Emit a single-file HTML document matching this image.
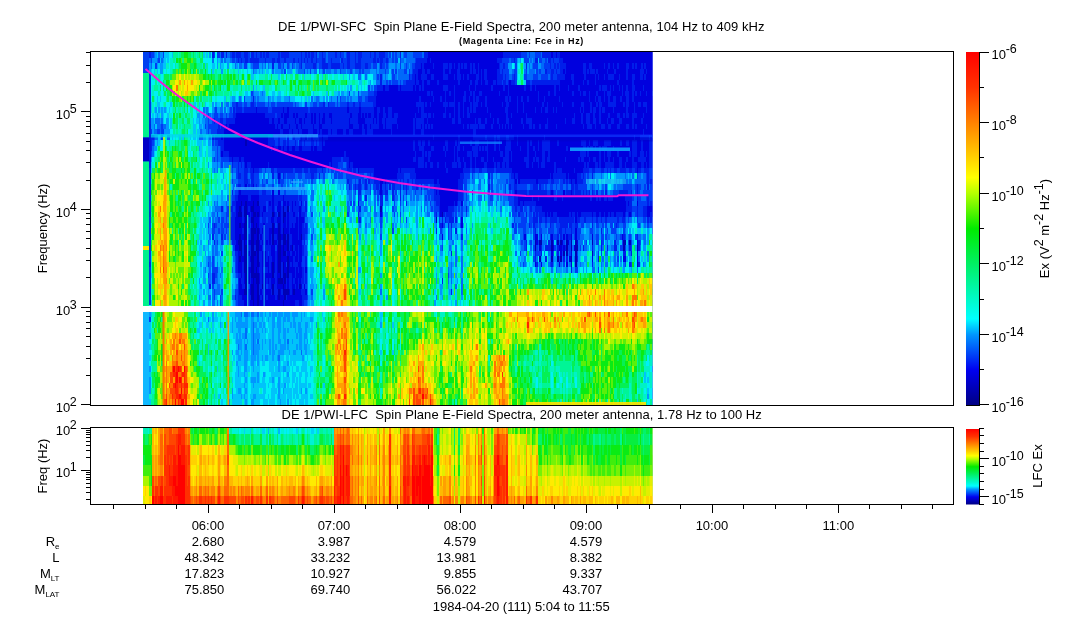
<!DOCTYPE html>
<html><head><meta charset="utf-8"><title>DE 1/PWI Spin Plane E-Field Spectra</title>
<style>html,body{margin:0;padding:0;background:#fff}svg{display:block}text{font-family:"Liberation Sans",sans-serif;fill:#000}</style></head><body>
<svg width="1083" height="620" viewBox="0 0 1083 620">
<defs>
<clipPath id="cpm"><rect x="143.0" y="52.0" width="509.5" height="353.0"/></clipPath>
<clipPath id="cpl"><rect x="143.0" y="428" width="509.5" height="76"/></clipPath>
<linearGradient id="cb" x1="0" y1="0" x2="0" y2="1"><stop offset="0" stop-color="#ff0000"/><stop offset="0.1" stop-color="#ff3200"/><stop offset="0.2" stop-color="#ff8200"/><stop offset="0.3" stop-color="#ffd200"/><stop offset="0.355" stop-color="#ffff00"/><stop offset="0.4" stop-color="#b4ff00"/><stop offset="0.5" stop-color="#00eb00"/><stop offset="0.6" stop-color="#00f064"/><stop offset="0.7" stop-color="#00fac8"/><stop offset="0.755" stop-color="#00ffff"/><stop offset="0.8" stop-color="#0096ff"/><stop offset="0.9" stop-color="#0000f0"/><stop offset="1.0" stop-color="#000082"/></linearGradient>
</defs>
<rect width="1083" height="620" fill="#fff"/>
<g clip-path="url(#cpm)" shape-rendering="crispEdges">
<rect x="143.0" y="52.0" width="509.5" height="353.0" fill="#0028e0"/>
<path fill="#0000b5" d="M237.5,212h1.5v5h-1.5M237.5,240h1.5v5h-1.5M239,206h1.5v11h-1.5M239,223h1.5v5h-1.5M239,234h1.5v17h-1.5M239,256h1.5v6h-1.5M240.5,201h1.5v5h-1.5M240.5,212h1.5v5h-1.5M240.5,240h1.5v16h-1.5M243.5,206h1.5v11h-1.5M243.5,223h1.5v50h-1.5M243.5,289h1.5v6h-1.5M245,140h1.5v6h-1.5M245,201h1.5v39h-1.5M245,245h1.5v50h-1.5M246.5,245h1.5v6h-1.5M251,206h1.5v6h-1.5M251,217h1.5v6h-1.5M251,228h1.5v50h-1.5M251,284h1.5v16h-1.5M252.5,201h1.5v105h-1.5M254,212h1.5v5h-1.5M254,228h1.5v6h-1.5M254,251h1.5v5h-1.5M254,273h1.5v5h-1.5M255.5,223h1.5v5h-1.5M255.5,240h1.5v11h-1.5M255.5,267h1.5v17h-1.5M257,201h1.5v5h-1.5M257,212h1.5v5h-1.5M257,228h1.5v39h-1.5M257,273h1.5v33h-1.5M261.5,284h1.5v5h-1.5M272,212h1.5v5h-1.5M272,223h1.5v22h-1.5M272,262h1.5v16h-1.5M272,284h1.5v11h-1.5M278,212h1.5v5h-1.5M278,223h1.5v50h-1.5M278,278h1.5v6h-1.5M278,289h1.5v11h-1.5M279.5,234h1.5v50h-1.5M281,278h1.5v6h-1.5M282.5,206h1.5v17h-1.5M282.5,228h1.5v28h-1.5M282.5,262h1.5v16h-1.5M282.5,284h1.5v11h-1.5M282.5,300h1.5v6h-1.5M284,212h1.5v5h-1.5M284,234h1.5v11h-1.5M284,251h1.5v5h-1.5M284,273h1.5v11h-1.5M284,289h1.5v11h-1.5M285.5,289h1.5v6h-1.5M287,206h1.5v6h-1.5M287,234h1.5v17h-1.5M287,256h1.5v22h-1.5M287,289h1.5v6h-1.5M291.5,245h1.5v6h-1.5M293,289h1.5v6h-1.5M299,284h1.5v5h-1.5M300.5,234h1.5v6h-1.5M380,206h1.5v6h-1.5M435.5,217h1.5v6h-1.5M441.5,212h1.5v5h-1.5M534.5,240h1.5v11h-1.5M539,240h1.5v5h-1.5M539,256h1.5v6h-1.5M540.5,240h1.5v5h-1.5M551,240h1.5v11h-1.5M551,256h1.5v6h-1.5M557,240h1.5v5h-1.5M557,256h1.5v6h-1.5M560,240h1.5v5h-1.5M560,256h1.5v6h-1.5M563,251h1.5v5h-1.5M566,240h1.5v16h-1.5M570.5,240h1.5v11h-1.5M570.5,256h1.5v6h-1.5M575,240h1.5v27h-1.5M576.5,245h1.5v6h-1.5M591.5,240h1.5v5h-1.5M591.5,251h1.5v5h-1.5M623,240h1.5v11h-1.5M624.5,240h1.5v5h-1.5M629,240h1.5v5h-1.5M636.5,245h1.5v6h-1.5M636.5,262h1.5v5h-1.5"/>
<path fill="#0000de" d="M143,135h1.5v16h-1.5M144.5,135h1.5v16h-1.5M146,135h1.5v16h-1.5M147.5,135h1.5v16h-1.5M149,135h1.5v16h-1.5M221,135h1.5v5h-1.5M221,151h1.5v6h-1.5M224,129h1.5v22h-1.5M225.5,124h1.5v27h-1.5M227,129h1.5v22h-1.5M228.5,124h1.5v33h-1.5M230,124h1.5v33h-1.5M231.5,124h1.5v38h-1.5M233,124h1.5v33h-1.5M234.5,118h1.5v39h-1.5M234.5,217h1.5v23h-1.5M234.5,245h1.5v6h-1.5M236,113h1.5v44h-1.5M236,201h1.5v50h-1.5M237.5,113h1.5v44h-1.5M237.5,195h1.5v17h-1.5M237.5,217h1.5v23h-1.5M237.5,245h1.5v28h-1.5M239,113h1.5v49h-1.5M239,190h1.5v16h-1.5M239,217h1.5v6h-1.5M239,228h1.5v6h-1.5M239,251h1.5v5h-1.5M239,262h1.5v11h-1.5M239,278h1.5v17h-1.5M240.5,113h1.5v44h-1.5M240.5,195h1.5v6h-1.5M240.5,206h1.5v6h-1.5M240.5,217h1.5v23h-1.5M240.5,256h1.5v22h-1.5M240.5,284h1.5v11h-1.5M242,113h1.5v44h-1.5M242,195h1.5v11h-1.5M242,223h1.5v5h-1.5M242,234h1.5v6h-1.5M242,256h1.5v6h-1.5M242,289h1.5v11h-1.5M243.5,113h1.5v49h-1.5M243.5,195h1.5v11h-1.5M243.5,217h1.5v6h-1.5M243.5,273h1.5v11h-1.5M243.5,295h1.5v11h-1.5M245,113h1.5v27h-1.5M245,146h1.5v22h-1.5M245,184h1.5v6h-1.5M245,195h1.5v6h-1.5M245,240h1.5v5h-1.5M245,295h1.5v16h-1.5M246.5,113h1.5v49h-1.5M246.5,195h1.5v28h-1.5M246.5,228h1.5v17h-1.5M246.5,251h1.5v60h-1.5M248,113h1.5v49h-1.5M248,201h1.5v5h-1.5M248,212h1.5v5h-1.5M248,240h1.5v5h-1.5M248,251h1.5v5h-1.5M248,267h1.5v17h-1.5M249.5,113h1.5v49h-1.5M249.5,201h1.5v11h-1.5M249.5,240h1.5v5h-1.5M249.5,256h1.5v6h-1.5M249.5,267h1.5v6h-1.5M249.5,284h1.5v11h-1.5M249.5,300h1.5v11h-1.5M251,113h1.5v55h-1.5M251,195h1.5v11h-1.5M251,212h1.5v5h-1.5M251,223h1.5v5h-1.5M251,278h1.5v6h-1.5M251,300h1.5v11h-1.5M252.5,113h1.5v60h-1.5M252.5,184h1.5v6h-1.5M252.5,195h1.5v6h-1.5M252.5,306h1.5v5h-1.5M254,113h1.5v55h-1.5M254,195h1.5v17h-1.5M254,217h1.5v11h-1.5M254,234h1.5v11h-1.5M254,256h1.5v17h-1.5M254,278h1.5v33h-1.5M255.5,107h1.5v61h-1.5M255.5,195h1.5v28h-1.5M255.5,228h1.5v12h-1.5M255.5,251h1.5v16h-1.5M255.5,284h1.5v27h-1.5M257,113h1.5v55h-1.5M257,195h1.5v6h-1.5M257,206h1.5v6h-1.5M257,217h1.5v11h-1.5M257,267h1.5v6h-1.5M257,306h1.5v5h-1.5M258.5,113h1.5v55h-1.5M258.5,206h1.5v11h-1.5M258.5,228h1.5v6h-1.5M258.5,240h1.5v11h-1.5M258.5,262h1.5v5h-1.5M258.5,273h1.5v11h-1.5M258.5,295h1.5v16h-1.5M260,113h1.5v55h-1.5M260,234h1.5v6h-1.5M260,245h1.5v6h-1.5M260,289h1.5v6h-1.5M260,300h1.5v11h-1.5M261.5,113h1.5v55h-1.5M261.5,212h1.5v5h-1.5M261.5,228h1.5v6h-1.5M261.5,240h1.5v5h-1.5M261.5,251h1.5v33h-1.5M261.5,295h1.5v16h-1.5M263,113h1.5v55h-1.5M263,206h1.5v6h-1.5M263,223h1.5v22h-1.5M263,251h1.5v16h-1.5M263,273h1.5v38h-1.5M264.5,118h1.5v50h-1.5M264.5,206h1.5v6h-1.5M264.5,251h1.5v16h-1.5M264.5,273h1.5v38h-1.5M266,118h1.5v50h-1.5M266,240h1.5v5h-1.5M266,262h1.5v5h-1.5M266,273h1.5v5h-1.5M266,289h1.5v6h-1.5M266,300h1.5v11h-1.5M267.5,118h1.5v17h-1.5M267.5,146h1.5v16h-1.5M267.5,256h1.5v28h-1.5M267.5,289h1.5v22h-1.5M269,124h1.5v11h-1.5M269,146h1.5v22h-1.5M269,201h1.5v5h-1.5M269,228h1.5v17h-1.5M269,273h1.5v5h-1.5M269,289h1.5v22h-1.5M270.5,124h1.5v11h-1.5M270.5,151h1.5v17h-1.5M270.5,217h1.5v6h-1.5M270.5,228h1.5v6h-1.5M270.5,245h1.5v11h-1.5M270.5,262h1.5v27h-1.5M270.5,295h1.5v16h-1.5M272,118h1.5v17h-1.5M272,146h1.5v22h-1.5M272,190h1.5v22h-1.5M272,217h1.5v6h-1.5M272,245h1.5v17h-1.5M272,278h1.5v6h-1.5M272,295h1.5v16h-1.5M273.5,124h1.5v11h-1.5M273.5,151h1.5v17h-1.5M273.5,212h1.5v5h-1.5M273.5,223h1.5v11h-1.5M273.5,240h1.5v33h-1.5M273.5,278h1.5v6h-1.5M273.5,295h1.5v16h-1.5M275,129h1.5v6h-1.5M275,151h1.5v17h-1.5M275,228h1.5v6h-1.5M275,240h1.5v5h-1.5M275,300h1.5v11h-1.5M276.5,124h1.5v11h-1.5M276.5,151h1.5v17h-1.5M276.5,206h1.5v6h-1.5M276.5,217h1.5v6h-1.5M276.5,228h1.5v12h-1.5M276.5,245h1.5v44h-1.5M276.5,295h1.5v16h-1.5M278,118h1.5v6h-1.5M278,129h1.5v6h-1.5M278,146h1.5v22h-1.5M278,173h1.5v6h-1.5M278,190h1.5v5h-1.5M278,201h1.5v11h-1.5M278,217h1.5v6h-1.5M278,273h1.5v5h-1.5M278,284h1.5v5h-1.5M278,300h1.5v11h-1.5M279.5,146h1.5v22h-1.5M279.5,201h1.5v33h-1.5M279.5,284h1.5v27h-1.5M281,113h1.5v5h-1.5M281,124h1.5v5h-1.5M281,151h1.5v17h-1.5M281,234h1.5v6h-1.5M281,245h1.5v17h-1.5M281,284h1.5v5h-1.5M281,295h1.5v16h-1.5M282.5,107h1.5v6h-1.5M282.5,129h1.5v6h-1.5M282.5,146h1.5v22h-1.5M282.5,195h1.5v11h-1.5M282.5,223h1.5v5h-1.5M282.5,256h1.5v6h-1.5M282.5,278h1.5v6h-1.5M282.5,295h1.5v5h-1.5M282.5,306h1.5v5h-1.5M284,113h1.5v11h-1.5M284,129h1.5v6h-1.5M284,151h1.5v17h-1.5M284,201h1.5v5h-1.5M284,217h1.5v17h-1.5M284,245h1.5v6h-1.5M284,256h1.5v17h-1.5M284,284h1.5v5h-1.5M284,300h1.5v11h-1.5M285.5,113h1.5v11h-1.5M285.5,129h1.5v6h-1.5M285.5,151h1.5v17h-1.5M285.5,228h1.5v6h-1.5M285.5,240h1.5v11h-1.5M285.5,256h1.5v6h-1.5M285.5,267h1.5v11h-1.5M285.5,300h1.5v11h-1.5M287,107h1.5v11h-1.5M287,129h1.5v6h-1.5M287,146h1.5v22h-1.5M287,201h1.5v5h-1.5M287,212h1.5v22h-1.5M287,251h1.5v5h-1.5M287,278h1.5v11h-1.5M287,295h1.5v16h-1.5M288.5,124h1.5v5h-1.5M288.5,151h1.5v17h-1.5M288.5,251h1.5v22h-1.5M288.5,289h1.5v22h-1.5M290,151h1.5v17h-1.5M290,228h1.5v6h-1.5M290,245h1.5v6h-1.5M290,256h1.5v6h-1.5M290,267h1.5v6h-1.5M290,295h1.5v16h-1.5M291.5,129h1.5v6h-1.5M291.5,146h1.5v22h-1.5M291.5,201h1.5v11h-1.5M291.5,223h1.5v22h-1.5M291.5,251h1.5v60h-1.5M293,113h1.5v5h-1.5M293,146h1.5v22h-1.5M293,212h1.5v5h-1.5M293,228h1.5v17h-1.5M293,251h1.5v5h-1.5M293,267h1.5v11h-1.5M293,284h1.5v5h-1.5M293,295h1.5v16h-1.5M294.5,118h1.5v6h-1.5M294.5,151h1.5v17h-1.5M294.5,201h1.5v5h-1.5M294.5,223h1.5v28h-1.5M294.5,256h1.5v6h-1.5M294.5,278h1.5v6h-1.5M294.5,289h1.5v11h-1.5M296,113h1.5v5h-1.5M296,124h1.5v5h-1.5M296,151h1.5v17h-1.5M296,217h1.5v45h-1.5M296,267h1.5v33h-1.5M297.5,129h1.5v6h-1.5M297.5,151h1.5v17h-1.5M297.5,240h1.5v5h-1.5M297.5,262h1.5v5h-1.5M297.5,273h1.5v5h-1.5M297.5,289h1.5v11h-1.5M299,118h1.5v6h-1.5M299,146h1.5v22h-1.5M299,206h1.5v78h-1.5M299,289h1.5v17h-1.5M300.5,118h1.5v11h-1.5M300.5,146h1.5v22h-1.5M300.5,201h1.5v5h-1.5M300.5,217h1.5v17h-1.5M300.5,240h1.5v22h-1.5M300.5,267h1.5v11h-1.5M300.5,284h1.5v5h-1.5M300.5,295h1.5v11h-1.5M302,129h1.5v6h-1.5M302,151h1.5v17h-1.5M302,217h1.5v6h-1.5M303.5,118h1.5v6h-1.5M303.5,129h1.5v6h-1.5M303.5,151h1.5v17h-1.5M303.5,284h1.5v5h-1.5M305,113h1.5v5h-1.5M305,129h1.5v6h-1.5M305,151h1.5v17h-1.5M305,267h1.5v6h-1.5M305,289h1.5v6h-1.5M306.5,129h1.5v6h-1.5M306.5,151h1.5v17h-1.5M308,151h1.5v17h-1.5M309.5,151h1.5v17h-1.5M311,113h1.5v11h-1.5M311,146h1.5v22h-1.5M312.5,124h1.5v11h-1.5M312.5,151h1.5v17h-1.5M314,113h1.5v11h-1.5M314,129h1.5v6h-1.5M314,146h1.5v22h-1.5M315.5,129h1.5v6h-1.5M315.5,146h1.5v22h-1.5M317,151h1.5v17h-1.5M318.5,113h1.5v22h-1.5M318.5,151h1.5v17h-1.5M320,124h1.5v5h-1.5M320,151h1.5v17h-1.5M321.5,118h1.5v6h-1.5M321.5,129h1.5v39h-1.5M323,113h1.5v11h-1.5M323,129h1.5v6h-1.5M323,146h1.5v22h-1.5M324.5,129h1.5v6h-1.5M324.5,140h1.5v28h-1.5M326,129h1.5v6h-1.5M326,140h1.5v28h-1.5M327.5,135h1.5v33h-1.5M329,113h1.5v5h-1.5M329,135h1.5v27h-1.5M330.5,113h1.5v11h-1.5M330.5,129h1.5v39h-1.5M332,135h1.5v22h-1.5M333.5,135h1.5v22h-1.5M335,135h1.5v22h-1.5M336.5,129h1.5v28h-1.5M338,129h1.5v28h-1.5M339.5,129h1.5v28h-1.5M341,129h1.5v28h-1.5M342.5,135h1.5v22h-1.5M344,135h1.5v16h-1.5M345.5,129h1.5v28h-1.5M347,107h1.5v6h-1.5M347,129h1.5v28h-1.5M348.5,118h1.5v11h-1.5M348.5,135h1.5v33h-1.5M350,113h1.5v5h-1.5M350,124h1.5v5h-1.5M350,135h1.5v27h-1.5M351.5,124h1.5v5h-1.5M351.5,135h1.5v27h-1.5M353,129h1.5v39h-1.5M354.5,129h1.5v39h-1.5M356,129h1.5v39h-1.5M357.5,113h1.5v11h-1.5M357.5,129h1.5v44h-1.5M357.5,201h1.5v5h-1.5M359,107h1.5v61h-1.5M360.5,118h1.5v50h-1.5M362,113h1.5v11h-1.5M362,135h1.5v33h-1.5M363.5,118h1.5v11h-1.5M363.5,135h1.5v33h-1.5M365,113h1.5v5h-1.5M365,124h1.5v44h-1.5M366.5,135h1.5v33h-1.5M368,113h1.5v5h-1.5M368,135h1.5v33h-1.5M369.5,113h1.5v5h-1.5M369.5,124h1.5v5h-1.5M369.5,135h1.5v33h-1.5M371,135h1.5v33h-1.5M372.5,118h1.5v6h-1.5M372.5,129h1.5v39h-1.5M374,107h1.5v11h-1.5M374,129h1.5v50h-1.5M375.5,96h1.5v28h-1.5M375.5,129h1.5v50h-1.5M377,91h1.5v16h-1.5M377,129h1.5v50h-1.5M378.5,91h1.5v16h-1.5M378.5,113h1.5v66h-1.5M380,91h1.5v104h-1.5M380,212h1.5v5h-1.5M381.5,91h1.5v27h-1.5M381.5,124h1.5v60h-1.5M383,85h1.5v22h-1.5M383,129h1.5v50h-1.5M384.5,91h1.5v22h-1.5M384.5,118h1.5v66h-1.5M386,91h1.5v27h-1.5M386,129h1.5v50h-1.5M387.5,91h1.5v16h-1.5M387.5,129h1.5v50h-1.5M389,85h1.5v22h-1.5M389,129h1.5v50h-1.5M390.5,85h1.5v22h-1.5M390.5,135h1.5v44h-1.5M392,85h1.5v33h-1.5M392,124h1.5v55h-1.5M393.5,85h1.5v28h-1.5M393.5,124h1.5v55h-1.5M395,85h1.5v28h-1.5M395,124h1.5v55h-1.5M396.5,85h1.5v28h-1.5M396.5,118h1.5v6h-1.5M396.5,129h1.5v44h-1.5M398,91h1.5v77h-1.5M399.5,85h1.5v88h-1.5M401,91h1.5v77h-1.5M402.5,91h1.5v77h-1.5M404,91h1.5v77h-1.5M405.5,91h1.5v77h-1.5M407,91h1.5v77h-1.5M408.5,91h1.5v77h-1.5M410,91h1.5v77h-1.5M411.5,91h1.5v77h-1.5M413,85h1.5v33h-1.5M413,135h1.5v5h-1.5M413,151h1.5v6h-1.5M413,162h1.5v6h-1.5M414.5,74h1.5v11h-1.5M414.5,91h1.5v22h-1.5M414.5,118h1.5v33h-1.5M414.5,162h1.5v11h-1.5M416,85h1.5v17h-1.5M416,107h1.5v11h-1.5M416,129h1.5v50h-1.5M417.5,69h1.5v11h-1.5M417.5,85h1.5v17h-1.5M417.5,113h1.5v5h-1.5M417.5,129h1.5v11h-1.5M417.5,146h1.5v11h-1.5M417.5,168h1.5v11h-1.5M419,69h1.5v16h-1.5M419,91h1.5v5h-1.5M419,107h1.5v11h-1.5M419,129h1.5v11h-1.5M419,151h1.5v6h-1.5M419,168h1.5v11h-1.5M420.5,63h1.5v11h-1.5M420.5,80h1.5v22h-1.5M420.5,124h1.5v5h-1.5M420.5,135h1.5v11h-1.5M420.5,151h1.5v6h-1.5M420.5,168h1.5v11h-1.5M422,91h1.5v11h-1.5M422,135h1.5v5h-1.5M422,168h1.5v11h-1.5M423.5,63h1.5v6h-1.5M423.5,80h1.5v33h-1.5M423.5,118h1.5v22h-1.5M423.5,146h1.5v33h-1.5M425,63h1.5v11h-1.5M425,80h1.5v22h-1.5M425,107h1.5v6h-1.5M425,118h1.5v6h-1.5M425,129h1.5v22h-1.5M425,157h1.5v5h-1.5M425,168h1.5v11h-1.5M426.5,58h1.5v11h-1.5M426.5,74h1.5v6h-1.5M426.5,85h1.5v6h-1.5M426.5,96h1.5v22h-1.5M426.5,124h1.5v55h-1.5M428,52h1.5v17h-1.5M428,74h1.5v6h-1.5M428,85h1.5v6h-1.5M428,96h1.5v17h-1.5M428,118h1.5v6h-1.5M428,129h1.5v11h-1.5M428,146h1.5v5h-1.5M428,162h1.5v17h-1.5M429.5,52h1.5v6h-1.5M429.5,63h1.5v39h-1.5M429.5,107h1.5v6h-1.5M429.5,118h1.5v33h-1.5M429.5,157h1.5v5h-1.5M429.5,168h1.5v11h-1.5M431,52h1.5v22h-1.5M431,80h1.5v11h-1.5M431,96h1.5v28h-1.5M431,129h1.5v17h-1.5M431,151h1.5v11h-1.5M431,168h1.5v11h-1.5M432.5,52h1.5v11h-1.5M432.5,69h1.5v5h-1.5M432.5,80h1.5v16h-1.5M432.5,102h1.5v11h-1.5M432.5,118h1.5v17h-1.5M432.5,140h1.5v6h-1.5M432.5,151h1.5v28h-1.5M434,52h1.5v132h-1.5M435.5,52h1.5v132h-1.5M435.5,190h1.5v5h-1.5M437,52h1.5v28h-1.5M437,85h1.5v77h-1.5M437,168h1.5v11h-1.5M438.5,52h1.5v132h-1.5M438.5,190h1.5v5h-1.5M440,52h1.5v44h-1.5M440,102h1.5v115h-1.5M441.5,52h1.5v160h-1.5M441.5,223h1.5v5h-1.5M441.5,234h1.5v6h-1.5M443,52h1.5v11h-1.5M443,80h1.5v5h-1.5M443,91h1.5v11h-1.5M443,107h1.5v6h-1.5M443,118h1.5v28h-1.5M443,151h1.5v61h-1.5M444.5,52h1.5v11h-1.5M444.5,69h1.5v5h-1.5M444.5,80h1.5v5h-1.5M444.5,118h1.5v22h-1.5M444.5,146h1.5v5h-1.5M444.5,157h1.5v5h-1.5M444.5,168h1.5v44h-1.5M446,52h1.5v11h-1.5M446,69h1.5v5h-1.5M446,80h1.5v5h-1.5M446,91h1.5v11h-1.5M446,107h1.5v33h-1.5M446,151h1.5v17h-1.5M446,173h1.5v39h-1.5M447.5,52h1.5v154h-1.5M449,52h1.5v11h-1.5M449,74h1.5v17h-1.5M449,96h1.5v6h-1.5M449,107h1.5v6h-1.5M449,118h1.5v88h-1.5M450.5,52h1.5v11h-1.5M450.5,69h1.5v33h-1.5M450.5,107h1.5v99h-1.5M452,52h1.5v50h-1.5M452,107h1.5v11h-1.5M452,124h1.5v38h-1.5M452,168h1.5v38h-1.5M453.5,52h1.5v11h-1.5M453.5,69h1.5v5h-1.5M453.5,80h1.5v5h-1.5M453.5,124h1.5v22h-1.5M453.5,168h1.5v33h-1.5M455,52h1.5v88h-1.5M455,146h1.5v16h-1.5M455,168h1.5v38h-1.5M456.5,52h1.5v17h-1.5M456.5,80h1.5v66h-1.5M456.5,162h1.5v39h-1.5M458,52h1.5v11h-1.5M458,85h1.5v17h-1.5M458,124h1.5v11h-1.5M458,151h1.5v6h-1.5M458,168h1.5v11h-1.5M459.5,52h1.5v22h-1.5M459.5,80h1.5v38h-1.5M459.5,124h1.5v38h-1.5M459.5,168h1.5v5h-1.5M461,52h1.5v11h-1.5M461,69h1.5v104h-1.5M461,201h1.5v5h-1.5M461,217h1.5v11h-1.5M462.5,52h1.5v22h-1.5M462.5,80h1.5v16h-1.5M462.5,118h1.5v6h-1.5M462.5,129h1.5v17h-1.5M462.5,151h1.5v6h-1.5M462.5,162h1.5v6h-1.5M464,52h1.5v11h-1.5M464,69h1.5v22h-1.5M464,102h1.5v60h-1.5M465.5,52h1.5v11h-1.5M465.5,69h1.5v99h-1.5M467,52h1.5v22h-1.5M467,80h1.5v27h-1.5M467,118h1.5v6h-1.5M467,129h1.5v22h-1.5M467,157h1.5v11h-1.5M468.5,52h1.5v33h-1.5M468.5,91h1.5v5h-1.5M468.5,102h1.5v11h-1.5M468.5,118h1.5v33h-1.5M468.5,157h1.5v11h-1.5M470,52h1.5v11h-1.5M470,74h1.5v6h-1.5M470,85h1.5v6h-1.5M470,96h1.5v6h-1.5M470,113h1.5v11h-1.5M470,129h1.5v11h-1.5M470,146h1.5v5h-1.5M471.5,52h1.5v72h-1.5M471.5,129h1.5v17h-1.5M471.5,151h1.5v17h-1.5M473,52h1.5v11h-1.5M473,74h1.5v17h-1.5M473,113h1.5v11h-1.5M473,140h1.5v6h-1.5M473,157h1.5v11h-1.5M474.5,52h1.5v17h-1.5M474.5,74h1.5v6h-1.5M474.5,91h1.5v11h-1.5M474.5,113h1.5v5h-1.5M476,52h1.5v22h-1.5M476,85h1.5v11h-1.5M476,107h1.5v17h-1.5M476,129h1.5v6h-1.5M476,157h1.5v11h-1.5M477.5,52h1.5v11h-1.5M477.5,80h1.5v16h-1.5M477.5,102h1.5v16h-1.5M477.5,124h1.5v11h-1.5M477.5,146h1.5v22h-1.5M479,52h1.5v39h-1.5M479,96h1.5v22h-1.5M479,129h1.5v6h-1.5M479,140h1.5v6h-1.5M479,151h1.5v17h-1.5M480.5,52h1.5v17h-1.5M480.5,85h1.5v6h-1.5M480.5,96h1.5v6h-1.5M480.5,107h1.5v17h-1.5M480.5,129h1.5v6h-1.5M480.5,140h1.5v17h-1.5M480.5,162h1.5v6h-1.5M482,52h1.5v72h-1.5M482,129h1.5v6h-1.5M482,140h1.5v6h-1.5M482,151h1.5v6h-1.5M482,162h1.5v6h-1.5M483.5,52h1.5v17h-1.5M483.5,80h1.5v44h-1.5M483.5,129h1.5v6h-1.5M483.5,140h1.5v22h-1.5M485,52h1.5v17h-1.5M485,85h1.5v11h-1.5M485,107h1.5v11h-1.5M485,124h1.5v11h-1.5M485,140h1.5v6h-1.5M485,151h1.5v11h-1.5M486.5,52h1.5v28h-1.5M486.5,85h1.5v22h-1.5M486.5,113h1.5v22h-1.5M486.5,162h1.5v6h-1.5M488,52h1.5v83h-1.5M488,140h1.5v28h-1.5M489.5,52h1.5v61h-1.5M489.5,118h1.5v17h-1.5M489.5,140h1.5v28h-1.5M491,52h1.5v33h-1.5M491,91h1.5v33h-1.5M491,129h1.5v6h-1.5M491,140h1.5v28h-1.5M492.5,52h1.5v28h-1.5M492.5,85h1.5v33h-1.5M492.5,124h1.5v11h-1.5M492.5,140h1.5v17h-1.5M492.5,162h1.5v6h-1.5M494,52h1.5v28h-1.5M494,85h1.5v50h-1.5M494,151h1.5v11h-1.5M495.5,52h1.5v83h-1.5M495.5,140h1.5v28h-1.5M497,52h1.5v6h-1.5M497,63h1.5v6h-1.5M497,85h1.5v33h-1.5M497,124h1.5v11h-1.5M497,140h1.5v22h-1.5M498.5,52h1.5v6h-1.5M498.5,85h1.5v6h-1.5M498.5,96h1.5v28h-1.5M498.5,129h1.5v6h-1.5M498.5,151h1.5v11h-1.5M500,52h1.5v6h-1.5M500,85h1.5v50h-1.5M500,140h1.5v11h-1.5M500,157h1.5v11h-1.5M501.5,52h1.5v6h-1.5M501.5,85h1.5v17h-1.5M501.5,107h1.5v17h-1.5M501.5,129h1.5v6h-1.5M501.5,140h1.5v11h-1.5M501.5,157h1.5v5h-1.5M503,91h1.5v44h-1.5M503,140h1.5v17h-1.5M504.5,85h1.5v11h-1.5M504.5,102h1.5v5h-1.5M504.5,113h1.5v11h-1.5M504.5,129h1.5v6h-1.5M504.5,140h1.5v6h-1.5M504.5,162h1.5v6h-1.5M506,85h1.5v11h-1.5M506,124h1.5v11h-1.5M507.5,96h1.5v6h-1.5M507.5,107h1.5v11h-1.5M507.5,129h1.5v6h-1.5M509,80h1.5v16h-1.5M509,102h1.5v33h-1.5M509,151h1.5v17h-1.5M510.5,85h1.5v28h-1.5M510.5,118h1.5v6h-1.5M510.5,129h1.5v6h-1.5M510.5,140h1.5v11h-1.5M510.5,162h1.5v6h-1.5M512,85h1.5v50h-1.5M512,140h1.5v33h-1.5M513.5,85h1.5v94h-1.5M515,85h1.5v88h-1.5M515,179h1.5v5h-1.5M515,190h1.5v5h-1.5M516.5,85h1.5v11h-1.5M516.5,113h1.5v22h-1.5M516.5,146h1.5v27h-1.5M518,85h1.5v99h-1.5M518,195h1.5v11h-1.5M519.5,85h1.5v61h-1.5M519.5,151h1.5v28h-1.5M519.5,195h1.5v6h-1.5M521,85h1.5v11h-1.5M521,102h1.5v16h-1.5M521,124h1.5v55h-1.5M521,195h1.5v6h-1.5M522.5,85h1.5v17h-1.5M522.5,113h1.5v11h-1.5M522.5,129h1.5v50h-1.5M522.5,195h1.5v11h-1.5M524,91h1.5v66h-1.5M524,162h1.5v17h-1.5M524,195h1.5v6h-1.5M524,234h1.5v6h-1.5M525.5,85h1.5v28h-1.5M525.5,124h1.5v33h-1.5M525.5,168h1.5v11h-1.5M525.5,195h1.5v6h-1.5M527,85h1.5v11h-1.5M527,102h1.5v16h-1.5M527,124h1.5v16h-1.5M527,168h1.5v11h-1.5M527,195h1.5v6h-1.5M528.5,85h1.5v33h-1.5M528.5,129h1.5v50h-1.5M528.5,195h1.5v6h-1.5M530,91h1.5v27h-1.5M530,129h1.5v11h-1.5M530,146h1.5v33h-1.5M530,195h1.5v6h-1.5M531.5,85h1.5v77h-1.5M531.5,168h1.5v11h-1.5M533,85h1.5v39h-1.5M533,129h1.5v17h-1.5M533,151h1.5v6h-1.5M533,162h1.5v17h-1.5M533,195h1.5v6h-1.5M534.5,91h1.5v16h-1.5M534.5,113h1.5v38h-1.5M534.5,157h1.5v22h-1.5M534.5,195h1.5v6h-1.5M534.5,234h1.5v6h-1.5M534.5,262h1.5v5h-1.5M536,85h1.5v72h-1.5M536,162h1.5v22h-1.5M536,195h1.5v11h-1.5M536,234h1.5v11h-1.5M537.5,85h1.5v6h-1.5M537.5,102h1.5v38h-1.5M537.5,151h1.5v6h-1.5M537.5,168h1.5v11h-1.5M537.5,201h1.5v5h-1.5M539,85h1.5v39h-1.5M539,129h1.5v50h-1.5M539,195h1.5v11h-1.5M539,245h1.5v6h-1.5M540.5,85h1.5v22h-1.5M540.5,113h1.5v49h-1.5M540.5,168h1.5v11h-1.5M540.5,195h1.5v11h-1.5M540.5,234h1.5v6h-1.5M540.5,262h1.5v5h-1.5M542,85h1.5v17h-1.5M542,107h1.5v33h-1.5M542,168h1.5v11h-1.5M542,195h1.5v17h-1.5M543.5,85h1.5v11h-1.5M543.5,102h1.5v33h-1.5M543.5,168h1.5v11h-1.5M543.5,195h1.5v17h-1.5M545,85h1.5v22h-1.5M545,113h1.5v11h-1.5M545,129h1.5v11h-1.5M545,151h1.5v28h-1.5M545,195h1.5v22h-1.5M546.5,85h1.5v17h-1.5M546.5,113h1.5v5h-1.5M546.5,129h1.5v11h-1.5M546.5,151h1.5v6h-1.5M546.5,162h1.5v17h-1.5M546.5,195h1.5v17h-1.5M548,85h1.5v6h-1.5M548,96h1.5v44h-1.5M548,162h1.5v17h-1.5M548,195h1.5v22h-1.5M549.5,85h1.5v88h-1.5M549.5,195h1.5v17h-1.5M551,52h1.5v6h-1.5M551,85h1.5v94h-1.5M551,190h1.5v27h-1.5M551,234h1.5v6h-1.5M551,251h1.5v5h-1.5M552.5,85h1.5v22h-1.5M552.5,113h1.5v60h-1.5M552.5,195h1.5v17h-1.5M552.5,245h1.5v6h-1.5M554,96h1.5v66h-1.5M554,201h1.5v11h-1.5M555.5,52h1.5v6h-1.5M555.5,85h1.5v22h-1.5M555.5,113h1.5v11h-1.5M555.5,129h1.5v44h-1.5M555.5,201h1.5v11h-1.5M557,85h1.5v55h-1.5M557,146h1.5v22h-1.5M557,195h1.5v22h-1.5M558.5,91h1.5v5h-1.5M558.5,102h1.5v66h-1.5M558.5,195h1.5v22h-1.5M558.5,245h1.5v6h-1.5M558.5,262h1.5v5h-1.5M560,52h1.5v6h-1.5M560,80h1.5v88h-1.5M560,195h1.5v22h-1.5M560,245h1.5v11h-1.5M561.5,52h1.5v6h-1.5M561.5,80h1.5v22h-1.5M561.5,107h1.5v66h-1.5M561.5,201h1.5v16h-1.5M561.5,240h1.5v5h-1.5M563,52h1.5v11h-1.5M563,69h1.5v5h-1.5M563,80h1.5v93h-1.5M563,190h1.5v27h-1.5M563,234h1.5v6h-1.5M563,245h1.5v6h-1.5M564.5,52h1.5v11h-1.5M564.5,74h1.5v44h-1.5M564.5,124h1.5v33h-1.5M564.5,162h1.5v11h-1.5M564.5,195h1.5v22h-1.5M566,52h1.5v94h-1.5M566,151h1.5v28h-1.5M566,195h1.5v22h-1.5M566,234h1.5v6h-1.5M566,262h1.5v5h-1.5M567.5,52h1.5v33h-1.5M567.5,91h1.5v82h-1.5M567.5,195h1.5v22h-1.5M567.5,240h1.5v5h-1.5M569,52h1.5v127h-1.5M569,195h1.5v17h-1.5M569,256h1.5v6h-1.5M570.5,52h1.5v22h-1.5M570.5,80h1.5v104h-1.5M570.5,190h1.5v27h-1.5M570.5,234h1.5v6h-1.5M570.5,251h1.5v5h-1.5M570.5,262h1.5v5h-1.5M572,52h1.5v22h-1.5M572,85h1.5v6h-1.5M572,96h1.5v6h-1.5M572,107h1.5v11h-1.5M572,124h1.5v55h-1.5M572,195h1.5v17h-1.5M573.5,52h1.5v61h-1.5M573.5,124h1.5v44h-1.5M573.5,173h1.5v6h-1.5M573.5,195h1.5v17h-1.5M573.5,245h1.5v6h-1.5M575,52h1.5v132h-1.5M575,195h1.5v28h-1.5M575,228h1.5v12h-1.5M576.5,52h1.5v121h-1.5M576.5,195h1.5v17h-1.5M576.5,240h1.5v5h-1.5M578,52h1.5v33h-1.5M578,91h1.5v66h-1.5M578,162h1.5v11h-1.5M578,195h1.5v22h-1.5M579.5,52h1.5v39h-1.5M579.5,96h1.5v11h-1.5M579.5,113h1.5v38h-1.5M579.5,157h1.5v16h-1.5M579.5,195h1.5v22h-1.5M581,52h1.5v50h-1.5M581,107h1.5v6h-1.5M581,124h1.5v16h-1.5M581,146h1.5v5h-1.5M581,162h1.5v11h-1.5M581,195h1.5v17h-1.5M582.5,52h1.5v11h-1.5M582.5,74h1.5v6h-1.5M582.5,85h1.5v6h-1.5M582.5,96h1.5v6h-1.5M582.5,113h1.5v11h-1.5M582.5,129h1.5v11h-1.5M582.5,162h1.5v6h-1.5M582.5,195h1.5v17h-1.5M584,52h1.5v11h-1.5M584,80h1.5v11h-1.5M584,96h1.5v44h-1.5M584,157h1.5v5h-1.5M584,195h1.5v17h-1.5M585.5,52h1.5v61h-1.5M585.5,124h1.5v44h-1.5M585.5,195h1.5v17h-1.5M587,52h1.5v17h-1.5M587,74h1.5v6h-1.5M587,85h1.5v28h-1.5M587,129h1.5v17h-1.5M587,157h1.5v5h-1.5M587,195h1.5v17h-1.5M588.5,52h1.5v11h-1.5M588.5,69h1.5v22h-1.5M588.5,102h1.5v11h-1.5M588.5,129h1.5v11h-1.5M588.5,146h1.5v11h-1.5M588.5,162h1.5v6h-1.5M588.5,195h1.5v17h-1.5M590,52h1.5v11h-1.5M590,74h1.5v28h-1.5M590,113h1.5v11h-1.5M590,129h1.5v17h-1.5M590,151h1.5v17h-1.5M590,201h1.5v11h-1.5M591.5,52h1.5v17h-1.5M591.5,74h1.5v72h-1.5M591.5,151h1.5v17h-1.5M591.5,195h1.5v22h-1.5M591.5,234h1.5v6h-1.5M591.5,256h1.5v6h-1.5M593,52h1.5v17h-1.5M593,74h1.5v33h-1.5M593,124h1.5v16h-1.5M593,146h1.5v11h-1.5M593,162h1.5v6h-1.5M593,195h1.5v17h-1.5M594.5,52h1.5v22h-1.5M594.5,85h1.5v11h-1.5M594.5,102h1.5v5h-1.5M594.5,113h1.5v5h-1.5M594.5,129h1.5v11h-1.5M594.5,151h1.5v6h-1.5M594.5,195h1.5v17h-1.5M596,52h1.5v17h-1.5M596,74h1.5v17h-1.5M596,96h1.5v6h-1.5M596,107h1.5v33h-1.5M596,146h1.5v16h-1.5M596,201h1.5v16h-1.5M597.5,52h1.5v22h-1.5M597.5,80h1.5v16h-1.5M597.5,102h1.5v66h-1.5M597.5,195h1.5v22h-1.5M599,52h1.5v33h-1.5M599,91h1.5v5h-1.5M599,124h1.5v22h-1.5M599,201h1.5v11h-1.5M600.5,52h1.5v50h-1.5M600.5,107h1.5v17h-1.5M600.5,129h1.5v39h-1.5M600.5,195h1.5v22h-1.5M602,52h1.5v33h-1.5M602,91h1.5v16h-1.5M602,113h1.5v11h-1.5M602,129h1.5v17h-1.5M602,151h1.5v17h-1.5M602,195h1.5v22h-1.5M603.5,52h1.5v11h-1.5M603.5,69h1.5v5h-1.5M603.5,80h1.5v5h-1.5M603.5,102h1.5v5h-1.5M603.5,113h1.5v11h-1.5M603.5,129h1.5v11h-1.5M603.5,162h1.5v6h-1.5M603.5,201h1.5v11h-1.5M605,52h1.5v33h-1.5M605,91h1.5v49h-1.5M605,151h1.5v11h-1.5M605,201h1.5v16h-1.5M606.5,52h1.5v17h-1.5M606.5,74h1.5v17h-1.5M606.5,96h1.5v22h-1.5M606.5,124h1.5v16h-1.5M606.5,146h1.5v5h-1.5M606.5,157h1.5v5h-1.5M606.5,195h1.5v22h-1.5M608,52h1.5v11h-1.5M608,69h1.5v5h-1.5M608,80h1.5v11h-1.5M608,107h1.5v6h-1.5M608,118h1.5v6h-1.5M608,129h1.5v11h-1.5M608,146h1.5v5h-1.5M608,201h1.5v11h-1.5M609.5,52h1.5v22h-1.5M609.5,80h1.5v5h-1.5M609.5,96h1.5v6h-1.5M609.5,107h1.5v17h-1.5M609.5,129h1.5v11h-1.5M609.5,146h1.5v5h-1.5M609.5,157h1.5v5h-1.5M609.5,201h1.5v16h-1.5M611,52h1.5v22h-1.5M611,80h1.5v22h-1.5M611,107h1.5v11h-1.5M611,124h1.5v38h-1.5M611,201h1.5v11h-1.5M612.5,52h1.5v11h-1.5M612.5,69h1.5v5h-1.5M612.5,80h1.5v5h-1.5M612.5,91h1.5v5h-1.5M612.5,113h1.5v5h-1.5M612.5,124h1.5v22h-1.5M612.5,151h1.5v6h-1.5M612.5,195h1.5v17h-1.5M614,52h1.5v17h-1.5M614,74h1.5v22h-1.5M614,107h1.5v61h-1.5M614,195h1.5v22h-1.5M615.5,52h1.5v116h-1.5M615.5,195h1.5v17h-1.5M617,52h1.5v11h-1.5M617,69h1.5v11h-1.5M617,85h1.5v28h-1.5M617,118h1.5v6h-1.5M617,129h1.5v22h-1.5M617,157h1.5v11h-1.5M617,195h1.5v17h-1.5M618.5,52h1.5v22h-1.5M618.5,80h1.5v5h-1.5M618.5,91h1.5v22h-1.5M618.5,129h1.5v28h-1.5M618.5,195h1.5v17h-1.5M620,52h1.5v44h-1.5M620,102h1.5v16h-1.5M620,124h1.5v16h-1.5M620,146h1.5v11h-1.5M620,195h1.5v17h-1.5M621.5,52h1.5v33h-1.5M621.5,96h1.5v72h-1.5M621.5,195h1.5v17h-1.5M621.5,234h1.5v6h-1.5M623,52h1.5v50h-1.5M623,107h1.5v6h-1.5M623,118h1.5v50h-1.5M623,195h1.5v22h-1.5M623,256h1.5v6h-1.5M624.5,52h1.5v39h-1.5M624.5,96h1.5v66h-1.5M624.5,201h1.5v11h-1.5M624.5,256h1.5v6h-1.5M626,52h1.5v11h-1.5M626,80h1.5v5h-1.5M626,118h1.5v6h-1.5M626,129h1.5v11h-1.5M626,146h1.5v11h-1.5M626,162h1.5v6h-1.5M627.5,52h1.5v11h-1.5M627.5,69h1.5v22h-1.5M627.5,107h1.5v6h-1.5M627.5,118h1.5v6h-1.5M627.5,129h1.5v11h-1.5M627.5,146h1.5v22h-1.5M627.5,201h1.5v5h-1.5M629,52h1.5v99h-1.5M629,157h1.5v11h-1.5M629,212h1.5v5h-1.5M630.5,52h1.5v116h-1.5M632,52h1.5v11h-1.5M632,69h1.5v5h-1.5M632,102h1.5v11h-1.5M632,129h1.5v11h-1.5M633.5,52h1.5v22h-1.5M633.5,80h1.5v5h-1.5M633.5,91h1.5v11h-1.5M633.5,118h1.5v17h-1.5M633.5,157h1.5v5h-1.5M635,52h1.5v11h-1.5M635,69h1.5v22h-1.5M635,96h1.5v17h-1.5M635,118h1.5v6h-1.5M635,129h1.5v11h-1.5M635,157h1.5v5h-1.5M636.5,52h1.5v121h-1.5M636.5,201h1.5v5h-1.5M636.5,240h1.5v5h-1.5M636.5,251h1.5v11h-1.5M638,52h1.5v50h-1.5M638,107h1.5v50h-1.5M638,162h1.5v6h-1.5M639.5,52h1.5v17h-1.5M639.5,80h1.5v11h-1.5M639.5,96h1.5v6h-1.5M639.5,107h1.5v28h-1.5M639.5,140h1.5v11h-1.5M639.5,162h1.5v6h-1.5M641,52h1.5v11h-1.5M641,80h1.5v38h-1.5M641,124h1.5v11h-1.5M642.5,52h1.5v17h-1.5M642.5,74h1.5v11h-1.5M642.5,91h1.5v11h-1.5M642.5,107h1.5v6h-1.5M642.5,118h1.5v11h-1.5M642.5,140h1.5v11h-1.5M644,52h1.5v11h-1.5M644,69h1.5v5h-1.5M644,80h1.5v22h-1.5M644,107h1.5v28h-1.5M644,140h1.5v17h-1.5M644,162h1.5v6h-1.5M645.5,52h1.5v17h-1.5M645.5,74h1.5v17h-1.5M645.5,96h1.5v6h-1.5M645.5,113h1.5v11h-1.5M645.5,129h1.5v6h-1.5M645.5,140h1.5v11h-1.5M645.5,157h1.5v5h-1.5M647,52h1.5v83h-1.5M647,140h1.5v28h-1.5M647,206h1.5v11h-1.5M648.5,52h1.5v83h-1.5M648.5,206h1.5v11h-1.5M650,52h1.5v83h-1.5M650,206h1.5v6h-1.5M651.5,52h1v39h-1M651.5,96h1v39h-1M651.5,206h1v11h-1"/>
<path fill="#001eea" d="M143,151h1.5v6h-1.5M144.5,151h1.5v6h-1.5M146,151h1.5v6h-1.5M147.5,151h1.5v6h-1.5M149,52h1.5v6h-1.5M149,151h1.5v11h-1.5M150.5,135h1.5v16h-1.5M152,135h1.5v5h-1.5M209,284h1.5v5h-1.5M212,52h1.5v6h-1.5M212,135h1.5v5h-1.5M212,234h1.5v6h-1.5M212,273h1.5v11h-1.5M212,306h1.5v5h-1.5M213.5,118h1.5v6h-1.5M213.5,223h1.5v5h-1.5M213.5,240h1.5v5h-1.5M213.5,273h1.5v11h-1.5M215,135h1.5v5h-1.5M216.5,129h1.5v11h-1.5M218,124h1.5v22h-1.5M219.5,118h1.5v6h-1.5M219.5,129h1.5v17h-1.5M221,52h1.5v6h-1.5M221,118h1.5v17h-1.5M221,140h1.5v11h-1.5M221,206h1.5v6h-1.5M221,234h1.5v6h-1.5M222.5,52h1.5v6h-1.5M222.5,124h1.5v33h-1.5M224,124h1.5v5h-1.5M224,151h1.5v6h-1.5M225.5,52h1.5v6h-1.5M225.5,118h1.5v6h-1.5M225.5,151h1.5v6h-1.5M227,118h1.5v11h-1.5M227,151h1.5v6h-1.5M228.5,118h1.5v6h-1.5M228.5,157h1.5v5h-1.5M228.5,223h1.5v5h-1.5M230,118h1.5v6h-1.5M230,157h1.5v5h-1.5M230,206h1.5v6h-1.5M230,217h1.5v23h-1.5M231.5,52h1.5v6h-1.5M231.5,118h1.5v6h-1.5M231.5,162h1.5v6h-1.5M231.5,190h1.5v5h-1.5M231.5,201h1.5v44h-1.5M233,52h1.5v6h-1.5M233,107h1.5v17h-1.5M233,157h1.5v5h-1.5M233,201h1.5v5h-1.5M233,212h1.5v33h-1.5M234.5,113h1.5v5h-1.5M234.5,157h1.5v5h-1.5M234.5,195h1.5v22h-1.5M234.5,240h1.5v5h-1.5M234.5,251h1.5v5h-1.5M234.5,295h1.5v5h-1.5M236,52h1.5v6h-1.5M236,102h1.5v11h-1.5M236,157h1.5v5h-1.5M236,195h1.5v6h-1.5M236,251h1.5v22h-1.5M237.5,52h1.5v11h-1.5M237.5,107h1.5v6h-1.5M237.5,157h1.5v22h-1.5M237.5,184h1.5v11h-1.5M237.5,273h1.5v33h-1.5M239,52h1.5v6h-1.5M239,107h1.5v6h-1.5M239,173h1.5v6h-1.5M239,184h1.5v6h-1.5M239,273h1.5v5h-1.5M239,295h1.5v16h-1.5M240.5,58h1.5v5h-1.5M240.5,107h1.5v6h-1.5M240.5,157h1.5v11h-1.5M240.5,190h1.5v5h-1.5M240.5,278h1.5v6h-1.5M240.5,295h1.5v16h-1.5M242,157h1.5v5h-1.5M242,190h1.5v5h-1.5M242,206h1.5v17h-1.5M242,228h1.5v6h-1.5M242,240h1.5v16h-1.5M242,262h1.5v27h-1.5M242,300h1.5v11h-1.5M243.5,52h1.5v6h-1.5M243.5,107h1.5v6h-1.5M243.5,162h1.5v33h-1.5M243.5,284h1.5v5h-1.5M243.5,306h1.5v5h-1.5M245,52h1.5v11h-1.5M245,107h1.5v6h-1.5M245,168h1.5v16h-1.5M245,190h1.5v5h-1.5M246.5,52h1.5v11h-1.5M246.5,107h1.5v6h-1.5M246.5,162h1.5v11h-1.5M246.5,179h1.5v5h-1.5M246.5,190h1.5v5h-1.5M246.5,223h1.5v5h-1.5M248,107h1.5v6h-1.5M248,162h1.5v6h-1.5M248,184h1.5v17h-1.5M248,206h1.5v6h-1.5M248,217h1.5v11h-1.5M248,234h1.5v6h-1.5M248,245h1.5v6h-1.5M248,256h1.5v11h-1.5M248,289h1.5v22h-1.5M249.5,58h1.5v5h-1.5M249.5,107h1.5v6h-1.5M249.5,162h1.5v11h-1.5M249.5,190h1.5v11h-1.5M249.5,212h1.5v11h-1.5M249.5,228h1.5v12h-1.5M249.5,245h1.5v11h-1.5M249.5,262h1.5v5h-1.5M249.5,273h1.5v11h-1.5M249.5,295h1.5v5h-1.5M251,52h1.5v11h-1.5M251,102h1.5v11h-1.5M251,168h1.5v27h-1.5M252.5,52h1.5v11h-1.5M252.5,96h1.5v17h-1.5M252.5,173h1.5v11h-1.5M252.5,190h1.5v5h-1.5M254,58h1.5v5h-1.5M254,107h1.5v6h-1.5M254,168h1.5v5h-1.5M254,190h1.5v5h-1.5M254,245h1.5v6h-1.5M255.5,52h1.5v11h-1.5M255.5,168h1.5v5h-1.5M255.5,184h1.5v11h-1.5M257,58h1.5v5h-1.5M257,107h1.5v6h-1.5M257,168h1.5v5h-1.5M257,190h1.5v5h-1.5M258.5,107h1.5v6h-1.5M258.5,195h1.5v11h-1.5M258.5,217h1.5v11h-1.5M258.5,234h1.5v6h-1.5M258.5,251h1.5v11h-1.5M258.5,267h1.5v6h-1.5M258.5,284h1.5v11h-1.5M260,52h1.5v6h-1.5M260,107h1.5v6h-1.5M260,195h1.5v22h-1.5M260,223h1.5v11h-1.5M260,240h1.5v5h-1.5M260,251h1.5v38h-1.5M260,295h1.5v5h-1.5M261.5,107h1.5v6h-1.5M261.5,190h1.5v22h-1.5M261.5,217h1.5v11h-1.5M261.5,234h1.5v6h-1.5M261.5,245h1.5v6h-1.5M261.5,289h1.5v6h-1.5M263,52h1.5v6h-1.5M263,107h1.5v6h-1.5M263,190h1.5v16h-1.5M263,212h1.5v11h-1.5M263,245h1.5v6h-1.5M263,267h1.5v6h-1.5M264.5,58h1.5v5h-1.5M264.5,107h1.5v11h-1.5M264.5,190h1.5v16h-1.5M264.5,212h1.5v39h-1.5M264.5,267h1.5v6h-1.5M266,52h1.5v6h-1.5M266,107h1.5v11h-1.5M266,195h1.5v6h-1.5M266,212h1.5v5h-1.5M266,223h1.5v17h-1.5M266,245h1.5v17h-1.5M266,267h1.5v6h-1.5M266,278h1.5v6h-1.5M266,295h1.5v5h-1.5M267.5,52h1.5v6h-1.5M267.5,113h1.5v5h-1.5M267.5,135h1.5v11h-1.5M267.5,162h1.5v6h-1.5M267.5,195h1.5v56h-1.5M267.5,284h1.5v5h-1.5M269,113h1.5v11h-1.5M269,135h1.5v11h-1.5M269,195h1.5v6h-1.5M269,206h1.5v22h-1.5M269,245h1.5v28h-1.5M269,278h1.5v11h-1.5M270.5,113h1.5v11h-1.5M270.5,135h1.5v16h-1.5M270.5,168h1.5v5h-1.5M270.5,195h1.5v22h-1.5M270.5,223h1.5v5h-1.5M270.5,234h1.5v11h-1.5M270.5,256h1.5v6h-1.5M270.5,289h1.5v6h-1.5M272,58h1.5v11h-1.5M272,107h1.5v11h-1.5M272,135h1.5v11h-1.5M272,168h1.5v11h-1.5M273.5,58h1.5v5h-1.5M273.5,107h1.5v17h-1.5M273.5,140h1.5v11h-1.5M273.5,195h1.5v17h-1.5M273.5,217h1.5v6h-1.5M273.5,234h1.5v6h-1.5M273.5,273h1.5v5h-1.5M273.5,284h1.5v11h-1.5M275,107h1.5v6h-1.5M275,118h1.5v11h-1.5M275,146h1.5v5h-1.5M275,195h1.5v11h-1.5M275,212h1.5v11h-1.5M275,234h1.5v6h-1.5M275,251h1.5v49h-1.5M276.5,58h1.5v5h-1.5M276.5,107h1.5v17h-1.5M276.5,146h1.5v5h-1.5M276.5,168h1.5v5h-1.5M276.5,195h1.5v11h-1.5M276.5,223h1.5v5h-1.5M276.5,240h1.5v5h-1.5M276.5,289h1.5v6h-1.5M278,52h1.5v11h-1.5M278,107h1.5v11h-1.5M278,124h1.5v5h-1.5M278,135h1.5v11h-1.5M278,168h1.5v5h-1.5M278,179h1.5v5h-1.5M278,195h1.5v6h-1.5M279.5,107h1.5v28h-1.5M279.5,168h1.5v11h-1.5M279.5,195h1.5v6h-1.5M281,52h1.5v6h-1.5M281,107h1.5v6h-1.5M281,118h1.5v6h-1.5M281,129h1.5v6h-1.5M281,146h1.5v5h-1.5M281,168h1.5v5h-1.5M281,195h1.5v6h-1.5M281,206h1.5v28h-1.5M281,240h1.5v5h-1.5M281,262h1.5v16h-1.5M281,289h1.5v6h-1.5M282.5,52h1.5v6h-1.5M282.5,113h1.5v16h-1.5M282.5,140h1.5v6h-1.5M282.5,168h1.5v11h-1.5M284,52h1.5v11h-1.5M284,107h1.5v6h-1.5M284,124h1.5v5h-1.5M284,140h1.5v11h-1.5M284,168h1.5v5h-1.5M284,195h1.5v6h-1.5M284,206h1.5v6h-1.5M285.5,52h1.5v6h-1.5M285.5,107h1.5v6h-1.5M285.5,124h1.5v5h-1.5M285.5,146h1.5v5h-1.5M285.5,168h1.5v5h-1.5M285.5,195h1.5v33h-1.5M285.5,234h1.5v6h-1.5M285.5,251h1.5v5h-1.5M285.5,278h1.5v11h-1.5M285.5,295h1.5v5h-1.5M287,52h1.5v6h-1.5M287,118h1.5v11h-1.5M287,135h1.5v11h-1.5M287,168h1.5v5h-1.5M287,195h1.5v6h-1.5M288.5,107h1.5v17h-1.5M288.5,129h1.5v6h-1.5M288.5,146h1.5v5h-1.5M288.5,168h1.5v5h-1.5M288.5,195h1.5v11h-1.5M288.5,212h1.5v39h-1.5M288.5,273h1.5v16h-1.5M290,107h1.5v28h-1.5M290,146h1.5v5h-1.5M290,168h1.5v5h-1.5M290,195h1.5v33h-1.5M290,234h1.5v11h-1.5M290,251h1.5v5h-1.5M290,262h1.5v5h-1.5M290,273h1.5v22h-1.5M291.5,107h1.5v22h-1.5M291.5,168h1.5v5h-1.5M291.5,195h1.5v6h-1.5M291.5,212h1.5v11h-1.5M293,58h1.5v5h-1.5M293,107h1.5v6h-1.5M293,118h1.5v22h-1.5M293,195h1.5v17h-1.5M293,217h1.5v11h-1.5M293,245h1.5v6h-1.5M293,256h1.5v11h-1.5M293,278h1.5v6h-1.5M294.5,107h1.5v11h-1.5M294.5,124h1.5v11h-1.5M294.5,140h1.5v11h-1.5M294.5,168h1.5v5h-1.5M294.5,195h1.5v6h-1.5M294.5,206h1.5v17h-1.5M294.5,251h1.5v5h-1.5M294.5,262h1.5v16h-1.5M294.5,284h1.5v5h-1.5M294.5,300h1.5v11h-1.5M296,107h1.5v6h-1.5M296,118h1.5v6h-1.5M296,129h1.5v6h-1.5M296,146h1.5v5h-1.5M296,168h1.5v5h-1.5M296,195h1.5v22h-1.5M296,262h1.5v5h-1.5M296,300h1.5v11h-1.5M297.5,58h1.5v5h-1.5M297.5,107h1.5v22h-1.5M297.5,146h1.5v5h-1.5M297.5,168h1.5v5h-1.5M297.5,201h1.5v11h-1.5M297.5,217h1.5v23h-1.5M297.5,245h1.5v17h-1.5M297.5,267h1.5v6h-1.5M297.5,278h1.5v11h-1.5M297.5,300h1.5v11h-1.5M299,107h1.5v11h-1.5M299,124h1.5v11h-1.5M299,140h1.5v6h-1.5M299,168h1.5v5h-1.5M299,195h1.5v6h-1.5M299,306h1.5v5h-1.5M300.5,52h1.5v17h-1.5M300.5,107h1.5v11h-1.5M300.5,129h1.5v17h-1.5M300.5,168h1.5v5h-1.5M300.5,195h1.5v6h-1.5M300.5,206h1.5v11h-1.5M300.5,262h1.5v5h-1.5M300.5,278h1.5v6h-1.5M300.5,289h1.5v6h-1.5M300.5,306h1.5v5h-1.5M302,107h1.5v22h-1.5M302,146h1.5v5h-1.5M302,212h1.5v5h-1.5M302,223h1.5v17h-1.5M302,245h1.5v11h-1.5M302,267h1.5v17h-1.5M302,289h1.5v17h-1.5M303.5,58h1.5v5h-1.5M303.5,107h1.5v11h-1.5M303.5,124h1.5v5h-1.5M303.5,140h1.5v11h-1.5M303.5,168h1.5v5h-1.5M303.5,212h1.5v11h-1.5M303.5,228h1.5v17h-1.5M303.5,289h1.5v11h-1.5M305,52h1.5v6h-1.5M305,107h1.5v6h-1.5M305,118h1.5v11h-1.5M305,135h1.5v5h-1.5M305,146h1.5v5h-1.5M305,168h1.5v5h-1.5M305,201h1.5v11h-1.5M305,223h1.5v11h-1.5M305,256h1.5v11h-1.5M305,273h1.5v11h-1.5M305,295h1.5v5h-1.5M306.5,58h1.5v5h-1.5M306.5,107h1.5v22h-1.5M306.5,146h1.5v5h-1.5M306.5,168h1.5v5h-1.5M308,52h1.5v6h-1.5M308,113h1.5v22h-1.5M308,146h1.5v5h-1.5M309.5,107h1.5v28h-1.5M309.5,146h1.5v5h-1.5M309.5,168h1.5v5h-1.5M311,52h1.5v11h-1.5M311,107h1.5v6h-1.5M311,124h1.5v22h-1.5M311,168h1.5v11h-1.5M312.5,52h1.5v6h-1.5M312.5,63h1.5v6h-1.5M312.5,107h1.5v17h-1.5M312.5,140h1.5v11h-1.5M312.5,168h1.5v11h-1.5M314,63h1.5v6h-1.5M314,107h1.5v6h-1.5M314,124h1.5v5h-1.5M314,168h1.5v5h-1.5M315.5,52h1.5v11h-1.5M315.5,107h1.5v22h-1.5M315.5,140h1.5v6h-1.5M315.5,168h1.5v5h-1.5M317,107h1.5v28h-1.5M317,146h1.5v5h-1.5M318.5,107h1.5v6h-1.5M318.5,135h1.5v16h-1.5M318.5,173h1.5v6h-1.5M320,107h1.5v17h-1.5M320,129h1.5v22h-1.5M321.5,52h1.5v17h-1.5M321.5,107h1.5v11h-1.5M321.5,124h1.5v5h-1.5M321.5,168h1.5v5h-1.5M323,58h1.5v11h-1.5M323,102h1.5v11h-1.5M323,124h1.5v5h-1.5M323,135h1.5v11h-1.5M324.5,63h1.5v6h-1.5M324.5,107h1.5v22h-1.5M324.5,135h1.5v5h-1.5M326,63h1.5v6h-1.5M326,107h1.5v22h-1.5M326,135h1.5v5h-1.5M327.5,102h1.5v33h-1.5M329,107h1.5v6h-1.5M329,118h1.5v17h-1.5M329,162h1.5v6h-1.5M330.5,58h1.5v11h-1.5M330.5,107h1.5v6h-1.5M330.5,124h1.5v5h-1.5M332,63h1.5v6h-1.5M332,107h1.5v28h-1.5M332,157h1.5v11h-1.5M333.5,63h1.5v6h-1.5M333.5,107h1.5v28h-1.5M333.5,157h1.5v11h-1.5M335,52h1.5v6h-1.5M335,63h1.5v6h-1.5M335,107h1.5v28h-1.5M335,157h1.5v11h-1.5M336.5,63h1.5v6h-1.5M336.5,107h1.5v22h-1.5M336.5,157h1.5v11h-1.5M338,63h1.5v6h-1.5M338,107h1.5v22h-1.5M338,157h1.5v5h-1.5M339.5,52h1.5v6h-1.5M339.5,107h1.5v22h-1.5M339.5,157h1.5v5h-1.5M341,58h1.5v5h-1.5M341,107h1.5v22h-1.5M342.5,63h1.5v6h-1.5M342.5,107h1.5v28h-1.5M342.5,157h1.5v5h-1.5M344,107h1.5v28h-1.5M344,151h1.5v11h-1.5M345.5,107h1.5v22h-1.5M345.5,157h1.5v5h-1.5M347,52h1.5v17h-1.5M347,102h1.5v5h-1.5M347,113h1.5v16h-1.5M347,157h1.5v16h-1.5M347,179h1.5v5h-1.5M348.5,52h1.5v17h-1.5M348.5,107h1.5v11h-1.5M348.5,129h1.5v6h-1.5M348.5,168h1.5v5h-1.5M348.5,184h1.5v6h-1.5M350,107h1.5v6h-1.5M350,118h1.5v6h-1.5M350,129h1.5v6h-1.5M350,162h1.5v11h-1.5M351.5,107h1.5v17h-1.5M351.5,129h1.5v6h-1.5M351.5,162h1.5v6h-1.5M353,102h1.5v27h-1.5M353,168h1.5v5h-1.5M354.5,52h1.5v17h-1.5M354.5,107h1.5v22h-1.5M354.5,168h1.5v5h-1.5M354.5,184h1.5v6h-1.5M356,63h1.5v6h-1.5M356,107h1.5v22h-1.5M357.5,52h1.5v17h-1.5M357.5,107h1.5v6h-1.5M357.5,124h1.5v5h-1.5M357.5,184h1.5v17h-1.5M357.5,212h1.5v5h-1.5M359,52h1.5v17h-1.5M359,102h1.5v5h-1.5M359,168h1.5v5h-1.5M359,179h1.5v16h-1.5M359,206h1.5v6h-1.5M359,217h1.5v6h-1.5M360.5,52h1.5v6h-1.5M360.5,107h1.5v11h-1.5M360.5,168h1.5v5h-1.5M362,107h1.5v6h-1.5M362,124h1.5v11h-1.5M362,168h1.5v5h-1.5M363.5,107h1.5v11h-1.5M363.5,129h1.5v6h-1.5M363.5,168h1.5v5h-1.5M365,63h1.5v6h-1.5M365,107h1.5v6h-1.5M365,118h1.5v6h-1.5M365,168h1.5v5h-1.5M365,179h1.5v11h-1.5M365,195h1.5v6h-1.5M366.5,63h1.5v6h-1.5M366.5,107h1.5v28h-1.5M366.5,168h1.5v5h-1.5M368,96h1.5v6h-1.5M368,107h1.5v6h-1.5M368,118h1.5v17h-1.5M368,168h1.5v5h-1.5M368,179h1.5v5h-1.5M369.5,52h1.5v6h-1.5M369.5,96h1.5v6h-1.5M369.5,107h1.5v6h-1.5M369.5,118h1.5v6h-1.5M369.5,129h1.5v6h-1.5M369.5,168h1.5v11h-1.5M371,96h1.5v6h-1.5M371,107h1.5v28h-1.5M371,168h1.5v5h-1.5M372.5,58h1.5v5h-1.5M372.5,96h1.5v22h-1.5M372.5,124h1.5v5h-1.5M372.5,168h1.5v11h-1.5M374,52h1.5v11h-1.5M374,91h1.5v16h-1.5M374,118h1.5v11h-1.5M374,179h1.5v5h-1.5M375.5,91h1.5v5h-1.5M375.5,124h1.5v5h-1.5M375.5,179h1.5v11h-1.5M377,58h1.5v5h-1.5M377,85h1.5v6h-1.5M377,107h1.5v22h-1.5M377,179h1.5v11h-1.5M378.5,52h1.5v6h-1.5M378.5,85h1.5v6h-1.5M378.5,107h1.5v6h-1.5M378.5,179h1.5v5h-1.5M378.5,190h1.5v5h-1.5M380,52h1.5v17h-1.5M380,74h1.5v17h-1.5M380,195h1.5v11h-1.5M381.5,52h1.5v11h-1.5M381.5,85h1.5v6h-1.5M381.5,118h1.5v6h-1.5M381.5,190h1.5v16h-1.5M383,52h1.5v6h-1.5M383,107h1.5v22h-1.5M383,179h1.5v5h-1.5M384.5,85h1.5v6h-1.5M384.5,113h1.5v5h-1.5M384.5,184h1.5v11h-1.5M386,58h1.5v5h-1.5M386,85h1.5v6h-1.5M386,118h1.5v11h-1.5M386,179h1.5v5h-1.5M386,190h1.5v5h-1.5M387.5,85h1.5v6h-1.5M387.5,107h1.5v22h-1.5M387.5,179h1.5v5h-1.5M389,107h1.5v22h-1.5M389,179h1.5v11h-1.5M390.5,107h1.5v28h-1.5M390.5,179h1.5v5h-1.5M392,118h1.5v6h-1.5M392,179h1.5v22h-1.5M393.5,113h1.5v11h-1.5M393.5,179h1.5v11h-1.5M395,113h1.5v11h-1.5M395,179h1.5v5h-1.5M396.5,113h1.5v5h-1.5M396.5,124h1.5v5h-1.5M396.5,173h1.5v11h-1.5M398,85h1.5v6h-1.5M398,168h1.5v11h-1.5M399.5,52h1.5v6h-1.5M399.5,173h1.5v28h-1.5M401,85h1.5v6h-1.5M401,168h1.5v11h-1.5M402.5,85h1.5v6h-1.5M402.5,168h1.5v22h-1.5M404,85h1.5v6h-1.5M404,168h1.5v5h-1.5M405.5,80h1.5v11h-1.5M405.5,168h1.5v5h-1.5M405.5,184h1.5v11h-1.5M405.5,201h1.5v5h-1.5M407,80h1.5v11h-1.5M407,168h1.5v5h-1.5M407,179h1.5v5h-1.5M408.5,74h1.5v17h-1.5M408.5,168h1.5v5h-1.5M410,80h1.5v11h-1.5M410,168h1.5v11h-1.5M411.5,74h1.5v17h-1.5M411.5,168h1.5v16h-1.5M413,69h1.5v16h-1.5M413,118h1.5v17h-1.5M413,140h1.5v11h-1.5M413,157h1.5v5h-1.5M413,168h1.5v11h-1.5M414.5,63h1.5v11h-1.5M414.5,85h1.5v6h-1.5M414.5,113h1.5v5h-1.5M414.5,151h1.5v11h-1.5M414.5,173h1.5v11h-1.5M416,58h1.5v27h-1.5M416,102h1.5v5h-1.5M416,118h1.5v11h-1.5M416,179h1.5v11h-1.5M417.5,58h1.5v11h-1.5M417.5,80h1.5v5h-1.5M417.5,102h1.5v11h-1.5M417.5,118h1.5v11h-1.5M417.5,140h1.5v6h-1.5M417.5,157h1.5v11h-1.5M417.5,179h1.5v5h-1.5M419,58h1.5v11h-1.5M419,85h1.5v6h-1.5M419,96h1.5v11h-1.5M419,118h1.5v11h-1.5M419,140h1.5v11h-1.5M419,157h1.5v11h-1.5M419,179h1.5v5h-1.5M420.5,58h1.5v5h-1.5M420.5,74h1.5v6h-1.5M420.5,102h1.5v22h-1.5M420.5,129h1.5v6h-1.5M420.5,146h1.5v5h-1.5M420.5,157h1.5v11h-1.5M420.5,179h1.5v11h-1.5M422,58h1.5v33h-1.5M422,102h1.5v33h-1.5M422,140h1.5v28h-1.5M422,179h1.5v5h-1.5M423.5,52h1.5v11h-1.5M423.5,69h1.5v11h-1.5M423.5,113h1.5v5h-1.5M423.5,140h1.5v6h-1.5M423.5,179h1.5v5h-1.5M425,52h1.5v11h-1.5M425,74h1.5v6h-1.5M425,102h1.5v5h-1.5M425,113h1.5v5h-1.5M425,124h1.5v5h-1.5M425,151h1.5v6h-1.5M425,162h1.5v6h-1.5M425,179h1.5v5h-1.5M426.5,52h1.5v6h-1.5M426.5,69h1.5v5h-1.5M426.5,80h1.5v5h-1.5M426.5,91h1.5v5h-1.5M426.5,118h1.5v6h-1.5M426.5,179h1.5v5h-1.5M428,69h1.5v5h-1.5M428,80h1.5v5h-1.5M428,91h1.5v5h-1.5M428,113h1.5v5h-1.5M428,124h1.5v5h-1.5M428,140h1.5v6h-1.5M428,151h1.5v11h-1.5M428,179h1.5v5h-1.5M429.5,58h1.5v5h-1.5M429.5,102h1.5v5h-1.5M429.5,113h1.5v5h-1.5M429.5,151h1.5v6h-1.5M429.5,162h1.5v6h-1.5M429.5,179h1.5v5h-1.5M431,74h1.5v6h-1.5M431,91h1.5v5h-1.5M431,124h1.5v5h-1.5M431,146h1.5v5h-1.5M431,162h1.5v6h-1.5M431,179h1.5v5h-1.5M432.5,63h1.5v6h-1.5M432.5,74h1.5v6h-1.5M432.5,96h1.5v6h-1.5M432.5,113h1.5v5h-1.5M432.5,135h1.5v5h-1.5M432.5,146h1.5v5h-1.5M432.5,179h1.5v5h-1.5M434,184h1.5v17h-1.5M435.5,184h1.5v6h-1.5M435.5,195h1.5v11h-1.5M435.5,212h1.5v5h-1.5M435.5,228h1.5v6h-1.5M437,80h1.5v5h-1.5M437,162h1.5v6h-1.5M437,179h1.5v27h-1.5M438.5,184h1.5v6h-1.5M438.5,195h1.5v22h-1.5M440,96h1.5v6h-1.5M440,223h1.5v5h-1.5M441.5,217h1.5v6h-1.5M441.5,278h1.5v6h-1.5M443,63h1.5v17h-1.5M443,85h1.5v6h-1.5M443,102h1.5v5h-1.5M443,113h1.5v5h-1.5M443,146h1.5v5h-1.5M443,212h1.5v5h-1.5M444.5,63h1.5v6h-1.5M444.5,74h1.5v6h-1.5M444.5,85h1.5v33h-1.5M444.5,140h1.5v6h-1.5M444.5,151h1.5v6h-1.5M444.5,162h1.5v6h-1.5M444.5,217h1.5v6h-1.5M446,63h1.5v6h-1.5M446,74h1.5v6h-1.5M446,85h1.5v6h-1.5M446,102h1.5v5h-1.5M446,140h1.5v11h-1.5M446,168h1.5v5h-1.5M446,212h1.5v5h-1.5M447.5,206h1.5v11h-1.5M447.5,223h1.5v5h-1.5M449,63h1.5v11h-1.5M449,91h1.5v5h-1.5M449,102h1.5v5h-1.5M449,113h1.5v5h-1.5M449,206h1.5v17h-1.5M450.5,63h1.5v6h-1.5M450.5,102h1.5v5h-1.5M450.5,206h1.5v22h-1.5M450.5,251h1.5v5h-1.5M450.5,289h1.5v6h-1.5M452,102h1.5v5h-1.5M452,118h1.5v6h-1.5M452,162h1.5v6h-1.5M452,206h1.5v6h-1.5M452,217h1.5v6h-1.5M453.5,63h1.5v6h-1.5M453.5,74h1.5v6h-1.5M453.5,85h1.5v39h-1.5M453.5,146h1.5v22h-1.5M453.5,201h1.5v5h-1.5M455,140h1.5v6h-1.5M455,162h1.5v6h-1.5M455,217h1.5v6h-1.5M455,228h1.5v6h-1.5M456.5,69h1.5v11h-1.5M456.5,146h1.5v16h-1.5M456.5,201h1.5v5h-1.5M458,63h1.5v22h-1.5M458,102h1.5v22h-1.5M458,135h1.5v16h-1.5M458,157h1.5v11h-1.5M458,179h1.5v22h-1.5M459.5,74h1.5v6h-1.5M459.5,118h1.5v6h-1.5M459.5,162h1.5v6h-1.5M459.5,173h1.5v28h-1.5M461,63h1.5v6h-1.5M461,173h1.5v28h-1.5M461,234h1.5v6h-1.5M462.5,74h1.5v6h-1.5M462.5,96h1.5v22h-1.5M462.5,124h1.5v5h-1.5M462.5,146h1.5v5h-1.5M462.5,157h1.5v5h-1.5M462.5,168h1.5v11h-1.5M464,63h1.5v6h-1.5M464,91h1.5v11h-1.5M464,162h1.5v11h-1.5M465.5,63h1.5v6h-1.5M465.5,168h1.5v5h-1.5M465.5,206h1.5v6h-1.5M467,74h1.5v6h-1.5M467,107h1.5v11h-1.5M467,124h1.5v5h-1.5M467,151h1.5v6h-1.5M467,168h1.5v5h-1.5M468.5,85h1.5v6h-1.5M468.5,96h1.5v6h-1.5M468.5,113h1.5v5h-1.5M468.5,151h1.5v6h-1.5M468.5,168h1.5v5h-1.5M470,63h1.5v11h-1.5M470,80h1.5v5h-1.5M470,91h1.5v5h-1.5M470,102h1.5v11h-1.5M470,124h1.5v5h-1.5M470,140h1.5v6h-1.5M470,151h1.5v17h-1.5M471.5,124h1.5v5h-1.5M471.5,146h1.5v5h-1.5M471.5,168h1.5v5h-1.5M473,63h1.5v11h-1.5M473,91h1.5v22h-1.5M473,124h1.5v16h-1.5M473,146h1.5v11h-1.5M473,168h1.5v5h-1.5M474.5,69h1.5v5h-1.5M474.5,80h1.5v11h-1.5M474.5,102h1.5v11h-1.5M474.5,118h1.5v50h-1.5M476,74h1.5v11h-1.5M476,96h1.5v11h-1.5M476,124h1.5v5h-1.5M476,135h1.5v22h-1.5M477.5,63h1.5v17h-1.5M477.5,96h1.5v6h-1.5M477.5,118h1.5v6h-1.5M477.5,135h1.5v11h-1.5M479,91h1.5v5h-1.5M479,118h1.5v11h-1.5M479,135h1.5v5h-1.5M479,146h1.5v5h-1.5M479,168h1.5v5h-1.5M480.5,69h1.5v16h-1.5M480.5,91h1.5v5h-1.5M480.5,102h1.5v5h-1.5M480.5,124h1.5v5h-1.5M480.5,135h1.5v5h-1.5M480.5,157h1.5v5h-1.5M480.5,168h1.5v5h-1.5M482,124h1.5v5h-1.5M482,135h1.5v5h-1.5M482,146h1.5v5h-1.5M482,157h1.5v5h-1.5M483.5,69h1.5v11h-1.5M483.5,124h1.5v5h-1.5M483.5,135h1.5v5h-1.5M483.5,162h1.5v6h-1.5M485,69h1.5v16h-1.5M485,96h1.5v11h-1.5M485,118h1.5v6h-1.5M485,146h1.5v5h-1.5M485,162h1.5v6h-1.5M486.5,80h1.5v5h-1.5M486.5,107h1.5v6h-1.5M486.5,135h1.5v27h-1.5M486.5,168h1.5v5h-1.5M488,135h1.5v5h-1.5M488,168h1.5v11h-1.5M488,184h1.5v6h-1.5M489.5,113h1.5v5h-1.5M489.5,135h1.5v5h-1.5M489.5,168h1.5v5h-1.5M491,85h1.5v6h-1.5M491,124h1.5v5h-1.5M491,135h1.5v5h-1.5M491,168h1.5v5h-1.5M492.5,80h1.5v5h-1.5M492.5,118h1.5v6h-1.5M492.5,135h1.5v5h-1.5M492.5,157h1.5v5h-1.5M492.5,168h1.5v5h-1.5M494,80h1.5v5h-1.5M494,140h1.5v11h-1.5M494,162h1.5v6h-1.5M495.5,135h1.5v5h-1.5M495.5,168h1.5v5h-1.5M497,58h1.5v5h-1.5M497,69h1.5v16h-1.5M497,118h1.5v6h-1.5M497,162h1.5v11h-1.5M498.5,58h1.5v27h-1.5M498.5,91h1.5v5h-1.5M498.5,124h1.5v5h-1.5M498.5,140h1.5v11h-1.5M498.5,162h1.5v11h-1.5M500,58h1.5v5h-1.5M500,74h1.5v11h-1.5M500,135h1.5v5h-1.5M500,151h1.5v6h-1.5M500,168h1.5v5h-1.5M501.5,69h1.5v11h-1.5M501.5,102h1.5v5h-1.5M501.5,124h1.5v5h-1.5M501.5,135h1.5v5h-1.5M501.5,151h1.5v6h-1.5M501.5,162h1.5v11h-1.5M503,52h1.5v6h-1.5M503,63h1.5v6h-1.5M503,80h1.5v11h-1.5M503,135h1.5v5h-1.5M503,157h1.5v16h-1.5M504.5,52h1.5v6h-1.5M504.5,74h1.5v11h-1.5M504.5,96h1.5v6h-1.5M504.5,107h1.5v6h-1.5M504.5,124h1.5v5h-1.5M504.5,135h1.5v5h-1.5M504.5,146h1.5v16h-1.5M504.5,168h1.5v5h-1.5M506,52h1.5v6h-1.5M506,96h1.5v28h-1.5M506,140h1.5v33h-1.5M507.5,52h1.5v6h-1.5M507.5,80h1.5v16h-1.5M507.5,102h1.5v5h-1.5M507.5,118h1.5v11h-1.5M507.5,140h1.5v33h-1.5M509,52h1.5v6h-1.5M509,96h1.5v6h-1.5M509,135h1.5v16h-1.5M509,168h1.5v5h-1.5M509,184h1.5v6h-1.5M510.5,52h1.5v6h-1.5M510.5,80h1.5v5h-1.5M510.5,113h1.5v5h-1.5M510.5,124h1.5v5h-1.5M510.5,135h1.5v5h-1.5M510.5,151h1.5v11h-1.5M510.5,168h1.5v11h-1.5M512,52h1.5v6h-1.5M512,80h1.5v5h-1.5M512,135h1.5v5h-1.5M512,173h1.5v6h-1.5M512,223h1.5v5h-1.5M513.5,52h1.5v11h-1.5M513.5,74h1.5v11h-1.5M513.5,179h1.5v27h-1.5M515,52h1.5v6h-1.5M515,173h1.5v6h-1.5M515,184h1.5v6h-1.5M515,195h1.5v17h-1.5M516.5,52h1.5v6h-1.5M516.5,96h1.5v17h-1.5M516.5,135h1.5v11h-1.5M516.5,173h1.5v6h-1.5M516.5,190h1.5v16h-1.5M518,52h1.5v6h-1.5M518,190h1.5v5h-1.5M518,212h1.5v5h-1.5M519.5,52h1.5v6h-1.5M519.5,146h1.5v5h-1.5M519.5,179h1.5v5h-1.5M519.5,190h1.5v5h-1.5M519.5,201h1.5v11h-1.5M521,96h1.5v6h-1.5M521,118h1.5v6h-1.5M521,179h1.5v5h-1.5M521,190h1.5v5h-1.5M521,201h1.5v11h-1.5M522.5,102h1.5v11h-1.5M522.5,124h1.5v5h-1.5M522.5,179h1.5v5h-1.5M522.5,190h1.5v5h-1.5M524,85h1.5v6h-1.5M524,157h1.5v5h-1.5M524,179h1.5v5h-1.5M524,190h1.5v5h-1.5M524,201h1.5v5h-1.5M525.5,63h1.5v6h-1.5M525.5,80h1.5v5h-1.5M525.5,113h1.5v11h-1.5M525.5,157h1.5v11h-1.5M525.5,179h1.5v5h-1.5M525.5,190h1.5v5h-1.5M525.5,201h1.5v5h-1.5M525.5,212h1.5v5h-1.5M525.5,240h1.5v11h-1.5M527,80h1.5v5h-1.5M527,96h1.5v6h-1.5M527,118h1.5v6h-1.5M527,140h1.5v28h-1.5M527,179h1.5v5h-1.5M527,201h1.5v5h-1.5M528.5,80h1.5v5h-1.5M528.5,118h1.5v11h-1.5M528.5,179h1.5v5h-1.5M528.5,190h1.5v5h-1.5M528.5,201h1.5v5h-1.5M528.5,223h1.5v5h-1.5M530,85h1.5v6h-1.5M530,118h1.5v11h-1.5M530,140h1.5v6h-1.5M530,179h1.5v5h-1.5M530,190h1.5v5h-1.5M530,201h1.5v11h-1.5M531.5,80h1.5v5h-1.5M531.5,162h1.5v6h-1.5M531.5,179h1.5v5h-1.5M531.5,190h1.5v16h-1.5M533,80h1.5v5h-1.5M533,124h1.5v5h-1.5M533,146h1.5v5h-1.5M533,157h1.5v5h-1.5M533,179h1.5v16h-1.5M533,201h1.5v5h-1.5M533,212h1.5v16h-1.5M534.5,58h1.5v5h-1.5M534.5,80h1.5v11h-1.5M534.5,107h1.5v6h-1.5M534.5,151h1.5v6h-1.5M534.5,179h1.5v16h-1.5M534.5,201h1.5v11h-1.5M534.5,217h1.5v6h-1.5M534.5,228h1.5v6h-1.5M534.5,251h1.5v11h-1.5M536,58h1.5v5h-1.5M536,80h1.5v5h-1.5M536,157h1.5v5h-1.5M536,184h1.5v11h-1.5M536,206h1.5v17h-1.5M536,262h1.5v5h-1.5M537.5,80h1.5v5h-1.5M537.5,91h1.5v11h-1.5M537.5,140h1.5v11h-1.5M537.5,157h1.5v11h-1.5M537.5,179h1.5v5h-1.5M537.5,190h1.5v11h-1.5M537.5,206h1.5v6h-1.5M539,80h1.5v5h-1.5M539,124h1.5v5h-1.5M539,179h1.5v16h-1.5M539,206h1.5v17h-1.5M540.5,80h1.5v5h-1.5M540.5,107h1.5v6h-1.5M540.5,162h1.5v6h-1.5M540.5,179h1.5v5h-1.5M540.5,190h1.5v5h-1.5M540.5,206h1.5v17h-1.5M540.5,245h1.5v11h-1.5M542,52h1.5v6h-1.5M542,80h1.5v5h-1.5M542,102h1.5v5h-1.5M542,140h1.5v28h-1.5M542,179h1.5v5h-1.5M542,190h1.5v5h-1.5M542,212h1.5v5h-1.5M543.5,52h1.5v6h-1.5M543.5,80h1.5v5h-1.5M543.5,96h1.5v6h-1.5M543.5,135h1.5v33h-1.5M543.5,179h1.5v5h-1.5M543.5,190h1.5v5h-1.5M543.5,212h1.5v5h-1.5M545,52h1.5v6h-1.5M545,69h1.5v5h-1.5M545,80h1.5v5h-1.5M545,107h1.5v6h-1.5M545,124h1.5v5h-1.5M545,140h1.5v11h-1.5M545,179h1.5v5h-1.5M545,190h1.5v5h-1.5M545,217h1.5v6h-1.5M545,245h1.5v6h-1.5M545,256h1.5v6h-1.5M546.5,52h1.5v6h-1.5M546.5,80h1.5v5h-1.5M546.5,102h1.5v11h-1.5M546.5,118h1.5v11h-1.5M546.5,140h1.5v11h-1.5M546.5,157h1.5v5h-1.5M546.5,179h1.5v5h-1.5M546.5,212h1.5v5h-1.5M546.5,245h1.5v6h-1.5M548,52h1.5v11h-1.5M548,80h1.5v5h-1.5M548,91h1.5v5h-1.5M548,140h1.5v22h-1.5M548,240h1.5v11h-1.5M549.5,52h1.5v17h-1.5M549.5,80h1.5v5h-1.5M549.5,173h1.5v6h-1.5M549.5,190h1.5v5h-1.5M549.5,212h1.5v16h-1.5M549.5,234h1.5v6h-1.5M549.5,245h1.5v6h-1.5M551,69h1.5v16h-1.5M551,179h1.5v5h-1.5M551,217h1.5v6h-1.5M551,262h1.5v5h-1.5M552.5,52h1.5v11h-1.5M552.5,69h1.5v5h-1.5M552.5,80h1.5v5h-1.5M552.5,107h1.5v6h-1.5M552.5,173h1.5v11h-1.5M552.5,190h1.5v5h-1.5M552.5,212h1.5v11h-1.5M552.5,240h1.5v5h-1.5M554,52h1.5v6h-1.5M554,63h1.5v6h-1.5M554,80h1.5v16h-1.5M554,162h1.5v17h-1.5M554,195h1.5v6h-1.5M554,212h1.5v11h-1.5M555.5,69h1.5v5h-1.5M555.5,80h1.5v5h-1.5M555.5,107h1.5v6h-1.5M555.5,124h1.5v5h-1.5M555.5,173h1.5v6h-1.5M555.5,195h1.5v6h-1.5M555.5,212h1.5v11h-1.5M557,52h1.5v6h-1.5M557,63h1.5v6h-1.5M557,74h1.5v11h-1.5M557,140h1.5v6h-1.5M557,168h1.5v11h-1.5M557,234h1.5v6h-1.5M557,245h1.5v11h-1.5M558.5,52h1.5v11h-1.5M558.5,74h1.5v17h-1.5M558.5,96h1.5v6h-1.5M558.5,168h1.5v11h-1.5M558.5,217h1.5v6h-1.5M558.5,228h1.5v6h-1.5M560,58h1.5v22h-1.5M560,168h1.5v11h-1.5M560,217h1.5v23h-1.5M561.5,58h1.5v22h-1.5M561.5,102h1.5v5h-1.5M561.5,173h1.5v6h-1.5M561.5,195h1.5v6h-1.5M561.5,217h1.5v11h-1.5M561.5,245h1.5v6h-1.5M563,63h1.5v6h-1.5M563,74h1.5v6h-1.5M563,173h1.5v11h-1.5M563,217h1.5v11h-1.5M563,256h1.5v6h-1.5M564.5,63h1.5v11h-1.5M564.5,118h1.5v6h-1.5M564.5,157h1.5v5h-1.5M564.5,173h1.5v6h-1.5M564.5,217h1.5v17h-1.5M564.5,245h1.5v6h-1.5M566,146h1.5v5h-1.5M566,179h1.5v5h-1.5M566,190h1.5v5h-1.5M566,217h1.5v11h-1.5M566,256h1.5v6h-1.5M567.5,85h1.5v6h-1.5M567.5,173h1.5v6h-1.5M567.5,190h1.5v5h-1.5M567.5,217h1.5v6h-1.5M567.5,234h1.5v6h-1.5M569,179h1.5v5h-1.5M569,190h1.5v5h-1.5M569,212h1.5v16h-1.5M569,234h1.5v6h-1.5M570.5,74h1.5v6h-1.5M570.5,184h1.5v6h-1.5M570.5,217h1.5v17h-1.5M570.5,267h1.5v6h-1.5M572,74h1.5v11h-1.5M572,91h1.5v5h-1.5M572,102h1.5v5h-1.5M572,118h1.5v6h-1.5M572,179h1.5v16h-1.5M572,212h1.5v11h-1.5M573.5,113h1.5v11h-1.5M573.5,168h1.5v5h-1.5M573.5,179h1.5v5h-1.5M573.5,212h1.5v5h-1.5M575,184h1.5v11h-1.5M575,223h1.5v5h-1.5M576.5,173h1.5v22h-1.5M576.5,212h1.5v16h-1.5M576.5,256h1.5v6h-1.5M578,85h1.5v6h-1.5M578,157h1.5v5h-1.5M578,173h1.5v11h-1.5M578,190h1.5v5h-1.5M578,217h1.5v6h-1.5M579.5,91h1.5v5h-1.5M579.5,107h1.5v6h-1.5M579.5,151h1.5v6h-1.5M579.5,173h1.5v11h-1.5M579.5,190h1.5v5h-1.5M581,102h1.5v5h-1.5M581,113h1.5v11h-1.5M581,140h1.5v6h-1.5M581,151h1.5v11h-1.5M581,179h1.5v5h-1.5M581,212h1.5v5h-1.5M582.5,63h1.5v11h-1.5M582.5,80h1.5v5h-1.5M582.5,91h1.5v5h-1.5M582.5,102h1.5v11h-1.5M582.5,124h1.5v5h-1.5M582.5,140h1.5v22h-1.5M582.5,168h1.5v11h-1.5M582.5,190h1.5v5h-1.5M582.5,212h1.5v5h-1.5M582.5,245h1.5v6h-1.5M584,63h1.5v17h-1.5M584,91h1.5v5h-1.5M584,140h1.5v17h-1.5M584,162h1.5v11h-1.5M584,212h1.5v11h-1.5M585.5,113h1.5v11h-1.5M585.5,168h1.5v5h-1.5M585.5,190h1.5v5h-1.5M585.5,212h1.5v5h-1.5M587,69h1.5v5h-1.5M587,80h1.5v5h-1.5M587,113h1.5v16h-1.5M587,146h1.5v11h-1.5M587,162h1.5v11h-1.5M587,212h1.5v5h-1.5M588.5,63h1.5v6h-1.5M588.5,91h1.5v11h-1.5M588.5,113h1.5v16h-1.5M588.5,140h1.5v6h-1.5M588.5,157h1.5v5h-1.5M588.5,190h1.5v5h-1.5M588.5,212h1.5v5h-1.5M590,63h1.5v11h-1.5M590,102h1.5v11h-1.5M590,124h1.5v5h-1.5M590,146h1.5v5h-1.5M590,195h1.5v6h-1.5M590,212h1.5v5h-1.5M591.5,69h1.5v5h-1.5M591.5,146h1.5v5h-1.5M591.5,168h1.5v11h-1.5M591.5,190h1.5v5h-1.5M591.5,217h1.5v11h-1.5M591.5,245h1.5v6h-1.5M591.5,262h1.5v5h-1.5M593,69h1.5v5h-1.5M593,107h1.5v17h-1.5M593,140h1.5v6h-1.5M593,157h1.5v5h-1.5M593,168h1.5v5h-1.5M593,212h1.5v5h-1.5M594.5,74h1.5v11h-1.5M594.5,96h1.5v6h-1.5M594.5,107h1.5v6h-1.5M594.5,118h1.5v11h-1.5M594.5,140h1.5v11h-1.5M594.5,157h1.5v11h-1.5M594.5,212h1.5v5h-1.5M596,69h1.5v5h-1.5M596,91h1.5v5h-1.5M596,102h1.5v5h-1.5M596,140h1.5v6h-1.5M596,162h1.5v6h-1.5M596,190h1.5v11h-1.5M596,217h1.5v6h-1.5M597.5,74h1.5v6h-1.5M597.5,96h1.5v6h-1.5M597.5,256h1.5v6h-1.5M599,85h1.5v6h-1.5M599,96h1.5v28h-1.5M599,146h1.5v22h-1.5M599,195h1.5v6h-1.5M599,212h1.5v5h-1.5M600.5,102h1.5v5h-1.5M600.5,124h1.5v5h-1.5M600.5,168h1.5v5h-1.5M600.5,217h1.5v6h-1.5M600.5,228h1.5v6h-1.5M600.5,240h1.5v11h-1.5M602,85h1.5v6h-1.5M602,107h1.5v6h-1.5M602,124h1.5v5h-1.5M602,146h1.5v5h-1.5M602,168h1.5v5h-1.5M603.5,63h1.5v6h-1.5M603.5,74h1.5v6h-1.5M603.5,85h1.5v17h-1.5M603.5,107h1.5v6h-1.5M603.5,124h1.5v5h-1.5M603.5,140h1.5v22h-1.5M603.5,195h1.5v6h-1.5M603.5,212h1.5v5h-1.5M605,85h1.5v6h-1.5M605,140h1.5v11h-1.5M605,162h1.5v6h-1.5M605,190h1.5v11h-1.5M605,217h1.5v6h-1.5M606.5,69h1.5v5h-1.5M606.5,91h1.5v5h-1.5M606.5,118h1.5v6h-1.5M606.5,140h1.5v6h-1.5M606.5,151h1.5v6h-1.5M606.5,162h1.5v11h-1.5M606.5,245h1.5v6h-1.5M608,63h1.5v6h-1.5M608,74h1.5v6h-1.5M608,91h1.5v16h-1.5M608,113h1.5v5h-1.5M608,124h1.5v5h-1.5M608,140h1.5v6h-1.5M608,151h1.5v17h-1.5M608,195h1.5v6h-1.5M608,212h1.5v5h-1.5M609.5,74h1.5v6h-1.5M609.5,85h1.5v11h-1.5M609.5,102h1.5v5h-1.5M609.5,124h1.5v5h-1.5M609.5,140h1.5v6h-1.5M609.5,151h1.5v6h-1.5M609.5,162h1.5v11h-1.5M609.5,195h1.5v6h-1.5M611,74h1.5v6h-1.5M611,102h1.5v5h-1.5M611,118h1.5v6h-1.5M611,162h1.5v6h-1.5M611,195h1.5v6h-1.5M611,212h1.5v5h-1.5M612.5,63h1.5v6h-1.5M612.5,74h1.5v6h-1.5M612.5,85h1.5v6h-1.5M612.5,96h1.5v17h-1.5M612.5,118h1.5v6h-1.5M612.5,146h1.5v5h-1.5M612.5,157h1.5v11h-1.5M612.5,212h1.5v5h-1.5M614,69h1.5v5h-1.5M614,96h1.5v11h-1.5M614,168h1.5v5h-1.5M614,240h1.5v11h-1.5M615.5,168h1.5v5h-1.5M615.5,212h1.5v5h-1.5M615.5,223h1.5v5h-1.5M615.5,245h1.5v6h-1.5M617,63h1.5v6h-1.5M617,80h1.5v5h-1.5M617,113h1.5v5h-1.5M617,124h1.5v5h-1.5M617,151h1.5v6h-1.5M617,212h1.5v11h-1.5M618.5,74h1.5v6h-1.5M618.5,85h1.5v6h-1.5M618.5,113h1.5v16h-1.5M618.5,157h1.5v11h-1.5M618.5,190h1.5v5h-1.5M618.5,212h1.5v5h-1.5M620,96h1.5v6h-1.5M620,118h1.5v6h-1.5M620,140h1.5v6h-1.5M620,157h1.5v16h-1.5M620,190h1.5v5h-1.5M620,212h1.5v5h-1.5M621.5,85h1.5v11h-1.5M621.5,168h1.5v5h-1.5M621.5,190h1.5v5h-1.5M621.5,212h1.5v11h-1.5M623,102h1.5v5h-1.5M623,113h1.5v5h-1.5M623,168h1.5v5h-1.5M623,190h1.5v5h-1.5M623,217h1.5v6h-1.5M623,234h1.5v6h-1.5M623,251h1.5v5h-1.5M624.5,91h1.5v5h-1.5M624.5,162h1.5v11h-1.5M624.5,190h1.5v11h-1.5M624.5,212h1.5v5h-1.5M624.5,251h1.5v5h-1.5M626,63h1.5v17h-1.5M626,85h1.5v33h-1.5M626,124h1.5v5h-1.5M626,140h1.5v6h-1.5M626,157h1.5v5h-1.5M626,190h1.5v22h-1.5M627.5,63h1.5v6h-1.5M627.5,91h1.5v16h-1.5M627.5,113h1.5v5h-1.5M627.5,124h1.5v5h-1.5M627.5,140h1.5v6h-1.5M627.5,195h1.5v6h-1.5M627.5,206h1.5v11h-1.5M629,151h1.5v6h-1.5M629,168h1.5v5h-1.5M629,195h1.5v17h-1.5M629,245h1.5v6h-1.5M629,262h1.5v5h-1.5M630.5,168h1.5v5h-1.5M630.5,190h1.5v27h-1.5M630.5,251h1.5v5h-1.5M632,63h1.5v6h-1.5M632,74h1.5v28h-1.5M632,113h1.5v16h-1.5M632,140h1.5v28h-1.5M633.5,74h1.5v6h-1.5M633.5,85h1.5v6h-1.5M633.5,102h1.5v16h-1.5M633.5,135h1.5v22h-1.5M633.5,162h1.5v6h-1.5M635,63h1.5v6h-1.5M635,91h1.5v5h-1.5M635,113h1.5v5h-1.5M635,124h1.5v5h-1.5M635,140h1.5v17h-1.5M635,162h1.5v11h-1.5M636.5,184h1.5v17h-1.5M636.5,206h1.5v11h-1.5M636.5,234h1.5v6h-1.5M638,102h1.5v5h-1.5M638,157h1.5v5h-1.5M638,168h1.5v5h-1.5M638,240h1.5v11h-1.5M638,262h1.5v5h-1.5M639.5,69h1.5v11h-1.5M639.5,91h1.5v5h-1.5M639.5,102h1.5v5h-1.5M639.5,135h1.5v5h-1.5M639.5,151h1.5v11h-1.5M639.5,168h1.5v5h-1.5M641,63h1.5v17h-1.5M641,118h1.5v6h-1.5M641,135h1.5v33h-1.5M642.5,69h1.5v5h-1.5M642.5,85h1.5v6h-1.5M642.5,102h1.5v5h-1.5M642.5,113h1.5v5h-1.5M642.5,129h1.5v11h-1.5M642.5,151h1.5v17h-1.5M642.5,206h1.5v11h-1.5M644,63h1.5v6h-1.5M644,74h1.5v6h-1.5M644,102h1.5v5h-1.5M644,135h1.5v5h-1.5M644,157h1.5v5h-1.5M644,168h1.5v5h-1.5M644,206h1.5v11h-1.5M645.5,69h1.5v5h-1.5M645.5,91h1.5v5h-1.5M645.5,102h1.5v11h-1.5M645.5,124h1.5v5h-1.5M645.5,135h1.5v5h-1.5M645.5,151h1.5v6h-1.5M645.5,162h1.5v11h-1.5M645.5,206h1.5v11h-1.5M647,135h1.5v5h-1.5M647,168h1.5v22h-1.5M647,195h1.5v11h-1.5M647,217h1.5v6h-1.5M648.5,140h1.5v28h-1.5M650,135h1.5v33h-1.5M650,179h1.5v5h-1.5M650,201h1.5v5h-1.5M650,212h1.5v11h-1.5M651.5,91h1v5h-1M651.5,135h1v33h-1M651.5,179h1v11h-1M651.5,201h1v5h-1"/>
<path fill="#003cf5" d="M143,52h1.5v11h-1.5M143,157h1.5v5h-1.5M144.5,58h1.5v5h-1.5M144.5,157h1.5v5h-1.5M146,52h1.5v11h-1.5M146,157h1.5v5h-1.5M147.5,52h1.5v11h-1.5M147.5,157h1.5v5h-1.5M149,317h1.5v5h-1.5M150.5,52h1.5v11h-1.5M150.5,129h1.5v6h-1.5M150.5,151h1.5v6h-1.5M152,52h1.5v6h-1.5M152,140h1.5v6h-1.5M153.5,135h1.5v5h-1.5M155,63h1.5v6h-1.5M156.5,129h1.5v6h-1.5M158,58h1.5v5h-1.5M158,129h1.5v6h-1.5M161,124h1.5v16h-1.5M162.5,52h1.5v6h-1.5M162.5,129h1.5v6h-1.5M204.5,124h1.5v5h-1.5M207.5,113h1.5v22h-1.5M207.5,223h1.5v5h-1.5M207.5,262h1.5v5h-1.5M207.5,273h1.5v5h-1.5M209,124h1.5v5h-1.5M210.5,124h1.5v11h-1.5M212,118h1.5v17h-1.5M212,140h1.5v6h-1.5M212,223h1.5v11h-1.5M212,256h1.5v17h-1.5M212,284h1.5v5h-1.5M213.5,52h1.5v6h-1.5M213.5,113h1.5v5h-1.5M213.5,124h1.5v16h-1.5M213.5,157h1.5v5h-1.5M213.5,228h1.5v6h-1.5M213.5,267h1.5v6h-1.5M213.5,289h1.5v11h-1.5M215,107h1.5v28h-1.5M215,140h1.5v6h-1.5M215,223h1.5v5h-1.5M215,267h1.5v11h-1.5M216.5,52h1.5v6h-1.5M216.5,113h1.5v16h-1.5M216.5,140h1.5v22h-1.5M216.5,212h1.5v5h-1.5M216.5,240h1.5v5h-1.5M216.5,267h1.5v6h-1.5M218,52h1.5v6h-1.5M218,118h1.5v6h-1.5M218,217h1.5v6h-1.5M218,228h1.5v6h-1.5M219.5,113h1.5v5h-1.5M219.5,124h1.5v5h-1.5M219.5,146h1.5v11h-1.5M219.5,295h1.5v11h-1.5M221,113h1.5v5h-1.5M221,157h1.5v11h-1.5M221,217h1.5v17h-1.5M221,240h1.5v5h-1.5M221,251h1.5v5h-1.5M221,289h1.5v6h-1.5M221,306h1.5v5h-1.5M222.5,118h1.5v6h-1.5M222.5,157h1.5v5h-1.5M222.5,217h1.5v6h-1.5M222.5,228h1.5v6h-1.5M224,118h1.5v6h-1.5M224,157h1.5v5h-1.5M224,223h1.5v5h-1.5M224,234h1.5v6h-1.5M225.5,113h1.5v5h-1.5M225.5,157h1.5v5h-1.5M225.5,212h1.5v22h-1.5M227,157h1.5v5h-1.5M227,206h1.5v11h-1.5M227,223h1.5v5h-1.5M228.5,113h1.5v5h-1.5M228.5,206h1.5v17h-1.5M228.5,228h1.5v17h-1.5M230,52h1.5v6h-1.5M230,107h1.5v11h-1.5M230,212h1.5v5h-1.5M231.5,58h1.5v5h-1.5M231.5,102h1.5v5h-1.5M231.5,113h1.5v5h-1.5M231.5,168h1.5v5h-1.5M231.5,179h1.5v5h-1.5M231.5,195h1.5v6h-1.5M231.5,306h1.5v5h-1.5M233,58h1.5v5h-1.5M233,102h1.5v5h-1.5M233,162h1.5v6h-1.5M233,195h1.5v6h-1.5M233,206h1.5v6h-1.5M233,245h1.5v6h-1.5M234.5,52h1.5v6h-1.5M234.5,102h1.5v11h-1.5M234.5,162h1.5v6h-1.5M234.5,190h1.5v5h-1.5M234.5,256h1.5v17h-1.5M234.5,289h1.5v6h-1.5M236,58h1.5v5h-1.5M236,162h1.5v17h-1.5M236,184h1.5v11h-1.5M236,273h1.5v5h-1.5M236,289h1.5v22h-1.5M237.5,102h1.5v5h-1.5M237.5,179h1.5v5h-1.5M237.5,306h1.5v5h-1.5M239,58h1.5v5h-1.5M239,102h1.5v5h-1.5M239,162h1.5v11h-1.5M239,179h1.5v5h-1.5M240.5,52h1.5v6h-1.5M240.5,102h1.5v5h-1.5M240.5,168h1.5v22h-1.5M242,52h1.5v11h-1.5M242,107h1.5v6h-1.5M242,162h1.5v28h-1.5M243.5,58h1.5v11h-1.5M243.5,96h1.5v11h-1.5M245,63h1.5v6h-1.5M245,102h1.5v5h-1.5M246.5,173h1.5v6h-1.5M246.5,184h1.5v6h-1.5M248,52h1.5v11h-1.5M248,168h1.5v5h-1.5M248,179h1.5v5h-1.5M248,228h1.5v6h-1.5M248,284h1.5v5h-1.5M249.5,102h1.5v5h-1.5M249.5,173h1.5v6h-1.5M249.5,184h1.5v6h-1.5M249.5,223h1.5v5h-1.5M251,91h1.5v5h-1.5M252.5,63h1.5v6h-1.5M254,52h1.5v6h-1.5M254,63h1.5v6h-1.5M254,102h1.5v5h-1.5M254,173h1.5v17h-1.5M255.5,63h1.5v6h-1.5M255.5,173h1.5v11h-1.5M257,52h1.5v6h-1.5M257,63h1.5v6h-1.5M257,102h1.5v5h-1.5M257,173h1.5v17h-1.5M258.5,52h1.5v11h-1.5M258.5,102h1.5v5h-1.5M258.5,168h1.5v5h-1.5M258.5,190h1.5v5h-1.5M260,58h1.5v5h-1.5M260,102h1.5v5h-1.5M260,168h1.5v5h-1.5M260,190h1.5v5h-1.5M260,217h1.5v6h-1.5M261.5,52h1.5v11h-1.5M261.5,102h1.5v5h-1.5M261.5,179h1.5v11h-1.5M263,58h1.5v5h-1.5M263,102h1.5v5h-1.5M263,184h1.5v6h-1.5M264.5,52h1.5v6h-1.5M264.5,168h1.5v5h-1.5M266,58h1.5v5h-1.5M266,179h1.5v5h-1.5M266,190h1.5v5h-1.5M266,201h1.5v11h-1.5M266,217h1.5v6h-1.5M266,284h1.5v5h-1.5M267.5,58h1.5v5h-1.5M267.5,102h1.5v11h-1.5M267.5,190h1.5v5h-1.5M267.5,251h1.5v5h-1.5M269,52h1.5v11h-1.5M269,107h1.5v6h-1.5M269,190h1.5v5h-1.5M270.5,52h1.5v11h-1.5M270.5,102h1.5v11h-1.5M272,52h1.5v6h-1.5M272,102h1.5v5h-1.5M272,184h1.5v6h-1.5M273.5,52h1.5v6h-1.5M273.5,102h1.5v5h-1.5M273.5,135h1.5v5h-1.5M273.5,168h1.5v5h-1.5M275,52h1.5v11h-1.5M275,113h1.5v5h-1.5M275,135h1.5v11h-1.5M275,168h1.5v5h-1.5M275,206h1.5v6h-1.5M275,223h1.5v5h-1.5M275,245h1.5v6h-1.5M276.5,52h1.5v6h-1.5M276.5,102h1.5v5h-1.5M276.5,135h1.5v11h-1.5M276.5,173h1.5v6h-1.5M276.5,212h1.5v5h-1.5M278,63h1.5v6h-1.5M278,102h1.5v5h-1.5M279.5,52h1.5v17h-1.5M279.5,102h1.5v5h-1.5M279.5,135h1.5v11h-1.5M279.5,179h1.5v5h-1.5M281,58h1.5v5h-1.5M281,102h1.5v5h-1.5M281,135h1.5v11h-1.5M281,179h1.5v11h-1.5M281,201h1.5v5h-1.5M282.5,58h1.5v11h-1.5M282.5,102h1.5v5h-1.5M282.5,135h1.5v5h-1.5M282.5,179h1.5v5h-1.5M284,69h1.5v5h-1.5M284,102h1.5v5h-1.5M284,135h1.5v5h-1.5M284,173h1.5v6h-1.5M284,190h1.5v5h-1.5M285.5,58h1.5v5h-1.5M285.5,102h1.5v5h-1.5M285.5,140h1.5v6h-1.5M285.5,262h1.5v5h-1.5M287,58h1.5v11h-1.5M287,102h1.5v5h-1.5M287,173h1.5v6h-1.5M288.5,52h1.5v11h-1.5M288.5,102h1.5v5h-1.5M288.5,140h1.5v6h-1.5M288.5,173h1.5v6h-1.5M288.5,206h1.5v6h-1.5M290,52h1.5v11h-1.5M290,102h1.5v5h-1.5M290,140h1.5v6h-1.5M290,173h1.5v6h-1.5M291.5,52h1.5v17h-1.5M291.5,102h1.5v5h-1.5M291.5,135h1.5v11h-1.5M291.5,173h1.5v11h-1.5M293,52h1.5v6h-1.5M293,140h1.5v6h-1.5M293,168h1.5v11h-1.5M294.5,52h1.5v11h-1.5M294.5,102h1.5v5h-1.5M294.5,135h1.5v5h-1.5M296,52h1.5v11h-1.5M296,135h1.5v11h-1.5M297.5,52h1.5v6h-1.5M297.5,135h1.5v5h-1.5M297.5,173h1.5v6h-1.5M297.5,195h1.5v6h-1.5M297.5,212h1.5v5h-1.5M299,52h1.5v17h-1.5M299,135h1.5v5h-1.5M299,173h1.5v6h-1.5M299,201h1.5v5h-1.5M300.5,173h1.5v6h-1.5M302,52h1.5v11h-1.5M302,135h1.5v11h-1.5M302,168h1.5v5h-1.5M302,195h1.5v17h-1.5M302,240h1.5v5h-1.5M302,256h1.5v11h-1.5M302,284h1.5v5h-1.5M302,306h1.5v5h-1.5M303.5,52h1.5v6h-1.5M303.5,69h1.5v5h-1.5M303.5,135h1.5v5h-1.5M303.5,195h1.5v6h-1.5M303.5,206h1.5v6h-1.5M303.5,223h1.5v5h-1.5M303.5,245h1.5v39h-1.5M303.5,300h1.5v11h-1.5M305,58h1.5v11h-1.5M305,102h1.5v5h-1.5M305,140h1.5v6h-1.5M305,173h1.5v6h-1.5M305,195h1.5v6h-1.5M305,212h1.5v5h-1.5M305,234h1.5v6h-1.5M305,245h1.5v11h-1.5M305,284h1.5v5h-1.5M305,300h1.5v6h-1.5M306.5,52h1.5v6h-1.5M306.5,63h1.5v6h-1.5M306.5,140h1.5v6h-1.5M306.5,173h1.5v6h-1.5M306.5,223h1.5v11h-1.5M306.5,295h1.5v5h-1.5M308,58h1.5v11h-1.5M308,107h1.5v6h-1.5M308,135h1.5v11h-1.5M308,168h1.5v11h-1.5M309.5,52h1.5v22h-1.5M309.5,135h1.5v11h-1.5M309.5,173h1.5v6h-1.5M311,63h1.5v6h-1.5M311,179h1.5v5h-1.5M311,212h1.5v5h-1.5M311,234h1.5v6h-1.5M311,289h1.5v6h-1.5M312.5,58h1.5v5h-1.5M312.5,102h1.5v5h-1.5M312.5,135h1.5v5h-1.5M314,52h1.5v11h-1.5M314,102h1.5v5h-1.5M314,135h1.5v11h-1.5M314,173h1.5v6h-1.5M315.5,63h1.5v6h-1.5M315.5,102h1.5v5h-1.5M315.5,135h1.5v5h-1.5M315.5,173h1.5v6h-1.5M317,58h1.5v5h-1.5M317,135h1.5v11h-1.5M317,168h1.5v5h-1.5M318.5,52h1.5v17h-1.5M318.5,102h1.5v5h-1.5M318.5,168h1.5v5h-1.5M320,52h1.5v17h-1.5M320,102h1.5v5h-1.5M320,168h1.5v5h-1.5M321.5,102h1.5v5h-1.5M323,52h1.5v6h-1.5M323,69h1.5v5h-1.5M323,168h1.5v11h-1.5M324.5,52h1.5v11h-1.5M324.5,168h1.5v5h-1.5M327.5,52h1.5v17h-1.5M327.5,168h1.5v5h-1.5M329,52h1.5v17h-1.5M329,102h1.5v5h-1.5M330.5,52h1.5v6h-1.5M330.5,102h1.5v5h-1.5M330.5,168h1.5v5h-1.5M332,52h1.5v11h-1.5M332,102h1.5v5h-1.5M332,168h1.5v5h-1.5M333.5,52h1.5v11h-1.5M333.5,102h1.5v5h-1.5M333.5,173h1.5v6h-1.5M335,58h1.5v5h-1.5M335,168h1.5v11h-1.5M336.5,52h1.5v11h-1.5M336.5,96h1.5v11h-1.5M336.5,168h1.5v5h-1.5M338,52h1.5v11h-1.5M338,162h1.5v17h-1.5M339.5,63h1.5v11h-1.5M339.5,96h1.5v11h-1.5M339.5,162h1.5v6h-1.5M339.5,173h1.5v6h-1.5M341,52h1.5v6h-1.5M341,63h1.5v6h-1.5M341,102h1.5v5h-1.5M341,157h1.5v22h-1.5M342.5,52h1.5v11h-1.5M342.5,102h1.5v5h-1.5M342.5,168h1.5v5h-1.5M344,58h1.5v11h-1.5M344,102h1.5v5h-1.5M344,168h1.5v5h-1.5M345.5,52h1.5v17h-1.5M345.5,102h1.5v5h-1.5M345.5,162h1.5v17h-1.5M347,173h1.5v6h-1.5M347,212h1.5v5h-1.5M348.5,91h1.5v5h-1.5M348.5,102h1.5v5h-1.5M348.5,173h1.5v11h-1.5M350,52h1.5v22h-1.5M350,102h1.5v5h-1.5M350,173h1.5v17h-1.5M350,201h1.5v5h-1.5M351.5,52h1.5v17h-1.5M351.5,102h1.5v5h-1.5M351.5,168h1.5v11h-1.5M353,52h1.5v17h-1.5M353,173h1.5v6h-1.5M353,184h1.5v6h-1.5M353,201h1.5v5h-1.5M354.5,102h1.5v5h-1.5M354.5,173h1.5v11h-1.5M354.5,190h1.5v5h-1.5M356,52h1.5v11h-1.5M356,102h1.5v5h-1.5M356,168h1.5v11h-1.5M356,184h1.5v6h-1.5M357.5,91h1.5v16h-1.5M357.5,173h1.5v11h-1.5M357.5,206h1.5v6h-1.5M357.5,217h1.5v6h-1.5M359,69h1.5v5h-1.5M359,96h1.5v6h-1.5M359,173h1.5v6h-1.5M359,195h1.5v6h-1.5M360.5,58h1.5v11h-1.5M360.5,96h1.5v11h-1.5M360.5,173h1.5v6h-1.5M360.5,184h1.5v6h-1.5M362,52h1.5v22h-1.5M362,102h1.5v5h-1.5M362,173h1.5v11h-1.5M363.5,52h1.5v17h-1.5M363.5,102h1.5v5h-1.5M363.5,179h1.5v11h-1.5M365,52h1.5v11h-1.5M365,96h1.5v11h-1.5M366.5,52h1.5v11h-1.5M366.5,96h1.5v11h-1.5M366.5,173h1.5v6h-1.5M366.5,184h1.5v6h-1.5M368,52h1.5v17h-1.5M368,85h1.5v11h-1.5M368,102h1.5v5h-1.5M368,173h1.5v6h-1.5M369.5,58h1.5v11h-1.5M369.5,91h1.5v5h-1.5M369.5,102h1.5v5h-1.5M369.5,179h1.5v16h-1.5M371,52h1.5v11h-1.5M371,91h1.5v5h-1.5M371,102h1.5v5h-1.5M371,173h1.5v11h-1.5M372.5,52h1.5v6h-1.5M372.5,63h1.5v6h-1.5M372.5,91h1.5v5h-1.5M372.5,179h1.5v11h-1.5M374,63h1.5v6h-1.5M374,85h1.5v6h-1.5M374,184h1.5v11h-1.5M375.5,52h1.5v17h-1.5M375.5,85h1.5v6h-1.5M377,52h1.5v6h-1.5M377,74h1.5v6h-1.5M377,190h1.5v11h-1.5M378.5,58h1.5v5h-1.5M378.5,184h1.5v6h-1.5M380,217h1.5v11h-1.5M380,234h1.5v6h-1.5M381.5,63h1.5v6h-1.5M381.5,184h1.5v6h-1.5M381.5,212h1.5v5h-1.5M383,58h1.5v11h-1.5M383,184h1.5v11h-1.5M384.5,52h1.5v11h-1.5M384.5,69h1.5v5h-1.5M384.5,195h1.5v6h-1.5M386,52h1.5v6h-1.5M386,63h1.5v6h-1.5M386,80h1.5v5h-1.5M386,184h1.5v6h-1.5M386,195h1.5v6h-1.5M387.5,58h1.5v5h-1.5M389,52h1.5v6h-1.5M389,80h1.5v5h-1.5M392,52h1.5v11h-1.5M392,69h1.5v16h-1.5M392,206h1.5v6h-1.5M392,228h1.5v6h-1.5M393.5,74h1.5v11h-1.5M393.5,195h1.5v11h-1.5M393.5,212h1.5v5h-1.5M395,52h1.5v11h-1.5M395,69h1.5v5h-1.5M395,80h1.5v5h-1.5M395,184h1.5v11h-1.5M396.5,58h1.5v5h-1.5M396.5,80h1.5v5h-1.5M396.5,184h1.5v6h-1.5M398,179h1.5v11h-1.5M399.5,58h1.5v11h-1.5M399.5,80h1.5v5h-1.5M399.5,201h1.5v5h-1.5M399.5,212h1.5v5h-1.5M401,179h1.5v5h-1.5M402.5,80h1.5v5h-1.5M402.5,195h1.5v6h-1.5M404,52h1.5v6h-1.5M404,69h1.5v5h-1.5M404,80h1.5v5h-1.5M404,173h1.5v17h-1.5M405.5,52h1.5v6h-1.5M405.5,63h1.5v11h-1.5M405.5,173h1.5v11h-1.5M405.5,217h1.5v6h-1.5M407,173h1.5v6h-1.5M407,184h1.5v6h-1.5M408.5,69h1.5v5h-1.5M408.5,173h1.5v11h-1.5M410,74h1.5v6h-1.5M410,179h1.5v5h-1.5M411.5,63h1.5v11h-1.5M411.5,184h1.5v6h-1.5M413,52h1.5v6h-1.5M413,63h1.5v6h-1.5M413,179h1.5v11h-1.5M414.5,52h1.5v11h-1.5M414.5,184h1.5v11h-1.5M416,52h1.5v6h-1.5M417.5,52h1.5v6h-1.5M417.5,184h1.5v6h-1.5M419,52h1.5v6h-1.5M420.5,52h1.5v6h-1.5M420.5,190h1.5v5h-1.5M423.5,184h1.5v6h-1.5M425,184h1.5v6h-1.5M425,195h1.5v6h-1.5M426.5,184h1.5v11h-1.5M428,190h1.5v11h-1.5M429.5,184h1.5v11h-1.5M429.5,201h1.5v5h-1.5M431,184h1.5v17h-1.5M431,206h1.5v6h-1.5M432.5,184h1.5v17h-1.5M434,201h1.5v16h-1.5M435.5,206h1.5v6h-1.5M437,206h1.5v6h-1.5M438.5,217h1.5v11h-1.5M440,228h1.5v6h-1.5M441.5,245h1.5v6h-1.5M443,223h1.5v5h-1.5M444.5,212h1.5v5h-1.5M446,217h1.5v6h-1.5M447.5,217h1.5v6h-1.5M447.5,228h1.5v12h-1.5M447.5,273h1.5v5h-1.5M450.5,228h1.5v12h-1.5M452,212h1.5v5h-1.5M453.5,206h1.5v6h-1.5M455,206h1.5v11h-1.5M458,201h1.5v11h-1.5M459.5,201h1.5v5h-1.5M459.5,223h1.5v5h-1.5M461,206h1.5v11h-1.5M462.5,179h1.5v5h-1.5M462.5,190h1.5v11h-1.5M464,173h1.5v17h-1.5M465.5,173h1.5v28h-1.5M465.5,212h1.5v5h-1.5M467,173h1.5v6h-1.5M468.5,173h1.5v6h-1.5M470,168h1.5v5h-1.5M471.5,173h1.5v6h-1.5M471.5,190h1.5v5h-1.5M474.5,168h1.5v5h-1.5M476,168h1.5v5h-1.5M477.5,168h1.5v5h-1.5M482,168h1.5v5h-1.5M483.5,168h1.5v5h-1.5M485,135h1.5v5h-1.5M485,168h1.5v5h-1.5M488,179h1.5v5h-1.5M488,190h1.5v5h-1.5M489.5,195h1.5v6h-1.5M491,173h1.5v28h-1.5M494,135h1.5v5h-1.5M494,168h1.5v5h-1.5M497,135h1.5v5h-1.5M498.5,135h1.5v5h-1.5M500,63h1.5v11h-1.5M501.5,58h1.5v11h-1.5M501.5,80h1.5v5h-1.5M503,58h1.5v5h-1.5M503,69h1.5v11h-1.5M504.5,58h1.5v16h-1.5M504.5,184h1.5v11h-1.5M506,58h1.5v27h-1.5M506,135h1.5v5h-1.5M506,179h1.5v5h-1.5M507.5,58h1.5v5h-1.5M507.5,69h1.5v11h-1.5M507.5,135h1.5v5h-1.5M507.5,195h1.5v6h-1.5M509,173h1.5v11h-1.5M509,190h1.5v16h-1.5M510.5,58h1.5v5h-1.5M510.5,179h1.5v11h-1.5M510.5,195h1.5v11h-1.5M512,58h1.5v5h-1.5M512,74h1.5v6h-1.5M512,179h1.5v38h-1.5M513.5,69h1.5v5h-1.5M513.5,206h1.5v17h-1.5M513.5,228h1.5v6h-1.5M515,58h1.5v27h-1.5M515,212h1.5v5h-1.5M515,223h1.5v11h-1.5M516.5,179h1.5v11h-1.5M516.5,206h1.5v6h-1.5M518,184h1.5v6h-1.5M518,206h1.5v6h-1.5M518,223h1.5v5h-1.5M519.5,184h1.5v6h-1.5M519.5,212h1.5v5h-1.5M519.5,223h1.5v5h-1.5M519.5,251h1.5v5h-1.5M521,52h1.5v6h-1.5M521,184h1.5v6h-1.5M521,212h1.5v16h-1.5M521,240h1.5v5h-1.5M522.5,52h1.5v6h-1.5M522.5,184h1.5v6h-1.5M522.5,212h1.5v28h-1.5M522.5,262h1.5v5h-1.5M524,52h1.5v11h-1.5M524,74h1.5v6h-1.5M524,184h1.5v6h-1.5M524,206h1.5v6h-1.5M524,217h1.5v17h-1.5M524,240h1.5v11h-1.5M525.5,52h1.5v11h-1.5M525.5,69h1.5v11h-1.5M525.5,184h1.5v6h-1.5M525.5,206h1.5v6h-1.5M525.5,217h1.5v6h-1.5M527,58h1.5v5h-1.5M527,190h1.5v5h-1.5M528.5,52h1.5v6h-1.5M528.5,206h1.5v17h-1.5M530,80h1.5v5h-1.5M530,184h1.5v6h-1.5M530,212h1.5v16h-1.5M530,240h1.5v5h-1.5M531.5,184h1.5v6h-1.5M531.5,206h1.5v6h-1.5M531.5,217h1.5v6h-1.5M533,63h1.5v6h-1.5M533,74h1.5v6h-1.5M533,206h1.5v6h-1.5M533,228h1.5v12h-1.5M533,245h1.5v6h-1.5M533,256h1.5v6h-1.5M534.5,52h1.5v6h-1.5M534.5,63h1.5v6h-1.5M534.5,74h1.5v6h-1.5M534.5,212h1.5v5h-1.5M534.5,223h1.5v5h-1.5M536,52h1.5v6h-1.5M536,63h1.5v17h-1.5M536,223h1.5v5h-1.5M536,245h1.5v11h-1.5M537.5,52h1.5v6h-1.5M537.5,212h1.5v5h-1.5M537.5,240h1.5v5h-1.5M537.5,251h1.5v5h-1.5M539,52h1.5v11h-1.5M539,69h1.5v5h-1.5M539,223h1.5v17h-1.5M539,251h1.5v5h-1.5M540.5,58h1.5v5h-1.5M540.5,74h1.5v6h-1.5M540.5,184h1.5v6h-1.5M540.5,228h1.5v6h-1.5M542,74h1.5v6h-1.5M542,184h1.5v6h-1.5M542,217h1.5v6h-1.5M543.5,63h1.5v6h-1.5M543.5,74h1.5v6h-1.5M543.5,217h1.5v6h-1.5M545,58h1.5v11h-1.5M545,74h1.5v6h-1.5M545,184h1.5v6h-1.5M545,223h1.5v5h-1.5M546.5,63h1.5v17h-1.5M546.5,190h1.5v5h-1.5M546.5,217h1.5v6h-1.5M548,63h1.5v11h-1.5M548,179h1.5v5h-1.5M548,190h1.5v5h-1.5M548,217h1.5v6h-1.5M548,228h1.5v6h-1.5M549.5,69h1.5v11h-1.5M549.5,179h1.5v11h-1.5M549.5,228h1.5v6h-1.5M549.5,240h1.5v5h-1.5M549.5,262h1.5v5h-1.5M551,58h1.5v11h-1.5M551,184h1.5v6h-1.5M551,223h1.5v11h-1.5M552.5,63h1.5v6h-1.5M552.5,74h1.5v6h-1.5M552.5,223h1.5v17h-1.5M552.5,251h1.5v5h-1.5M554,58h1.5v5h-1.5M554,69h1.5v11h-1.5M554,179h1.5v5h-1.5M554,190h1.5v5h-1.5M554,234h1.5v6h-1.5M554,245h1.5v6h-1.5M555.5,58h1.5v11h-1.5M555.5,74h1.5v6h-1.5M555.5,179h1.5v11h-1.5M555.5,223h1.5v5h-1.5M555.5,234h1.5v11h-1.5M557,58h1.5v5h-1.5M557,69h1.5v5h-1.5M557,179h1.5v5h-1.5M557,190h1.5v5h-1.5M557,217h1.5v17h-1.5M558.5,63h1.5v11h-1.5M558.5,190h1.5v5h-1.5M558.5,223h1.5v5h-1.5M558.5,240h1.5v5h-1.5M558.5,256h1.5v6h-1.5M560,179h1.5v16h-1.5M561.5,179h1.5v16h-1.5M561.5,228h1.5v12h-1.5M561.5,251h1.5v5h-1.5M563,228h1.5v6h-1.5M563,240h1.5v5h-1.5M563,262h1.5v5h-1.5M564.5,179h1.5v5h-1.5M564.5,190h1.5v5h-1.5M564.5,234h1.5v6h-1.5M566,184h1.5v6h-1.5M566,228h1.5v6h-1.5M567.5,179h1.5v5h-1.5M567.5,228h1.5v6h-1.5M567.5,245h1.5v6h-1.5M569,228h1.5v6h-1.5M569,240h1.5v16h-1.5M572,223h1.5v11h-1.5M573.5,184h1.5v11h-1.5M573.5,217h1.5v23h-1.5M575,267h1.5v6h-1.5M576.5,228h1.5v12h-1.5M576.5,251h1.5v5h-1.5M576.5,267h1.5v6h-1.5M578,184h1.5v6h-1.5M578,228h1.5v12h-1.5M579.5,184h1.5v6h-1.5M579.5,217h1.5v6h-1.5M579.5,228h1.5v6h-1.5M579.5,245h1.5v6h-1.5M581,173h1.5v6h-1.5M581,184h1.5v11h-1.5M581,217h1.5v11h-1.5M582.5,179h1.5v11h-1.5M582.5,217h1.5v11h-1.5M584,173h1.5v22h-1.5M585.5,184h1.5v6h-1.5M585.5,217h1.5v6h-1.5M585.5,240h1.5v5h-1.5M587,173h1.5v11h-1.5M587,190h1.5v5h-1.5M587,217h1.5v6h-1.5M588.5,168h1.5v5h-1.5M588.5,217h1.5v6h-1.5M590,168h1.5v5h-1.5M590,217h1.5v6h-1.5M590,228h1.5v6h-1.5M591.5,184h1.5v6h-1.5M591.5,228h1.5v6h-1.5M593,190h1.5v5h-1.5M593,217h1.5v6h-1.5M594.5,168h1.5v5h-1.5M594.5,217h1.5v6h-1.5M596,168h1.5v5h-1.5M596,179h1.5v5h-1.5M596,223h1.5v5h-1.5M596,234h1.5v11h-1.5M597.5,168h1.5v5h-1.5M597.5,217h1.5v11h-1.5M597.5,234h1.5v11h-1.5M597.5,251h1.5v5h-1.5M597.5,267h1.5v6h-1.5M599,168h1.5v5h-1.5M599,217h1.5v6h-1.5M600.5,190h1.5v5h-1.5M600.5,234h1.5v6h-1.5M600.5,251h1.5v5h-1.5M602,190h1.5v5h-1.5M602,217h1.5v11h-1.5M602,234h1.5v11h-1.5M603.5,168h1.5v5h-1.5M603.5,217h1.5v6h-1.5M605,168h1.5v5h-1.5M605,184h1.5v6h-1.5M605,223h1.5v5h-1.5M605,234h1.5v6h-1.5M606.5,217h1.5v6h-1.5M606.5,228h1.5v6h-1.5M608,168h1.5v5h-1.5M608,217h1.5v6h-1.5M609.5,217h1.5v11h-1.5M611,168h1.5v5h-1.5M611,217h1.5v17h-1.5M612.5,168h1.5v5h-1.5M612.5,190h1.5v5h-1.5M612.5,217h1.5v6h-1.5M612.5,228h1.5v6h-1.5M614,190h1.5v5h-1.5M614,217h1.5v17h-1.5M615.5,190h1.5v5h-1.5M615.5,217h1.5v6h-1.5M615.5,234h1.5v6h-1.5M617,168h1.5v5h-1.5M617,190h1.5v5h-1.5M617,223h1.5v5h-1.5M617,256h1.5v6h-1.5M618.5,168h1.5v5h-1.5M618.5,217h1.5v6h-1.5M620,217h1.5v6h-1.5M620,234h1.5v6h-1.5M620,245h1.5v6h-1.5M621.5,240h1.5v11h-1.5M623,179h1.5v11h-1.5M623,223h1.5v11h-1.5M624.5,179h1.5v11h-1.5M624.5,217h1.5v11h-1.5M624.5,234h1.5v6h-1.5M624.5,245h1.5v6h-1.5M624.5,262h1.5v5h-1.5M626,168h1.5v5h-1.5M626,184h1.5v6h-1.5M626,212h1.5v5h-1.5M627.5,168h1.5v5h-1.5M627.5,184h1.5v11h-1.5M627.5,217h1.5v6h-1.5M627.5,240h1.5v5h-1.5M629,184h1.5v11h-1.5M629,234h1.5v6h-1.5M630.5,184h1.5v6h-1.5M630.5,240h1.5v11h-1.5M630.5,262h1.5v5h-1.5M632,168h1.5v5h-1.5M632,195h1.5v6h-1.5M632,206h1.5v6h-1.5M633.5,168h1.5v5h-1.5M633.5,206h1.5v6h-1.5M635,184h1.5v11h-1.5M635,206h1.5v11h-1.5M635,234h1.5v6h-1.5M636.5,173h1.5v6h-1.5M636.5,217h1.5v6h-1.5M638,184h1.5v33h-1.5M638,223h1.5v5h-1.5M639.5,184h1.5v6h-1.5M639.5,195h1.5v22h-1.5M639.5,240h1.5v5h-1.5M641,168h1.5v5h-1.5M641,201h1.5v16h-1.5M642.5,168h1.5v5h-1.5M642.5,190h1.5v5h-1.5M642.5,201h1.5v5h-1.5M642.5,217h1.5v6h-1.5M644,184h1.5v11h-1.5M644,201h1.5v5h-1.5M644,217h1.5v6h-1.5M645.5,173h1.5v11h-1.5M645.5,190h1.5v16h-1.5M647,190h1.5v5h-1.5M647,223h1.5v5h-1.5M648.5,135h1.5v5h-1.5M648.5,168h1.5v16h-1.5M648.5,190h1.5v16h-1.5M648.5,217h1.5v6h-1.5M650,168h1.5v11h-1.5M650,184h1.5v17h-1.5M651.5,168h1v11h-1M651.5,190h1v11h-1M651.5,217h1v11h-1"/>
<path fill="#0069fa" d="M143,63h1.5v6h-1.5M143,113h1.5v5h-1.5M143,311h1.5v11h-1.5M144.5,52h1.5v6h-1.5M144.5,63h1.5v6h-1.5M144.5,118h1.5v6h-1.5M146,107h1.5v6h-1.5M146,118h1.5v11h-1.5M146,317h1.5v5h-1.5M147.5,129h1.5v6h-1.5M147.5,162h1.5v6h-1.5M147.5,383h1.5v5h-1.5M149,58h1.5v5h-1.5M149,124h1.5v5h-1.5M149,162h1.5v6h-1.5M149,262h1.5v5h-1.5M150.5,63h1.5v6h-1.5M152,146h1.5v11h-1.5M153.5,52h1.5v6h-1.5M153.5,124h1.5v11h-1.5M153.5,140h1.5v6h-1.5M155,118h1.5v6h-1.5M155,129h1.5v11h-1.5M156.5,58h1.5v5h-1.5M156.5,118h1.5v11h-1.5M156.5,135h1.5v5h-1.5M158,52h1.5v6h-1.5M158,118h1.5v11h-1.5M159.5,124h1.5v11h-1.5M161,58h1.5v5h-1.5M161,118h1.5v6h-1.5M162.5,124h1.5v5h-1.5M164,124h1.5v5h-1.5M167,135h1.5v5h-1.5M168.5,135h1.5v5h-1.5M198.5,135h1.5v5h-1.5M200,129h1.5v11h-1.5M201.5,135h1.5v5h-1.5M203,107h1.5v11h-1.5M204.5,118h1.5v6h-1.5M204.5,267h1.5v6h-1.5M206,107h1.5v28h-1.5M207.5,228h1.5v6h-1.5M207.5,240h1.5v5h-1.5M207.5,256h1.5v6h-1.5M207.5,278h1.5v6h-1.5M207.5,295h1.5v5h-1.5M207.5,306h1.5v5h-1.5M207.5,317h1.5v5h-1.5M209,113h1.5v11h-1.5M209,129h1.5v11h-1.5M209,217h1.5v6h-1.5M209,234h1.5v6h-1.5M209,256h1.5v28h-1.5M209,295h1.5v5h-1.5M210.5,118h1.5v6h-1.5M212,58h1.5v5h-1.5M212,113h1.5v5h-1.5M212,146h1.5v5h-1.5M212,157h1.5v5h-1.5M212,212h1.5v11h-1.5M212,245h1.5v11h-1.5M212,289h1.5v17h-1.5M213.5,107h1.5v6h-1.5M213.5,140h1.5v11h-1.5M213.5,168h1.5v5h-1.5M213.5,201h1.5v5h-1.5M213.5,212h1.5v5h-1.5M213.5,256h1.5v11h-1.5M213.5,300h1.5v6h-1.5M215,146h1.5v16h-1.5M215,206h1.5v6h-1.5M215,217h1.5v6h-1.5M215,228h1.5v28h-1.5M215,278h1.5v6h-1.5M215,289h1.5v6h-1.5M216.5,162h1.5v11h-1.5M216.5,201h1.5v11h-1.5M216.5,217h1.5v23h-1.5M216.5,245h1.5v11h-1.5M216.5,262h1.5v5h-1.5M216.5,273h1.5v22h-1.5M216.5,300h1.5v6h-1.5M218,113h1.5v5h-1.5M218,146h1.5v16h-1.5M218,206h1.5v6h-1.5M218,223h1.5v5h-1.5M218,284h1.5v11h-1.5M219.5,52h1.5v6h-1.5M219.5,107h1.5v6h-1.5M219.5,157h1.5v11h-1.5M219.5,206h1.5v6h-1.5M219.5,223h1.5v11h-1.5M219.5,273h1.5v5h-1.5M221,58h1.5v5h-1.5M221,102h1.5v11h-1.5M221,212h1.5v5h-1.5M221,267h1.5v6h-1.5M221,295h1.5v11h-1.5M222.5,113h1.5v5h-1.5M222.5,206h1.5v11h-1.5M222.5,223h1.5v5h-1.5M222.5,234h1.5v11h-1.5M222.5,306h1.5v5h-1.5M224,52h1.5v11h-1.5M224,107h1.5v11h-1.5M224,162h1.5v6h-1.5M224,212h1.5v11h-1.5M224,228h1.5v6h-1.5M225.5,102h1.5v5h-1.5M225.5,162h1.5v6h-1.5M225.5,201h1.5v11h-1.5M225.5,306h1.5v5h-1.5M227,52h1.5v6h-1.5M227,102h1.5v5h-1.5M227,113h1.5v5h-1.5M227,162h1.5v6h-1.5M227,195h1.5v6h-1.5M227,217h1.5v6h-1.5M227,228h1.5v12h-1.5M228.5,52h1.5v6h-1.5M228.5,107h1.5v6h-1.5M228.5,162h1.5v6h-1.5M228.5,201h1.5v5h-1.5M230,58h1.5v5h-1.5M230,162h1.5v11h-1.5M230,195h1.5v11h-1.5M230,240h1.5v5h-1.5M230,306h1.5v5h-1.5M231.5,107h1.5v6h-1.5M231.5,173h1.5v6h-1.5M231.5,251h1.5v5h-1.5M231.5,267h1.5v6h-1.5M231.5,295h1.5v5h-1.5M233,168h1.5v5h-1.5M233,179h1.5v16h-1.5M233,251h1.5v11h-1.5M233,295h1.5v5h-1.5M233,306h1.5v5h-1.5M234.5,58h1.5v11h-1.5M234.5,168h1.5v5h-1.5M234.5,179h1.5v5h-1.5M234.5,273h1.5v5h-1.5M234.5,300h1.5v11h-1.5M236,179h1.5v5h-1.5M236,284h1.5v5h-1.5M237.5,344h1.5v6h-1.5M239,63h1.5v6h-1.5M239,96h1.5v6h-1.5M240.5,63h1.5v6h-1.5M240.5,311h1.5v6h-1.5M242,102h1.5v5h-1.5M243.5,311h1.5v6h-1.5M245,311h1.5v6h-1.5M245,328h1.5v11h-1.5M245,344h1.5v6h-1.5M246.5,102h1.5v5h-1.5M246.5,311h1.5v6h-1.5M248,102h1.5v5h-1.5M248,173h1.5v6h-1.5M249.5,52h1.5v6h-1.5M249.5,179h1.5v5h-1.5M251,63h1.5v6h-1.5M251,96h1.5v6h-1.5M251,311h1.5v6h-1.5M252.5,69h1.5v5h-1.5M252.5,91h1.5v5h-1.5M252.5,311h1.5v6h-1.5M252.5,322h1.5v33h-1.5M254,96h1.5v6h-1.5M255.5,102h1.5v5h-1.5M257,96h1.5v6h-1.5M257,311h1.5v6h-1.5M257,339h1.5v5h-1.5M258.5,179h1.5v11h-1.5M260,184h1.5v6h-1.5M261.5,63h1.5v6h-1.5M261.5,91h1.5v5h-1.5M261.5,168h1.5v5h-1.5M263,168h1.5v16h-1.5M264.5,63h1.5v6h-1.5M264.5,102h1.5v5h-1.5M264.5,179h1.5v11h-1.5M266,102h1.5v5h-1.5M266,168h1.5v5h-1.5M267.5,63h1.5v6h-1.5M267.5,96h1.5v6h-1.5M267.5,168h1.5v11h-1.5M267.5,184h1.5v6h-1.5M269,102h1.5v5h-1.5M269,168h1.5v5h-1.5M269,184h1.5v6h-1.5M270.5,184h1.5v11h-1.5M272,69h1.5v5h-1.5M272,179h1.5v5h-1.5M273.5,173h1.5v6h-1.5M273.5,190h1.5v5h-1.5M275,102h1.5v5h-1.5M275,173h1.5v11h-1.5M275,190h1.5v5h-1.5M276.5,190h1.5v5h-1.5M278,184h1.5v6h-1.5M278,355h1.5v6h-1.5M279.5,184h1.5v11h-1.5M281,63h1.5v11h-1.5M281,173h1.5v6h-1.5M281,190h1.5v5h-1.5M282.5,184h1.5v11h-1.5M284,179h1.5v11h-1.5M285.5,135h1.5v5h-1.5M285.5,173h1.5v6h-1.5M285.5,190h1.5v5h-1.5M287,179h1.5v16h-1.5M287,339h1.5v5h-1.5M288.5,63h1.5v6h-1.5M288.5,96h1.5v6h-1.5M288.5,135h1.5v5h-1.5M288.5,190h1.5v5h-1.5M290,135h1.5v5h-1.5M290,179h1.5v5h-1.5M290,190h1.5v5h-1.5M291.5,184h1.5v11h-1.5M293,63h1.5v6h-1.5M293,102h1.5v5h-1.5M293,190h1.5v5h-1.5M294.5,173h1.5v11h-1.5M294.5,190h1.5v5h-1.5M296,63h1.5v6h-1.5M296,102h1.5v5h-1.5M296,173h1.5v6h-1.5M296,190h1.5v5h-1.5M297.5,63h1.5v11h-1.5M297.5,102h1.5v5h-1.5M297.5,140h1.5v6h-1.5M299,69h1.5v5h-1.5M299,179h1.5v11h-1.5M300.5,69h1.5v5h-1.5M300.5,190h1.5v5h-1.5M300.5,350h1.5v5h-1.5M302,63h1.5v11h-1.5M302,173h1.5v17h-1.5M303.5,63h1.5v6h-1.5M303.5,173h1.5v11h-1.5M303.5,190h1.5v5h-1.5M303.5,201h1.5v5h-1.5M305,179h1.5v5h-1.5M305,217h1.5v6h-1.5M305,240h1.5v5h-1.5M305,306h1.5v5h-1.5M306.5,69h1.5v5h-1.5M306.5,135h1.5v5h-1.5M306.5,217h1.5v6h-1.5M306.5,234h1.5v11h-1.5M306.5,251h1.5v5h-1.5M306.5,267h1.5v28h-1.5M306.5,300h1.5v11h-1.5M308,179h1.5v5h-1.5M309.5,102h1.5v5h-1.5M309.5,206h1.5v6h-1.5M311,96h1.5v11h-1.5M311,190h1.5v11h-1.5M311,240h1.5v5h-1.5M311,256h1.5v6h-1.5M311,295h1.5v5h-1.5M312.5,179h1.5v5h-1.5M312.5,190h1.5v11h-1.5M312.5,228h1.5v6h-1.5M314,69h1.5v5h-1.5M314,179h1.5v5h-1.5M315.5,69h1.5v5h-1.5M315.5,96h1.5v6h-1.5M317,52h1.5v6h-1.5M317,63h1.5v6h-1.5M317,96h1.5v11h-1.5M317,173h1.5v6h-1.5M318.5,69h1.5v5h-1.5M320,173h1.5v6h-1.5M321.5,69h1.5v5h-1.5M321.5,173h1.5v6h-1.5M323,179h1.5v5h-1.5M324.5,102h1.5v5h-1.5M326,52h1.5v11h-1.5M326,69h1.5v5h-1.5M326,102h1.5v5h-1.5M326,168h1.5v5h-1.5M327.5,69h1.5v5h-1.5M329,69h1.5v5h-1.5M329,168h1.5v5h-1.5M330.5,96h1.5v6h-1.5M330.5,173h1.5v6h-1.5M332,179h1.5v5h-1.5M333.5,69h1.5v5h-1.5M333.5,168h1.5v5h-1.5M335,69h1.5v5h-1.5M335,102h1.5v5h-1.5M336.5,173h1.5v6h-1.5M338,102h1.5v5h-1.5M339.5,58h1.5v5h-1.5M339.5,168h1.5v5h-1.5M341,69h1.5v5h-1.5M341,96h1.5v6h-1.5M342.5,69h1.5v5h-1.5M342.5,96h1.5v6h-1.5M342.5,162h1.5v6h-1.5M342.5,173h1.5v6h-1.5M344,52h1.5v6h-1.5M344,69h1.5v5h-1.5M344,96h1.5v6h-1.5M344,162h1.5v6h-1.5M344,173h1.5v6h-1.5M345.5,179h1.5v11h-1.5M347,69h1.5v5h-1.5M347,96h1.5v6h-1.5M347,184h1.5v11h-1.5M347,201h1.5v11h-1.5M348.5,69h1.5v5h-1.5M348.5,190h1.5v11h-1.5M348.5,206h1.5v6h-1.5M350,96h1.5v6h-1.5M350,190h1.5v11h-1.5M351.5,69h1.5v5h-1.5M351.5,179h1.5v5h-1.5M351.5,206h1.5v6h-1.5M353,179h1.5v5h-1.5M353,190h1.5v11h-1.5M353,206h1.5v6h-1.5M354.5,69h1.5v5h-1.5M356,69h1.5v5h-1.5M356,179h1.5v5h-1.5M357.5,69h1.5v11h-1.5M357.5,228h1.5v6h-1.5M359,74h1.5v6h-1.5M359,201h1.5v5h-1.5M359,212h1.5v5h-1.5M359,223h1.5v5h-1.5M360.5,69h1.5v5h-1.5M360.5,91h1.5v5h-1.5M360.5,179h1.5v5h-1.5M360.5,190h1.5v16h-1.5M362,91h1.5v11h-1.5M362,184h1.5v6h-1.5M362,201h1.5v5h-1.5M363.5,69h1.5v5h-1.5M363.5,91h1.5v11h-1.5M363.5,173h1.5v6h-1.5M363.5,195h1.5v6h-1.5M363.5,206h1.5v6h-1.5M365,69h1.5v11h-1.5M365,91h1.5v5h-1.5M365,173h1.5v6h-1.5M365,190h1.5v5h-1.5M365,206h1.5v6h-1.5M365,223h1.5v5h-1.5M366.5,69h1.5v5h-1.5M366.5,91h1.5v5h-1.5M366.5,179h1.5v5h-1.5M366.5,190h1.5v5h-1.5M368,69h1.5v5h-1.5M368,184h1.5v11h-1.5M369.5,206h1.5v6h-1.5M369.5,217h1.5v6h-1.5M371,63h1.5v6h-1.5M371,85h1.5v6h-1.5M374,195h1.5v22h-1.5M375.5,69h1.5v16h-1.5M375.5,190h1.5v5h-1.5M375.5,212h1.5v5h-1.5M377,80h1.5v5h-1.5M377,201h1.5v5h-1.5M378.5,63h1.5v22h-1.5M380,69h1.5v5h-1.5M380,228h1.5v6h-1.5M380,289h1.5v6h-1.5M381.5,69h1.5v16h-1.5M381.5,206h1.5v6h-1.5M381.5,217h1.5v6h-1.5M383,69h1.5v5h-1.5M383,80h1.5v5h-1.5M384.5,63h1.5v6h-1.5M384.5,74h1.5v11h-1.5M386,69h1.5v5h-1.5M387.5,52h1.5v6h-1.5M387.5,63h1.5v11h-1.5M387.5,80h1.5v5h-1.5M387.5,184h1.5v6h-1.5M389,58h1.5v5h-1.5M390.5,58h1.5v5h-1.5M390.5,69h1.5v5h-1.5M390.5,80h1.5v5h-1.5M390.5,184h1.5v6h-1.5M392,223h1.5v5h-1.5M393.5,52h1.5v11h-1.5M393.5,190h1.5v5h-1.5M393.5,206h1.5v6h-1.5M395,63h1.5v6h-1.5M395,74h1.5v6h-1.5M395,195h1.5v6h-1.5M395,206h1.5v6h-1.5M396.5,52h1.5v6h-1.5M396.5,195h1.5v6h-1.5M396.5,212h1.5v5h-1.5M398,52h1.5v6h-1.5M398,69h1.5v16h-1.5M399.5,69h1.5v11h-1.5M399.5,206h1.5v6h-1.5M399.5,217h1.5v6h-1.5M401,58h1.5v5h-1.5M401,69h1.5v16h-1.5M401,184h1.5v6h-1.5M402.5,52h1.5v11h-1.5M402.5,69h1.5v11h-1.5M402.5,190h1.5v5h-1.5M402.5,201h1.5v11h-1.5M404,63h1.5v6h-1.5M404,74h1.5v6h-1.5M404,190h1.5v5h-1.5M405.5,58h1.5v5h-1.5M405.5,74h1.5v6h-1.5M405.5,195h1.5v6h-1.5M407,52h1.5v17h-1.5M407,74h1.5v6h-1.5M407,190h1.5v5h-1.5M408.5,52h1.5v11h-1.5M408.5,184h1.5v11h-1.5M410,52h1.5v22h-1.5M410,184h1.5v17h-1.5M411.5,52h1.5v11h-1.5M413,58h1.5v5h-1.5M413,190h1.5v11h-1.5M416,190h1.5v11h-1.5M417.5,190h1.5v11h-1.5M419,184h1.5v11h-1.5M420.5,206h1.5v6h-1.5M422,52h1.5v6h-1.5M422,184h1.5v6h-1.5M423.5,190h1.5v22h-1.5M425,190h1.5v5h-1.5M425,201h1.5v5h-1.5M426.5,195h1.5v22h-1.5M428,184h1.5v6h-1.5M428,212h1.5v5h-1.5M429.5,195h1.5v6h-1.5M429.5,206h1.5v6h-1.5M431,201h1.5v5h-1.5M432.5,201h1.5v11h-1.5M434,217h1.5v6h-1.5M435.5,223h1.5v5h-1.5M435.5,295h1.5v5h-1.5M437,212h1.5v5h-1.5M438.5,234h1.5v6h-1.5M440,217h1.5v6h-1.5M440,234h1.5v6h-1.5M440,245h1.5v6h-1.5M441.5,228h1.5v6h-1.5M441.5,240h1.5v5h-1.5M443,217h1.5v6h-1.5M447.5,267h1.5v6h-1.5M447.5,278h1.5v6h-1.5M449,223h1.5v17h-1.5M449,245h1.5v6h-1.5M450.5,262h1.5v22h-1.5M452,223h1.5v5h-1.5M452,240h1.5v5h-1.5M453.5,212h1.5v5h-1.5M453.5,223h1.5v5h-1.5M455,223h1.5v5h-1.5M455,245h1.5v22h-1.5M455,284h1.5v5h-1.5M456.5,206h1.5v6h-1.5M456.5,217h1.5v6h-1.5M456.5,234h1.5v6h-1.5M458,212h1.5v5h-1.5M459.5,206h1.5v17h-1.5M461,228h1.5v6h-1.5M461,240h1.5v11h-1.5M461,256h1.5v17h-1.5M461,278h1.5v17h-1.5M462.5,206h1.5v6h-1.5M464,190h1.5v22h-1.5M465.5,201h1.5v5h-1.5M465.5,228h1.5v6h-1.5M467,179h1.5v5h-1.5M467,195h1.5v6h-1.5M467,206h1.5v6h-1.5M468.5,179h1.5v5h-1.5M468.5,201h1.5v5h-1.5M471.5,179h1.5v5h-1.5M471.5,195h1.5v6h-1.5M473,173h1.5v11h-1.5M477.5,173h1.5v6h-1.5M477.5,184h1.5v6h-1.5M477.5,195h1.5v6h-1.5M479,179h1.5v11h-1.5M479,195h1.5v6h-1.5M480.5,195h1.5v6h-1.5M483.5,179h1.5v5h-1.5M483.5,195h1.5v6h-1.5M488,195h1.5v11h-1.5M489.5,173h1.5v6h-1.5M489.5,184h1.5v6h-1.5M489.5,201h1.5v5h-1.5M491,201h1.5v5h-1.5M492.5,190h1.5v5h-1.5M495.5,173h1.5v6h-1.5M495.5,184h1.5v11h-1.5M495.5,201h1.5v5h-1.5M497,179h1.5v22h-1.5M498.5,179h1.5v5h-1.5M500,173h1.5v17h-1.5M500,195h1.5v6h-1.5M500,206h1.5v6h-1.5M501.5,173h1.5v11h-1.5M503,173h1.5v33h-1.5M504.5,173h1.5v11h-1.5M504.5,195h1.5v6h-1.5M506,173h1.5v6h-1.5M506,195h1.5v6h-1.5M507.5,173h1.5v17h-1.5M509,58h1.5v5h-1.5M509,74h1.5v6h-1.5M509,212h1.5v5h-1.5M510.5,74h1.5v6h-1.5M510.5,190h1.5v5h-1.5M512,69h1.5v5h-1.5M512,234h1.5v6h-1.5M513.5,223h1.5v5h-1.5M515,217h1.5v6h-1.5M515,251h1.5v5h-1.5M516.5,212h1.5v11h-1.5M518,217h1.5v6h-1.5M518,228h1.5v6h-1.5M519.5,217h1.5v6h-1.5M519.5,228h1.5v17h-1.5M519.5,262h1.5v5h-1.5M521,228h1.5v12h-1.5M521,245h1.5v6h-1.5M522.5,206h1.5v6h-1.5M522.5,240h1.5v11h-1.5M524,69h1.5v5h-1.5M524,212h1.5v5h-1.5M524,256h1.5v11h-1.5M525.5,223h1.5v17h-1.5M525.5,251h1.5v5h-1.5M527,52h1.5v6h-1.5M527,74h1.5v6h-1.5M527,184h1.5v6h-1.5M527,206h1.5v11h-1.5M527,223h1.5v11h-1.5M528.5,63h1.5v17h-1.5M528.5,184h1.5v6h-1.5M528.5,240h1.5v5h-1.5M530,52h1.5v11h-1.5M530,69h1.5v11h-1.5M530,228h1.5v6h-1.5M530,245h1.5v6h-1.5M531.5,52h1.5v6h-1.5M531.5,63h1.5v17h-1.5M531.5,212h1.5v5h-1.5M531.5,223h1.5v5h-1.5M533,52h1.5v11h-1.5M533,69h1.5v5h-1.5M533,240h1.5v5h-1.5M533,251h1.5v5h-1.5M536,228h1.5v6h-1.5M536,256h1.5v6h-1.5M536,267h1.5v6h-1.5M537.5,69h1.5v11h-1.5M537.5,184h1.5v6h-1.5M537.5,217h1.5v11h-1.5M537.5,245h1.5v6h-1.5M539,74h1.5v6h-1.5M539,262h1.5v11h-1.5M540.5,52h1.5v6h-1.5M540.5,63h1.5v11h-1.5M540.5,223h1.5v5h-1.5M542,58h1.5v16h-1.5M542,223h1.5v11h-1.5M542,240h1.5v11h-1.5M543.5,58h1.5v5h-1.5M543.5,69h1.5v5h-1.5M543.5,184h1.5v6h-1.5M543.5,223h1.5v22h-1.5M543.5,251h1.5v5h-1.5M545,228h1.5v6h-1.5M545,240h1.5v5h-1.5M546.5,58h1.5v5h-1.5M546.5,184h1.5v6h-1.5M546.5,223h1.5v5h-1.5M546.5,234h1.5v6h-1.5M548,74h1.5v6h-1.5M548,184h1.5v6h-1.5M548,223h1.5v5h-1.5M548,251h1.5v5h-1.5M548,262h1.5v5h-1.5M549.5,251h1.5v11h-1.5M551,267h1.5v6h-1.5M552.5,184h1.5v6h-1.5M552.5,256h1.5v11h-1.5M554,184h1.5v6h-1.5M554,223h1.5v11h-1.5M555.5,190h1.5v5h-1.5M555.5,228h1.5v6h-1.5M555.5,245h1.5v11h-1.5M555.5,267h1.5v6h-1.5M557,184h1.5v6h-1.5M557,262h1.5v5h-1.5M558.5,179h1.5v11h-1.5M558.5,234h1.5v6h-1.5M560,262h1.5v5h-1.5M561.5,256h1.5v6h-1.5M563,184h1.5v6h-1.5M564.5,184h1.5v6h-1.5M564.5,240h1.5v5h-1.5M566,267h1.5v6h-1.5M567.5,184h1.5v6h-1.5M567.5,223h1.5v5h-1.5M567.5,251h1.5v5h-1.5M569,184h1.5v6h-1.5M569,262h1.5v5h-1.5M572,234h1.5v6h-1.5M572,245h1.5v6h-1.5M573.5,256h1.5v6h-1.5M576.5,262h1.5v5h-1.5M578,223h1.5v5h-1.5M578,240h1.5v11h-1.5M579.5,223h1.5v5h-1.5M579.5,234h1.5v11h-1.5M579.5,262h1.5v5h-1.5M581,234h1.5v11h-1.5M582.5,234h1.5v6h-1.5M584,240h1.5v11h-1.5M585.5,173h1.5v11h-1.5M585.5,223h1.5v5h-1.5M585.5,245h1.5v6h-1.5M587,223h1.5v5h-1.5M588.5,173h1.5v6h-1.5M588.5,223h1.5v22h-1.5M590,173h1.5v6h-1.5M590,184h1.5v11h-1.5M590,234h1.5v6h-1.5M591.5,179h1.5v5h-1.5M591.5,267h1.5v6h-1.5M593,173h1.5v17h-1.5M593,223h1.5v33h-1.5M593,267h1.5v6h-1.5M594.5,190h1.5v5h-1.5M594.5,234h1.5v6h-1.5M596,228h1.5v6h-1.5M597.5,184h1.5v11h-1.5M597.5,228h1.5v6h-1.5M597.5,245h1.5v6h-1.5M599,190h1.5v5h-1.5M599,223h1.5v5h-1.5M600.5,173h1.5v6h-1.5M600.5,223h1.5v5h-1.5M600.5,262h1.5v5h-1.5M602,184h1.5v6h-1.5M602,228h1.5v6h-1.5M602,245h1.5v6h-1.5M602,256h1.5v6h-1.5M605,228h1.5v6h-1.5M605,251h1.5v5h-1.5M605,262h1.5v5h-1.5M606.5,190h1.5v5h-1.5M606.5,234h1.5v11h-1.5M606.5,251h1.5v5h-1.5M606.5,262h1.5v5h-1.5M608,234h1.5v6h-1.5M609.5,173h1.5v6h-1.5M609.5,190h1.5v5h-1.5M611,190h1.5v5h-1.5M611,245h1.5v6h-1.5M612.5,245h1.5v6h-1.5M614,184h1.5v6h-1.5M614,234h1.5v6h-1.5M614,251h1.5v16h-1.5M615.5,179h1.5v5h-1.5M615.5,228h1.5v6h-1.5M615.5,240h1.5v5h-1.5M617,184h1.5v6h-1.5M617,234h1.5v11h-1.5M617,251h1.5v5h-1.5M617,262h1.5v5h-1.5M618.5,179h1.5v11h-1.5M618.5,223h1.5v5h-1.5M618.5,234h1.5v6h-1.5M620,184h1.5v6h-1.5M620,223h1.5v5h-1.5M620,256h1.5v6h-1.5M621.5,179h1.5v11h-1.5M621.5,223h1.5v5h-1.5M623,262h1.5v5h-1.5M624.5,173h1.5v6h-1.5M624.5,228h1.5v6h-1.5M626,179h1.5v5h-1.5M626,217h1.5v6h-1.5M627.5,234h1.5v6h-1.5M627.5,245h1.5v6h-1.5M629,179h1.5v5h-1.5M629,217h1.5v6h-1.5M629,251h1.5v5h-1.5M630.5,179h1.5v5h-1.5M630.5,217h1.5v6h-1.5M630.5,234h1.5v6h-1.5M632,173h1.5v6h-1.5M632,184h1.5v11h-1.5M632,201h1.5v5h-1.5M632,212h1.5v5h-1.5M633.5,184h1.5v6h-1.5M633.5,195h1.5v11h-1.5M633.5,212h1.5v5h-1.5M635,179h1.5v5h-1.5M635,195h1.5v11h-1.5M636.5,179h1.5v5h-1.5M636.5,223h1.5v5h-1.5M636.5,267h1.5v6h-1.5M638,173h1.5v11h-1.5M638,217h1.5v6h-1.5M638,234h1.5v6h-1.5M638,256h1.5v6h-1.5M639.5,173h1.5v11h-1.5M639.5,190h1.5v5h-1.5M639.5,217h1.5v11h-1.5M639.5,234h1.5v6h-1.5M639.5,245h1.5v6h-1.5M641,179h1.5v22h-1.5M641,217h1.5v6h-1.5M642.5,173h1.5v17h-1.5M642.5,195h1.5v6h-1.5M642.5,234h1.5v6h-1.5M642.5,262h1.5v5h-1.5M644,173h1.5v11h-1.5M644,195h1.5v6h-1.5M644,223h1.5v5h-1.5M644,234h1.5v11h-1.5M645.5,184h1.5v6h-1.5M645.5,217h1.5v6h-1.5M647,251h1.5v5h-1.5M648.5,184h1.5v6h-1.5M648.5,223h1.5v5h-1.5M650,223h1.5v5h-1.5M651.5,228h1v6h-1"/>
<path fill="#0096ff" d="M143,69h1.5v5h-1.5M143,102h1.5v5h-1.5M143,118h1.5v17h-1.5M143,162h1.5v6h-1.5M143,372h1.5v5h-1.5M143,383h1.5v5h-1.5M144.5,69h1.5v5h-1.5M144.5,113h1.5v5h-1.5M144.5,124h1.5v11h-1.5M144.5,162h1.5v6h-1.5M144.5,311h1.5v6h-1.5M146,63h1.5v6h-1.5M146,113h1.5v5h-1.5M146,311h1.5v6h-1.5M147.5,63h1.5v6h-1.5M147.5,113h1.5v16h-1.5M147.5,311h1.5v6h-1.5M149,63h1.5v11h-1.5M149,113h1.5v11h-1.5M149,129h1.5v6h-1.5M149,311h1.5v6h-1.5M149,333h1.5v6h-1.5M149,366h1.5v6h-1.5M149,377h1.5v17h-1.5M150.5,118h1.5v11h-1.5M150.5,157h1.5v5h-1.5M152,58h1.5v5h-1.5M152,118h1.5v17h-1.5M153.5,58h1.5v5h-1.5M153.5,146h1.5v5h-1.5M155,52h1.5v11h-1.5M155,107h1.5v6h-1.5M155,146h1.5v5h-1.5M156.5,63h1.5v6h-1.5M156.5,113h1.5v5h-1.5M156.5,140h1.5v6h-1.5M158,107h1.5v6h-1.5M159.5,52h1.5v6h-1.5M159.5,63h1.5v11h-1.5M159.5,118h1.5v6h-1.5M159.5,135h1.5v5h-1.5M161,52h1.5v6h-1.5M161,63h1.5v11h-1.5M161,107h1.5v11h-1.5M162.5,58h1.5v5h-1.5M164,107h1.5v6h-1.5M164,129h1.5v6h-1.5M165.5,118h1.5v17h-1.5M167,118h1.5v17h-1.5M168.5,129h1.5v6h-1.5M197,113h1.5v5h-1.5M198.5,113h1.5v16h-1.5M198.5,146h1.5v5h-1.5M198.5,278h1.5v6h-1.5M198.5,295h1.5v5h-1.5M200,124h1.5v5h-1.5M200,240h1.5v5h-1.5M200,262h1.5v5h-1.5M200,284h1.5v5h-1.5M200,306h1.5v11h-1.5M201.5,118h1.5v6h-1.5M201.5,129h1.5v6h-1.5M203,118h1.5v22h-1.5M203,245h1.5v6h-1.5M203,267h1.5v17h-1.5M203,289h1.5v6h-1.5M203,300h1.5v6h-1.5M204.5,107h1.5v6h-1.5M204.5,129h1.5v11h-1.5M204.5,223h1.5v5h-1.5M204.5,251h1.5v5h-1.5M204.5,278h1.5v6h-1.5M206,256h1.5v11h-1.5M207.5,107h1.5v6h-1.5M207.5,135h1.5v11h-1.5M207.5,162h1.5v6h-1.5M207.5,201h1.5v5h-1.5M207.5,212h1.5v11h-1.5M207.5,245h1.5v11h-1.5M207.5,267h1.5v6h-1.5M207.5,284h1.5v11h-1.5M207.5,300h1.5v6h-1.5M209,52h1.5v6h-1.5M209,140h1.5v6h-1.5M209,223h1.5v11h-1.5M209,240h1.5v5h-1.5M209,300h1.5v11h-1.5M210.5,113h1.5v5h-1.5M210.5,135h1.5v5h-1.5M210.5,212h1.5v5h-1.5M210.5,228h1.5v6h-1.5M210.5,262h1.5v5h-1.5M210.5,273h1.5v11h-1.5M210.5,306h1.5v5h-1.5M212,102h1.5v11h-1.5M212,151h1.5v6h-1.5M212,162h1.5v11h-1.5M212,206h1.5v6h-1.5M212,240h1.5v5h-1.5M212,311h1.5v11h-1.5M213.5,151h1.5v6h-1.5M213.5,162h1.5v6h-1.5M213.5,206h1.5v6h-1.5M213.5,217h1.5v6h-1.5M213.5,234h1.5v6h-1.5M213.5,245h1.5v11h-1.5M213.5,284h1.5v5h-1.5M213.5,306h1.5v5h-1.5M215,102h1.5v5h-1.5M215,162h1.5v11h-1.5M215,201h1.5v5h-1.5M215,212h1.5v5h-1.5M215,284h1.5v5h-1.5M215,295h1.5v5h-1.5M215,306h1.5v5h-1.5M216.5,58h1.5v11h-1.5M216.5,107h1.5v6h-1.5M216.5,195h1.5v6h-1.5M216.5,256h1.5v6h-1.5M216.5,306h1.5v5h-1.5M218,107h1.5v6h-1.5M218,162h1.5v6h-1.5M218,212h1.5v5h-1.5M218,234h1.5v11h-1.5M218,251h1.5v5h-1.5M218,267h1.5v17h-1.5M218,306h1.5v5h-1.5M219.5,58h1.5v11h-1.5M219.5,168h1.5v5h-1.5M219.5,212h1.5v11h-1.5M219.5,234h1.5v17h-1.5M219.5,256h1.5v11h-1.5M219.5,284h1.5v11h-1.5M219.5,306h1.5v5h-1.5M219.5,322h1.5v6h-1.5M221,69h1.5v5h-1.5M221,168h1.5v5h-1.5M221,190h1.5v16h-1.5M221,245h1.5v6h-1.5M221,262h1.5v5h-1.5M221,273h1.5v16h-1.5M222.5,162h1.5v6h-1.5M222.5,173h1.5v6h-1.5M222.5,201h1.5v5h-1.5M224,102h1.5v5h-1.5M224,201h1.5v11h-1.5M225.5,58h1.5v5h-1.5M225.5,234h1.5v6h-1.5M227,58h1.5v11h-1.5M227,107h1.5v6h-1.5M227,201h1.5v5h-1.5M227,240h1.5v5h-1.5M228.5,58h1.5v5h-1.5M228.5,195h1.5v6h-1.5M228.5,306h1.5v5h-1.5M228.5,399h1.5v6h-1.5M230,102h1.5v5h-1.5M230,179h1.5v5h-1.5M230,190h1.5v5h-1.5M231.5,96h1.5v6h-1.5M231.5,184h1.5v6h-1.5M231.5,245h1.5v6h-1.5M231.5,284h1.5v11h-1.5M231.5,317h1.5v16h-1.5M231.5,350h1.5v5h-1.5M231.5,388h1.5v11h-1.5M233,96h1.5v6h-1.5M233,173h1.5v6h-1.5M233,262h1.5v16h-1.5M233,289h1.5v6h-1.5M233,300h1.5v6h-1.5M234.5,173h1.5v6h-1.5M234.5,278h1.5v11h-1.5M234.5,311h1.5v11h-1.5M236,63h1.5v6h-1.5M236,278h1.5v6h-1.5M236,311h1.5v6h-1.5M236,322h1.5v6h-1.5M236,333h1.5v11h-1.5M236,350h1.5v5h-1.5M236,361h1.5v5h-1.5M237.5,311h1.5v22h-1.5M237.5,339h1.5v5h-1.5M237.5,350h1.5v11h-1.5M237.5,366h1.5v11h-1.5M237.5,388h1.5v6h-1.5M239,311h1.5v39h-1.5M239,355h1.5v6h-1.5M239,388h1.5v6h-1.5M240.5,96h1.5v6h-1.5M240.5,317h1.5v11h-1.5M240.5,339h1.5v16h-1.5M240.5,394h1.5v5h-1.5M242,63h1.5v6h-1.5M242,322h1.5v6h-1.5M242,333h1.5v6h-1.5M243.5,322h1.5v6h-1.5M243.5,333h1.5v44h-1.5M243.5,383h1.5v5h-1.5M243.5,394h1.5v5h-1.5M245,96h1.5v6h-1.5M245,317h1.5v11h-1.5M245,350h1.5v22h-1.5M245,377h1.5v6h-1.5M245,388h1.5v6h-1.5M245,399h1.5v6h-1.5M246.5,63h1.5v6h-1.5M246.5,96h1.5v6h-1.5M246.5,317h1.5v16h-1.5M246.5,339h1.5v5h-1.5M246.5,350h1.5v11h-1.5M248,96h1.5v6h-1.5M248,311h1.5v6h-1.5M249.5,63h1.5v6h-1.5M249.5,96h1.5v6h-1.5M251,317h1.5v49h-1.5M251,377h1.5v6h-1.5M251,399h1.5v6h-1.5M252.5,85h1.5v6h-1.5M252.5,317h1.5v5h-1.5M252.5,355h1.5v17h-1.5M252.5,377h1.5v11h-1.5M252.5,394h1.5v11h-1.5M254,69h1.5v5h-1.5M254,91h1.5v5h-1.5M254,311h1.5v6h-1.5M254,322h1.5v6h-1.5M254,333h1.5v28h-1.5M254,377h1.5v6h-1.5M254,394h1.5v5h-1.5M255.5,69h1.5v5h-1.5M255.5,91h1.5v11h-1.5M255.5,311h1.5v6h-1.5M255.5,322h1.5v17h-1.5M255.5,344h1.5v11h-1.5M257,91h1.5v5h-1.5M257,317h1.5v5h-1.5M257,328h1.5v11h-1.5M257,344h1.5v22h-1.5M257,372h1.5v11h-1.5M258.5,63h1.5v11h-1.5M258.5,96h1.5v6h-1.5M258.5,173h1.5v6h-1.5M258.5,322h1.5v6h-1.5M258.5,333h1.5v6h-1.5M258.5,344h1.5v6h-1.5M260,63h1.5v6h-1.5M260,91h1.5v11h-1.5M260,173h1.5v11h-1.5M260,311h1.5v6h-1.5M260,322h1.5v6h-1.5M261.5,69h1.5v5h-1.5M261.5,96h1.5v6h-1.5M261.5,311h1.5v11h-1.5M261.5,328h1.5v5h-1.5M261.5,339h1.5v11h-1.5M261.5,355h1.5v6h-1.5M263,63h1.5v6h-1.5M263,91h1.5v11h-1.5M263,322h1.5v6h-1.5M263,372h1.5v5h-1.5M264.5,311h1.5v6h-1.5M264.5,328h1.5v5h-1.5M264.5,339h1.5v5h-1.5M264.5,355h1.5v6h-1.5M266,184h1.5v6h-1.5M266,355h1.5v6h-1.5M267.5,179h1.5v5h-1.5M267.5,317h1.5v5h-1.5M269,63h1.5v6h-1.5M269,96h1.5v6h-1.5M269,173h1.5v11h-1.5M269,311h1.5v6h-1.5M269,339h1.5v16h-1.5M270.5,63h1.5v6h-1.5M270.5,173h1.5v11h-1.5M272,96h1.5v6h-1.5M272,311h1.5v50h-1.5M272,377h1.5v6h-1.5M273.5,63h1.5v6h-1.5M273.5,184h1.5v6h-1.5M273.5,311h1.5v17h-1.5M273.5,350h1.5v5h-1.5M275,63h1.5v11h-1.5M275,184h1.5v6h-1.5M275,311h1.5v6h-1.5M275,344h1.5v6h-1.5M276.5,63h1.5v11h-1.5M276.5,96h1.5v6h-1.5M276.5,179h1.5v5h-1.5M276.5,317h1.5v11h-1.5M276.5,355h1.5v6h-1.5M278,69h1.5v5h-1.5M278,96h1.5v6h-1.5M278,311h1.5v33h-1.5M278,350h1.5v5h-1.5M278,361h1.5v11h-1.5M278,377h1.5v22h-1.5M279.5,69h1.5v5h-1.5M279.5,96h1.5v6h-1.5M279.5,311h1.5v22h-1.5M279.5,339h1.5v16h-1.5M279.5,399h1.5v6h-1.5M281,311h1.5v6h-1.5M281,344h1.5v11h-1.5M282.5,69h1.5v5h-1.5M282.5,317h1.5v22h-1.5M282.5,344h1.5v11h-1.5M282.5,366h1.5v6h-1.5M282.5,388h1.5v6h-1.5M284,63h1.5v6h-1.5M284,96h1.5v6h-1.5M284,311h1.5v11h-1.5M284,328h1.5v22h-1.5M284,366h1.5v6h-1.5M284,383h1.5v5h-1.5M285.5,63h1.5v6h-1.5M285.5,96h1.5v6h-1.5M285.5,179h1.5v5h-1.5M285.5,311h1.5v6h-1.5M287,69h1.5v5h-1.5M287,96h1.5v6h-1.5M287,311h1.5v11h-1.5M287,328h1.5v5h-1.5M287,344h1.5v6h-1.5M287,361h1.5v5h-1.5M287,372h1.5v5h-1.5M287,399h1.5v6h-1.5M288.5,69h1.5v5h-1.5M288.5,179h1.5v11h-1.5M288.5,311h1.5v11h-1.5M288.5,350h1.5v5h-1.5M290,63h1.5v11h-1.5M290,322h1.5v6h-1.5M291.5,311h1.5v6h-1.5M291.5,339h1.5v5h-1.5M293,179h1.5v11h-1.5M293,311h1.5v17h-1.5M293,350h1.5v5h-1.5M294.5,63h1.5v6h-1.5M294.5,184h1.5v6h-1.5M294.5,311h1.5v6h-1.5M294.5,322h1.5v11h-1.5M294.5,350h1.5v5h-1.5M296,69h1.5v5h-1.5M296,179h1.5v5h-1.5M296,311h1.5v6h-1.5M296,333h1.5v6h-1.5M296,344h1.5v6h-1.5M297.5,190h1.5v5h-1.5M297.5,322h1.5v11h-1.5M299,102h1.5v5h-1.5M299,190h1.5v5h-1.5M299,322h1.5v28h-1.5M300.5,102h1.5v5h-1.5M300.5,179h1.5v11h-1.5M300.5,311h1.5v11h-1.5M300.5,328h1.5v22h-1.5M300.5,388h1.5v6h-1.5M302,190h1.5v5h-1.5M302,355h1.5v6h-1.5M303.5,102h1.5v5h-1.5M303.5,184h1.5v6h-1.5M303.5,311h1.5v6h-1.5M303.5,333h1.5v17h-1.5M305,69h1.5v5h-1.5M305,190h1.5v5h-1.5M305,322h1.5v17h-1.5M305,344h1.5v11h-1.5M305,388h1.5v6h-1.5M306.5,102h1.5v5h-1.5M306.5,179h1.5v5h-1.5M306.5,195h1.5v17h-1.5M306.5,245h1.5v6h-1.5M306.5,256h1.5v11h-1.5M306.5,322h1.5v6h-1.5M306.5,339h1.5v5h-1.5M308,69h1.5v5h-1.5M308,102h1.5v5h-1.5M308,217h1.5v6h-1.5M308,228h1.5v6h-1.5M308,295h1.5v11h-1.5M309.5,179h1.5v5h-1.5M309.5,195h1.5v6h-1.5M309.5,212h1.5v16h-1.5M309.5,240h1.5v11h-1.5M309.5,267h1.5v11h-1.5M309.5,284h1.5v16h-1.5M309.5,317h1.5v5h-1.5M311,69h1.5v5h-1.5M311,184h1.5v6h-1.5M311,201h1.5v11h-1.5M311,217h1.5v17h-1.5M311,245h1.5v11h-1.5M311,267h1.5v22h-1.5M311,300h1.5v11h-1.5M311,317h1.5v5h-1.5M312.5,69h1.5v5h-1.5M312.5,223h1.5v5h-1.5M312.5,267h1.5v6h-1.5M312.5,284h1.5v5h-1.5M312.5,300h1.5v11h-1.5M314,96h1.5v6h-1.5M314,234h1.5v6h-1.5M315.5,284h1.5v5h-1.5M315.5,322h1.5v6h-1.5M318.5,96h1.5v6h-1.5M318.5,179h1.5v5h-1.5M318.5,212h1.5v5h-1.5M320,69h1.5v5h-1.5M321.5,179h1.5v5h-1.5M323,96h1.5v6h-1.5M323,206h1.5v6h-1.5M323,289h1.5v11h-1.5M324.5,69h1.5v5h-1.5M324.5,173h1.5v6h-1.5M326,96h1.5v6h-1.5M326,173h1.5v6h-1.5M329,96h1.5v6h-1.5M330.5,69h1.5v5h-1.5M332,69h1.5v5h-1.5M332,96h1.5v6h-1.5M332,173h1.5v6h-1.5M333.5,96h1.5v6h-1.5M333.5,179h1.5v5h-1.5M335,96h1.5v6h-1.5M336.5,69h1.5v5h-1.5M338,69h1.5v5h-1.5M338,91h1.5v11h-1.5M338,179h1.5v5h-1.5M339.5,179h1.5v11h-1.5M341,91h1.5v5h-1.5M341,179h1.5v5h-1.5M342.5,91h1.5v5h-1.5M342.5,179h1.5v11h-1.5M344,179h1.5v5h-1.5M345.5,69h1.5v5h-1.5M345.5,96h1.5v6h-1.5M347,91h1.5v5h-1.5M347,195h1.5v6h-1.5M348.5,74h1.5v6h-1.5M348.5,96h1.5v6h-1.5M348.5,201h1.5v5h-1.5M348.5,212h1.5v5h-1.5M350,85h1.5v6h-1.5M350,217h1.5v6h-1.5M351.5,96h1.5v6h-1.5M351.5,184h1.5v6h-1.5M353,69h1.5v5h-1.5M353,91h1.5v11h-1.5M354.5,96h1.5v6h-1.5M354.5,195h1.5v11h-1.5M356,96h1.5v6h-1.5M356,206h1.5v6h-1.5M357.5,223h1.5v5h-1.5M357.5,267h1.5v6h-1.5M359,91h1.5v5h-1.5M359,234h1.5v6h-1.5M359,267h1.5v6h-1.5M360.5,206h1.5v17h-1.5M362,190h1.5v5h-1.5M362,206h1.5v11h-1.5M363.5,190h1.5v5h-1.5M365,201h1.5v5h-1.5M365,217h1.5v6h-1.5M365,228h1.5v6h-1.5M366.5,206h1.5v11h-1.5M368,195h1.5v11h-1.5M368,212h1.5v5h-1.5M368,223h1.5v5h-1.5M369.5,69h1.5v5h-1.5M369.5,80h1.5v11h-1.5M369.5,195h1.5v11h-1.5M369.5,212h1.5v5h-1.5M369.5,223h1.5v5h-1.5M371,69h1.5v5h-1.5M371,184h1.5v6h-1.5M372.5,69h1.5v11h-1.5M372.5,85h1.5v6h-1.5M372.5,190h1.5v5h-1.5M374,69h1.5v11h-1.5M374,217h1.5v6h-1.5M374,228h1.5v6h-1.5M375.5,223h1.5v5h-1.5M377,63h1.5v11h-1.5M377,212h1.5v5h-1.5M378.5,195h1.5v6h-1.5M378.5,206h1.5v17h-1.5M380,240h1.5v16h-1.5M380,273h1.5v5h-1.5M380,284h1.5v5h-1.5M380,322h1.5v6h-1.5M381.5,223h1.5v5h-1.5M383,74h1.5v6h-1.5M384.5,201h1.5v16h-1.5M386,74h1.5v6h-1.5M386,201h1.5v5h-1.5M386,212h1.5v11h-1.5M386,295h1.5v5h-1.5M387.5,190h1.5v16h-1.5M389,63h1.5v6h-1.5M389,190h1.5v5h-1.5M390.5,52h1.5v6h-1.5M390.5,63h1.5v6h-1.5M390.5,74h1.5v6h-1.5M390.5,190h1.5v5h-1.5M392,63h1.5v6h-1.5M392,212h1.5v5h-1.5M393.5,63h1.5v11h-1.5M393.5,217h1.5v6h-1.5M395,201h1.5v5h-1.5M395,223h1.5v5h-1.5M396.5,63h1.5v17h-1.5M396.5,217h1.5v6h-1.5M398,63h1.5v6h-1.5M398,190h1.5v5h-1.5M399.5,223h1.5v5h-1.5M401,52h1.5v6h-1.5M401,63h1.5v6h-1.5M401,190h1.5v16h-1.5M402.5,63h1.5v6h-1.5M402.5,212h1.5v11h-1.5M404,58h1.5v5h-1.5M404,195h1.5v6h-1.5M405.5,223h1.5v5h-1.5M407,69h1.5v5h-1.5M407,201h1.5v5h-1.5M408.5,63h1.5v6h-1.5M410,201h1.5v5h-1.5M411.5,190h1.5v16h-1.5M413,201h1.5v5h-1.5M416,201h1.5v27h-1.5M419,195h1.5v6h-1.5M420.5,195h1.5v11h-1.5M420.5,212h1.5v5h-1.5M422,190h1.5v5h-1.5M425,212h1.5v5h-1.5M428,201h1.5v11h-1.5M434,223h1.5v5h-1.5M434,300h1.5v6h-1.5M435.5,234h1.5v11h-1.5M435.5,256h1.5v6h-1.5M435.5,273h1.5v11h-1.5M440,251h1.5v5h-1.5M440,267h1.5v6h-1.5M440,284h1.5v11h-1.5M441.5,251h1.5v5h-1.5M441.5,267h1.5v11h-1.5M441.5,284h1.5v5h-1.5M441.5,295h1.5v5h-1.5M443,228h1.5v12h-1.5M444.5,223h1.5v5h-1.5M446,223h1.5v5h-1.5M447.5,251h1.5v5h-1.5M447.5,284h1.5v5h-1.5M449,240h1.5v5h-1.5M449,262h1.5v16h-1.5M449,289h1.5v6h-1.5M450.5,240h1.5v11h-1.5M450.5,256h1.5v6h-1.5M450.5,284h1.5v5h-1.5M452,262h1.5v5h-1.5M452,273h1.5v5h-1.5M453.5,217h1.5v6h-1.5M455,234h1.5v6h-1.5M455,273h1.5v5h-1.5M455,300h1.5v6h-1.5M456.5,212h1.5v5h-1.5M456.5,223h1.5v5h-1.5M456.5,256h1.5v6h-1.5M456.5,278h1.5v6h-1.5M458,223h1.5v5h-1.5M459.5,234h1.5v6h-1.5M459.5,273h1.5v5h-1.5M461,251h1.5v5h-1.5M461,273h1.5v5h-1.5M461,295h1.5v5h-1.5M461,306h1.5v5h-1.5M462.5,184h1.5v6h-1.5M462.5,201h1.5v5h-1.5M462.5,212h1.5v5h-1.5M462.5,223h1.5v5h-1.5M464,212h1.5v5h-1.5M464,240h1.5v5h-1.5M465.5,223h1.5v5h-1.5M465.5,234h1.5v11h-1.5M467,184h1.5v11h-1.5M467,201h1.5v5h-1.5M467,212h1.5v5h-1.5M468.5,184h1.5v6h-1.5M470,173h1.5v11h-1.5M470,201h1.5v5h-1.5M471.5,201h1.5v11h-1.5M471.5,223h1.5v5h-1.5M473,184h1.5v6h-1.5M474.5,173h1.5v6h-1.5M476,173h1.5v6h-1.5M477.5,201h1.5v5h-1.5M479,173h1.5v6h-1.5M479,201h1.5v5h-1.5M480.5,173h1.5v6h-1.5M482,173h1.5v6h-1.5M483.5,190h1.5v5h-1.5M486.5,179h1.5v5h-1.5M486.5,190h1.5v5h-1.5M488,206h1.5v6h-1.5M489.5,179h1.5v5h-1.5M492.5,173h1.5v6h-1.5M492.5,184h1.5v6h-1.5M492.5,195h1.5v6h-1.5M494,173h1.5v22h-1.5M495.5,179h1.5v5h-1.5M495.5,195h1.5v6h-1.5M495.5,206h1.5v6h-1.5M497,173h1.5v6h-1.5M498.5,173h1.5v6h-1.5M498.5,184h1.5v11h-1.5M500,190h1.5v5h-1.5M500,201h1.5v5h-1.5M500,212h1.5v5h-1.5M501.5,184h1.5v22h-1.5M504.5,201h1.5v5h-1.5M506,184h1.5v11h-1.5M506,201h1.5v5h-1.5M507.5,63h1.5v6h-1.5M507.5,190h1.5v5h-1.5M507.5,201h1.5v5h-1.5M509,63h1.5v11h-1.5M510.5,63h1.5v11h-1.5M510.5,206h1.5v6h-1.5M510.5,223h1.5v5h-1.5M512,217h1.5v6h-1.5M512,228h1.5v6h-1.5M513.5,234h1.5v11h-1.5M515,240h1.5v5h-1.5M516.5,58h1.5v5h-1.5M516.5,223h1.5v5h-1.5M518,240h1.5v5h-1.5M518,256h1.5v6h-1.5M519.5,58h1.5v5h-1.5M519.5,245h1.5v6h-1.5M521,251h1.5v16h-1.5M522.5,251h1.5v11h-1.5M524,63h1.5v6h-1.5M525.5,262h1.5v5h-1.5M527,63h1.5v11h-1.5M527,217h1.5v6h-1.5M528.5,58h1.5v5h-1.5M528.5,228h1.5v6h-1.5M528.5,251h1.5v5h-1.5M530,63h1.5v6h-1.5M530,234h1.5v6h-1.5M530,251h1.5v5h-1.5M530,267h1.5v6h-1.5M531.5,58h1.5v5h-1.5M531.5,228h1.5v6h-1.5M531.5,240h1.5v5h-1.5M533,262h1.5v5h-1.5M534.5,69h1.5v5h-1.5M534.5,267h1.5v6h-1.5M537.5,63h1.5v6h-1.5M537.5,228h1.5v12h-1.5M537.5,262h1.5v5h-1.5M539,63h1.5v6h-1.5M540.5,256h1.5v6h-1.5M542,234h1.5v6h-1.5M542,262h1.5v5h-1.5M543.5,245h1.5v6h-1.5M543.5,262h1.5v5h-1.5M545,234h1.5v6h-1.5M546.5,228h1.5v6h-1.5M548,234h1.5v6h-1.5M548,256h1.5v6h-1.5M554,256h1.5v6h-1.5M555.5,256h1.5v11h-1.5M557,267h1.5v6h-1.5M558.5,251h1.5v5h-1.5M558.5,267h1.5v6h-1.5M560,267h1.5v6h-1.5M561.5,262h1.5v5h-1.5M563,267h1.5v6h-1.5M564.5,251h1.5v11h-1.5M564.5,267h1.5v6h-1.5M567.5,256h1.5v11h-1.5M572,240h1.5v5h-1.5M572,251h1.5v11h-1.5M572,267h1.5v6h-1.5M573.5,251h1.5v5h-1.5M573.5,262h1.5v11h-1.5M578,251h1.5v16h-1.5M579.5,251h1.5v5h-1.5M581,228h1.5v6h-1.5M581,245h1.5v6h-1.5M581,262h1.5v5h-1.5M582.5,228h1.5v6h-1.5M582.5,262h1.5v11h-1.5M584,223h1.5v5h-1.5M584,234h1.5v6h-1.5M584,256h1.5v6h-1.5M585.5,228h1.5v12h-1.5M585.5,256h1.5v17h-1.5M587,184h1.5v6h-1.5M587,228h1.5v12h-1.5M587,245h1.5v6h-1.5M588.5,179h1.5v11h-1.5M590,179h1.5v5h-1.5M590,223h1.5v5h-1.5M590,240h1.5v11h-1.5M593,262h1.5v5h-1.5M594.5,173h1.5v6h-1.5M594.5,184h1.5v6h-1.5M594.5,223h1.5v11h-1.5M594.5,240h1.5v5h-1.5M596,173h1.5v6h-1.5M596,184h1.5v6h-1.5M596,251h1.5v11h-1.5M597.5,173h1.5v11h-1.5M597.5,262h1.5v5h-1.5M599,173h1.5v6h-1.5M599,228h1.5v12h-1.5M599,245h1.5v6h-1.5M600.5,179h1.5v11h-1.5M600.5,256h1.5v6h-1.5M600.5,267h1.5v6h-1.5M602,173h1.5v6h-1.5M602,262h1.5v5h-1.5M603.5,184h1.5v11h-1.5M603.5,223h1.5v5h-1.5M605,179h1.5v5h-1.5M605,240h1.5v11h-1.5M605,256h1.5v6h-1.5M606.5,173h1.5v17h-1.5M606.5,223h1.5v5h-1.5M606.5,256h1.5v6h-1.5M608,179h1.5v5h-1.5M608,190h1.5v5h-1.5M608,223h1.5v11h-1.5M608,245h1.5v6h-1.5M609.5,179h1.5v5h-1.5M609.5,228h1.5v23h-1.5M609.5,256h1.5v11h-1.5M611,234h1.5v11h-1.5M612.5,184h1.5v6h-1.5M612.5,234h1.5v6h-1.5M612.5,256h1.5v6h-1.5M614,179h1.5v5h-1.5M615.5,173h1.5v6h-1.5M615.5,184h1.5v6h-1.5M615.5,251h1.5v5h-1.5M615.5,262h1.5v5h-1.5M617,173h1.5v11h-1.5M617,228h1.5v6h-1.5M617,245h1.5v6h-1.5M618.5,173h1.5v6h-1.5M620,173h1.5v11h-1.5M620,228h1.5v6h-1.5M620,262h1.5v5h-1.5M621.5,173h1.5v6h-1.5M623,173h1.5v6h-1.5M623,267h1.5v6h-1.5M626,173h1.5v6h-1.5M626,223h1.5v17h-1.5M626,245h1.5v6h-1.5M626,256h1.5v6h-1.5M627.5,179h1.5v5h-1.5M627.5,223h1.5v5h-1.5M627.5,251h1.5v5h-1.5M629,173h1.5v6h-1.5M629,228h1.5v6h-1.5M629,256h1.5v6h-1.5M630.5,256h1.5v6h-1.5M630.5,267h1.5v6h-1.5M632,240h1.5v5h-1.5M633.5,179h1.5v5h-1.5M633.5,190h1.5v5h-1.5M633.5,217h1.5v6h-1.5M635,245h1.5v6h-1.5M638,251h1.5v5h-1.5M641,173h1.5v6h-1.5M641,234h1.5v6h-1.5M642.5,223h1.5v5h-1.5M642.5,240h1.5v11h-1.5M644,245h1.5v6h-1.5M644,262h1.5v5h-1.5M645.5,223h1.5v5h-1.5M647,228h1.5v17h-1.5M647,256h1.5v6h-1.5M647,394h1.5v5h-1.5M651.5,366h1v6h-1"/>
<path fill="#00c3fa" d="M143,80h1.5v5h-1.5M143,96h1.5v6h-1.5M143,107h1.5v6h-1.5M143,256h1.5v6h-1.5M143,273h1.5v5h-1.5M143,284h1.5v5h-1.5M143,322h1.5v17h-1.5M143,344h1.5v6h-1.5M143,361h1.5v5h-1.5M143,388h1.5v6h-1.5M144.5,80h1.5v5h-1.5M144.5,107h1.5v6h-1.5M144.5,322h1.5v6h-1.5M144.5,339h1.5v5h-1.5M144.5,350h1.5v5h-1.5M146,69h1.5v11h-1.5M146,129h1.5v6h-1.5M146,256h1.5v6h-1.5M146,267h1.5v11h-1.5M146,322h1.5v11h-1.5M146,339h1.5v5h-1.5M146,355h1.5v6h-1.5M146,377h1.5v11h-1.5M146,394h1.5v5h-1.5M147.5,74h1.5v6h-1.5M147.5,96h1.5v17h-1.5M147.5,267h1.5v11h-1.5M147.5,300h1.5v6h-1.5M147.5,317h1.5v11h-1.5M147.5,333h1.5v6h-1.5M147.5,344h1.5v6h-1.5M147.5,355h1.5v6h-1.5M147.5,377h1.5v6h-1.5M147.5,388h1.5v6h-1.5M149,102h1.5v11h-1.5M149,289h1.5v6h-1.5M149,322h1.5v11h-1.5M149,344h1.5v6h-1.5M149,355h1.5v6h-1.5M149,372h1.5v5h-1.5M149,399h1.5v6h-1.5M150.5,69h1.5v5h-1.5M150.5,102h1.5v11h-1.5M150.5,162h1.5v11h-1.5M150.5,273h1.5v5h-1.5M150.5,300h1.5v6h-1.5M150.5,311h1.5v6h-1.5M152,63h1.5v6h-1.5M152,113h1.5v5h-1.5M153.5,63h1.5v11h-1.5M153.5,107h1.5v6h-1.5M153.5,118h1.5v6h-1.5M153.5,151h1.5v6h-1.5M155,113h1.5v5h-1.5M155,124h1.5v5h-1.5M155,140h1.5v6h-1.5M156.5,52h1.5v6h-1.5M156.5,69h1.5v5h-1.5M156.5,96h1.5v11h-1.5M158,63h1.5v6h-1.5M158,102h1.5v5h-1.5M158,113h1.5v5h-1.5M158,135h1.5v11h-1.5M159.5,58h1.5v5h-1.5M159.5,96h1.5v6h-1.5M159.5,107h1.5v6h-1.5M162.5,63h1.5v6h-1.5M162.5,107h1.5v17h-1.5M162.5,135h1.5v5h-1.5M164,52h1.5v17h-1.5M165.5,52h1.5v6h-1.5M165.5,107h1.5v6h-1.5M167,52h1.5v11h-1.5M167,113h1.5v5h-1.5M168.5,107h1.5v6h-1.5M168.5,140h1.5v6h-1.5M170,102h1.5v5h-1.5M170,118h1.5v11h-1.5M171.5,52h1.5v6h-1.5M171.5,135h1.5v5h-1.5M179,135h1.5v5h-1.5M182,135h1.5v5h-1.5M189.5,135h1.5v5h-1.5M192.5,118h1.5v22h-1.5M194,102h1.5v5h-1.5M194,124h1.5v16h-1.5M195.5,107h1.5v6h-1.5M195.5,118h1.5v6h-1.5M197,118h1.5v6h-1.5M197,129h1.5v17h-1.5M197,240h1.5v5h-1.5M197,328h1.5v5h-1.5M198.5,102h1.5v11h-1.5M198.5,129h1.5v6h-1.5M198.5,140h1.5v6h-1.5M198.5,151h1.5v6h-1.5M198.5,234h1.5v6h-1.5M198.5,245h1.5v11h-1.5M198.5,284h1.5v11h-1.5M198.5,300h1.5v6h-1.5M198.5,322h1.5v11h-1.5M198.5,361h1.5v5h-1.5M200,113h1.5v11h-1.5M200,140h1.5v17h-1.5M200,217h1.5v23h-1.5M200,245h1.5v11h-1.5M200,267h1.5v11h-1.5M200,289h1.5v11h-1.5M200,322h1.5v6h-1.5M201.5,113h1.5v5h-1.5M201.5,124h1.5v5h-1.5M201.5,223h1.5v5h-1.5M201.5,306h1.5v5h-1.5M203,52h1.5v6h-1.5M203,140h1.5v6h-1.5M203,217h1.5v6h-1.5M203,228h1.5v12h-1.5M203,256h1.5v11h-1.5M203,311h1.5v11h-1.5M204.5,63h1.5v6h-1.5M204.5,102h1.5v5h-1.5M204.5,113h1.5v5h-1.5M204.5,140h1.5v6h-1.5M204.5,151h1.5v6h-1.5M204.5,217h1.5v6h-1.5M204.5,245h1.5v6h-1.5M204.5,256h1.5v11h-1.5M204.5,273h1.5v5h-1.5M204.5,284h1.5v5h-1.5M204.5,295h1.5v5h-1.5M204.5,306h1.5v5h-1.5M204.5,317h1.5v5h-1.5M206,52h1.5v6h-1.5M206,135h1.5v5h-1.5M206,217h1.5v23h-1.5M206,245h1.5v6h-1.5M206,267h1.5v6h-1.5M206,284h1.5v11h-1.5M206,322h1.5v6h-1.5M207.5,146h1.5v11h-1.5M207.5,234h1.5v6h-1.5M207.5,322h1.5v6h-1.5M207.5,344h1.5v11h-1.5M209,146h1.5v11h-1.5M209,206h1.5v11h-1.5M209,251h1.5v5h-1.5M209,289h1.5v6h-1.5M209,317h1.5v5h-1.5M209,328h1.5v5h-1.5M210.5,140h1.5v17h-1.5M210.5,245h1.5v17h-1.5M210.5,267h1.5v6h-1.5M210.5,284h1.5v5h-1.5M212,63h1.5v11h-1.5M212,195h1.5v11h-1.5M212,322h1.5v11h-1.5M213.5,63h1.5v6h-1.5M213.5,195h1.5v6h-1.5M213.5,317h1.5v5h-1.5M213.5,394h1.5v5h-1.5M215,195h1.5v6h-1.5M215,256h1.5v11h-1.5M215,300h1.5v6h-1.5M215,311h1.5v11h-1.5M216.5,102h1.5v5h-1.5M216.5,179h1.5v5h-1.5M216.5,295h1.5v5h-1.5M216.5,317h1.5v5h-1.5M216.5,366h1.5v6h-1.5M218,58h1.5v5h-1.5M218,102h1.5v5h-1.5M218,195h1.5v11h-1.5M218,245h1.5v6h-1.5M218,256h1.5v11h-1.5M218,300h1.5v6h-1.5M218,394h1.5v5h-1.5M219.5,195h1.5v11h-1.5M219.5,267h1.5v6h-1.5M219.5,278h1.5v6h-1.5M219.5,317h1.5v5h-1.5M221,63h1.5v6h-1.5M221,179h1.5v5h-1.5M221,256h1.5v6h-1.5M221,311h1.5v6h-1.5M221,322h1.5v6h-1.5M221,399h1.5v6h-1.5M222.5,58h1.5v11h-1.5M222.5,107h1.5v6h-1.5M222.5,168h1.5v5h-1.5M222.5,195h1.5v6h-1.5M222.5,328h1.5v5h-1.5M224,96h1.5v6h-1.5M224,168h1.5v5h-1.5M224,184h1.5v6h-1.5M224,195h1.5v6h-1.5M224,240h1.5v5h-1.5M224,306h1.5v5h-1.5M225.5,107h1.5v6h-1.5M225.5,240h1.5v5h-1.5M225.5,322h1.5v6h-1.5M227,184h1.5v11h-1.5M227,306h1.5v5h-1.5M227,322h1.5v6h-1.5M228.5,102h1.5v5h-1.5M228.5,168h1.5v16h-1.5M228.5,190h1.5v5h-1.5M230,96h1.5v6h-1.5M230,173h1.5v6h-1.5M230,184h1.5v6h-1.5M230,311h1.5v6h-1.5M230,322h1.5v11h-1.5M231.5,63h1.5v6h-1.5M231.5,256h1.5v11h-1.5M231.5,273h1.5v11h-1.5M231.5,300h1.5v6h-1.5M231.5,311h1.5v6h-1.5M231.5,361h1.5v5h-1.5M231.5,377h1.5v6h-1.5M231.5,399h1.5v6h-1.5M233,63h1.5v6h-1.5M233,278h1.5v11h-1.5M233,311h1.5v28h-1.5M233,355h1.5v6h-1.5M233,394h1.5v11h-1.5M234.5,96h1.5v6h-1.5M234.5,184h1.5v6h-1.5M234.5,322h1.5v22h-1.5M234.5,350h1.5v5h-1.5M234.5,372h1.5v16h-1.5M234.5,394h1.5v11h-1.5M236,317h1.5v5h-1.5M236,328h1.5v5h-1.5M236,344h1.5v6h-1.5M236,355h1.5v6h-1.5M236,366h1.5v39h-1.5M237.5,63h1.5v11h-1.5M237.5,96h1.5v6h-1.5M237.5,333h1.5v6h-1.5M237.5,361h1.5v5h-1.5M237.5,377h1.5v11h-1.5M237.5,394h1.5v11h-1.5M239,350h1.5v5h-1.5M239,361h1.5v27h-1.5M239,394h1.5v11h-1.5M240.5,328h1.5v11h-1.5M240.5,355h1.5v11h-1.5M240.5,372h1.5v5h-1.5M240.5,383h1.5v11h-1.5M240.5,399h1.5v6h-1.5M242,311h1.5v11h-1.5M242,328h1.5v5h-1.5M242,339h1.5v27h-1.5M242,372h1.5v5h-1.5M242,383h1.5v5h-1.5M242,394h1.5v5h-1.5M243.5,317h1.5v5h-1.5M243.5,328h1.5v5h-1.5M243.5,377h1.5v6h-1.5M243.5,388h1.5v6h-1.5M243.5,399h1.5v6h-1.5M245,91h1.5v5h-1.5M245,339h1.5v5h-1.5M245,372h1.5v5h-1.5M245,383h1.5v5h-1.5M245,394h1.5v5h-1.5M246.5,69h1.5v5h-1.5M246.5,91h1.5v5h-1.5M246.5,333h1.5v6h-1.5M246.5,344h1.5v6h-1.5M246.5,361h1.5v44h-1.5M248,63h1.5v6h-1.5M248,317h1.5v11h-1.5M248,333h1.5v28h-1.5M248,366h1.5v6h-1.5M249.5,91h1.5v5h-1.5M249.5,311h1.5v39h-1.5M249.5,355h1.5v11h-1.5M249.5,377h1.5v6h-1.5M249.5,394h1.5v5h-1.5M251,69h1.5v11h-1.5M251,366h1.5v11h-1.5M251,383h1.5v16h-1.5M252.5,74h1.5v6h-1.5M252.5,372h1.5v5h-1.5M252.5,388h1.5v6h-1.5M254,317h1.5v5h-1.5M254,328h1.5v5h-1.5M254,361h1.5v16h-1.5M254,383h1.5v11h-1.5M254,399h1.5v6h-1.5M255.5,85h1.5v6h-1.5M255.5,317h1.5v5h-1.5M255.5,339h1.5v5h-1.5M255.5,355h1.5v6h-1.5M255.5,366h1.5v39h-1.5M257,69h1.5v5h-1.5M257,322h1.5v6h-1.5M257,366h1.5v6h-1.5M257,383h1.5v22h-1.5M258.5,91h1.5v5h-1.5M258.5,311h1.5v11h-1.5M258.5,328h1.5v5h-1.5M258.5,339h1.5v5h-1.5M258.5,350h1.5v38h-1.5M258.5,394h1.5v11h-1.5M260,69h1.5v5h-1.5M260,317h1.5v5h-1.5M260,328h1.5v33h-1.5M260,383h1.5v5h-1.5M260,394h1.5v5h-1.5M261.5,173h1.5v6h-1.5M261.5,322h1.5v6h-1.5M261.5,333h1.5v6h-1.5M261.5,350h1.5v5h-1.5M261.5,361h1.5v5h-1.5M261.5,377h1.5v11h-1.5M261.5,394h1.5v5h-1.5M263,69h1.5v5h-1.5M263,85h1.5v6h-1.5M263,311h1.5v11h-1.5M263,328h1.5v38h-1.5M263,377h1.5v28h-1.5M264.5,91h1.5v11h-1.5M264.5,173h1.5v6h-1.5M264.5,322h1.5v6h-1.5M264.5,333h1.5v6h-1.5M264.5,344h1.5v11h-1.5M264.5,372h1.5v5h-1.5M264.5,383h1.5v11h-1.5M264.5,399h1.5v6h-1.5M266,63h1.5v11h-1.5M266,96h1.5v6h-1.5M266,173h1.5v6h-1.5M266,311h1.5v11h-1.5M266,328h1.5v5h-1.5M266,339h1.5v16h-1.5M266,399h1.5v6h-1.5M267.5,69h1.5v5h-1.5M267.5,311h1.5v6h-1.5M267.5,322h1.5v6h-1.5M267.5,333h1.5v17h-1.5M267.5,355h1.5v6h-1.5M267.5,383h1.5v5h-1.5M267.5,394h1.5v5h-1.5M269,317h1.5v22h-1.5M269,355h1.5v17h-1.5M269,377h1.5v6h-1.5M269,399h1.5v6h-1.5M270.5,69h1.5v5h-1.5M270.5,96h1.5v6h-1.5M270.5,311h1.5v72h-1.5M270.5,388h1.5v17h-1.5M272,91h1.5v5h-1.5M272,361h1.5v16h-1.5M272,383h1.5v22h-1.5M273.5,69h1.5v5h-1.5M273.5,91h1.5v11h-1.5M273.5,179h1.5v5h-1.5M273.5,328h1.5v22h-1.5M273.5,355h1.5v11h-1.5M273.5,372h1.5v33h-1.5M275,96h1.5v6h-1.5M275,322h1.5v22h-1.5M275,350h1.5v27h-1.5M275,388h1.5v6h-1.5M276.5,184h1.5v6h-1.5M276.5,311h1.5v6h-1.5M276.5,328h1.5v27h-1.5M276.5,366h1.5v11h-1.5M276.5,383h1.5v5h-1.5M276.5,394h1.5v11h-1.5M278,74h1.5v6h-1.5M278,91h1.5v5h-1.5M278,344h1.5v6h-1.5M278,372h1.5v5h-1.5M278,399h1.5v6h-1.5M279.5,91h1.5v5h-1.5M279.5,333h1.5v6h-1.5M279.5,355h1.5v44h-1.5M281,96h1.5v6h-1.5M281,317h1.5v27h-1.5M281,355h1.5v6h-1.5M281,366h1.5v6h-1.5M281,383h1.5v5h-1.5M281,394h1.5v11h-1.5M282.5,96h1.5v6h-1.5M282.5,311h1.5v6h-1.5M282.5,339h1.5v5h-1.5M282.5,355h1.5v11h-1.5M282.5,372h1.5v16h-1.5M282.5,394h1.5v11h-1.5M284,322h1.5v6h-1.5M284,350h1.5v5h-1.5M284,361h1.5v5h-1.5M284,377h1.5v6h-1.5M284,388h1.5v17h-1.5M285.5,184h1.5v6h-1.5M285.5,317h1.5v66h-1.5M285.5,388h1.5v6h-1.5M287,322h1.5v6h-1.5M287,333h1.5v6h-1.5M287,350h1.5v11h-1.5M287,366h1.5v6h-1.5M287,377h1.5v22h-1.5M288.5,322h1.5v28h-1.5M288.5,366h1.5v6h-1.5M288.5,377h1.5v6h-1.5M288.5,388h1.5v11h-1.5M290,96h1.5v6h-1.5M290,184h1.5v6h-1.5M290,311h1.5v11h-1.5M290,328h1.5v38h-1.5M290,388h1.5v17h-1.5M291.5,69h1.5v5h-1.5M291.5,96h1.5v6h-1.5M291.5,317h1.5v22h-1.5M291.5,344h1.5v17h-1.5M291.5,366h1.5v22h-1.5M293,96h1.5v6h-1.5M293,328h1.5v22h-1.5M293,355h1.5v11h-1.5M293,372h1.5v11h-1.5M293,388h1.5v11h-1.5M294.5,69h1.5v5h-1.5M294.5,317h1.5v5h-1.5M294.5,333h1.5v17h-1.5M294.5,355h1.5v11h-1.5M294.5,372h1.5v5h-1.5M294.5,383h1.5v11h-1.5M294.5,399h1.5v6h-1.5M296,184h1.5v6h-1.5M296,317h1.5v16h-1.5M296,339h1.5v5h-1.5M296,350h1.5v11h-1.5M296,366h1.5v6h-1.5M296,377h1.5v22h-1.5M297.5,179h1.5v11h-1.5M297.5,311h1.5v11h-1.5M297.5,333h1.5v28h-1.5M297.5,366h1.5v6h-1.5M297.5,394h1.5v5h-1.5M299,311h1.5v11h-1.5M299,350h1.5v11h-1.5M299,372h1.5v22h-1.5M299,399h1.5v6h-1.5M300.5,96h1.5v6h-1.5M300.5,322h1.5v6h-1.5M300.5,355h1.5v6h-1.5M300.5,366h1.5v11h-1.5M300.5,383h1.5v5h-1.5M300.5,394h1.5v11h-1.5M302,102h1.5v5h-1.5M302,311h1.5v44h-1.5M302,361h1.5v11h-1.5M302,383h1.5v5h-1.5M302,394h1.5v11h-1.5M303.5,74h1.5v6h-1.5M303.5,317h1.5v16h-1.5M303.5,350h1.5v22h-1.5M303.5,383h1.5v5h-1.5M303.5,394h1.5v5h-1.5M305,96h1.5v6h-1.5M305,184h1.5v6h-1.5M305,311h1.5v11h-1.5M305,339h1.5v5h-1.5M305,361h1.5v27h-1.5M305,394h1.5v11h-1.5M306.5,184h1.5v11h-1.5M306.5,212h1.5v5h-1.5M306.5,317h1.5v5h-1.5M306.5,328h1.5v11h-1.5M306.5,344h1.5v17h-1.5M306.5,372h1.5v5h-1.5M306.5,388h1.5v17h-1.5M308,96h1.5v6h-1.5M308,190h1.5v5h-1.5M308,212h1.5v5h-1.5M308,223h1.5v5h-1.5M308,234h1.5v6h-1.5M308,267h1.5v28h-1.5M308,306h1.5v5h-1.5M308,317h1.5v16h-1.5M308,344h1.5v11h-1.5M308,383h1.5v5h-1.5M309.5,184h1.5v6h-1.5M309.5,201h1.5v5h-1.5M309.5,234h1.5v6h-1.5M309.5,256h1.5v11h-1.5M309.5,300h1.5v17h-1.5M309.5,328h1.5v16h-1.5M309.5,350h1.5v5h-1.5M309.5,366h1.5v11h-1.5M309.5,383h1.5v5h-1.5M309.5,394h1.5v5h-1.5M311,262h1.5v5h-1.5M311,311h1.5v6h-1.5M311,322h1.5v17h-1.5M311,350h1.5v11h-1.5M311,366h1.5v6h-1.5M311,394h1.5v5h-1.5M312.5,91h1.5v11h-1.5M312.5,206h1.5v6h-1.5M312.5,217h1.5v6h-1.5M312.5,234h1.5v6h-1.5M312.5,245h1.5v11h-1.5M312.5,273h1.5v11h-1.5M312.5,289h1.5v11h-1.5M312.5,311h1.5v11h-1.5M314,184h1.5v11h-1.5M314,206h1.5v17h-1.5M314,228h1.5v6h-1.5M314,240h1.5v5h-1.5M314,278h1.5v22h-1.5M315.5,179h1.5v11h-1.5M315.5,201h1.5v5h-1.5M315.5,212h1.5v5h-1.5M315.5,223h1.5v5h-1.5M315.5,234h1.5v6h-1.5M315.5,267h1.5v6h-1.5M318.5,195h1.5v6h-1.5M318.5,234h1.5v6h-1.5M318.5,273h1.5v5h-1.5M320,96h1.5v6h-1.5M320,179h1.5v5h-1.5M321.5,74h1.5v6h-1.5M321.5,96h1.5v6h-1.5M321.5,195h1.5v6h-1.5M321.5,217h1.5v6h-1.5M321.5,311h1.5v6h-1.5M323,201h1.5v5h-1.5M323,217h1.5v11h-1.5M323,284h1.5v5h-1.5M323,306h1.5v5h-1.5M323,317h1.5v5h-1.5M323,383h1.5v5h-1.5M326,91h1.5v5h-1.5M327.5,173h1.5v6h-1.5M329,173h1.5v11h-1.5M333.5,91h1.5v5h-1.5M333.5,195h1.5v6h-1.5M335,91h1.5v5h-1.5M335,179h1.5v5h-1.5M335,206h1.5v6h-1.5M336.5,91h1.5v5h-1.5M336.5,179h1.5v11h-1.5M338,184h1.5v6h-1.5M339.5,206h1.5v6h-1.5M341,184h1.5v11h-1.5M342.5,74h1.5v6h-1.5M344,91h1.5v5h-1.5M345.5,91h1.5v5h-1.5M345.5,190h1.5v16h-1.5M347,85h1.5v6h-1.5M348.5,217h1.5v6h-1.5M350,91h1.5v5h-1.5M350,212h1.5v5h-1.5M351.5,91h1.5v5h-1.5M351.5,190h1.5v11h-1.5M353,74h1.5v6h-1.5M353,212h1.5v11h-1.5M354.5,91h1.5v5h-1.5M354.5,217h1.5v6h-1.5M356,91h1.5v5h-1.5M356,190h1.5v5h-1.5M357.5,85h1.5v6h-1.5M357.5,251h1.5v5h-1.5M357.5,273h1.5v11h-1.5M359,80h1.5v5h-1.5M359,228h1.5v6h-1.5M359,240h1.5v5h-1.5M359,289h1.5v6h-1.5M360.5,74h1.5v17h-1.5M360.5,223h1.5v11h-1.5M363.5,74h1.5v6h-1.5M363.5,212h1.5v11h-1.5M363.5,228h1.5v6h-1.5M365,212h1.5v5h-1.5M365,234h1.5v11h-1.5M365,284h1.5v5h-1.5M366.5,74h1.5v6h-1.5M366.5,85h1.5v6h-1.5M366.5,195h1.5v6h-1.5M366.5,217h1.5v11h-1.5M368,80h1.5v5h-1.5M368,217h1.5v6h-1.5M371,201h1.5v5h-1.5M372.5,80h1.5v5h-1.5M372.5,195h1.5v11h-1.5M372.5,212h1.5v5h-1.5M374,80h1.5v5h-1.5M374,223h1.5v5h-1.5M374,234h1.5v6h-1.5M375.5,195h1.5v6h-1.5M375.5,217h1.5v6h-1.5M375.5,234h1.5v6h-1.5M377,206h1.5v6h-1.5M377,217h1.5v17h-1.5M378.5,201h1.5v5h-1.5M380,295h1.5v27h-1.5M380,350h1.5v5h-1.5M381.5,228h1.5v6h-1.5M381.5,240h1.5v5h-1.5M381.5,295h1.5v5h-1.5M381.5,311h1.5v6h-1.5M383,195h1.5v11h-1.5M383,212h1.5v5h-1.5M384.5,223h1.5v5h-1.5M386,234h1.5v11h-1.5M387.5,74h1.5v6h-1.5M387.5,206h1.5v6h-1.5M389,69h1.5v11h-1.5M389,195h1.5v11h-1.5M392,201h1.5v5h-1.5M392,217h1.5v6h-1.5M392,322h1.5v6h-1.5M392,350h1.5v5h-1.5M393.5,223h1.5v5h-1.5M395,212h1.5v11h-1.5M395,228h1.5v6h-1.5M396.5,190h1.5v5h-1.5M396.5,201h1.5v5h-1.5M398,58h1.5v5h-1.5M398,195h1.5v6h-1.5M399.5,251h1.5v5h-1.5M401,206h1.5v11h-1.5M401,223h1.5v5h-1.5M404,206h1.5v6h-1.5M404,223h1.5v5h-1.5M405.5,206h1.5v6h-1.5M405.5,228h1.5v6h-1.5M407,195h1.5v6h-1.5M407,206h1.5v6h-1.5M407,217h1.5v11h-1.5M408.5,195h1.5v11h-1.5M410,206h1.5v11h-1.5M410,228h1.5v6h-1.5M411.5,206h1.5v11h-1.5M413,206h1.5v6h-1.5M414.5,195h1.5v11h-1.5M414.5,212h1.5v11h-1.5M416,228h1.5v12h-1.5M417.5,201h1.5v5h-1.5M419,201h1.5v16h-1.5M422,195h1.5v6h-1.5M423.5,212h1.5v5h-1.5M425,206h1.5v6h-1.5M426.5,223h1.5v5h-1.5M428,228h1.5v6h-1.5M431,212h1.5v11h-1.5M432.5,212h1.5v5h-1.5M434,228h1.5v6h-1.5M434,240h1.5v5h-1.5M434,289h1.5v6h-1.5M435.5,251h1.5v5h-1.5M435.5,267h1.5v6h-1.5M435.5,284h1.5v5h-1.5M437,217h1.5v6h-1.5M438.5,240h1.5v5h-1.5M438.5,256h1.5v6h-1.5M438.5,278h1.5v11h-1.5M440,240h1.5v5h-1.5M440,256h1.5v6h-1.5M440,273h1.5v5h-1.5M440,295h1.5v5h-1.5M441.5,256h1.5v11h-1.5M441.5,289h1.5v6h-1.5M444.5,228h1.5v12h-1.5M447.5,240h1.5v11h-1.5M447.5,256h1.5v11h-1.5M447.5,289h1.5v11h-1.5M449,251h1.5v11h-1.5M449,278h1.5v11h-1.5M449,295h1.5v5h-1.5M450.5,300h1.5v6h-1.5M452,228h1.5v12h-1.5M452,256h1.5v6h-1.5M452,267h1.5v6h-1.5M452,278h1.5v6h-1.5M452,289h1.5v6h-1.5M453.5,234h1.5v6h-1.5M455,240h1.5v5h-1.5M455,267h1.5v6h-1.5M455,278h1.5v6h-1.5M455,289h1.5v11h-1.5M455,306h1.5v5h-1.5M456.5,228h1.5v6h-1.5M456.5,267h1.5v6h-1.5M458,234h1.5v6h-1.5M459.5,228h1.5v6h-1.5M459.5,240h1.5v11h-1.5M459.5,256h1.5v6h-1.5M459.5,300h1.5v6h-1.5M464,217h1.5v6h-1.5M464,262h1.5v5h-1.5M465.5,245h1.5v6h-1.5M465.5,284h1.5v5h-1.5M467,234h1.5v6h-1.5M468.5,195h1.5v6h-1.5M468.5,206h1.5v11h-1.5M468.5,228h1.5v6h-1.5M470,184h1.5v6h-1.5M471.5,184h1.5v6h-1.5M471.5,228h1.5v6h-1.5M473,190h1.5v16h-1.5M474.5,184h1.5v6h-1.5M474.5,201h1.5v5h-1.5M476,184h1.5v6h-1.5M476,195h1.5v6h-1.5M477.5,179h1.5v5h-1.5M477.5,190h1.5v5h-1.5M479,190h1.5v5h-1.5M479,206h1.5v6h-1.5M480.5,179h1.5v16h-1.5M482,179h1.5v11h-1.5M483.5,173h1.5v6h-1.5M483.5,184h1.5v6h-1.5M485,195h1.5v6h-1.5M486.5,173h1.5v6h-1.5M486.5,184h1.5v6h-1.5M486.5,195h1.5v11h-1.5M488,223h1.5v5h-1.5M489.5,190h1.5v5h-1.5M491,206h1.5v11h-1.5M491,228h1.5v6h-1.5M492.5,179h1.5v5h-1.5M492.5,206h1.5v6h-1.5M494,195h1.5v11h-1.5M495.5,217h1.5v6h-1.5M497,201h1.5v11h-1.5M498.5,195h1.5v17h-1.5M504.5,206h1.5v11h-1.5M506,206h1.5v6h-1.5M509,206h1.5v6h-1.5M509,217h1.5v11h-1.5M510.5,217h1.5v6h-1.5M513.5,63h1.5v6h-1.5M513.5,262h1.5v5h-1.5M515,234h1.5v6h-1.5M515,245h1.5v6h-1.5M516.5,63h1.5v17h-1.5M516.5,228h1.5v12h-1.5M518,58h1.5v5h-1.5M518,245h1.5v6h-1.5M518,262h1.5v5h-1.5M519.5,256h1.5v6h-1.5M522.5,58h1.5v11h-1.5M522.5,74h1.5v6h-1.5M522.5,267h1.5v6h-1.5M524,80h1.5v5h-1.5M524,251h1.5v5h-1.5M527,234h1.5v11h-1.5M528.5,234h1.5v6h-1.5M528.5,262h1.5v5h-1.5M531.5,234h1.5v6h-1.5M531.5,245h1.5v6h-1.5M531.5,262h1.5v11h-1.5M537.5,58h1.5v5h-1.5M540.5,267h1.5v6h-1.5M542,256h1.5v6h-1.5M543.5,256h1.5v6h-1.5M545,262h1.5v11h-1.5M546.5,240h1.5v5h-1.5M548,267h1.5v6h-1.5M549.5,267h1.5v6h-1.5M551,278h1.5v6h-1.5M552.5,267h1.5v6h-1.5M554,240h1.5v5h-1.5M554,262h1.5v5h-1.5M560,273h1.5v5h-1.5M561.5,267h1.5v6h-1.5M564.5,262h1.5v5h-1.5M567.5,267h1.5v6h-1.5M569,267h1.5v6h-1.5M573.5,240h1.5v5h-1.5M576.5,273h1.5v5h-1.5M578,267h1.5v6h-1.5M579.5,256h1.5v6h-1.5M581,251h1.5v5h-1.5M582.5,251h1.5v5h-1.5M584,228h1.5v6h-1.5M584,251h1.5v5h-1.5M584,262h1.5v5h-1.5M585.5,251h1.5v5h-1.5M588.5,262h1.5v5h-1.5M590,256h1.5v11h-1.5M593,256h1.5v6h-1.5M594.5,245h1.5v6h-1.5M596,245h1.5v6h-1.5M596,262h1.5v11h-1.5M599,184h1.5v6h-1.5M602,179h1.5v5h-1.5M602,267h1.5v6h-1.5M603.5,173h1.5v6h-1.5M603.5,234h1.5v6h-1.5M605,173h1.5v6h-1.5M605,267h1.5v6h-1.5M608,240h1.5v5h-1.5M609.5,251h1.5v5h-1.5M611,179h1.5v11h-1.5M611,256h1.5v6h-1.5M612.5,179h1.5v5h-1.5M612.5,223h1.5v5h-1.5M612.5,240h1.5v5h-1.5M612.5,262h1.5v11h-1.5M614,173h1.5v6h-1.5M615.5,256h1.5v6h-1.5M618.5,228h1.5v6h-1.5M618.5,240h1.5v11h-1.5M618.5,267h1.5v6h-1.5M620,240h1.5v5h-1.5M620,251h1.5v5h-1.5M621.5,228h1.5v6h-1.5M621.5,251h1.5v5h-1.5M621.5,267h1.5v6h-1.5M626,240h1.5v5h-1.5M627.5,173h1.5v6h-1.5M629,223h1.5v5h-1.5M629,267h1.5v6h-1.5M630.5,173h1.5v6h-1.5M630.5,223h1.5v5h-1.5M632,179h1.5v5h-1.5M632,217h1.5v6h-1.5M632,228h1.5v12h-1.5M633.5,173h1.5v6h-1.5M633.5,262h1.5v5h-1.5M635,217h1.5v6h-1.5M636.5,228h1.5v6h-1.5M636.5,399h1.5v6h-1.5M638,228h1.5v6h-1.5M639.5,228h1.5v6h-1.5M639.5,251h1.5v5h-1.5M639.5,262h1.5v5h-1.5M641,223h1.5v5h-1.5M641,256h1.5v6h-1.5M642.5,228h1.5v6h-1.5M644,228h1.5v6h-1.5M644,251h1.5v11h-1.5M644,372h1.5v11h-1.5M645.5,240h1.5v5h-1.5M647,377h1.5v6h-1.5M647,388h1.5v6h-1.5M648.5,228h1.5v6h-1.5M651.5,256h1v6h-1M651.5,388h1v11h-1"/>
<path fill="#00f0f5" d="M143,168h1.5v5h-1.5M143,179h1.5v5h-1.5M143,267h1.5v6h-1.5M143,278h1.5v6h-1.5M143,289h1.5v22h-1.5M143,339h1.5v5h-1.5M143,366h1.5v6h-1.5M143,377h1.5v6h-1.5M143,394h1.5v11h-1.5M144.5,74h1.5v6h-1.5M144.5,85h1.5v11h-1.5M144.5,102h1.5v5h-1.5M144.5,168h1.5v5h-1.5M144.5,256h1.5v6h-1.5M144.5,267h1.5v6h-1.5M144.5,295h1.5v5h-1.5M144.5,306h1.5v5h-1.5M144.5,317h1.5v5h-1.5M144.5,328h1.5v11h-1.5M144.5,361h1.5v22h-1.5M144.5,388h1.5v11h-1.5M146,85h1.5v22h-1.5M146,162h1.5v11h-1.5M146,190h1.5v5h-1.5M146,262h1.5v5h-1.5M146,278h1.5v11h-1.5M146,300h1.5v6h-1.5M146,333h1.5v6h-1.5M146,344h1.5v11h-1.5M146,366h1.5v11h-1.5M146,388h1.5v6h-1.5M146,399h1.5v6h-1.5M147.5,69h1.5v5h-1.5M147.5,91h1.5v5h-1.5M147.5,168h1.5v5h-1.5M147.5,256h1.5v11h-1.5M147.5,278h1.5v17h-1.5M147.5,328h1.5v5h-1.5M147.5,339h1.5v5h-1.5M147.5,350h1.5v5h-1.5M147.5,361h1.5v11h-1.5M147.5,394h1.5v11h-1.5M149,74h1.5v6h-1.5M149,91h1.5v11h-1.5M149,168h1.5v5h-1.5M149,179h1.5v5h-1.5M149,217h1.5v11h-1.5M149,240h1.5v5h-1.5M149,251h1.5v11h-1.5M149,267h1.5v17h-1.5M149,295h1.5v16h-1.5M149,339h1.5v5h-1.5M149,350h1.5v5h-1.5M149,361h1.5v5h-1.5M150.5,74h1.5v28h-1.5M150.5,113h1.5v5h-1.5M150.5,278h1.5v6h-1.5M150.5,295h1.5v5h-1.5M150.5,317h1.5v11h-1.5M150.5,333h1.5v11h-1.5M150.5,350h1.5v5h-1.5M150.5,366h1.5v6h-1.5M150.5,377h1.5v11h-1.5M152,69h1.5v5h-1.5M152,80h1.5v5h-1.5M152,157h1.5v5h-1.5M153.5,80h1.5v5h-1.5M153.5,91h1.5v5h-1.5M153.5,102h1.5v5h-1.5M153.5,113h1.5v5h-1.5M153.5,162h1.5v6h-1.5M155,91h1.5v11h-1.5M155,151h1.5v6h-1.5M156.5,80h1.5v5h-1.5M156.5,91h1.5v5h-1.5M156.5,107h1.5v6h-1.5M158,69h1.5v5h-1.5M158,96h1.5v6h-1.5M159.5,80h1.5v5h-1.5M159.5,102h1.5v5h-1.5M159.5,146h1.5v5h-1.5M161,74h1.5v33h-1.5M161,140h1.5v11h-1.5M162.5,96h1.5v6h-1.5M162.5,140h1.5v6h-1.5M164,69h1.5v5h-1.5M164,96h1.5v6h-1.5M164,113h1.5v11h-1.5M165.5,58h1.5v5h-1.5M165.5,102h1.5v5h-1.5M165.5,113h1.5v5h-1.5M167,69h1.5v5h-1.5M167,102h1.5v11h-1.5M168.5,52h1.5v22h-1.5M168.5,102h1.5v5h-1.5M168.5,118h1.5v11h-1.5M170,52h1.5v6h-1.5M170,107h1.5v6h-1.5M170,129h1.5v11h-1.5M171.5,113h1.5v5h-1.5M171.5,129h1.5v6h-1.5M173,63h1.5v6h-1.5M173,135h1.5v5h-1.5M176,135h1.5v5h-1.5M177.5,124h1.5v5h-1.5M188,107h1.5v6h-1.5M188,129h1.5v6h-1.5M188,151h1.5v6h-1.5M189.5,140h1.5v11h-1.5M191,135h1.5v5h-1.5M191,151h1.5v6h-1.5M192.5,107h1.5v11h-1.5M192.5,140h1.5v6h-1.5M192.5,284h1.5v5h-1.5M194,107h1.5v17h-1.5M195.5,102h1.5v5h-1.5M195.5,135h1.5v11h-1.5M195.5,311h1.5v6h-1.5M197,124h1.5v5h-1.5M197,228h1.5v6h-1.5M197,245h1.5v6h-1.5M197,256h1.5v11h-1.5M197,278h1.5v11h-1.5M197,295h1.5v5h-1.5M197,322h1.5v6h-1.5M197,333h1.5v6h-1.5M198.5,223h1.5v5h-1.5M198.5,240h1.5v5h-1.5M198.5,256h1.5v22h-1.5M198.5,317h1.5v5h-1.5M200,107h1.5v6h-1.5M200,157h1.5v11h-1.5M200,212h1.5v5h-1.5M200,256h1.5v6h-1.5M200,278h1.5v6h-1.5M200,300h1.5v6h-1.5M200,317h1.5v5h-1.5M200,328h1.5v5h-1.5M200,355h1.5v6h-1.5M201.5,107h1.5v6h-1.5M201.5,217h1.5v6h-1.5M201.5,234h1.5v11h-1.5M201.5,262h1.5v16h-1.5M201.5,284h1.5v16h-1.5M201.5,311h1.5v6h-1.5M203,58h1.5v5h-1.5M203,146h1.5v11h-1.5M203,223h1.5v5h-1.5M203,240h1.5v5h-1.5M203,284h1.5v5h-1.5M203,295h1.5v5h-1.5M203,306h1.5v5h-1.5M203,322h1.5v6h-1.5M204.5,58h1.5v5h-1.5M204.5,146h1.5v5h-1.5M204.5,157h1.5v11h-1.5M204.5,201h1.5v11h-1.5M204.5,228h1.5v17h-1.5M204.5,289h1.5v6h-1.5M204.5,300h1.5v6h-1.5M204.5,322h1.5v11h-1.5M204.5,339h1.5v5h-1.5M206,58h1.5v5h-1.5M206,102h1.5v5h-1.5M206,140h1.5v6h-1.5M206,206h1.5v11h-1.5M206,251h1.5v5h-1.5M206,273h1.5v5h-1.5M206,300h1.5v6h-1.5M206,317h1.5v5h-1.5M207.5,58h1.5v16h-1.5M207.5,102h1.5v5h-1.5M207.5,157h1.5v5h-1.5M207.5,168h1.5v5h-1.5M207.5,206h1.5v6h-1.5M207.5,328h1.5v5h-1.5M207.5,366h1.5v6h-1.5M207.5,399h1.5v6h-1.5M209,58h1.5v16h-1.5M209,107h1.5v6h-1.5M209,162h1.5v6h-1.5M209,195h1.5v6h-1.5M209,245h1.5v6h-1.5M209,311h1.5v6h-1.5M210.5,52h1.5v17h-1.5M210.5,107h1.5v6h-1.5M210.5,162h1.5v6h-1.5M210.5,206h1.5v6h-1.5M210.5,217h1.5v11h-1.5M210.5,234h1.5v11h-1.5M210.5,289h1.5v17h-1.5M210.5,317h1.5v5h-1.5M212,96h1.5v6h-1.5M212,173h1.5v6h-1.5M212,184h1.5v6h-1.5M212,366h1.5v6h-1.5M212,383h1.5v5h-1.5M213.5,58h1.5v5h-1.5M213.5,96h1.5v11h-1.5M213.5,190h1.5v5h-1.5M213.5,328h1.5v11h-1.5M213.5,350h1.5v5h-1.5M215,52h1.5v17h-1.5M215,322h1.5v6h-1.5M216.5,96h1.5v6h-1.5M216.5,184h1.5v6h-1.5M216.5,311h1.5v6h-1.5M216.5,322h1.5v11h-1.5M216.5,339h1.5v5h-1.5M216.5,377h1.5v6h-1.5M216.5,399h1.5v6h-1.5M218,96h1.5v6h-1.5M218,295h1.5v5h-1.5M218,317h1.5v5h-1.5M218,328h1.5v11h-1.5M218,388h1.5v6h-1.5M219.5,96h1.5v6h-1.5M219.5,173h1.5v11h-1.5M219.5,190h1.5v5h-1.5M219.5,251h1.5v5h-1.5M219.5,388h1.5v6h-1.5M219.5,399h1.5v6h-1.5M221,96h1.5v6h-1.5M221,173h1.5v6h-1.5M221,184h1.5v6h-1.5M221,317h1.5v5h-1.5M221,328h1.5v5h-1.5M221,339h1.5v5h-1.5M221,355h1.5v6h-1.5M221,372h1.5v5h-1.5M221,383h1.5v5h-1.5M221,394h1.5v5h-1.5M222.5,96h1.5v6h-1.5M222.5,190h1.5v5h-1.5M222.5,245h1.5v11h-1.5M222.5,273h1.5v5h-1.5M222.5,289h1.5v11h-1.5M222.5,317h1.5v11h-1.5M222.5,333h1.5v6h-1.5M222.5,399h1.5v6h-1.5M224,63h1.5v6h-1.5M224,179h1.5v5h-1.5M224,190h1.5v5h-1.5M224,311h1.5v11h-1.5M224,388h1.5v6h-1.5M224,399h1.5v6h-1.5M225.5,63h1.5v11h-1.5M225.5,168h1.5v5h-1.5M225.5,190h1.5v11h-1.5M227,168h1.5v16h-1.5M227,328h1.5v5h-1.5M228.5,69h1.5v5h-1.5M228.5,184h1.5v6h-1.5M228.5,311h1.5v6h-1.5M228.5,322h1.5v11h-1.5M230,63h1.5v6h-1.5M230,273h1.5v16h-1.5M230,300h1.5v6h-1.5M230,317h1.5v5h-1.5M230,333h1.5v6h-1.5M230,344h1.5v6h-1.5M230,394h1.5v5h-1.5M231.5,91h1.5v5h-1.5M231.5,333h1.5v17h-1.5M231.5,355h1.5v6h-1.5M231.5,372h1.5v5h-1.5M233,339h1.5v16h-1.5M233,366h1.5v28h-1.5M234.5,344h1.5v6h-1.5M234.5,355h1.5v17h-1.5M234.5,388h1.5v6h-1.5M236,91h1.5v11h-1.5M237.5,91h1.5v5h-1.5M240.5,69h1.5v5h-1.5M240.5,366h1.5v6h-1.5M240.5,377h1.5v6h-1.5M242,96h1.5v6h-1.5M242,366h1.5v6h-1.5M242,377h1.5v6h-1.5M242,388h1.5v6h-1.5M243.5,69h1.5v5h-1.5M243.5,91h1.5v5h-1.5M245,69h1.5v11h-1.5M248,69h1.5v5h-1.5M248,91h1.5v5h-1.5M248,328h1.5v5h-1.5M248,361h1.5v5h-1.5M248,377h1.5v28h-1.5M249.5,69h1.5v5h-1.5M249.5,350h1.5v5h-1.5M249.5,366h1.5v11h-1.5M249.5,383h1.5v11h-1.5M249.5,399h1.5v6h-1.5M255.5,74h1.5v6h-1.5M255.5,361h1.5v5h-1.5M257,74h1.5v6h-1.5M258.5,388h1.5v6h-1.5M260,85h1.5v6h-1.5M260,361h1.5v22h-1.5M260,399h1.5v6h-1.5M261.5,366h1.5v11h-1.5M261.5,388h1.5v6h-1.5M261.5,399h1.5v6h-1.5M263,366h1.5v6h-1.5M264.5,317h1.5v5h-1.5M264.5,361h1.5v11h-1.5M264.5,377h1.5v6h-1.5M264.5,394h1.5v5h-1.5M266,322h1.5v6h-1.5M266,333h1.5v6h-1.5M266,361h1.5v38h-1.5M267.5,74h1.5v6h-1.5M267.5,328h1.5v5h-1.5M267.5,350h1.5v5h-1.5M267.5,361h1.5v22h-1.5M267.5,388h1.5v6h-1.5M267.5,399h1.5v6h-1.5M269,69h1.5v5h-1.5M269,91h1.5v5h-1.5M269,372h1.5v5h-1.5M269,383h1.5v16h-1.5M270.5,91h1.5v5h-1.5M270.5,383h1.5v5h-1.5M272,85h1.5v6h-1.5M273.5,85h1.5v6h-1.5M273.5,366h1.5v6h-1.5M275,91h1.5v5h-1.5M275,317h1.5v5h-1.5M275,377h1.5v11h-1.5M275,394h1.5v11h-1.5M276.5,361h1.5v5h-1.5M276.5,377h1.5v6h-1.5M276.5,388h1.5v6h-1.5M279.5,74h1.5v6h-1.5M281,91h1.5v5h-1.5M281,361h1.5v5h-1.5M281,372h1.5v11h-1.5M281,388h1.5v6h-1.5M282.5,91h1.5v5h-1.5M284,74h1.5v6h-1.5M284,355h1.5v6h-1.5M284,372h1.5v5h-1.5M285.5,69h1.5v5h-1.5M285.5,383h1.5v5h-1.5M285.5,394h1.5v11h-1.5M287,80h1.5v5h-1.5M287,91h1.5v5h-1.5M288.5,355h1.5v11h-1.5M288.5,372h1.5v5h-1.5M288.5,383h1.5v5h-1.5M288.5,399h1.5v6h-1.5M290,366h1.5v22h-1.5M291.5,361h1.5v5h-1.5M291.5,388h1.5v17h-1.5M293,74h1.5v6h-1.5M293,366h1.5v6h-1.5M293,383h1.5v5h-1.5M293,399h1.5v6h-1.5M294.5,96h1.5v6h-1.5M294.5,366h1.5v6h-1.5M294.5,377h1.5v6h-1.5M294.5,394h1.5v5h-1.5M296,96h1.5v6h-1.5M296,361h1.5v5h-1.5M296,372h1.5v5h-1.5M296,399h1.5v6h-1.5M297.5,96h1.5v6h-1.5M297.5,361h1.5v5h-1.5M297.5,372h1.5v22h-1.5M297.5,399h1.5v6h-1.5M299,96h1.5v6h-1.5M299,361h1.5v11h-1.5M299,394h1.5v5h-1.5M300.5,74h1.5v6h-1.5M300.5,361h1.5v5h-1.5M300.5,377h1.5v6h-1.5M302,96h1.5v6h-1.5M302,372h1.5v11h-1.5M302,388h1.5v6h-1.5M303.5,372h1.5v11h-1.5M303.5,388h1.5v6h-1.5M303.5,399h1.5v6h-1.5M305,355h1.5v6h-1.5M306.5,311h1.5v6h-1.5M306.5,361h1.5v11h-1.5M306.5,377h1.5v11h-1.5M308,184h1.5v6h-1.5M308,195h1.5v6h-1.5M308,206h1.5v6h-1.5M308,240h1.5v11h-1.5M308,256h1.5v11h-1.5M308,311h1.5v6h-1.5M308,333h1.5v11h-1.5M308,355h1.5v6h-1.5M308,366h1.5v17h-1.5M308,388h1.5v17h-1.5M309.5,96h1.5v6h-1.5M309.5,190h1.5v5h-1.5M309.5,228h1.5v6h-1.5M309.5,278h1.5v6h-1.5M309.5,322h1.5v6h-1.5M309.5,344h1.5v6h-1.5M309.5,355h1.5v11h-1.5M309.5,377h1.5v6h-1.5M309.5,388h1.5v6h-1.5M309.5,399h1.5v6h-1.5M311,74h1.5v6h-1.5M311,91h1.5v5h-1.5M311,339h1.5v11h-1.5M311,361h1.5v5h-1.5M311,372h1.5v22h-1.5M311,399h1.5v6h-1.5M312.5,74h1.5v6h-1.5M312.5,184h1.5v6h-1.5M312.5,201h1.5v5h-1.5M312.5,212h1.5v5h-1.5M312.5,262h1.5v5h-1.5M312.5,322h1.5v17h-1.5M312.5,344h1.5v6h-1.5M312.5,361h1.5v16h-1.5M312.5,383h1.5v5h-1.5M312.5,399h1.5v6h-1.5M314,195h1.5v11h-1.5M314,223h1.5v5h-1.5M314,245h1.5v6h-1.5M314,262h1.5v16h-1.5M314,306h1.5v16h-1.5M315.5,190h1.5v5h-1.5M315.5,206h1.5v6h-1.5M315.5,217h1.5v6h-1.5M315.5,228h1.5v6h-1.5M315.5,245h1.5v6h-1.5M315.5,278h1.5v6h-1.5M315.5,311h1.5v11h-1.5M315.5,361h1.5v5h-1.5M317,69h1.5v5h-1.5M317,179h1.5v5h-1.5M317,228h1.5v6h-1.5M317,273h1.5v5h-1.5M318.5,74h1.5v11h-1.5M318.5,91h1.5v5h-1.5M318.5,184h1.5v11h-1.5M318.5,201h1.5v5h-1.5M318.5,217h1.5v6h-1.5M318.5,267h1.5v6h-1.5M318.5,284h1.5v5h-1.5M318.5,295h1.5v16h-1.5M320,91h1.5v5h-1.5M321.5,190h1.5v5h-1.5M321.5,201h1.5v5h-1.5M321.5,212h1.5v5h-1.5M321.5,223h1.5v5h-1.5M321.5,289h1.5v6h-1.5M321.5,300h1.5v11h-1.5M321.5,322h1.5v6h-1.5M323,184h1.5v6h-1.5M323,195h1.5v6h-1.5M323,212h1.5v5h-1.5M323,234h1.5v6h-1.5M323,300h1.5v6h-1.5M323,311h1.5v6h-1.5M323,355h1.5v11h-1.5M324.5,96h1.5v6h-1.5M324.5,206h1.5v6h-1.5M324.5,234h1.5v6h-1.5M324.5,295h1.5v5h-1.5M327.5,74h1.5v6h-1.5M327.5,96h1.5v6h-1.5M329,91h1.5v5h-1.5M329,184h1.5v6h-1.5M330.5,179h1.5v5h-1.5M332,74h1.5v6h-1.5M335,184h1.5v6h-1.5M335,195h1.5v6h-1.5M336.5,85h1.5v6h-1.5M336.5,195h1.5v6h-1.5M336.5,206h1.5v11h-1.5M338,74h1.5v6h-1.5M338,190h1.5v5h-1.5M339.5,85h1.5v11h-1.5M339.5,190h1.5v5h-1.5M341,195h1.5v6h-1.5M342.5,85h1.5v6h-1.5M342.5,190h1.5v11h-1.5M342.5,206h1.5v11h-1.5M344,184h1.5v11h-1.5M345.5,85h1.5v6h-1.5M345.5,217h1.5v6h-1.5M347,74h1.5v6h-1.5M347,217h1.5v6h-1.5M348.5,85h1.5v6h-1.5M348.5,223h1.5v5h-1.5M350,74h1.5v6h-1.5M350,206h1.5v6h-1.5M350,223h1.5v5h-1.5M351.5,201h1.5v5h-1.5M351.5,212h1.5v5h-1.5M353,85h1.5v6h-1.5M353,223h1.5v5h-1.5M354.5,74h1.5v6h-1.5M354.5,85h1.5v6h-1.5M354.5,212h1.5v5h-1.5M354.5,223h1.5v5h-1.5M356,74h1.5v6h-1.5M356,195h1.5v6h-1.5M357.5,80h1.5v5h-1.5M357.5,245h1.5v6h-1.5M357.5,306h1.5v5h-1.5M359,85h1.5v6h-1.5M359,251h1.5v16h-1.5M359,278h1.5v11h-1.5M359,295h1.5v5h-1.5M359,317h1.5v5h-1.5M360.5,267h1.5v6h-1.5M362,74h1.5v6h-1.5M362,85h1.5v6h-1.5M362,195h1.5v6h-1.5M362,217h1.5v11h-1.5M363.5,201h1.5v5h-1.5M365,85h1.5v6h-1.5M365,273h1.5v5h-1.5M366.5,80h1.5v5h-1.5M366.5,228h1.5v6h-1.5M368,74h1.5v6h-1.5M368,206h1.5v6h-1.5M368,228h1.5v6h-1.5M369.5,74h1.5v6h-1.5M369.5,228h1.5v12h-1.5M369.5,278h1.5v6h-1.5M371,74h1.5v11h-1.5M371,190h1.5v11h-1.5M372.5,206h1.5v6h-1.5M374,251h1.5v5h-1.5M375.5,201h1.5v11h-1.5M375.5,295h1.5v5h-1.5M377,234h1.5v17h-1.5M378.5,240h1.5v5h-1.5M380,256h1.5v11h-1.5M380,328h1.5v5h-1.5M380,339h1.5v11h-1.5M380,361h1.5v5h-1.5M381.5,234h1.5v6h-1.5M381.5,245h1.5v22h-1.5M381.5,284h1.5v5h-1.5M381.5,306h1.5v5h-1.5M381.5,317h1.5v5h-1.5M383,206h1.5v6h-1.5M384.5,217h1.5v6h-1.5M384.5,228h1.5v6h-1.5M384.5,289h1.5v11h-1.5M386,206h1.5v6h-1.5M386,228h1.5v6h-1.5M386,317h1.5v5h-1.5M386,333h1.5v6h-1.5M386,344h1.5v11h-1.5M389,206h1.5v6h-1.5M390.5,206h1.5v6h-1.5M392,234h1.5v6h-1.5M392,278h1.5v33h-1.5M392,317h1.5v5h-1.5M392,339h1.5v11h-1.5M393.5,289h1.5v6h-1.5M395,328h1.5v5h-1.5M398,201h1.5v5h-1.5M398,217h1.5v6h-1.5M399.5,228h1.5v6h-1.5M399.5,289h1.5v11h-1.5M399.5,306h1.5v5h-1.5M399.5,339h1.5v11h-1.5M402.5,223h1.5v11h-1.5M404,201h1.5v5h-1.5M405.5,212h1.5v5h-1.5M407,212h1.5v5h-1.5M408.5,217h1.5v6h-1.5M410,217h1.5v11h-1.5M413,212h1.5v5h-1.5M413,223h1.5v11h-1.5M414.5,206h1.5v6h-1.5M414.5,223h1.5v17h-1.5M417.5,206h1.5v17h-1.5M419,228h1.5v6h-1.5M420.5,217h1.5v11h-1.5M422,201h1.5v16h-1.5M423.5,217h1.5v6h-1.5M423.5,228h1.5v6h-1.5M425,217h1.5v11h-1.5M426.5,217h1.5v6h-1.5M426.5,234h1.5v6h-1.5M428,217h1.5v6h-1.5M429.5,212h1.5v5h-1.5M432.5,217h1.5v6h-1.5M434,234h1.5v6h-1.5M434,245h1.5v6h-1.5M434,256h1.5v6h-1.5M434,295h1.5v5h-1.5M434,306h1.5v5h-1.5M435.5,245h1.5v6h-1.5M435.5,262h1.5v5h-1.5M435.5,289h1.5v6h-1.5M435.5,300h1.5v6h-1.5M435.5,311h1.5v6h-1.5M437,223h1.5v17h-1.5M438.5,228h1.5v6h-1.5M438.5,245h1.5v6h-1.5M438.5,273h1.5v5h-1.5M438.5,295h1.5v5h-1.5M440,278h1.5v6h-1.5M441.5,300h1.5v11h-1.5M443,240h1.5v5h-1.5M443,251h1.5v11h-1.5M443,267h1.5v6h-1.5M444.5,240h1.5v5h-1.5M446,228h1.5v12h-1.5M449,300h1.5v11h-1.5M450.5,306h1.5v5h-1.5M453.5,228h1.5v6h-1.5M453.5,240h1.5v11h-1.5M453.5,300h1.5v6h-1.5M456.5,240h1.5v11h-1.5M456.5,284h1.5v5h-1.5M458,217h1.5v6h-1.5M458,228h1.5v6h-1.5M458,245h1.5v11h-1.5M458,267h1.5v6h-1.5M458,278h1.5v6h-1.5M459.5,251h1.5v5h-1.5M459.5,262h1.5v5h-1.5M459.5,284h1.5v5h-1.5M461,300h1.5v6h-1.5M462.5,217h1.5v6h-1.5M462.5,228h1.5v6h-1.5M462.5,251h1.5v5h-1.5M462.5,267h1.5v6h-1.5M464,228h1.5v6h-1.5M464,245h1.5v6h-1.5M465.5,217h1.5v6h-1.5M465.5,273h1.5v5h-1.5M465.5,295h1.5v11h-1.5M467,217h1.5v17h-1.5M467,256h1.5v6h-1.5M467,289h1.5v6h-1.5M468.5,190h1.5v5h-1.5M468.5,217h1.5v6h-1.5M468.5,295h1.5v5h-1.5M470,190h1.5v11h-1.5M471.5,212h1.5v11h-1.5M471.5,234h1.5v6h-1.5M473,212h1.5v11h-1.5M474.5,179h1.5v5h-1.5M474.5,190h1.5v11h-1.5M474.5,206h1.5v6h-1.5M476,179h1.5v5h-1.5M476,190h1.5v5h-1.5M476,201h1.5v16h-1.5M477.5,206h1.5v6h-1.5M479,212h1.5v11h-1.5M480.5,201h1.5v11h-1.5M482,195h1.5v6h-1.5M483.5,201h1.5v11h-1.5M485,173h1.5v22h-1.5M486.5,206h1.5v6h-1.5M486.5,228h1.5v6h-1.5M488,212h1.5v5h-1.5M488,228h1.5v6h-1.5M489.5,206h1.5v6h-1.5M489.5,240h1.5v5h-1.5M491,245h1.5v6h-1.5M492.5,201h1.5v5h-1.5M495.5,212h1.5v5h-1.5M500,223h1.5v5h-1.5M501.5,212h1.5v5h-1.5M503,206h1.5v11h-1.5M504.5,228h1.5v6h-1.5M506,212h1.5v5h-1.5M507.5,206h1.5v6h-1.5M507.5,217h1.5v6h-1.5M509,228h1.5v6h-1.5M510.5,212h1.5v5h-1.5M512,63h1.5v6h-1.5M512,240h1.5v5h-1.5M512,262h1.5v5h-1.5M513.5,245h1.5v17h-1.5M515,256h1.5v6h-1.5M516.5,240h1.5v16h-1.5M518,63h1.5v6h-1.5M518,74h1.5v6h-1.5M518,234h1.5v6h-1.5M518,251h1.5v5h-1.5M521,58h1.5v5h-1.5M521,267h1.5v6h-1.5M522.5,69h1.5v5h-1.5M524,267h1.5v6h-1.5M525.5,256h1.5v6h-1.5M525.5,267h1.5v6h-1.5M527,245h1.5v6h-1.5M527,262h1.5v5h-1.5M528.5,245h1.5v6h-1.5M528.5,267h1.5v6h-1.5M530,256h1.5v11h-1.5M531.5,251h1.5v5h-1.5M533,267h1.5v11h-1.5M534.5,273h1.5v5h-1.5M536,278h1.5v6h-1.5M536,377h1.5v11h-1.5M537.5,256h1.5v6h-1.5M537.5,267h1.5v6h-1.5M542,251h1.5v5h-1.5M545,251h1.5v5h-1.5M546.5,251h1.5v5h-1.5M546.5,267h1.5v6h-1.5M551,361h1.5v5h-1.5M551,372h1.5v16h-1.5M552.5,273h1.5v5h-1.5M555.5,273h1.5v5h-1.5M557,383h1.5v5h-1.5M558.5,372h1.5v5h-1.5M560,377h1.5v6h-1.5M566,377h1.5v11h-1.5M570.5,273h1.5v5h-1.5M573.5,273h1.5v5h-1.5M575,273h1.5v5h-1.5M575,377h1.5v11h-1.5M579.5,267h1.5v6h-1.5M581,267h1.5v6h-1.5M582.5,240h1.5v5h-1.5M582.5,256h1.5v6h-1.5M584,267h1.5v6h-1.5M587,240h1.5v5h-1.5M587,267h1.5v6h-1.5M588.5,245h1.5v6h-1.5M588.5,267h1.5v6h-1.5M590,267h1.5v6h-1.5M591.5,273h1.5v5h-1.5M594.5,179h1.5v5h-1.5M594.5,251h1.5v5h-1.5M599,251h1.5v5h-1.5M599,267h1.5v6h-1.5M600.5,273h1.5v5h-1.5M603.5,179h1.5v5h-1.5M603.5,228h1.5v6h-1.5M603.5,240h1.5v5h-1.5M608,173h1.5v6h-1.5M608,184h1.5v6h-1.5M608,251h1.5v5h-1.5M609.5,184h1.5v6h-1.5M611,173h1.5v6h-1.5M611,251h1.5v5h-1.5M611,262h1.5v11h-1.5M612.5,173h1.5v6h-1.5M614,267h1.5v6h-1.5M615.5,267h1.5v6h-1.5M618.5,256h1.5v11h-1.5M621.5,256h1.5v11h-1.5M624.5,267h1.5v6h-1.5M626,267h1.5v6h-1.5M627.5,228h1.5v6h-1.5M627.5,256h1.5v17h-1.5M630.5,228h1.5v6h-1.5M632,223h1.5v5h-1.5M633.5,223h1.5v22h-1.5M635,223h1.5v5h-1.5M635,240h1.5v5h-1.5M635,256h1.5v11h-1.5M636.5,388h1.5v6h-1.5M638,267h1.5v6h-1.5M639.5,256h1.5v6h-1.5M639.5,267h1.5v6h-1.5M641,240h1.5v11h-1.5M641,262h1.5v5h-1.5M642.5,377h1.5v6h-1.5M644,388h1.5v6h-1.5M644,399h1.5v6h-1.5M645.5,228h1.5v12h-1.5M645.5,245h1.5v6h-1.5M645.5,361h1.5v5h-1.5M645.5,377h1.5v6h-1.5M647,262h1.5v5h-1.5M647,355h1.5v11h-1.5M647,372h1.5v5h-1.5M647,383h1.5v5h-1.5M647,399h1.5v6h-1.5M648.5,383h1.5v11h-1.5M648.5,399h1.5v6h-1.5M650,228h1.5v6h-1.5M650,240h1.5v5h-1.5M650,366h1.5v6h-1.5M650,388h1.5v11h-1.5M651.5,372h1v16h-1M651.5,399h1v6h-1"/>
<path fill="#00f2c6" d="M143,74h1.5v6h-1.5M143,85h1.5v11h-1.5M143,184h1.5v28h-1.5M143,240h1.5v16h-1.5M143,262h1.5v5h-1.5M143,350h1.5v11h-1.5M144.5,96h1.5v6h-1.5M144.5,262h1.5v5h-1.5M144.5,278h1.5v6h-1.5M144.5,289h1.5v6h-1.5M144.5,355h1.5v6h-1.5M144.5,383h1.5v5h-1.5M144.5,399h1.5v6h-1.5M146,212h1.5v5h-1.5M146,223h1.5v11h-1.5M146,245h1.5v11h-1.5M146,289h1.5v11h-1.5M146,306h1.5v5h-1.5M146,361h1.5v5h-1.5M147.5,80h1.5v11h-1.5M147.5,190h1.5v5h-1.5M147.5,206h1.5v6h-1.5M147.5,240h1.5v16h-1.5M147.5,295h1.5v5h-1.5M147.5,372h1.5v5h-1.5M149,80h1.5v11h-1.5M149,173h1.5v6h-1.5M149,184h1.5v11h-1.5M149,201h1.5v11h-1.5M149,228h1.5v6h-1.5M149,394h1.5v5h-1.5M150.5,223h1.5v5h-1.5M150.5,251h1.5v22h-1.5M150.5,284h1.5v11h-1.5M150.5,306h1.5v5h-1.5M150.5,328h1.5v5h-1.5M150.5,355h1.5v6h-1.5M150.5,394h1.5v5h-1.5M152,74h1.5v6h-1.5M152,85h1.5v11h-1.5M152,102h1.5v11h-1.5M152,162h1.5v6h-1.5M152,311h1.5v11h-1.5M152,328h1.5v5h-1.5M152,388h1.5v6h-1.5M153.5,74h1.5v6h-1.5M153.5,96h1.5v6h-1.5M153.5,157h1.5v5h-1.5M153.5,311h1.5v6h-1.5M153.5,322h1.5v6h-1.5M155,69h1.5v5h-1.5M155,102h1.5v5h-1.5M156.5,74h1.5v6h-1.5M156.5,146h1.5v5h-1.5M156.5,162h1.5v6h-1.5M158,80h1.5v11h-1.5M159.5,74h1.5v6h-1.5M159.5,91h1.5v5h-1.5M159.5,113h1.5v5h-1.5M159.5,140h1.5v6h-1.5M162.5,69h1.5v11h-1.5M162.5,91h1.5v5h-1.5M162.5,102h1.5v5h-1.5M164,85h1.5v6h-1.5M164,135h1.5v5h-1.5M165.5,63h1.5v11h-1.5M165.5,91h1.5v5h-1.5M165.5,135h1.5v11h-1.5M167,63h1.5v6h-1.5M167,140h1.5v11h-1.5M168.5,96h1.5v6h-1.5M168.5,113h1.5v5h-1.5M170,58h1.5v16h-1.5M170,113h1.5v5h-1.5M170,140h1.5v6h-1.5M170,184h1.5v6h-1.5M171.5,58h1.5v11h-1.5M171.5,102h1.5v11h-1.5M171.5,140h1.5v6h-1.5M173,140h1.5v6h-1.5M174.5,58h1.5v5h-1.5M174.5,113h1.5v5h-1.5M174.5,129h1.5v11h-1.5M176,63h1.5v6h-1.5M176,107h1.5v6h-1.5M177.5,52h1.5v6h-1.5M177.5,118h1.5v6h-1.5M177.5,129h1.5v11h-1.5M179,129h1.5v6h-1.5M180.5,107h1.5v6h-1.5M180.5,124h1.5v5h-1.5M183.5,113h1.5v11h-1.5M185,107h1.5v6h-1.5M185,118h1.5v6h-1.5M188,135h1.5v5h-1.5M188,146h1.5v5h-1.5M189.5,113h1.5v11h-1.5M189.5,129h1.5v6h-1.5M189.5,151h1.5v6h-1.5M189.5,162h1.5v6h-1.5M189.5,284h1.5v5h-1.5M191,102h1.5v5h-1.5M191,118h1.5v17h-1.5M191,140h1.5v6h-1.5M191,179h1.5v5h-1.5M191,300h1.5v6h-1.5M192.5,162h1.5v6h-1.5M192.5,228h1.5v6h-1.5M192.5,273h1.5v5h-1.5M192.5,295h1.5v11h-1.5M192.5,311h1.5v6h-1.5M194,96h1.5v6h-1.5M194,140h1.5v6h-1.5M194,234h1.5v6h-1.5M194,278h1.5v6h-1.5M194,289h1.5v6h-1.5M194,333h1.5v6h-1.5M195.5,52h1.5v6h-1.5M195.5,113h1.5v5h-1.5M195.5,124h1.5v11h-1.5M195.5,162h1.5v6h-1.5M195.5,228h1.5v6h-1.5M195.5,251h1.5v5h-1.5M195.5,306h1.5v5h-1.5M195.5,322h1.5v6h-1.5M195.5,333h1.5v11h-1.5M197,58h1.5v5h-1.5M197,107h1.5v6h-1.5M197,151h1.5v11h-1.5M197,168h1.5v5h-1.5M197,212h1.5v5h-1.5M197,223h1.5v5h-1.5M197,267h1.5v11h-1.5M197,289h1.5v6h-1.5M197,306h1.5v16h-1.5M198.5,58h1.5v5h-1.5M198.5,69h1.5v5h-1.5M198.5,96h1.5v6h-1.5M198.5,162h1.5v6h-1.5M198.5,184h1.5v6h-1.5M198.5,206h1.5v17h-1.5M198.5,228h1.5v6h-1.5M198.5,306h1.5v5h-1.5M198.5,333h1.5v6h-1.5M198.5,344h1.5v17h-1.5M200,102h1.5v5h-1.5M200,201h1.5v5h-1.5M200,339h1.5v11h-1.5M200,361h1.5v5h-1.5M201.5,63h1.5v6h-1.5M201.5,96h1.5v6h-1.5M201.5,140h1.5v22h-1.5M201.5,228h1.5v6h-1.5M201.5,245h1.5v11h-1.5M201.5,278h1.5v6h-1.5M201.5,300h1.5v6h-1.5M201.5,317h1.5v5h-1.5M201.5,328h1.5v11h-1.5M203,206h1.5v11h-1.5M203,251h1.5v5h-1.5M203,328h1.5v22h-1.5M203,361h1.5v11h-1.5M204.5,52h1.5v6h-1.5M204.5,168h1.5v5h-1.5M204.5,311h1.5v6h-1.5M204.5,333h1.5v6h-1.5M206,146h1.5v11h-1.5M206,162h1.5v6h-1.5M206,195h1.5v6h-1.5M206,240h1.5v5h-1.5M206,278h1.5v6h-1.5M206,295h1.5v5h-1.5M206,306h1.5v11h-1.5M207.5,52h1.5v6h-1.5M207.5,96h1.5v6h-1.5M207.5,195h1.5v6h-1.5M207.5,333h1.5v6h-1.5M207.5,355h1.5v11h-1.5M207.5,372h1.5v11h-1.5M209,102h1.5v5h-1.5M209,157h1.5v5h-1.5M209,168h1.5v11h-1.5M209,184h1.5v11h-1.5M209,201h1.5v5h-1.5M209,322h1.5v6h-1.5M209,333h1.5v6h-1.5M209,366h1.5v6h-1.5M209,388h1.5v6h-1.5M210.5,102h1.5v5h-1.5M210.5,157h1.5v5h-1.5M210.5,195h1.5v6h-1.5M210.5,311h1.5v6h-1.5M210.5,328h1.5v5h-1.5M210.5,344h1.5v6h-1.5M212,190h1.5v5h-1.5M212,333h1.5v17h-1.5M212,355h1.5v11h-1.5M212,372h1.5v11h-1.5M212,399h1.5v6h-1.5M213.5,69h1.5v5h-1.5M213.5,91h1.5v5h-1.5M213.5,184h1.5v6h-1.5M213.5,311h1.5v6h-1.5M213.5,322h1.5v6h-1.5M213.5,339h1.5v5h-1.5M213.5,355h1.5v6h-1.5M213.5,377h1.5v6h-1.5M213.5,388h1.5v6h-1.5M215,96h1.5v6h-1.5M215,190h1.5v5h-1.5M215,328h1.5v5h-1.5M215,344h1.5v6h-1.5M215,361h1.5v5h-1.5M215,377h1.5v6h-1.5M215,399h1.5v6h-1.5M216.5,69h1.5v5h-1.5M216.5,173h1.5v6h-1.5M216.5,190h1.5v5h-1.5M216.5,333h1.5v6h-1.5M216.5,344h1.5v6h-1.5M216.5,361h1.5v5h-1.5M216.5,372h1.5v5h-1.5M216.5,383h1.5v16h-1.5M218,63h1.5v11h-1.5M218,168h1.5v27h-1.5M218,311h1.5v6h-1.5M218,322h1.5v6h-1.5M218,350h1.5v5h-1.5M218,372h1.5v11h-1.5M219.5,69h1.5v5h-1.5M219.5,102h1.5v5h-1.5M219.5,184h1.5v6h-1.5M219.5,311h1.5v6h-1.5M219.5,333h1.5v6h-1.5M219.5,350h1.5v5h-1.5M221,85h1.5v6h-1.5M221,333h1.5v6h-1.5M221,344h1.5v6h-1.5M221,361h1.5v11h-1.5M221,377h1.5v6h-1.5M221,388h1.5v6h-1.5M222.5,69h1.5v5h-1.5M222.5,91h1.5v5h-1.5M222.5,102h1.5v5h-1.5M222.5,179h1.5v11h-1.5M222.5,256h1.5v11h-1.5M222.5,278h1.5v11h-1.5M222.5,300h1.5v6h-1.5M222.5,311h1.5v6h-1.5M222.5,339h1.5v5h-1.5M222.5,394h1.5v5h-1.5M224,85h1.5v6h-1.5M224,173h1.5v6h-1.5M224,251h1.5v5h-1.5M224,262h1.5v5h-1.5M224,295h1.5v5h-1.5M224,328h1.5v11h-1.5M224,394h1.5v5h-1.5M225.5,80h1.5v5h-1.5M225.5,173h1.5v6h-1.5M225.5,184h1.5v6h-1.5M225.5,256h1.5v6h-1.5M225.5,289h1.5v6h-1.5M225.5,328h1.5v5h-1.5M225.5,394h1.5v5h-1.5M227,96h1.5v6h-1.5M227,289h1.5v6h-1.5M227,311h1.5v6h-1.5M227,333h1.5v6h-1.5M228.5,63h1.5v6h-1.5M228.5,91h1.5v11h-1.5M228.5,245h1.5v6h-1.5M228.5,256h1.5v11h-1.5M228.5,273h1.5v5h-1.5M228.5,317h1.5v5h-1.5M228.5,333h1.5v6h-1.5M228.5,344h1.5v6h-1.5M228.5,355h1.5v11h-1.5M228.5,388h1.5v11h-1.5M230,69h1.5v5h-1.5M230,85h1.5v6h-1.5M230,245h1.5v6h-1.5M230,289h1.5v11h-1.5M230,339h1.5v5h-1.5M230,350h1.5v11h-1.5M230,372h1.5v5h-1.5M230,383h1.5v5h-1.5M230,399h1.5v6h-1.5M231.5,69h1.5v5h-1.5M231.5,85h1.5v6h-1.5M231.5,366h1.5v6h-1.5M233,91h1.5v5h-1.5M233,361h1.5v5h-1.5M234.5,69h1.5v5h-1.5M234.5,91h1.5v5h-1.5M236,69h1.5v5h-1.5M237.5,85h1.5v6h-1.5M239,69h1.5v11h-1.5M239,85h1.5v6h-1.5M242,69h1.5v5h-1.5M242,85h1.5v11h-1.5M242,399h1.5v6h-1.5M243.5,74h1.5v6h-1.5M243.5,85h1.5v6h-1.5M245,80h1.5v5h-1.5M246.5,85h1.5v6h-1.5M248,372h1.5v5h-1.5M249.5,85h1.5v6h-1.5M252.5,80h1.5v5h-1.5M254,74h1.5v17h-1.5M257,80h1.5v11h-1.5M258.5,74h1.5v6h-1.5M258.5,85h1.5v6h-1.5M260,74h1.5v6h-1.5M260,388h1.5v6h-1.5M261.5,74h1.5v6h-1.5M261.5,85h1.5v6h-1.5M263,74h1.5v6h-1.5M264.5,69h1.5v5h-1.5M267.5,91h1.5v5h-1.5M269,74h1.5v6h-1.5M269,85h1.5v6h-1.5M270.5,85h1.5v6h-1.5M272,74h1.5v6h-1.5M273.5,74h1.5v6h-1.5M275,74h1.5v6h-1.5M276.5,74h1.5v6h-1.5M276.5,91h1.5v5h-1.5M279.5,80h1.5v11h-1.5M281,85h1.5v6h-1.5M282.5,85h1.5v6h-1.5M284,85h1.5v11h-1.5M287,74h1.5v6h-1.5M287,85h1.5v6h-1.5M288.5,74h1.5v6h-1.5M293,69h1.5v5h-1.5M293,85h1.5v6h-1.5M296,80h1.5v5h-1.5M297.5,91h1.5v5h-1.5M299,74h1.5v6h-1.5M303.5,85h1.5v6h-1.5M303.5,96h1.5v6h-1.5M305,74h1.5v6h-1.5M306.5,74h1.5v6h-1.5M306.5,96h1.5v6h-1.5M308,74h1.5v6h-1.5M308,201h1.5v5h-1.5M308,251h1.5v5h-1.5M308,361h1.5v5h-1.5M309.5,85h1.5v6h-1.5M309.5,251h1.5v5h-1.5M312.5,240h1.5v5h-1.5M312.5,256h1.5v6h-1.5M312.5,339h1.5v5h-1.5M312.5,350h1.5v11h-1.5M312.5,377h1.5v6h-1.5M312.5,388h1.5v11h-1.5M314,74h1.5v6h-1.5M314,91h1.5v5h-1.5M314,300h1.5v6h-1.5M314,322h1.5v11h-1.5M314,344h1.5v6h-1.5M314,355h1.5v22h-1.5M314,383h1.5v22h-1.5M315.5,91h1.5v5h-1.5M315.5,195h1.5v6h-1.5M315.5,240h1.5v5h-1.5M315.5,251h1.5v16h-1.5M315.5,289h1.5v11h-1.5M315.5,306h1.5v5h-1.5M315.5,328h1.5v5h-1.5M315.5,339h1.5v22h-1.5M317,91h1.5v5h-1.5M317,184h1.5v6h-1.5M317,212h1.5v5h-1.5M317,267h1.5v6h-1.5M317,278h1.5v6h-1.5M317,300h1.5v17h-1.5M318.5,206h1.5v6h-1.5M318.5,223h1.5v11h-1.5M318.5,245h1.5v6h-1.5M318.5,262h1.5v5h-1.5M318.5,278h1.5v6h-1.5M318.5,289h1.5v6h-1.5M318.5,317h1.5v11h-1.5M318.5,333h1.5v17h-1.5M318.5,361h1.5v5h-1.5M318.5,383h1.5v11h-1.5M318.5,399h1.5v6h-1.5M320,74h1.5v6h-1.5M320,195h1.5v6h-1.5M320,289h1.5v11h-1.5M320,322h1.5v6h-1.5M321.5,91h1.5v5h-1.5M321.5,184h1.5v6h-1.5M321.5,228h1.5v17h-1.5M321.5,262h1.5v11h-1.5M321.5,278h1.5v11h-1.5M321.5,295h1.5v5h-1.5M321.5,317h1.5v5h-1.5M321.5,328h1.5v5h-1.5M321.5,339h1.5v11h-1.5M321.5,355h1.5v22h-1.5M321.5,388h1.5v11h-1.5M323,91h1.5v5h-1.5M323,190h1.5v5h-1.5M323,228h1.5v6h-1.5M323,278h1.5v6h-1.5M323,322h1.5v11h-1.5M323,366h1.5v11h-1.5M323,388h1.5v6h-1.5M324.5,91h1.5v5h-1.5M324.5,179h1.5v5h-1.5M324.5,195h1.5v6h-1.5M324.5,311h1.5v6h-1.5M324.5,322h1.5v6h-1.5M326,184h1.5v6h-1.5M327.5,179h1.5v5h-1.5M329,74h1.5v6h-1.5M329,206h1.5v6h-1.5M330.5,74h1.5v6h-1.5M330.5,91h1.5v5h-1.5M330.5,184h1.5v6h-1.5M330.5,201h1.5v11h-1.5M332,184h1.5v6h-1.5M332,195h1.5v17h-1.5M332,217h1.5v6h-1.5M333.5,74h1.5v6h-1.5M333.5,85h1.5v6h-1.5M333.5,184h1.5v11h-1.5M333.5,201h1.5v5h-1.5M335,74h1.5v6h-1.5M335,190h1.5v5h-1.5M335,201h1.5v5h-1.5M335,212h1.5v5h-1.5M336.5,74h1.5v6h-1.5M336.5,190h1.5v5h-1.5M336.5,201h1.5v5h-1.5M338,195h1.5v22h-1.5M339.5,74h1.5v6h-1.5M339.5,217h1.5v6h-1.5M341,74h1.5v6h-1.5M341,85h1.5v6h-1.5M342.5,217h1.5v6h-1.5M344,74h1.5v6h-1.5M344,85h1.5v6h-1.5M345.5,74h1.5v6h-1.5M347,80h1.5v5h-1.5M347,223h1.5v5h-1.5M348.5,80h1.5v5h-1.5M350,80h1.5v5h-1.5M350,228h1.5v6h-1.5M351.5,74h1.5v6h-1.5M351.5,85h1.5v6h-1.5M351.5,217h1.5v6h-1.5M351.5,228h1.5v6h-1.5M354.5,80h1.5v5h-1.5M354.5,206h1.5v6h-1.5M354.5,234h1.5v6h-1.5M356,80h1.5v5h-1.5M356,201h1.5v5h-1.5M356,212h1.5v5h-1.5M356,223h1.5v5h-1.5M357.5,240h1.5v5h-1.5M357.5,256h1.5v11h-1.5M357.5,284h1.5v22h-1.5M357.5,311h1.5v6h-1.5M357.5,344h1.5v6h-1.5M357.5,361h1.5v5h-1.5M359,245h1.5v6h-1.5M359,273h1.5v5h-1.5M359,300h1.5v11h-1.5M360.5,234h1.5v6h-1.5M360.5,300h1.5v11h-1.5M362,80h1.5v5h-1.5M362,228h1.5v6h-1.5M363.5,85h1.5v6h-1.5M363.5,223h1.5v5h-1.5M363.5,234h1.5v6h-1.5M363.5,289h1.5v6h-1.5M365,80h1.5v5h-1.5M365,256h1.5v11h-1.5M365,278h1.5v6h-1.5M365,295h1.5v5h-1.5M366.5,201h1.5v5h-1.5M366.5,234h1.5v6h-1.5M366.5,300h1.5v6h-1.5M368,278h1.5v6h-1.5M369.5,240h1.5v16h-1.5M369.5,262h1.5v5h-1.5M369.5,306h1.5v5h-1.5M371,212h1.5v5h-1.5M372.5,217h1.5v11h-1.5M374,300h1.5v11h-1.5M374,350h1.5v5h-1.5M375.5,228h1.5v6h-1.5M375.5,240h1.5v5h-1.5M375.5,306h1.5v5h-1.5M377,322h1.5v6h-1.5M377,339h1.5v5h-1.5M378.5,223h1.5v17h-1.5M378.5,251h1.5v5h-1.5M378.5,289h1.5v6h-1.5M378.5,300h1.5v17h-1.5M378.5,322h1.5v6h-1.5M378.5,350h1.5v5h-1.5M380,267h1.5v6h-1.5M380,333h1.5v6h-1.5M380,355h1.5v6h-1.5M380,372h1.5v11h-1.5M380,388h1.5v11h-1.5M381.5,289h1.5v6h-1.5M381.5,322h1.5v22h-1.5M381.5,350h1.5v5h-1.5M383,234h1.5v6h-1.5M384.5,234h1.5v6h-1.5M384.5,306h1.5v5h-1.5M384.5,317h1.5v5h-1.5M384.5,339h1.5v5h-1.5M384.5,355h1.5v6h-1.5M386,223h1.5v5h-1.5M386,289h1.5v6h-1.5M386,306h1.5v5h-1.5M386,322h1.5v11h-1.5M386,339h1.5v5h-1.5M387.5,212h1.5v16h-1.5M387.5,333h1.5v11h-1.5M387.5,350h1.5v5h-1.5M389,212h1.5v11h-1.5M389,328h1.5v5h-1.5M390.5,195h1.5v11h-1.5M390.5,212h1.5v5h-1.5M392,245h1.5v6h-1.5M392,328h1.5v5h-1.5M393.5,240h1.5v11h-1.5M393.5,273h1.5v5h-1.5M393.5,295h1.5v11h-1.5M393.5,311h1.5v6h-1.5M393.5,355h1.5v6h-1.5M395,289h1.5v11h-1.5M395,306h1.5v11h-1.5M395,322h1.5v6h-1.5M395,339h1.5v5h-1.5M396.5,206h1.5v6h-1.5M396.5,223h1.5v5h-1.5M398,206h1.5v11h-1.5M398,223h1.5v5h-1.5M399.5,234h1.5v11h-1.5M399.5,256h1.5v6h-1.5M399.5,317h1.5v22h-1.5M401,322h1.5v6h-1.5M402.5,234h1.5v6h-1.5M404,212h1.5v11h-1.5M404,228h1.5v6h-1.5M405.5,245h1.5v6h-1.5M407,228h1.5v6h-1.5M408.5,206h1.5v6h-1.5M408.5,228h1.5v6h-1.5M410,240h1.5v5h-1.5M411.5,217h1.5v23h-1.5M414.5,240h1.5v5h-1.5M416,328h1.5v5h-1.5M417.5,223h1.5v11h-1.5M419,234h1.5v6h-1.5M420.5,228h1.5v12h-1.5M423.5,223h1.5v5h-1.5M425,228h1.5v6h-1.5M426.5,228h1.5v6h-1.5M428,223h1.5v5h-1.5M428,284h1.5v5h-1.5M428,295h1.5v5h-1.5M429.5,217h1.5v11h-1.5M431,223h1.5v11h-1.5M431,306h1.5v5h-1.5M434,251h1.5v5h-1.5M434,267h1.5v11h-1.5M434,311h1.5v6h-1.5M435.5,306h1.5v5h-1.5M435.5,317h1.5v5h-1.5M437,240h1.5v5h-1.5M437,251h1.5v5h-1.5M437,284h1.5v5h-1.5M437,300h1.5v6h-1.5M438.5,251h1.5v5h-1.5M438.5,289h1.5v6h-1.5M438.5,300h1.5v11h-1.5M440,262h1.5v5h-1.5M440,311h1.5v6h-1.5M441.5,311h1.5v11h-1.5M443,245h1.5v6h-1.5M443,278h1.5v6h-1.5M443,300h1.5v6h-1.5M443,311h1.5v6h-1.5M444.5,245h1.5v6h-1.5M444.5,262h1.5v11h-1.5M444.5,289h1.5v6h-1.5M444.5,300h1.5v6h-1.5M446,245h1.5v11h-1.5M447.5,300h1.5v11h-1.5M449,311h1.5v6h-1.5M450.5,295h1.5v5h-1.5M450.5,311h1.5v6h-1.5M452,245h1.5v6h-1.5M452,284h1.5v5h-1.5M452,300h1.5v6h-1.5M453.5,256h1.5v6h-1.5M453.5,267h1.5v6h-1.5M453.5,278h1.5v6h-1.5M455,317h1.5v11h-1.5M455,399h1.5v6h-1.5M456.5,251h1.5v5h-1.5M456.5,262h1.5v5h-1.5M456.5,273h1.5v5h-1.5M456.5,306h1.5v5h-1.5M458,240h1.5v5h-1.5M458,262h1.5v5h-1.5M458,300h1.5v6h-1.5M459.5,267h1.5v6h-1.5M459.5,289h1.5v6h-1.5M462.5,234h1.5v11h-1.5M462.5,278h1.5v6h-1.5M462.5,295h1.5v5h-1.5M462.5,306h1.5v5h-1.5M464,223h1.5v5h-1.5M464,234h1.5v6h-1.5M464,251h1.5v11h-1.5M464,278h1.5v6h-1.5M464,300h1.5v6h-1.5M465.5,251h1.5v16h-1.5M467,262h1.5v5h-1.5M467,278h1.5v6h-1.5M467,300h1.5v11h-1.5M468.5,223h1.5v5h-1.5M468.5,245h1.5v6h-1.5M470,206h1.5v6h-1.5M471.5,262h1.5v5h-1.5M471.5,289h1.5v6h-1.5M473,206h1.5v6h-1.5M473,223h1.5v11h-1.5M473,300h1.5v11h-1.5M476,217h1.5v6h-1.5M477.5,212h1.5v5h-1.5M477.5,245h1.5v6h-1.5M479,240h1.5v5h-1.5M480.5,212h1.5v5h-1.5M482,190h1.5v5h-1.5M482,201h1.5v16h-1.5M482,240h1.5v5h-1.5M483.5,212h1.5v5h-1.5M483.5,228h1.5v6h-1.5M483.5,240h1.5v11h-1.5M485,206h1.5v6h-1.5M486.5,212h1.5v5h-1.5M488,217h1.5v6h-1.5M488,234h1.5v6h-1.5M488,245h1.5v6h-1.5M488,256h1.5v6h-1.5M488,295h1.5v5h-1.5M488,317h1.5v5h-1.5M488,339h1.5v5h-1.5M488,355h1.5v6h-1.5M489.5,212h1.5v11h-1.5M489.5,228h1.5v12h-1.5M491,217h1.5v11h-1.5M491,234h1.5v6h-1.5M492.5,212h1.5v5h-1.5M494,206h1.5v17h-1.5M495.5,228h1.5v6h-1.5M497,212h1.5v5h-1.5M497,228h1.5v6h-1.5M497,240h1.5v5h-1.5M498.5,212h1.5v5h-1.5M498.5,228h1.5v6h-1.5M500,217h1.5v6h-1.5M501.5,206h1.5v6h-1.5M501.5,217h1.5v6h-1.5M503,217h1.5v11h-1.5M504.5,217h1.5v6h-1.5M507.5,212h1.5v5h-1.5M507.5,223h1.5v5h-1.5M510.5,228h1.5v6h-1.5M510.5,245h1.5v6h-1.5M512,245h1.5v17h-1.5M512,273h1.5v5h-1.5M513.5,267h1.5v11h-1.5M515,262h1.5v22h-1.5M515,366h1.5v6h-1.5M516.5,80h1.5v5h-1.5M518,69h1.5v5h-1.5M518,80h1.5v5h-1.5M518,278h1.5v6h-1.5M519.5,69h1.5v5h-1.5M519.5,80h1.5v5h-1.5M519.5,267h1.5v11h-1.5M521,284h1.5v5h-1.5M522.5,80h1.5v5h-1.5M524,278h1.5v6h-1.5M524,361h1.5v5h-1.5M525.5,278h1.5v6h-1.5M527,267h1.5v6h-1.5M528.5,256h1.5v6h-1.5M528.5,273h1.5v5h-1.5M530,366h1.5v6h-1.5M531.5,256h1.5v6h-1.5M531.5,355h1.5v6h-1.5M533,366h1.5v6h-1.5M533,377h1.5v6h-1.5M534.5,278h1.5v6h-1.5M534.5,350h1.5v5h-1.5M534.5,361h1.5v5h-1.5M534.5,372h1.5v22h-1.5M536,273h1.5v5h-1.5M536,350h1.5v5h-1.5M536,361h1.5v5h-1.5M537.5,273h1.5v5h-1.5M539,273h1.5v5h-1.5M539,344h1.5v22h-1.5M539,372h1.5v5h-1.5M539,383h1.5v5h-1.5M540.5,273h1.5v5h-1.5M540.5,355h1.5v6h-1.5M540.5,366h1.5v22h-1.5M546.5,256h1.5v11h-1.5M549.5,273h1.5v5h-1.5M549.5,366h1.5v22h-1.5M551,273h1.5v5h-1.5M551,355h1.5v6h-1.5M551,366h1.5v6h-1.5M551,388h1.5v6h-1.5M552.5,361h1.5v11h-1.5M552.5,377h1.5v17h-1.5M554,251h1.5v5h-1.5M554,267h1.5v6h-1.5M555.5,366h1.5v6h-1.5M555.5,383h1.5v5h-1.5M557,366h1.5v6h-1.5M558.5,366h1.5v6h-1.5M558.5,377h1.5v11h-1.5M560,372h1.5v5h-1.5M560,383h1.5v11h-1.5M560,399h1.5v6h-1.5M561.5,273h1.5v5h-1.5M561.5,377h1.5v6h-1.5M563,273h1.5v5h-1.5M563,372h1.5v5h-1.5M563,383h1.5v11h-1.5M566,273h1.5v5h-1.5M566,372h1.5v5h-1.5M566,388h1.5v6h-1.5M567.5,273h1.5v5h-1.5M567.5,383h1.5v5h-1.5M569,383h1.5v5h-1.5M570.5,278h1.5v6h-1.5M570.5,366h1.5v17h-1.5M570.5,388h1.5v6h-1.5M572,262h1.5v5h-1.5M572,273h1.5v5h-1.5M573.5,372h1.5v11h-1.5M575,278h1.5v6h-1.5M575,372h1.5v5h-1.5M578,388h1.5v6h-1.5M581,256h1.5v6h-1.5M587,256h1.5v6h-1.5M588.5,251h1.5v11h-1.5M590,251h1.5v5h-1.5M594.5,256h1.5v17h-1.5M597.5,273h1.5v5h-1.5M597.5,399h1.5v6h-1.5M599,179h1.5v5h-1.5M599,240h1.5v5h-1.5M599,262h1.5v5h-1.5M602,251h1.5v5h-1.5M606.5,267h1.5v11h-1.5M606.5,399h1.5v6h-1.5M608,262h1.5v5h-1.5M617,267h1.5v6h-1.5M618.5,251h1.5v5h-1.5M621.5,388h1.5v6h-1.5M623,399h1.5v6h-1.5M624.5,394h1.5v11h-1.5M626,251h1.5v5h-1.5M626,262h1.5v5h-1.5M629,383h1.5v16h-1.5M630.5,394h1.5v11h-1.5M633.5,267h1.5v6h-1.5M635,173h1.5v6h-1.5M635,228h1.5v6h-1.5M635,251h1.5v5h-1.5M635,267h1.5v6h-1.5M636.5,273h1.5v5h-1.5M636.5,372h1.5v16h-1.5M636.5,394h1.5v5h-1.5M638,388h1.5v6h-1.5M639.5,383h1.5v11h-1.5M641,228h1.5v6h-1.5M641,372h1.5v5h-1.5M641,383h1.5v5h-1.5M642.5,251h1.5v11h-1.5M642.5,383h1.5v22h-1.5M644,267h1.5v6h-1.5M644,361h1.5v11h-1.5M644,383h1.5v5h-1.5M644,394h1.5v5h-1.5M645.5,256h1.5v11h-1.5M645.5,366h1.5v11h-1.5M645.5,383h1.5v16h-1.5M647,267h1.5v6h-1.5M647,366h1.5v6h-1.5M648.5,361h1.5v22h-1.5M648.5,394h1.5v5h-1.5M650,355h1.5v11h-1.5M650,372h1.5v16h-1.5M651.5,234h1v6h-1M651.5,245h1v11h-1M651.5,350h1v16h-1"/>
<path fill="#00f596" d="M143,173h1.5v6h-1.5M143,212h1.5v5h-1.5M143,223h1.5v5h-1.5M144.5,173h1.5v6h-1.5M144.5,201h1.5v5h-1.5M144.5,245h1.5v11h-1.5M144.5,273h1.5v5h-1.5M144.5,284h1.5v5h-1.5M144.5,300h1.5v6h-1.5M144.5,344h1.5v6h-1.5M146,184h1.5v6h-1.5M146,206h1.5v6h-1.5M146,240h1.5v5h-1.5M147.5,173h1.5v17h-1.5M147.5,201h1.5v5h-1.5M147.5,223h1.5v11h-1.5M147.5,306h1.5v5h-1.5M149,234h1.5v6h-1.5M149,245h1.5v6h-1.5M149,284h1.5v5h-1.5M150.5,179h1.5v5h-1.5M150.5,195h1.5v6h-1.5M150.5,212h1.5v5h-1.5M150.5,234h1.5v6h-1.5M150.5,344h1.5v6h-1.5M150.5,361h1.5v5h-1.5M150.5,372h1.5v5h-1.5M150.5,388h1.5v6h-1.5M150.5,399h1.5v6h-1.5M152,289h1.5v6h-1.5M152,333h1.5v6h-1.5M152,344h1.5v11h-1.5M152,361h1.5v11h-1.5M152,394h1.5v11h-1.5M153.5,85h1.5v6h-1.5M153.5,333h1.5v11h-1.5M153.5,361h1.5v11h-1.5M153.5,383h1.5v11h-1.5M155,74h1.5v17h-1.5M155,157h1.5v5h-1.5M155,361h1.5v11h-1.5M156.5,85h1.5v6h-1.5M156.5,151h1.5v11h-1.5M156.5,328h1.5v5h-1.5M158,74h1.5v6h-1.5M158,91h1.5v5h-1.5M158,151h1.5v6h-1.5M161,317h1.5v5h-1.5M162.5,146h1.5v5h-1.5M164,80h1.5v5h-1.5M164,102h1.5v5h-1.5M165.5,96h1.5v6h-1.5M168.5,74h1.5v6h-1.5M168.5,146h1.5v16h-1.5M170,96h1.5v6h-1.5M170,146h1.5v5h-1.5M170,212h1.5v5h-1.5M171.5,69h1.5v5h-1.5M171.5,118h1.5v11h-1.5M171.5,228h1.5v6h-1.5M173,52h1.5v11h-1.5M173,107h1.5v6h-1.5M173,124h1.5v11h-1.5M174.5,52h1.5v6h-1.5M174.5,63h1.5v6h-1.5M174.5,102h1.5v5h-1.5M174.5,124h1.5v5h-1.5M174.5,173h1.5v6h-1.5M176,52h1.5v6h-1.5M176,129h1.5v6h-1.5M176,140h1.5v6h-1.5M176,195h1.5v6h-1.5M177.5,63h1.5v6h-1.5M177.5,102h1.5v16h-1.5M177.5,190h1.5v5h-1.5M177.5,228h1.5v6h-1.5M177.5,240h1.5v5h-1.5M179,52h1.5v6h-1.5M179,107h1.5v6h-1.5M179,118h1.5v11h-1.5M179,140h1.5v11h-1.5M180.5,113h1.5v11h-1.5M180.5,129h1.5v11h-1.5M182,58h1.5v5h-1.5M182,102h1.5v16h-1.5M182,124h1.5v5h-1.5M182,151h1.5v6h-1.5M182,206h1.5v6h-1.5M183.5,146h1.5v5h-1.5M185,102h1.5v5h-1.5M185,124h1.5v16h-1.5M186.5,113h1.5v5h-1.5M186.5,124h1.5v5h-1.5M186.5,135h1.5v5h-1.5M188,102h1.5v5h-1.5M188,113h1.5v5h-1.5M188,124h1.5v5h-1.5M188,140h1.5v6h-1.5M188,157h1.5v5h-1.5M188,311h1.5v6h-1.5M189.5,102h1.5v11h-1.5M189.5,124h1.5v5h-1.5M189.5,157h1.5v5h-1.5M189.5,168h1.5v5h-1.5M189.5,234h1.5v6h-1.5M189.5,278h1.5v6h-1.5M189.5,295h1.5v5h-1.5M189.5,311h1.5v6h-1.5M189.5,322h1.5v6h-1.5M191,52h1.5v6h-1.5M191,69h1.5v5h-1.5M191,107h1.5v11h-1.5M191,146h1.5v5h-1.5M191,168h1.5v5h-1.5M191,190h1.5v5h-1.5M191,212h1.5v11h-1.5M191,245h1.5v6h-1.5M191,262h1.5v5h-1.5M191,278h1.5v17h-1.5M191,311h1.5v6h-1.5M191,322h1.5v6h-1.5M191,333h1.5v6h-1.5M192.5,102h1.5v5h-1.5M192.5,146h1.5v5h-1.5M192.5,168h1.5v11h-1.5M192.5,217h1.5v6h-1.5M192.5,262h1.5v5h-1.5M192.5,289h1.5v6h-1.5M192.5,306h1.5v5h-1.5M192.5,317h1.5v5h-1.5M192.5,328h1.5v5h-1.5M192.5,339h1.5v11h-1.5M194,52h1.5v6h-1.5M194,146h1.5v11h-1.5M194,162h1.5v6h-1.5M194,206h1.5v11h-1.5M194,240h1.5v5h-1.5M194,256h1.5v11h-1.5M194,273h1.5v5h-1.5M194,284h1.5v5h-1.5M194,322h1.5v6h-1.5M195.5,58h1.5v5h-1.5M195.5,151h1.5v6h-1.5M195.5,168h1.5v11h-1.5M195.5,212h1.5v11h-1.5M195.5,234h1.5v6h-1.5M195.5,256h1.5v6h-1.5M195.5,267h1.5v28h-1.5M195.5,300h1.5v6h-1.5M195.5,328h1.5v5h-1.5M197,52h1.5v6h-1.5M197,63h1.5v6h-1.5M197,102h1.5v5h-1.5M197,146h1.5v5h-1.5M197,162h1.5v6h-1.5M197,179h1.5v5h-1.5M197,217h1.5v6h-1.5M197,234h1.5v6h-1.5M197,251h1.5v5h-1.5M197,300h1.5v6h-1.5M197,355h1.5v11h-1.5M198.5,63h1.5v6h-1.5M198.5,157h1.5v5h-1.5M198.5,168h1.5v5h-1.5M198.5,179h1.5v5h-1.5M198.5,311h1.5v6h-1.5M198.5,383h1.5v5h-1.5M200,52h1.5v6h-1.5M200,63h1.5v6h-1.5M200,168h1.5v5h-1.5M200,184h1.5v6h-1.5M200,206h1.5v6h-1.5M200,333h1.5v6h-1.5M200,377h1.5v6h-1.5M201.5,162h1.5v6h-1.5M201.5,173h1.5v6h-1.5M201.5,206h1.5v11h-1.5M201.5,256h1.5v6h-1.5M201.5,322h1.5v6h-1.5M201.5,355h1.5v11h-1.5M203,69h1.5v5h-1.5M203,96h1.5v11h-1.5M203,157h1.5v16h-1.5M203,190h1.5v5h-1.5M203,201h1.5v5h-1.5M203,350h1.5v5h-1.5M204.5,96h1.5v6h-1.5M204.5,212h1.5v5h-1.5M204.5,361h1.5v11h-1.5M204.5,399h1.5v6h-1.5M206,63h1.5v11h-1.5M206,96h1.5v6h-1.5M206,157h1.5v5h-1.5M206,168h1.5v5h-1.5M206,201h1.5v5h-1.5M206,328h1.5v16h-1.5M206,355h1.5v22h-1.5M207.5,91h1.5v5h-1.5M207.5,311h1.5v6h-1.5M207.5,339h1.5v5h-1.5M207.5,383h1.5v16h-1.5M209,96h1.5v6h-1.5M209,179h1.5v5h-1.5M209,339h1.5v11h-1.5M209,355h1.5v11h-1.5M209,383h1.5v5h-1.5M209,394h1.5v11h-1.5M210.5,168h1.5v5h-1.5M210.5,201h1.5v5h-1.5M210.5,322h1.5v6h-1.5M210.5,339h1.5v5h-1.5M210.5,366h1.5v6h-1.5M210.5,388h1.5v6h-1.5M212,85h1.5v6h-1.5M212,179h1.5v5h-1.5M212,350h1.5v5h-1.5M212,394h1.5v5h-1.5M213.5,173h1.5v11h-1.5M213.5,344h1.5v6h-1.5M213.5,361h1.5v11h-1.5M213.5,383h1.5v5h-1.5M213.5,399h1.5v6h-1.5M215,69h1.5v11h-1.5M215,173h1.5v17h-1.5M215,333h1.5v6h-1.5M215,372h1.5v5h-1.5M215,383h1.5v16h-1.5M216.5,74h1.5v6h-1.5M216.5,85h1.5v11h-1.5M216.5,355h1.5v6h-1.5M218,91h1.5v5h-1.5M218,355h1.5v17h-1.5M218,383h1.5v5h-1.5M219.5,91h1.5v5h-1.5M219.5,328h1.5v5h-1.5M219.5,355h1.5v28h-1.5M221,74h1.5v6h-1.5M221,91h1.5v5h-1.5M221,350h1.5v5h-1.5M222.5,85h1.5v6h-1.5M222.5,267h1.5v6h-1.5M222.5,344h1.5v6h-1.5M222.5,366h1.5v28h-1.5M224,69h1.5v5h-1.5M224,91h1.5v5h-1.5M224,245h1.5v6h-1.5M224,273h1.5v11h-1.5M224,289h1.5v6h-1.5M224,300h1.5v6h-1.5M224,350h1.5v5h-1.5M224,361h1.5v5h-1.5M224,372h1.5v11h-1.5M225.5,85h1.5v17h-1.5M225.5,179h1.5v5h-1.5M225.5,262h1.5v16h-1.5M225.5,295h1.5v5h-1.5M225.5,311h1.5v11h-1.5M225.5,333h1.5v6h-1.5M225.5,383h1.5v5h-1.5M225.5,399h1.5v6h-1.5M227,91h1.5v5h-1.5M227,245h1.5v6h-1.5M227,256h1.5v6h-1.5M227,284h1.5v5h-1.5M227,317h1.5v5h-1.5M227,361h1.5v5h-1.5M227,399h1.5v6h-1.5M228.5,251h1.5v5h-1.5M228.5,267h1.5v6h-1.5M228.5,300h1.5v6h-1.5M228.5,350h1.5v5h-1.5M228.5,366h1.5v11h-1.5M230,91h1.5v5h-1.5M230,256h1.5v17h-1.5M230,361h1.5v11h-1.5M230,377h1.5v6h-1.5M230,388h1.5v6h-1.5M231.5,74h1.5v6h-1.5M231.5,383h1.5v5h-1.5M233,69h1.5v5h-1.5M233,85h1.5v6h-1.5M234.5,85h1.5v6h-1.5M236,74h1.5v6h-1.5M236,85h1.5v6h-1.5M237.5,80h1.5v5h-1.5M239,91h1.5v5h-1.5M240.5,74h1.5v6h-1.5M240.5,91h1.5v5h-1.5M245,85h1.5v6h-1.5M248,85h1.5v6h-1.5M249.5,74h1.5v11h-1.5M251,85h1.5v6h-1.5M264.5,74h1.5v6h-1.5M264.5,85h1.5v6h-1.5M266,74h1.5v6h-1.5M266,85h1.5v11h-1.5M267.5,85h1.5v6h-1.5M270.5,80h1.5v5h-1.5M272,80h1.5v5h-1.5M276.5,85h1.5v6h-1.5M278,80h1.5v11h-1.5M281,74h1.5v11h-1.5M282.5,74h1.5v6h-1.5M285.5,80h1.5v16h-1.5M288.5,80h1.5v16h-1.5M290,74h1.5v6h-1.5M290,91h1.5v5h-1.5M291.5,74h1.5v22h-1.5M293,91h1.5v5h-1.5M296,85h1.5v6h-1.5M297.5,74h1.5v6h-1.5M299,85h1.5v6h-1.5M302,74h1.5v6h-1.5M302,85h1.5v6h-1.5M305,85h1.5v11h-1.5M309.5,74h1.5v6h-1.5M311,80h1.5v11h-1.5M314,251h1.5v5h-1.5M314,333h1.5v11h-1.5M314,350h1.5v5h-1.5M314,377h1.5v6h-1.5M315.5,74h1.5v6h-1.5M315.5,85h1.5v6h-1.5M315.5,273h1.5v5h-1.5M315.5,300h1.5v6h-1.5M315.5,333h1.5v6h-1.5M315.5,372h1.5v11h-1.5M315.5,394h1.5v11h-1.5M317,190h1.5v11h-1.5M317,206h1.5v6h-1.5M317,217h1.5v6h-1.5M317,234h1.5v6h-1.5M317,284h1.5v16h-1.5M317,317h1.5v5h-1.5M317,372h1.5v5h-1.5M317,388h1.5v6h-1.5M318.5,85h1.5v6h-1.5M318.5,240h1.5v5h-1.5M318.5,251h1.5v11h-1.5M318.5,311h1.5v6h-1.5M318.5,366h1.5v6h-1.5M318.5,377h1.5v6h-1.5M318.5,394h1.5v5h-1.5M320,85h1.5v6h-1.5M320,184h1.5v11h-1.5M320,206h1.5v11h-1.5M320,223h1.5v5h-1.5M320,240h1.5v5h-1.5M320,300h1.5v6h-1.5M320,311h1.5v11h-1.5M320,328h1.5v5h-1.5M320,361h1.5v5h-1.5M320,372h1.5v5h-1.5M320,388h1.5v6h-1.5M321.5,85h1.5v6h-1.5M321.5,206h1.5v6h-1.5M321.5,245h1.5v11h-1.5M321.5,350h1.5v5h-1.5M321.5,383h1.5v5h-1.5M321.5,399h1.5v6h-1.5M323,74h1.5v6h-1.5M323,85h1.5v6h-1.5M323,256h1.5v22h-1.5M323,333h1.5v6h-1.5M323,344h1.5v11h-1.5M323,399h1.5v6h-1.5M324.5,85h1.5v6h-1.5M324.5,201h1.5v5h-1.5M324.5,212h1.5v5h-1.5M324.5,278h1.5v6h-1.5M324.5,289h1.5v6h-1.5M324.5,300h1.5v11h-1.5M324.5,355h1.5v17h-1.5M324.5,377h1.5v6h-1.5M324.5,388h1.5v6h-1.5M326,74h1.5v6h-1.5M326,179h1.5v5h-1.5M326,206h1.5v11h-1.5M326,295h1.5v11h-1.5M326,311h1.5v11h-1.5M326,366h1.5v6h-1.5M326,377h1.5v6h-1.5M327.5,85h1.5v6h-1.5M327.5,300h1.5v11h-1.5M327.5,322h1.5v6h-1.5M327.5,361h1.5v5h-1.5M327.5,377h1.5v6h-1.5M329,80h1.5v11h-1.5M329,306h1.5v11h-1.5M329,361h1.5v5h-1.5M329,388h1.5v6h-1.5M330.5,85h1.5v6h-1.5M330.5,190h1.5v5h-1.5M330.5,212h1.5v5h-1.5M330.5,366h1.5v6h-1.5M332,85h1.5v11h-1.5M332,190h1.5v5h-1.5M333.5,217h1.5v11h-1.5M335,80h1.5v11h-1.5M335,217h1.5v11h-1.5M336.5,80h1.5v5h-1.5M336.5,228h1.5v6h-1.5M338,80h1.5v11h-1.5M339.5,80h1.5v5h-1.5M339.5,195h1.5v6h-1.5M339.5,223h1.5v5h-1.5M339.5,234h1.5v6h-1.5M341,206h1.5v17h-1.5M344,195h1.5v6h-1.5M348.5,228h1.5v6h-1.5M348.5,240h1.5v5h-1.5M351.5,80h1.5v5h-1.5M351.5,223h1.5v5h-1.5M353,80h1.5v5h-1.5M353,228h1.5v12h-1.5M353,278h1.5v6h-1.5M354.5,267h1.5v11h-1.5M356,85h1.5v6h-1.5M357.5,234h1.5v6h-1.5M357.5,333h1.5v6h-1.5M357.5,350h1.5v5h-1.5M359,311h1.5v6h-1.5M359,322h1.5v6h-1.5M359,350h1.5v5h-1.5M360.5,240h1.5v5h-1.5M360.5,251h1.5v5h-1.5M360.5,273h1.5v11h-1.5M360.5,289h1.5v6h-1.5M362,240h1.5v5h-1.5M362,278h1.5v6h-1.5M362,339h1.5v5h-1.5M363.5,80h1.5v5h-1.5M365,245h1.5v6h-1.5M365,289h1.5v6h-1.5M365,300h1.5v11h-1.5M365,333h1.5v11h-1.5M365,355h1.5v6h-1.5M366.5,240h1.5v5h-1.5M366.5,273h1.5v5h-1.5M366.5,339h1.5v5h-1.5M366.5,361h1.5v5h-1.5M368,234h1.5v11h-1.5M368,256h1.5v6h-1.5M368,267h1.5v11h-1.5M368,289h1.5v6h-1.5M368,300h1.5v11h-1.5M369.5,256h1.5v6h-1.5M369.5,267h1.5v11h-1.5M369.5,284h1.5v11h-1.5M369.5,311h1.5v6h-1.5M369.5,361h1.5v5h-1.5M371,206h1.5v6h-1.5M371,223h1.5v5h-1.5M371,234h1.5v6h-1.5M374,240h1.5v11h-1.5M374,262h1.5v5h-1.5M374,278h1.5v6h-1.5M374,295h1.5v5h-1.5M374,317h1.5v5h-1.5M374,333h1.5v6h-1.5M375.5,245h1.5v22h-1.5M375.5,289h1.5v6h-1.5M375.5,300h1.5v6h-1.5M375.5,322h1.5v6h-1.5M377,251h1.5v16h-1.5M377,284h1.5v11h-1.5M377,300h1.5v11h-1.5M377,317h1.5v5h-1.5M377,333h1.5v6h-1.5M377,366h1.5v6h-1.5M378.5,245h1.5v6h-1.5M378.5,317h1.5v5h-1.5M378.5,333h1.5v17h-1.5M378.5,383h1.5v5h-1.5M381.5,267h1.5v11h-1.5M381.5,300h1.5v6h-1.5M381.5,355h1.5v6h-1.5M381.5,388h1.5v6h-1.5M383,217h1.5v17h-1.5M383,289h1.5v6h-1.5M383,328h1.5v22h-1.5M384.5,240h1.5v5h-1.5M384.5,251h1.5v16h-1.5M384.5,300h1.5v6h-1.5M384.5,311h1.5v6h-1.5M384.5,322h1.5v11h-1.5M384.5,344h1.5v6h-1.5M386,262h1.5v5h-1.5M386,300h1.5v6h-1.5M386,311h1.5v6h-1.5M386,361h1.5v5h-1.5M387.5,311h1.5v6h-1.5M387.5,344h1.5v6h-1.5M389,223h1.5v5h-1.5M389,306h1.5v5h-1.5M389,322h1.5v6h-1.5M389,333h1.5v6h-1.5M390.5,295h1.5v5h-1.5M392,240h1.5v5h-1.5M392,262h1.5v5h-1.5M392,273h1.5v5h-1.5M392,311h1.5v6h-1.5M392,333h1.5v6h-1.5M393.5,228h1.5v12h-1.5M393.5,267h1.5v6h-1.5M393.5,284h1.5v5h-1.5M393.5,306h1.5v5h-1.5M393.5,317h1.5v11h-1.5M393.5,333h1.5v11h-1.5M395,240h1.5v5h-1.5M395,300h1.5v6h-1.5M395,317h1.5v5h-1.5M395,333h1.5v6h-1.5M395,344h1.5v11h-1.5M396.5,317h1.5v5h-1.5M396.5,350h1.5v5h-1.5M398,234h1.5v6h-1.5M398,317h1.5v5h-1.5M398,344h1.5v6h-1.5M399.5,245h1.5v6h-1.5M399.5,262h1.5v11h-1.5M399.5,284h1.5v5h-1.5M399.5,300h1.5v6h-1.5M399.5,350h1.5v5h-1.5M399.5,361h1.5v5h-1.5M401,217h1.5v6h-1.5M401,228h1.5v6h-1.5M401,251h1.5v11h-1.5M402.5,240h1.5v5h-1.5M402.5,295h1.5v5h-1.5M402.5,306h1.5v5h-1.5M402.5,350h1.5v5h-1.5M405.5,234h1.5v6h-1.5M405.5,256h1.5v6h-1.5M405.5,273h1.5v5h-1.5M405.5,289h1.5v6h-1.5M405.5,306h1.5v5h-1.5M405.5,322h1.5v6h-1.5M408.5,223h1.5v5h-1.5M411.5,306h1.5v5h-1.5M413,217h1.5v6h-1.5M413,234h1.5v17h-1.5M414.5,245h1.5v6h-1.5M416,240h1.5v11h-1.5M416,300h1.5v6h-1.5M417.5,328h1.5v5h-1.5M419,223h1.5v5h-1.5M419,240h1.5v5h-1.5M420.5,251h1.5v5h-1.5M420.5,306h1.5v5h-1.5M422,228h1.5v6h-1.5M423.5,234h1.5v6h-1.5M423.5,245h1.5v6h-1.5M423.5,267h1.5v6h-1.5M423.5,289h1.5v6h-1.5M423.5,322h1.5v6h-1.5M425,240h1.5v11h-1.5M425,306h1.5v5h-1.5M426.5,240h1.5v11h-1.5M428,306h1.5v5h-1.5M429.5,295h1.5v11h-1.5M431,289h1.5v17h-1.5M432.5,240h1.5v5h-1.5M432.5,284h1.5v5h-1.5M432.5,295h1.5v5h-1.5M435.5,328h1.5v5h-1.5M437,256h1.5v6h-1.5M437,267h1.5v11h-1.5M437,306h1.5v5h-1.5M438.5,262h1.5v11h-1.5M438.5,317h1.5v5h-1.5M440,300h1.5v11h-1.5M440,317h1.5v16h-1.5M443,262h1.5v5h-1.5M443,273h1.5v5h-1.5M443,284h1.5v11h-1.5M443,306h1.5v5h-1.5M444.5,251h1.5v5h-1.5M444.5,278h1.5v11h-1.5M444.5,295h1.5v5h-1.5M446,240h1.5v5h-1.5M446,267h1.5v6h-1.5M446,289h1.5v6h-1.5M446,300h1.5v6h-1.5M447.5,311h1.5v6h-1.5M450.5,317h1.5v11h-1.5M450.5,372h1.5v5h-1.5M452,251h1.5v5h-1.5M452,295h1.5v5h-1.5M452,306h1.5v22h-1.5M452,399h1.5v6h-1.5M453.5,251h1.5v5h-1.5M453.5,262h1.5v5h-1.5M453.5,295h1.5v5h-1.5M453.5,306h1.5v5h-1.5M458,273h1.5v5h-1.5M458,284h1.5v5h-1.5M458,306h1.5v5h-1.5M459.5,278h1.5v6h-1.5M459.5,295h1.5v5h-1.5M459.5,306h1.5v5h-1.5M461,311h1.5v22h-1.5M462.5,245h1.5v6h-1.5M462.5,256h1.5v11h-1.5M462.5,300h1.5v6h-1.5M464,267h1.5v11h-1.5M464,284h1.5v5h-1.5M464,306h1.5v5h-1.5M465.5,267h1.5v6h-1.5M465.5,278h1.5v6h-1.5M465.5,289h1.5v6h-1.5M465.5,306h1.5v5h-1.5M465.5,317h1.5v5h-1.5M467,245h1.5v6h-1.5M467,284h1.5v5h-1.5M467,295h1.5v5h-1.5M468.5,234h1.5v6h-1.5M468.5,251h1.5v11h-1.5M470,212h1.5v16h-1.5M470,240h1.5v5h-1.5M471.5,240h1.5v5h-1.5M471.5,251h1.5v5h-1.5M471.5,278h1.5v6h-1.5M471.5,295h1.5v16h-1.5M474.5,212h1.5v11h-1.5M474.5,234h1.5v6h-1.5M477.5,217h1.5v6h-1.5M479,223h1.5v5h-1.5M479,245h1.5v6h-1.5M479,262h1.5v11h-1.5M479,289h1.5v6h-1.5M480.5,217h1.5v6h-1.5M480.5,228h1.5v6h-1.5M482,217h1.5v6h-1.5M482,289h1.5v6h-1.5M483.5,217h1.5v6h-1.5M483.5,234h1.5v6h-1.5M483.5,251h1.5v5h-1.5M485,201h1.5v5h-1.5M485,212h1.5v11h-1.5M486.5,217h1.5v11h-1.5M486.5,306h1.5v5h-1.5M488,240h1.5v5h-1.5M488,251h1.5v5h-1.5M488,267h1.5v6h-1.5M488,278h1.5v6h-1.5M488,289h1.5v6h-1.5M488,300h1.5v17h-1.5M488,361h1.5v5h-1.5M489.5,245h1.5v6h-1.5M489.5,256h1.5v6h-1.5M491,256h1.5v6h-1.5M491,300h1.5v11h-1.5M491,339h1.5v5h-1.5M492.5,228h1.5v6h-1.5M492.5,306h1.5v5h-1.5M494,228h1.5v6h-1.5M495.5,223h1.5v5h-1.5M495.5,234h1.5v11h-1.5M495.5,306h1.5v5h-1.5M497,217h1.5v11h-1.5M498.5,217h1.5v11h-1.5M500,240h1.5v5h-1.5M501.5,223h1.5v22h-1.5M503,234h1.5v6h-1.5M504.5,223h1.5v5h-1.5M504.5,234h1.5v6h-1.5M506,223h1.5v5h-1.5M509,234h1.5v6h-1.5M509,256h1.5v6h-1.5M509,284h1.5v5h-1.5M510.5,234h1.5v11h-1.5M510.5,256h1.5v6h-1.5M512,278h1.5v6h-1.5M512,306h1.5v5h-1.5M513.5,361h1.5v5h-1.5M515,306h1.5v5h-1.5M515,344h1.5v6h-1.5M515,355h1.5v11h-1.5M515,372h1.5v5h-1.5M515,383h1.5v5h-1.5M516.5,256h1.5v11h-1.5M516.5,273h1.5v5h-1.5M518,267h1.5v6h-1.5M518,284h1.5v5h-1.5M518,361h1.5v5h-1.5M519.5,63h1.5v6h-1.5M519.5,74h1.5v6h-1.5M519.5,361h1.5v16h-1.5M521,74h1.5v6h-1.5M521,273h1.5v11h-1.5M522.5,273h1.5v5h-1.5M522.5,361h1.5v11h-1.5M524,273h1.5v5h-1.5M524,355h1.5v6h-1.5M524,366h1.5v6h-1.5M525.5,355h1.5v11h-1.5M525.5,388h1.5v6h-1.5M527,256h1.5v6h-1.5M527,273h1.5v5h-1.5M527,361h1.5v5h-1.5M528.5,278h1.5v6h-1.5M528.5,355h1.5v17h-1.5M528.5,377h1.5v6h-1.5M530,273h1.5v5h-1.5M530,355h1.5v11h-1.5M530,388h1.5v6h-1.5M531.5,366h1.5v22h-1.5M533,350h1.5v5h-1.5M533,361h1.5v5h-1.5M533,372h1.5v5h-1.5M533,383h1.5v5h-1.5M534.5,355h1.5v6h-1.5M534.5,366h1.5v6h-1.5M536,355h1.5v6h-1.5M536,366h1.5v6h-1.5M536,388h1.5v6h-1.5M537.5,361h1.5v5h-1.5M537.5,372h1.5v16h-1.5M539,278h1.5v6h-1.5M539,366h1.5v6h-1.5M539,377h1.5v6h-1.5M539,388h1.5v6h-1.5M540.5,350h1.5v5h-1.5M540.5,361h1.5v5h-1.5M540.5,388h1.5v6h-1.5M542,273h1.5v5h-1.5M542,350h1.5v5h-1.5M542,361h1.5v5h-1.5M542,383h1.5v5h-1.5M543.5,267h1.5v6h-1.5M543.5,355h1.5v17h-1.5M543.5,383h1.5v5h-1.5M545,350h1.5v5h-1.5M545,361h1.5v5h-1.5M545,383h1.5v5h-1.5M546.5,350h1.5v5h-1.5M546.5,377h1.5v17h-1.5M548,355h1.5v17h-1.5M548,383h1.5v5h-1.5M549.5,344h1.5v6h-1.5M549.5,355h1.5v6h-1.5M551,350h1.5v5h-1.5M551,394h1.5v5h-1.5M552.5,372h1.5v5h-1.5M554,366h1.5v11h-1.5M554,388h1.5v6h-1.5M555.5,361h1.5v5h-1.5M555.5,377h1.5v6h-1.5M555.5,388h1.5v6h-1.5M557,273h1.5v5h-1.5M557,284h1.5v5h-1.5M557,355h1.5v11h-1.5M557,372h1.5v11h-1.5M557,388h1.5v6h-1.5M557,399h1.5v6h-1.5M558.5,278h1.5v11h-1.5M558.5,339h1.5v5h-1.5M558.5,361h1.5v5h-1.5M558.5,388h1.5v6h-1.5M560,278h1.5v6h-1.5M560,350h1.5v5h-1.5M560,361h1.5v11h-1.5M561.5,278h1.5v6h-1.5M561.5,361h1.5v16h-1.5M561.5,388h1.5v6h-1.5M563,355h1.5v17h-1.5M563,377h1.5v6h-1.5M563,394h1.5v11h-1.5M564.5,273h1.5v5h-1.5M564.5,361h1.5v33h-1.5M566,278h1.5v6h-1.5M566,361h1.5v11h-1.5M566,394h1.5v11h-1.5M567.5,284h1.5v5h-1.5M567.5,361h1.5v22h-1.5M567.5,388h1.5v6h-1.5M569,361h1.5v22h-1.5M569,388h1.5v6h-1.5M570.5,355h1.5v11h-1.5M570.5,383h1.5v5h-1.5M570.5,394h1.5v11h-1.5M572,355h1.5v6h-1.5M572,372h1.5v5h-1.5M572,383h1.5v5h-1.5M573.5,366h1.5v6h-1.5M573.5,383h1.5v5h-1.5M575,350h1.5v22h-1.5M575,394h1.5v11h-1.5M576.5,350h1.5v5h-1.5M576.5,361h1.5v33h-1.5M578,273h1.5v11h-1.5M578,366h1.5v22h-1.5M579.5,383h1.5v5h-1.5M581,273h1.5v5h-1.5M582.5,273h1.5v5h-1.5M584,372h1.5v11h-1.5M585.5,273h1.5v5h-1.5M587,251h1.5v5h-1.5M590,372h1.5v5h-1.5M591.5,278h1.5v6h-1.5M591.5,372h1.5v5h-1.5M591.5,383h1.5v5h-1.5M591.5,399h1.5v6h-1.5M596,273h1.5v5h-1.5M597.5,278h1.5v6h-1.5M600.5,372h1.5v5h-1.5M600.5,399h1.5v6h-1.5M602,273h1.5v5h-1.5M603.5,256h1.5v11h-1.5M605,273h1.5v5h-1.5M609.5,267h1.5v6h-1.5M612.5,251h1.5v5h-1.5M614,388h1.5v11h-1.5M615.5,388h1.5v11h-1.5M617,399h1.5v6h-1.5M620,267h1.5v6h-1.5M620,388h1.5v17h-1.5M623,377h1.5v6h-1.5M623,388h1.5v11h-1.5M624.5,388h1.5v6h-1.5M626,388h1.5v11h-1.5M627.5,388h1.5v11h-1.5M629,372h1.5v11h-1.5M629,399h1.5v6h-1.5M630.5,372h1.5v22h-1.5M632,245h1.5v17h-1.5M632,267h1.5v6h-1.5M633.5,251h1.5v5h-1.5M635,394h1.5v5h-1.5M636.5,355h1.5v17h-1.5M638,372h1.5v16h-1.5M639.5,361h1.5v22h-1.5M639.5,394h1.5v5h-1.5M641,251h1.5v5h-1.5M641,267h1.5v6h-1.5M641,388h1.5v17h-1.5M642.5,267h1.5v6h-1.5M642.5,361h1.5v5h-1.5M642.5,372h1.5v5h-1.5M644,355h1.5v6h-1.5M645.5,251h1.5v5h-1.5M645.5,267h1.5v6h-1.5M645.5,350h1.5v5h-1.5M645.5,399h1.5v6h-1.5M647,245h1.5v6h-1.5M647,344h1.5v11h-1.5M648.5,234h1.5v6h-1.5M648.5,245h1.5v6h-1.5M648.5,267h1.5v6h-1.5M648.5,350h1.5v11h-1.5M650,234h1.5v6h-1.5M650,245h1.5v6h-1.5M650,256h1.5v6h-1.5M650,267h1.5v6h-1.5M650,399h1.5v6h-1.5M651.5,262h1v11h-1"/>
<path fill="#05f055" d="M143,217h1.5v6h-1.5M143,228h1.5v12h-1.5M144.5,179h1.5v5h-1.5M144.5,190h1.5v11h-1.5M144.5,206h1.5v39h-1.5M146,80h1.5v5h-1.5M146,173h1.5v11h-1.5M146,195h1.5v11h-1.5M146,217h1.5v6h-1.5M146,234h1.5v6h-1.5M147.5,195h1.5v6h-1.5M147.5,212h1.5v11h-1.5M149,195h1.5v6h-1.5M149,212h1.5v5h-1.5M150.5,173h1.5v6h-1.5M150.5,184h1.5v6h-1.5M150.5,201h1.5v11h-1.5M150.5,217h1.5v6h-1.5M150.5,240h1.5v5h-1.5M152,96h1.5v6h-1.5M152,168h1.5v5h-1.5M152,217h1.5v6h-1.5M152,273h1.5v11h-1.5M152,322h1.5v6h-1.5M152,339h1.5v5h-1.5M152,355h1.5v6h-1.5M152,372h1.5v16h-1.5M153.5,168h1.5v5h-1.5M153.5,300h1.5v11h-1.5M153.5,317h1.5v5h-1.5M153.5,344h1.5v11h-1.5M153.5,377h1.5v6h-1.5M153.5,394h1.5v11h-1.5M155,311h1.5v17h-1.5M155,339h1.5v11h-1.5M155,372h1.5v5h-1.5M155,399h1.5v6h-1.5M156.5,168h1.5v5h-1.5M158,146h1.5v5h-1.5M158,157h1.5v5h-1.5M159.5,85h1.5v6h-1.5M161,162h1.5v11h-1.5M161,361h1.5v5h-1.5M162.5,80h1.5v11h-1.5M164,74h1.5v6h-1.5M164,91h1.5v5h-1.5M164,140h1.5v6h-1.5M165.5,74h1.5v6h-1.5M165.5,146h1.5v5h-1.5M167,74h1.5v6h-1.5M167,85h1.5v17h-1.5M167,157h1.5v11h-1.5M168.5,80h1.5v5h-1.5M168.5,91h1.5v5h-1.5M168.5,168h1.5v5h-1.5M168.5,179h1.5v16h-1.5M170,74h1.5v6h-1.5M170,151h1.5v6h-1.5M170,162h1.5v11h-1.5M170,223h1.5v5h-1.5M171.5,157h1.5v5h-1.5M171.5,184h1.5v11h-1.5M171.5,240h1.5v5h-1.5M173,69h1.5v5h-1.5M173,146h1.5v5h-1.5M174.5,69h1.5v5h-1.5M174.5,96h1.5v6h-1.5M174.5,107h1.5v6h-1.5M174.5,118h1.5v6h-1.5M174.5,140h1.5v6h-1.5M174.5,162h1.5v6h-1.5M174.5,190h1.5v11h-1.5M174.5,234h1.5v6h-1.5M174.5,256h1.5v6h-1.5M176,102h1.5v5h-1.5M176,113h1.5v16h-1.5M176,146h1.5v5h-1.5M176,168h1.5v5h-1.5M176,201h1.5v5h-1.5M177.5,58h1.5v5h-1.5M177.5,69h1.5v5h-1.5M177.5,140h1.5v17h-1.5M177.5,168h1.5v5h-1.5M177.5,206h1.5v6h-1.5M177.5,245h1.5v6h-1.5M179,63h1.5v6h-1.5M179,102h1.5v5h-1.5M179,168h1.5v11h-1.5M179,201h1.5v5h-1.5M179,212h1.5v5h-1.5M179,234h1.5v6h-1.5M180.5,52h1.5v6h-1.5M180.5,102h1.5v5h-1.5M180.5,140h1.5v11h-1.5M180.5,206h1.5v11h-1.5M180.5,228h1.5v6h-1.5M182,52h1.5v6h-1.5M182,69h1.5v5h-1.5M182,96h1.5v6h-1.5M182,118h1.5v6h-1.5M182,129h1.5v6h-1.5M182,140h1.5v11h-1.5M182,157h1.5v5h-1.5M182,168h1.5v5h-1.5M182,190h1.5v16h-1.5M182,234h1.5v11h-1.5M182,284h1.5v5h-1.5M183.5,107h1.5v6h-1.5M183.5,124h1.5v16h-1.5M183.5,151h1.5v6h-1.5M185,113h1.5v5h-1.5M185,223h1.5v11h-1.5M186.5,107h1.5v6h-1.5M186.5,118h1.5v6h-1.5M186.5,129h1.5v6h-1.5M186.5,140h1.5v11h-1.5M188,52h1.5v6h-1.5M188,118h1.5v6h-1.5M188,195h1.5v6h-1.5M188,206h1.5v6h-1.5M188,217h1.5v6h-1.5M188,284h1.5v11h-1.5M188,322h1.5v11h-1.5M189.5,52h1.5v6h-1.5M189.5,63h1.5v6h-1.5M189.5,173h1.5v11h-1.5M189.5,195h1.5v17h-1.5M189.5,217h1.5v17h-1.5M189.5,262h1.5v5h-1.5M189.5,273h1.5v5h-1.5M189.5,289h1.5v6h-1.5M189.5,300h1.5v11h-1.5M189.5,317h1.5v5h-1.5M189.5,333h1.5v11h-1.5M191,63h1.5v6h-1.5M191,157h1.5v11h-1.5M191,184h1.5v6h-1.5M191,195h1.5v6h-1.5M191,223h1.5v22h-1.5M191,295h1.5v5h-1.5M191,306h1.5v5h-1.5M191,317h1.5v5h-1.5M191,328h1.5v5h-1.5M191,339h1.5v11h-1.5M192.5,52h1.5v17h-1.5M192.5,151h1.5v11h-1.5M192.5,201h1.5v16h-1.5M192.5,223h1.5v5h-1.5M192.5,245h1.5v6h-1.5M192.5,256h1.5v6h-1.5M192.5,267h1.5v6h-1.5M192.5,322h1.5v6h-1.5M192.5,333h1.5v6h-1.5M194,58h1.5v5h-1.5M194,69h1.5v5h-1.5M194,157h1.5v5h-1.5M194,179h1.5v5h-1.5M194,201h1.5v5h-1.5M194,217h1.5v6h-1.5M194,228h1.5v6h-1.5M194,245h1.5v6h-1.5M194,267h1.5v6h-1.5M194,295h1.5v11h-1.5M194,311h1.5v11h-1.5M194,344h1.5v6h-1.5M194,366h1.5v6h-1.5M195.5,63h1.5v6h-1.5M195.5,96h1.5v6h-1.5M195.5,146h1.5v5h-1.5M195.5,223h1.5v5h-1.5M195.5,245h1.5v6h-1.5M195.5,262h1.5v5h-1.5M195.5,295h1.5v5h-1.5M195.5,344h1.5v6h-1.5M197,69h1.5v5h-1.5M197,96h1.5v6h-1.5M197,184h1.5v6h-1.5M197,206h1.5v6h-1.5M197,339h1.5v11h-1.5M198.5,52h1.5v6h-1.5M198.5,190h1.5v11h-1.5M198.5,339h1.5v5h-1.5M198.5,372h1.5v11h-1.5M198.5,388h1.5v17h-1.5M200,58h1.5v5h-1.5M200,69h1.5v5h-1.5M200,91h1.5v11h-1.5M200,173h1.5v11h-1.5M200,190h1.5v11h-1.5M200,350h1.5v5h-1.5M200,366h1.5v11h-1.5M200,383h1.5v11h-1.5M200,399h1.5v6h-1.5M201.5,52h1.5v11h-1.5M201.5,69h1.5v5h-1.5M201.5,102h1.5v5h-1.5M201.5,168h1.5v5h-1.5M201.5,201h1.5v5h-1.5M201.5,339h1.5v16h-1.5M201.5,366h1.5v11h-1.5M201.5,388h1.5v6h-1.5M201.5,399h1.5v6h-1.5M203,63h1.5v6h-1.5M203,179h1.5v5h-1.5M203,195h1.5v6h-1.5M203,355h1.5v6h-1.5M203,372h1.5v5h-1.5M203,383h1.5v5h-1.5M203,394h1.5v5h-1.5M204.5,173h1.5v17h-1.5M204.5,344h1.5v6h-1.5M204.5,355h1.5v6h-1.5M204.5,372h1.5v11h-1.5M204.5,388h1.5v6h-1.5M206,74h1.5v6h-1.5M206,173h1.5v6h-1.5M206,184h1.5v6h-1.5M206,344h1.5v11h-1.5M206,399h1.5v6h-1.5M207.5,173h1.5v6h-1.5M207.5,184h1.5v11h-1.5M209,74h1.5v6h-1.5M209,85h1.5v6h-1.5M209,350h1.5v5h-1.5M209,372h1.5v11h-1.5M210.5,69h1.5v5h-1.5M210.5,96h1.5v6h-1.5M210.5,173h1.5v6h-1.5M210.5,184h1.5v6h-1.5M210.5,333h1.5v6h-1.5M210.5,355h1.5v6h-1.5M210.5,377h1.5v6h-1.5M210.5,394h1.5v11h-1.5M212,74h1.5v6h-1.5M212,91h1.5v5h-1.5M212,388h1.5v6h-1.5M213.5,74h1.5v6h-1.5M213.5,372h1.5v5h-1.5M215,85h1.5v11h-1.5M215,339h1.5v5h-1.5M215,350h1.5v11h-1.5M215,366h1.5v6h-1.5M216.5,80h1.5v5h-1.5M218,74h1.5v6h-1.5M218,85h1.5v6h-1.5M218,339h1.5v11h-1.5M218,399h1.5v6h-1.5M219.5,339h1.5v11h-1.5M219.5,394h1.5v5h-1.5M222.5,74h1.5v11h-1.5M222.5,355h1.5v11h-1.5M224,74h1.5v6h-1.5M224,256h1.5v6h-1.5M224,267h1.5v6h-1.5M224,344h1.5v6h-1.5M224,355h1.5v6h-1.5M224,366h1.5v6h-1.5M224,383h1.5v5h-1.5M225.5,74h1.5v6h-1.5M225.5,245h1.5v11h-1.5M225.5,284h1.5v5h-1.5M225.5,300h1.5v6h-1.5M225.5,339h1.5v11h-1.5M225.5,355h1.5v11h-1.5M225.5,377h1.5v6h-1.5M225.5,388h1.5v6h-1.5M227,69h1.5v5h-1.5M227,251h1.5v5h-1.5M227,267h1.5v6h-1.5M227,295h1.5v11h-1.5M227,339h1.5v5h-1.5M227,372h1.5v16h-1.5M227,394h1.5v5h-1.5M228.5,74h1.5v6h-1.5M228.5,278h1.5v6h-1.5M228.5,289h1.5v11h-1.5M228.5,339h1.5v5h-1.5M228.5,383h1.5v5h-1.5M230,80h1.5v5h-1.5M230,251h1.5v5h-1.5M231.5,80h1.5v5h-1.5M234.5,74h1.5v11h-1.5M237.5,74h1.5v6h-1.5M239,80h1.5v5h-1.5M240.5,85h1.5v6h-1.5M243.5,80h1.5v5h-1.5M246.5,74h1.5v6h-1.5M251,80h1.5v5h-1.5M263,80h1.5v5h-1.5M264.5,80h1.5v5h-1.5M266,80h1.5v5h-1.5M267.5,80h1.5v5h-1.5M270.5,74h1.5v6h-1.5M273.5,80h1.5v5h-1.5M275,85h1.5v6h-1.5M284,80h1.5v5h-1.5M285.5,74h1.5v6h-1.5M294.5,74h1.5v6h-1.5M294.5,85h1.5v11h-1.5M296,74h1.5v6h-1.5M296,91h1.5v5h-1.5M297.5,80h1.5v5h-1.5M299,91h1.5v5h-1.5M300.5,85h1.5v11h-1.5M302,80h1.5v5h-1.5M303.5,80h1.5v5h-1.5M303.5,91h1.5v5h-1.5M305,80h1.5v5h-1.5M306.5,91h1.5v5h-1.5M308,85h1.5v11h-1.5M309.5,80h1.5v5h-1.5M309.5,91h1.5v5h-1.5M314,80h1.5v11h-1.5M314,256h1.5v6h-1.5M315.5,366h1.5v6h-1.5M315.5,383h1.5v11h-1.5M317,74h1.5v6h-1.5M317,85h1.5v6h-1.5M317,201h1.5v5h-1.5M317,223h1.5v5h-1.5M317,240h1.5v16h-1.5M317,322h1.5v6h-1.5M317,339h1.5v5h-1.5M317,355h1.5v6h-1.5M317,366h1.5v6h-1.5M317,377h1.5v6h-1.5M317,394h1.5v5h-1.5M318.5,328h1.5v5h-1.5M318.5,350h1.5v11h-1.5M320,201h1.5v5h-1.5M320,217h1.5v6h-1.5M320,284h1.5v5h-1.5M320,306h1.5v5h-1.5M320,339h1.5v22h-1.5M320,377h1.5v6h-1.5M321.5,256h1.5v6h-1.5M321.5,273h1.5v5h-1.5M321.5,333h1.5v6h-1.5M321.5,377h1.5v6h-1.5M323,80h1.5v5h-1.5M323,240h1.5v11h-1.5M323,339h1.5v5h-1.5M323,377h1.5v6h-1.5M323,394h1.5v5h-1.5M324.5,74h1.5v6h-1.5M324.5,184h1.5v11h-1.5M324.5,217h1.5v17h-1.5M324.5,262h1.5v5h-1.5M324.5,284h1.5v5h-1.5M324.5,317h1.5v5h-1.5M324.5,328h1.5v11h-1.5M324.5,344h1.5v6h-1.5M324.5,372h1.5v5h-1.5M324.5,383h1.5v5h-1.5M324.5,394h1.5v5h-1.5M326,85h1.5v6h-1.5M326,195h1.5v6h-1.5M326,217h1.5v6h-1.5M326,278h1.5v11h-1.5M326,306h1.5v5h-1.5M326,322h1.5v6h-1.5M326,372h1.5v5h-1.5M326,383h1.5v5h-1.5M327.5,80h1.5v5h-1.5M327.5,91h1.5v5h-1.5M327.5,184h1.5v17h-1.5M327.5,217h1.5v6h-1.5M327.5,284h1.5v5h-1.5M327.5,311h1.5v6h-1.5M327.5,328h1.5v5h-1.5M327.5,350h1.5v11h-1.5M327.5,366h1.5v11h-1.5M329,217h1.5v11h-1.5M329,289h1.5v17h-1.5M329,317h1.5v11h-1.5M329,355h1.5v6h-1.5M329,372h1.5v5h-1.5M329,383h1.5v5h-1.5M330.5,80h1.5v5h-1.5M330.5,217h1.5v6h-1.5M330.5,295h1.5v5h-1.5M330.5,311h1.5v6h-1.5M330.5,383h1.5v5h-1.5M332,212h1.5v5h-1.5M332,289h1.5v6h-1.5M332,300h1.5v6h-1.5M333.5,206h1.5v11h-1.5M335,228h1.5v12h-1.5M336.5,223h1.5v5h-1.5M336.5,306h1.5v5h-1.5M339.5,201h1.5v5h-1.5M339.5,212h1.5v5h-1.5M341,80h1.5v5h-1.5M341,201h1.5v5h-1.5M341,223h1.5v5h-1.5M342.5,80h1.5v5h-1.5M342.5,201h1.5v5h-1.5M344,80h1.5v5h-1.5M344,201h1.5v11h-1.5M345.5,206h1.5v11h-1.5M345.5,223h1.5v5h-1.5M347,234h1.5v6h-1.5M347,267h1.5v6h-1.5M348.5,267h1.5v11h-1.5M350,234h1.5v17h-1.5M353,240h1.5v5h-1.5M353,284h1.5v5h-1.5M353,306h1.5v5h-1.5M353,317h1.5v16h-1.5M353,350h1.5v5h-1.5M354.5,228h1.5v6h-1.5M354.5,289h1.5v6h-1.5M354.5,306h1.5v11h-1.5M357.5,317h1.5v16h-1.5M357.5,339h1.5v5h-1.5M357.5,366h1.5v6h-1.5M357.5,399h1.5v6h-1.5M359,328h1.5v22h-1.5M359,355h1.5v17h-1.5M359,377h1.5v6h-1.5M359,399h1.5v6h-1.5M360.5,245h1.5v6h-1.5M360.5,256h1.5v11h-1.5M360.5,295h1.5v5h-1.5M360.5,350h1.5v5h-1.5M360.5,372h1.5v5h-1.5M362,234h1.5v6h-1.5M362,251h1.5v11h-1.5M362,273h1.5v5h-1.5M362,289h1.5v17h-1.5M362,322h1.5v6h-1.5M362,355h1.5v6h-1.5M362,372h1.5v5h-1.5M363.5,240h1.5v11h-1.5M363.5,256h1.5v6h-1.5M363.5,284h1.5v5h-1.5M363.5,295h1.5v16h-1.5M363.5,366h1.5v6h-1.5M365,251h1.5v5h-1.5M365,267h1.5v6h-1.5M365,311h1.5v6h-1.5M365,350h1.5v5h-1.5M365,361h1.5v5h-1.5M365,372h1.5v5h-1.5M366.5,245h1.5v11h-1.5M366.5,262h1.5v5h-1.5M366.5,278h1.5v22h-1.5M366.5,306h1.5v5h-1.5M368,251h1.5v5h-1.5M368,262h1.5v5h-1.5M368,284h1.5v5h-1.5M368,317h1.5v5h-1.5M368,333h1.5v6h-1.5M368,383h1.5v5h-1.5M369.5,322h1.5v11h-1.5M369.5,344h1.5v6h-1.5M369.5,372h1.5v11h-1.5M371,217h1.5v6h-1.5M371,228h1.5v6h-1.5M371,240h1.5v5h-1.5M371,322h1.5v6h-1.5M372.5,234h1.5v22h-1.5M372.5,289h1.5v17h-1.5M372.5,322h1.5v6h-1.5M372.5,377h1.5v6h-1.5M374,256h1.5v6h-1.5M374,267h1.5v11h-1.5M374,289h1.5v6h-1.5M374,322h1.5v6h-1.5M374,339h1.5v11h-1.5M374,355h1.5v6h-1.5M374,366h1.5v17h-1.5M375.5,273h1.5v11h-1.5M375.5,311h1.5v6h-1.5M375.5,328h1.5v16h-1.5M375.5,350h1.5v11h-1.5M375.5,366h1.5v17h-1.5M377,273h1.5v5h-1.5M377,311h1.5v6h-1.5M377,328h1.5v5h-1.5M377,344h1.5v17h-1.5M377,388h1.5v6h-1.5M378.5,267h1.5v6h-1.5M378.5,278h1.5v6h-1.5M378.5,295h1.5v5h-1.5M378.5,328h1.5v5h-1.5M378.5,377h1.5v6h-1.5M380,278h1.5v6h-1.5M380,366h1.5v6h-1.5M380,383h1.5v5h-1.5M381.5,278h1.5v6h-1.5M381.5,344h1.5v6h-1.5M381.5,361h1.5v27h-1.5M381.5,399h1.5v6h-1.5M383,256h1.5v6h-1.5M383,295h1.5v5h-1.5M383,317h1.5v5h-1.5M383,355h1.5v6h-1.5M384.5,245h1.5v6h-1.5M384.5,284h1.5v5h-1.5M384.5,333h1.5v6h-1.5M384.5,350h1.5v5h-1.5M384.5,366h1.5v17h-1.5M386,245h1.5v11h-1.5M386,267h1.5v6h-1.5M386,372h1.5v5h-1.5M387.5,234h1.5v11h-1.5M387.5,267h1.5v6h-1.5M387.5,278h1.5v6h-1.5M387.5,300h1.5v11h-1.5M387.5,322h1.5v11h-1.5M387.5,355h1.5v11h-1.5M389,228h1.5v6h-1.5M389,300h1.5v6h-1.5M389,344h1.5v6h-1.5M390.5,217h1.5v6h-1.5M390.5,228h1.5v6h-1.5M390.5,306h1.5v5h-1.5M390.5,322h1.5v17h-1.5M390.5,350h1.5v5h-1.5M392,251h1.5v5h-1.5M392,267h1.5v6h-1.5M392,361h1.5v11h-1.5M392,377h1.5v6h-1.5M393.5,251h1.5v5h-1.5M393.5,262h1.5v5h-1.5M393.5,278h1.5v6h-1.5M393.5,328h1.5v5h-1.5M393.5,344h1.5v11h-1.5M393.5,372h1.5v5h-1.5M395,245h1.5v33h-1.5M395,284h1.5v5h-1.5M395,355h1.5v11h-1.5M396.5,251h1.5v5h-1.5M396.5,295h1.5v5h-1.5M396.5,306h1.5v5h-1.5M396.5,322h1.5v17h-1.5M398,240h1.5v5h-1.5M399.5,273h1.5v11h-1.5M399.5,311h1.5v6h-1.5M399.5,355h1.5v6h-1.5M399.5,372h1.5v5h-1.5M401,234h1.5v6h-1.5M401,289h1.5v11h-1.5M401,311h1.5v11h-1.5M401,350h1.5v5h-1.5M402.5,251h1.5v11h-1.5M402.5,267h1.5v6h-1.5M402.5,278h1.5v6h-1.5M402.5,300h1.5v6h-1.5M402.5,311h1.5v11h-1.5M402.5,328h1.5v22h-1.5M404,300h1.5v6h-1.5M405.5,240h1.5v5h-1.5M405.5,262h1.5v5h-1.5M405.5,300h1.5v6h-1.5M405.5,311h1.5v11h-1.5M405.5,333h1.5v22h-1.5M407,234h1.5v11h-1.5M407,251h1.5v11h-1.5M407,295h1.5v5h-1.5M407,311h1.5v11h-1.5M407,328h1.5v11h-1.5M408.5,212h1.5v5h-1.5M408.5,240h1.5v5h-1.5M408.5,306h1.5v5h-1.5M410,234h1.5v6h-1.5M410,251h1.5v5h-1.5M410,300h1.5v6h-1.5M410,328h1.5v5h-1.5M411.5,245h1.5v11h-1.5M411.5,300h1.5v6h-1.5M411.5,322h1.5v11h-1.5M413,328h1.5v11h-1.5M414.5,267h1.5v6h-1.5M414.5,306h1.5v5h-1.5M414.5,328h1.5v5h-1.5M416,284h1.5v5h-1.5M416,322h1.5v6h-1.5M416,333h1.5v6h-1.5M417.5,234h1.5v11h-1.5M417.5,333h1.5v6h-1.5M419,217h1.5v6h-1.5M419,295h1.5v5h-1.5M419,328h1.5v5h-1.5M420.5,240h1.5v11h-1.5M420.5,328h1.5v11h-1.5M423.5,240h1.5v5h-1.5M423.5,251h1.5v5h-1.5M423.5,262h1.5v5h-1.5M423.5,278h1.5v11h-1.5M423.5,300h1.5v6h-1.5M423.5,328h1.5v5h-1.5M425,234h1.5v6h-1.5M425,273h1.5v5h-1.5M425,289h1.5v11h-1.5M426.5,251h1.5v5h-1.5M426.5,267h1.5v6h-1.5M426.5,278h1.5v6h-1.5M426.5,289h1.5v11h-1.5M426.5,311h1.5v6h-1.5M428,234h1.5v6h-1.5M428,273h1.5v5h-1.5M428,300h1.5v6h-1.5M429.5,234h1.5v11h-1.5M431,240h1.5v16h-1.5M431,284h1.5v5h-1.5M431,311h1.5v6h-1.5M432.5,262h1.5v5h-1.5M432.5,273h1.5v5h-1.5M432.5,300h1.5v6h-1.5M432.5,311h1.5v6h-1.5M434,278h1.5v11h-1.5M434,328h1.5v5h-1.5M435.5,339h1.5v5h-1.5M437,245h1.5v6h-1.5M437,262h1.5v5h-1.5M437,278h1.5v6h-1.5M437,289h1.5v11h-1.5M437,311h1.5v6h-1.5M438.5,311h1.5v6h-1.5M438.5,383h1.5v5h-1.5M440,333h1.5v6h-1.5M440,350h1.5v5h-1.5M440,366h1.5v6h-1.5M441.5,328h1.5v5h-1.5M441.5,377h1.5v6h-1.5M441.5,388h1.5v11h-1.5M443,295h1.5v5h-1.5M443,317h1.5v11h-1.5M444.5,273h1.5v5h-1.5M444.5,306h1.5v11h-1.5M446,273h1.5v16h-1.5M446,295h1.5v5h-1.5M446,311h1.5v11h-1.5M447.5,328h1.5v11h-1.5M447.5,383h1.5v5h-1.5M447.5,394h1.5v11h-1.5M449,317h1.5v11h-1.5M449,372h1.5v5h-1.5M449,383h1.5v5h-1.5M450.5,328h1.5v5h-1.5M450.5,383h1.5v5h-1.5M453.5,284h1.5v5h-1.5M453.5,311h1.5v6h-1.5M455,311h1.5v6h-1.5M455,366h1.5v6h-1.5M455,394h1.5v5h-1.5M456.5,289h1.5v17h-1.5M456.5,311h1.5v11h-1.5M456.5,394h1.5v5h-1.5M458,256h1.5v6h-1.5M458,289h1.5v11h-1.5M459.5,399h1.5v6h-1.5M461,333h1.5v6h-1.5M461,388h1.5v17h-1.5M464,311h1.5v6h-1.5M465.5,399h1.5v6h-1.5M467,240h1.5v5h-1.5M467,251h1.5v5h-1.5M468.5,240h1.5v5h-1.5M468.5,262h1.5v5h-1.5M468.5,306h1.5v5h-1.5M470,228h1.5v12h-1.5M470,251h1.5v11h-1.5M470,300h1.5v11h-1.5M471.5,245h1.5v6h-1.5M471.5,256h1.5v6h-1.5M471.5,284h1.5v5h-1.5M473,234h1.5v17h-1.5M473,256h1.5v6h-1.5M473,289h1.5v11h-1.5M474.5,223h1.5v11h-1.5M474.5,306h1.5v5h-1.5M476,223h1.5v11h-1.5M476,300h1.5v6h-1.5M477.5,223h1.5v17h-1.5M477.5,262h1.5v5h-1.5M477.5,306h1.5v5h-1.5M479,228h1.5v12h-1.5M479,251h1.5v11h-1.5M479,273h1.5v5h-1.5M479,284h1.5v5h-1.5M479,306h1.5v16h-1.5M479,366h1.5v11h-1.5M480.5,223h1.5v5h-1.5M480.5,234h1.5v11h-1.5M480.5,262h1.5v5h-1.5M480.5,289h1.5v6h-1.5M480.5,300h1.5v6h-1.5M482,223h1.5v17h-1.5M482,245h1.5v11h-1.5M482,262h1.5v5h-1.5M483.5,223h1.5v5h-1.5M483.5,267h1.5v6h-1.5M483.5,278h1.5v6h-1.5M483.5,295h1.5v5h-1.5M483.5,311h1.5v6h-1.5M485,223h1.5v11h-1.5M485,240h1.5v5h-1.5M486.5,234h1.5v11h-1.5M486.5,262h1.5v5h-1.5M486.5,289h1.5v11h-1.5M488,262h1.5v5h-1.5M488,284h1.5v5h-1.5M488,344h1.5v6h-1.5M488,366h1.5v6h-1.5M489.5,223h1.5v5h-1.5M489.5,251h1.5v5h-1.5M489.5,267h1.5v6h-1.5M489.5,322h1.5v6h-1.5M491,240h1.5v5h-1.5M491,251h1.5v5h-1.5M491,284h1.5v11h-1.5M491,311h1.5v11h-1.5M492.5,217h1.5v11h-1.5M492.5,234h1.5v11h-1.5M492.5,295h1.5v5h-1.5M494,223h1.5v5h-1.5M494,234h1.5v11h-1.5M495.5,251h1.5v11h-1.5M497,234h1.5v6h-1.5M497,267h1.5v6h-1.5M498.5,234h1.5v11h-1.5M498.5,284h1.5v5h-1.5M500,228h1.5v12h-1.5M500,245h1.5v6h-1.5M500,306h1.5v5h-1.5M501.5,245h1.5v6h-1.5M503,228h1.5v6h-1.5M503,240h1.5v5h-1.5M504.5,273h1.5v5h-1.5M506,217h1.5v6h-1.5M506,251h1.5v5h-1.5M507.5,234h1.5v11h-1.5M509,240h1.5v16h-1.5M509,267h1.5v6h-1.5M509,366h1.5v6h-1.5M510.5,251h1.5v5h-1.5M510.5,278h1.5v11h-1.5M512,267h1.5v6h-1.5M512,284h1.5v5h-1.5M512,361h1.5v16h-1.5M513.5,278h1.5v11h-1.5M513.5,306h1.5v5h-1.5M513.5,350h1.5v11h-1.5M513.5,366h1.5v11h-1.5M513.5,383h1.5v5h-1.5M515,284h1.5v11h-1.5M515,350h1.5v5h-1.5M515,394h1.5v5h-1.5M516.5,366h1.5v6h-1.5M518,273h1.5v5h-1.5M518,377h1.5v11h-1.5M519.5,278h1.5v11h-1.5M519.5,355h1.5v6h-1.5M521,63h1.5v11h-1.5M521,80h1.5v5h-1.5M521,355h1.5v11h-1.5M521,377h1.5v6h-1.5M522.5,278h1.5v6h-1.5M522.5,350h1.5v11h-1.5M522.5,372h1.5v16h-1.5M522.5,399h1.5v6h-1.5M524,284h1.5v5h-1.5M524,372h1.5v5h-1.5M524,383h1.5v22h-1.5M525.5,273h1.5v5h-1.5M525.5,284h1.5v5h-1.5M525.5,350h1.5v5h-1.5M525.5,366h1.5v22h-1.5M527,251h1.5v5h-1.5M527,278h1.5v6h-1.5M527,355h1.5v6h-1.5M527,366h1.5v17h-1.5M528.5,350h1.5v5h-1.5M528.5,383h1.5v5h-1.5M530,350h1.5v5h-1.5M530,372h1.5v5h-1.5M530,383h1.5v5h-1.5M531.5,273h1.5v11h-1.5M531.5,350h1.5v5h-1.5M531.5,388h1.5v6h-1.5M533,278h1.5v6h-1.5M533,355h1.5v6h-1.5M534.5,284h1.5v5h-1.5M534.5,344h1.5v6h-1.5M534.5,394h1.5v11h-1.5M536,284h1.5v5h-1.5M536,344h1.5v6h-1.5M536,372h1.5v5h-1.5M536,394h1.5v5h-1.5M537.5,278h1.5v11h-1.5M537.5,350h1.5v11h-1.5M537.5,366h1.5v6h-1.5M537.5,388h1.5v11h-1.5M539,284h1.5v5h-1.5M539,339h1.5v5h-1.5M539,394h1.5v11h-1.5M540.5,278h1.5v11h-1.5M540.5,344h1.5v6h-1.5M540.5,394h1.5v11h-1.5M542,267h1.5v6h-1.5M542,278h1.5v6h-1.5M542,355h1.5v6h-1.5M542,366h1.5v17h-1.5M542,388h1.5v6h-1.5M543.5,273h1.5v5h-1.5M543.5,350h1.5v5h-1.5M543.5,372h1.5v11h-1.5M543.5,388h1.5v6h-1.5M545,273h1.5v5h-1.5M545,284h1.5v5h-1.5M545,339h1.5v11h-1.5M545,355h1.5v6h-1.5M545,366h1.5v17h-1.5M545,388h1.5v11h-1.5M546.5,355h1.5v22h-1.5M548,372h1.5v11h-1.5M548,394h1.5v11h-1.5M549.5,278h1.5v6h-1.5M549.5,339h1.5v5h-1.5M549.5,350h1.5v5h-1.5M549.5,361h1.5v5h-1.5M549.5,388h1.5v11h-1.5M551,284h1.5v5h-1.5M551,339h1.5v11h-1.5M551,399h1.5v6h-1.5M552.5,278h1.5v6h-1.5M552.5,339h1.5v22h-1.5M552.5,394h1.5v11h-1.5M554,273h1.5v11h-1.5M554,344h1.5v22h-1.5M554,383h1.5v5h-1.5M554,399h1.5v6h-1.5M555.5,350h1.5v11h-1.5M555.5,372h1.5v5h-1.5M555.5,394h1.5v11h-1.5M557,278h1.5v6h-1.5M557,394h1.5v5h-1.5M558.5,273h1.5v5h-1.5M558.5,355h1.5v6h-1.5M558.5,394h1.5v11h-1.5M560,284h1.5v5h-1.5M560,300h1.5v6h-1.5M560,339h1.5v11h-1.5M560,355h1.5v6h-1.5M560,394h1.5v5h-1.5M561.5,344h1.5v6h-1.5M561.5,355h1.5v6h-1.5M561.5,383h1.5v5h-1.5M563,278h1.5v6h-1.5M563,339h1.5v16h-1.5M564.5,284h1.5v5h-1.5M564.5,355h1.5v6h-1.5M564.5,394h1.5v11h-1.5M566,289h1.5v6h-1.5M566,339h1.5v22h-1.5M567.5,278h1.5v6h-1.5M567.5,350h1.5v11h-1.5M567.5,394h1.5v5h-1.5M569,273h1.5v5h-1.5M569,344h1.5v6h-1.5M569,355h1.5v6h-1.5M569,394h1.5v11h-1.5M570.5,284h1.5v5h-1.5M570.5,339h1.5v16h-1.5M572,278h1.5v6h-1.5M572,361h1.5v11h-1.5M572,377h1.5v6h-1.5M572,388h1.5v6h-1.5M573.5,278h1.5v6h-1.5M573.5,344h1.5v6h-1.5M573.5,361h1.5v5h-1.5M573.5,388h1.5v6h-1.5M575,339h1.5v11h-1.5M575,388h1.5v6h-1.5M576.5,278h1.5v6h-1.5M576.5,339h1.5v5h-1.5M576.5,355h1.5v6h-1.5M576.5,394h1.5v11h-1.5M578,361h1.5v5h-1.5M578,394h1.5v11h-1.5M579.5,339h1.5v5h-1.5M579.5,361h1.5v22h-1.5M579.5,388h1.5v17h-1.5M581,278h1.5v6h-1.5M581,372h1.5v11h-1.5M582.5,366h1.5v11h-1.5M584,273h1.5v5h-1.5M584,366h1.5v6h-1.5M584,383h1.5v5h-1.5M585.5,355h1.5v6h-1.5M585.5,372h1.5v11h-1.5M585.5,399h1.5v6h-1.5M587,262h1.5v5h-1.5M587,273h1.5v5h-1.5M587,372h1.5v11h-1.5M590,377h1.5v6h-1.5M591.5,339h1.5v22h-1.5M591.5,366h1.5v6h-1.5M591.5,377h1.5v6h-1.5M591.5,388h1.5v11h-1.5M593,273h1.5v11h-1.5M593,350h1.5v5h-1.5M593,366h1.5v6h-1.5M593,394h1.5v5h-1.5M594.5,273h1.5v5h-1.5M597.5,350h1.5v5h-1.5M597.5,388h1.5v6h-1.5M600.5,278h1.5v6h-1.5M600.5,344h1.5v17h-1.5M600.5,383h1.5v5h-1.5M602,278h1.5v6h-1.5M602,372h1.5v5h-1.5M603.5,245h1.5v11h-1.5M603.5,267h1.5v6h-1.5M605,399h1.5v6h-1.5M608,256h1.5v6h-1.5M608,267h1.5v6h-1.5M609.5,273h1.5v5h-1.5M609.5,388h1.5v6h-1.5M609.5,399h1.5v6h-1.5M611,278h1.5v6h-1.5M614,273h1.5v5h-1.5M614,372h1.5v5h-1.5M614,399h1.5v6h-1.5M615.5,366h1.5v6h-1.5M615.5,377h1.5v11h-1.5M615.5,399h1.5v6h-1.5M617,273h1.5v5h-1.5M617,355h1.5v6h-1.5M617,383h1.5v16h-1.5M618.5,350h1.5v5h-1.5M618.5,388h1.5v11h-1.5M620,273h1.5v5h-1.5M620,350h1.5v5h-1.5M620,383h1.5v5h-1.5M621.5,355h1.5v11h-1.5M621.5,377h1.5v11h-1.5M621.5,394h1.5v11h-1.5M623,273h1.5v5h-1.5M623,355h1.5v11h-1.5M623,372h1.5v5h-1.5M623,383h1.5v5h-1.5M624.5,355h1.5v6h-1.5M624.5,366h1.5v6h-1.5M624.5,377h1.5v11h-1.5M626,383h1.5v5h-1.5M627.5,366h1.5v6h-1.5M627.5,377h1.5v11h-1.5M629,273h1.5v5h-1.5M629,355h1.5v6h-1.5M629,366h1.5v6h-1.5M630.5,273h1.5v5h-1.5M630.5,350h1.5v5h-1.5M630.5,366h1.5v6h-1.5M632,377h1.5v28h-1.5M633.5,245h1.5v6h-1.5M633.5,256h1.5v6h-1.5M633.5,372h1.5v33h-1.5M635,372h1.5v11h-1.5M635,399h1.5v6h-1.5M636.5,278h1.5v6h-1.5M636.5,350h1.5v5h-1.5M638,350h1.5v22h-1.5M638,394h1.5v11h-1.5M639.5,350h1.5v11h-1.5M641,361h1.5v11h-1.5M641,377h1.5v6h-1.5M642.5,355h1.5v6h-1.5M642.5,366h1.5v6h-1.5M644,273h1.5v5h-1.5M644,350h1.5v5h-1.5M645.5,344h1.5v6h-1.5M645.5,355h1.5v6h-1.5M647,273h1.5v5h-1.5M648.5,251h1.5v11h-1.5M648.5,344h1.5v6h-1.5M650,262h1.5v5h-1.5M650,350h1.5v5h-1.5M651.5,240h1v5h-1M651.5,344h1v6h-1"/>
<path fill="#0aeb14" d="M144.5,184h1.5v6h-1.5M147.5,234h1.5v6h-1.5M150.5,190h1.5v5h-1.5M150.5,245h1.5v6h-1.5M152,179h1.5v11h-1.5M152,206h1.5v11h-1.5M152,223h1.5v17h-1.5M152,262h1.5v11h-1.5M152,295h1.5v5h-1.5M153.5,173h1.5v6h-1.5M153.5,295h1.5v5h-1.5M153.5,328h1.5v5h-1.5M153.5,355h1.5v6h-1.5M153.5,372h1.5v5h-1.5M155,162h1.5v6h-1.5M155,350h1.5v11h-1.5M155,377h1.5v22h-1.5M156.5,311h1.5v11h-1.5M156.5,339h1.5v16h-1.5M156.5,372h1.5v16h-1.5M158,168h1.5v5h-1.5M158,311h1.5v6h-1.5M158,322h1.5v11h-1.5M158,355h1.5v6h-1.5M158,377h1.5v6h-1.5M159.5,151h1.5v6h-1.5M159.5,162h1.5v11h-1.5M159.5,317h1.5v5h-1.5M159.5,328h1.5v5h-1.5M161,151h1.5v11h-1.5M161,311h1.5v6h-1.5M161,344h1.5v17h-1.5M162.5,151h1.5v6h-1.5M164,146h1.5v11h-1.5M165.5,80h1.5v11h-1.5M167,80h1.5v5h-1.5M167,151h1.5v6h-1.5M167,173h1.5v6h-1.5M168.5,85h1.5v6h-1.5M168.5,162h1.5v6h-1.5M168.5,217h1.5v11h-1.5M168.5,251h1.5v11h-1.5M170,85h1.5v11h-1.5M170,157h1.5v5h-1.5M170,179h1.5v5h-1.5M170,195h1.5v17h-1.5M170,234h1.5v11h-1.5M171.5,96h1.5v6h-1.5M171.5,146h1.5v11h-1.5M171.5,162h1.5v22h-1.5M171.5,195h1.5v22h-1.5M171.5,223h1.5v5h-1.5M171.5,234h1.5v6h-1.5M173,96h1.5v11h-1.5M173,113h1.5v11h-1.5M173,168h1.5v11h-1.5M173,184h1.5v6h-1.5M173,212h1.5v11h-1.5M173,256h1.5v6h-1.5M173,295h1.5v5h-1.5M174.5,146h1.5v5h-1.5M174.5,168h1.5v5h-1.5M174.5,179h1.5v11h-1.5M174.5,201h1.5v11h-1.5M174.5,217h1.5v17h-1.5M174.5,240h1.5v16h-1.5M176,58h1.5v5h-1.5M176,96h1.5v6h-1.5M176,173h1.5v17h-1.5M176,212h1.5v5h-1.5M176,223h1.5v5h-1.5M176,240h1.5v5h-1.5M177.5,96h1.5v6h-1.5M177.5,157h1.5v5h-1.5M177.5,173h1.5v17h-1.5M177.5,195h1.5v11h-1.5M177.5,212h1.5v16h-1.5M177.5,251h1.5v5h-1.5M177.5,284h1.5v5h-1.5M177.5,306h1.5v5h-1.5M179,58h1.5v5h-1.5M179,113h1.5v5h-1.5M179,151h1.5v6h-1.5M179,162h1.5v6h-1.5M179,195h1.5v6h-1.5M179,206h1.5v6h-1.5M179,217h1.5v6h-1.5M179,228h1.5v6h-1.5M179,306h1.5v5h-1.5M180.5,63h1.5v11h-1.5M180.5,151h1.5v11h-1.5M180.5,168h1.5v5h-1.5M180.5,179h1.5v5h-1.5M180.5,190h1.5v5h-1.5M180.5,217h1.5v11h-1.5M180.5,240h1.5v5h-1.5M180.5,289h1.5v6h-1.5M180.5,300h1.5v6h-1.5M182,63h1.5v6h-1.5M182,162h1.5v6h-1.5M182,173h1.5v6h-1.5M182,212h1.5v5h-1.5M182,223h1.5v11h-1.5M182,251h1.5v11h-1.5M182,300h1.5v6h-1.5M183.5,52h1.5v6h-1.5M183.5,63h1.5v6h-1.5M183.5,102h1.5v5h-1.5M183.5,140h1.5v6h-1.5M183.5,168h1.5v5h-1.5M183.5,217h1.5v6h-1.5M183.5,306h1.5v5h-1.5M185,52h1.5v6h-1.5M185,63h1.5v11h-1.5M185,140h1.5v6h-1.5M185,157h1.5v5h-1.5M185,179h1.5v5h-1.5M185,201h1.5v11h-1.5M185,217h1.5v6h-1.5M185,234h1.5v6h-1.5M185,300h1.5v11h-1.5M186.5,52h1.5v11h-1.5M186.5,96h1.5v11h-1.5M186.5,151h1.5v11h-1.5M186.5,168h1.5v11h-1.5M186.5,201h1.5v5h-1.5M186.5,317h1.5v5h-1.5M188,58h1.5v5h-1.5M188,162h1.5v11h-1.5M188,179h1.5v11h-1.5M188,212h1.5v5h-1.5M188,223h1.5v11h-1.5M188,240h1.5v5h-1.5M188,256h1.5v6h-1.5M188,273h1.5v5h-1.5M188,300h1.5v11h-1.5M188,317h1.5v5h-1.5M189.5,58h1.5v5h-1.5M189.5,69h1.5v5h-1.5M189.5,96h1.5v6h-1.5M189.5,184h1.5v11h-1.5M189.5,212h1.5v5h-1.5M189.5,240h1.5v22h-1.5M189.5,328h1.5v5h-1.5M189.5,350h1.5v5h-1.5M189.5,361h1.5v5h-1.5M191,201h1.5v11h-1.5M191,251h1.5v5h-1.5M191,267h1.5v11h-1.5M192.5,69h1.5v5h-1.5M192.5,96h1.5v6h-1.5M192.5,179h1.5v16h-1.5M192.5,234h1.5v11h-1.5M192.5,251h1.5v5h-1.5M192.5,278h1.5v6h-1.5M192.5,350h1.5v16h-1.5M194,63h1.5v6h-1.5M194,168h1.5v11h-1.5M194,184h1.5v6h-1.5M194,223h1.5v5h-1.5M194,251h1.5v5h-1.5M194,306h1.5v5h-1.5M194,328h1.5v5h-1.5M194,350h1.5v11h-1.5M195.5,157h1.5v5h-1.5M195.5,184h1.5v11h-1.5M195.5,201h1.5v5h-1.5M195.5,240h1.5v5h-1.5M195.5,350h1.5v11h-1.5M195.5,366h1.5v6h-1.5M197,173h1.5v6h-1.5M197,190h1.5v5h-1.5M197,201h1.5v5h-1.5M197,350h1.5v5h-1.5M197,366h1.5v11h-1.5M197,394h1.5v5h-1.5M198.5,85h1.5v6h-1.5M198.5,173h1.5v6h-1.5M198.5,201h1.5v5h-1.5M198.5,366h1.5v6h-1.5M201.5,195h1.5v6h-1.5M201.5,383h1.5v5h-1.5M201.5,394h1.5v5h-1.5M203,74h1.5v6h-1.5M203,91h1.5v5h-1.5M203,377h1.5v6h-1.5M203,388h1.5v6h-1.5M203,399h1.5v6h-1.5M204.5,69h1.5v11h-1.5M204.5,85h1.5v11h-1.5M204.5,190h1.5v11h-1.5M204.5,350h1.5v5h-1.5M204.5,383h1.5v5h-1.5M204.5,394h1.5v5h-1.5M206,85h1.5v6h-1.5M206,179h1.5v5h-1.5M206,190h1.5v5h-1.5M206,377h1.5v6h-1.5M206,388h1.5v11h-1.5M207.5,74h1.5v6h-1.5M207.5,85h1.5v6h-1.5M207.5,179h1.5v5h-1.5M209,80h1.5v5h-1.5M209,91h1.5v5h-1.5M210.5,74h1.5v6h-1.5M210.5,91h1.5v5h-1.5M210.5,179h1.5v5h-1.5M210.5,350h1.5v5h-1.5M210.5,361h1.5v5h-1.5M210.5,372h1.5v5h-1.5M210.5,383h1.5v5h-1.5M212,80h1.5v5h-1.5M213.5,80h1.5v11h-1.5M216.5,350h1.5v5h-1.5M218,80h1.5v5h-1.5M219.5,74h1.5v17h-1.5M219.5,383h1.5v5h-1.5M221,80h1.5v5h-1.5M222.5,350h1.5v5h-1.5M224,80h1.5v5h-1.5M224,284h1.5v5h-1.5M224,322h1.5v6h-1.5M224,339h1.5v5h-1.5M225.5,278h1.5v6h-1.5M225.5,350h1.5v5h-1.5M225.5,366h1.5v11h-1.5M227,74h1.5v17h-1.5M227,262h1.5v5h-1.5M227,273h1.5v11h-1.5M227,344h1.5v17h-1.5M227,388h1.5v6h-1.5M228.5,80h1.5v11h-1.5M228.5,377h1.5v6h-1.5M230,74h1.5v6h-1.5M233,74h1.5v6h-1.5M236,80h1.5v5h-1.5M242,74h1.5v6h-1.5M248,74h1.5v6h-1.5M255.5,80h1.5v5h-1.5M258.5,80h1.5v5h-1.5M260,80h1.5v5h-1.5M261.5,80h1.5v5h-1.5M269,80h1.5v5h-1.5M276.5,80h1.5v5h-1.5M282.5,80h1.5v5h-1.5M290,80h1.5v11h-1.5M293,80h1.5v5h-1.5M294.5,80h1.5v5h-1.5M297.5,85h1.5v6h-1.5M299,80h1.5v5h-1.5M300.5,80h1.5v5h-1.5M302,91h1.5v5h-1.5M306.5,80h1.5v5h-1.5M308,80h1.5v5h-1.5M315.5,80h1.5v5h-1.5M317,80h1.5v5h-1.5M317,262h1.5v5h-1.5M317,328h1.5v11h-1.5M317,344h1.5v11h-1.5M317,361h1.5v5h-1.5M317,383h1.5v5h-1.5M318.5,372h1.5v5h-1.5M320,228h1.5v12h-1.5M320,251h1.5v5h-1.5M320,262h1.5v22h-1.5M320,333h1.5v6h-1.5M320,383h1.5v5h-1.5M320,399h1.5v6h-1.5M321.5,80h1.5v5h-1.5M323,251h1.5v5h-1.5M324.5,80h1.5v5h-1.5M324.5,251h1.5v5h-1.5M324.5,339h1.5v5h-1.5M324.5,399h1.5v6h-1.5M326,201h1.5v5h-1.5M326,223h1.5v5h-1.5M326,328h1.5v16h-1.5M326,361h1.5v5h-1.5M326,388h1.5v11h-1.5M327.5,223h1.5v5h-1.5M327.5,295h1.5v5h-1.5M327.5,317h1.5v5h-1.5M327.5,333h1.5v6h-1.5M327.5,383h1.5v16h-1.5M329,195h1.5v11h-1.5M329,228h1.5v6h-1.5M329,284h1.5v5h-1.5M329,328h1.5v11h-1.5M329,366h1.5v6h-1.5M329,377h1.5v6h-1.5M330.5,195h1.5v6h-1.5M330.5,223h1.5v5h-1.5M330.5,284h1.5v5h-1.5M330.5,300h1.5v11h-1.5M330.5,317h1.5v16h-1.5M330.5,372h1.5v11h-1.5M332,80h1.5v5h-1.5M332,223h1.5v11h-1.5M332,295h1.5v5h-1.5M332,306h1.5v5h-1.5M332,366h1.5v6h-1.5M332,383h1.5v5h-1.5M333.5,80h1.5v5h-1.5M333.5,228h1.5v6h-1.5M335,306h1.5v5h-1.5M336.5,217h1.5v6h-1.5M336.5,240h1.5v5h-1.5M338,217h1.5v11h-1.5M341,228h1.5v6h-1.5M342.5,223h1.5v11h-1.5M344,217h1.5v6h-1.5M345.5,80h1.5v5h-1.5M345.5,228h1.5v6h-1.5M347,228h1.5v6h-1.5M347,240h1.5v11h-1.5M347,256h1.5v6h-1.5M347,273h1.5v5h-1.5M348.5,234h1.5v6h-1.5M348.5,245h1.5v6h-1.5M348.5,256h1.5v11h-1.5M348.5,289h1.5v6h-1.5M348.5,306h1.5v5h-1.5M350,256h1.5v6h-1.5M350,267h1.5v6h-1.5M350,278h1.5v6h-1.5M350,295h1.5v5h-1.5M351.5,284h1.5v5h-1.5M351.5,300h1.5v6h-1.5M351.5,311h1.5v11h-1.5M353,245h1.5v6h-1.5M353,256h1.5v11h-1.5M353,295h1.5v5h-1.5M353,333h1.5v17h-1.5M354.5,240h1.5v5h-1.5M354.5,251h1.5v11h-1.5M354.5,284h1.5v5h-1.5M354.5,295h1.5v5h-1.5M354.5,317h1.5v5h-1.5M354.5,333h1.5v22h-1.5M356,217h1.5v6h-1.5M356,322h1.5v6h-1.5M357.5,383h1.5v16h-1.5M359,372h1.5v5h-1.5M359,383h1.5v16h-1.5M360.5,284h1.5v5h-1.5M360.5,317h1.5v11h-1.5M360.5,366h1.5v6h-1.5M362,245h1.5v6h-1.5M362,262h1.5v11h-1.5M362,306h1.5v5h-1.5M362,317h1.5v5h-1.5M362,333h1.5v6h-1.5M362,344h1.5v6h-1.5M363.5,262h1.5v22h-1.5M363.5,311h1.5v6h-1.5M363.5,328h1.5v5h-1.5M363.5,339h1.5v5h-1.5M365,322h1.5v6h-1.5M365,344h1.5v6h-1.5M366.5,267h1.5v6h-1.5M366.5,328h1.5v5h-1.5M366.5,344h1.5v11h-1.5M366.5,372h1.5v5h-1.5M368,245h1.5v6h-1.5M368,328h1.5v5h-1.5M368,339h1.5v11h-1.5M368,361h1.5v5h-1.5M368,372h1.5v11h-1.5M369.5,295h1.5v11h-1.5M369.5,317h1.5v5h-1.5M369.5,333h1.5v6h-1.5M369.5,350h1.5v11h-1.5M369.5,366h1.5v6h-1.5M369.5,394h1.5v5h-1.5M371,251h1.5v5h-1.5M371,295h1.5v16h-1.5M371,317h1.5v5h-1.5M372.5,228h1.5v6h-1.5M372.5,278h1.5v11h-1.5M372.5,306h1.5v16h-1.5M372.5,333h1.5v22h-1.5M372.5,372h1.5v5h-1.5M374,284h1.5v5h-1.5M374,311h1.5v6h-1.5M374,328h1.5v5h-1.5M374,361h1.5v5h-1.5M374,383h1.5v5h-1.5M374,394h1.5v5h-1.5M375.5,267h1.5v6h-1.5M375.5,284h1.5v5h-1.5M375.5,317h1.5v5h-1.5M375.5,344h1.5v6h-1.5M375.5,383h1.5v11h-1.5M375.5,399h1.5v6h-1.5M377,267h1.5v6h-1.5M377,278h1.5v6h-1.5M377,295h1.5v5h-1.5M377,361h1.5v5h-1.5M377,383h1.5v5h-1.5M377,394h1.5v11h-1.5M378.5,256h1.5v6h-1.5M378.5,273h1.5v5h-1.5M378.5,284h1.5v5h-1.5M378.5,355h1.5v17h-1.5M378.5,399h1.5v6h-1.5M380,399h1.5v6h-1.5M381.5,394h1.5v5h-1.5M383,245h1.5v11h-1.5M383,273h1.5v5h-1.5M383,300h1.5v17h-1.5M383,350h1.5v5h-1.5M383,361h1.5v11h-1.5M384.5,267h1.5v6h-1.5M384.5,278h1.5v6h-1.5M384.5,399h1.5v6h-1.5M386,256h1.5v6h-1.5M386,273h1.5v16h-1.5M386,355h1.5v6h-1.5M386,366h1.5v6h-1.5M386,377h1.5v6h-1.5M386,394h1.5v5h-1.5M387.5,228h1.5v6h-1.5M387.5,262h1.5v5h-1.5M387.5,289h1.5v11h-1.5M387.5,317h1.5v5h-1.5M389,240h1.5v5h-1.5M389,262h1.5v5h-1.5M389,295h1.5v5h-1.5M389,311h1.5v11h-1.5M389,339h1.5v5h-1.5M389,350h1.5v11h-1.5M389,366h1.5v6h-1.5M390.5,223h1.5v5h-1.5M390.5,262h1.5v5h-1.5M390.5,311h1.5v11h-1.5M390.5,339h1.5v11h-1.5M390.5,355h1.5v6h-1.5M392,256h1.5v6h-1.5M392,355h1.5v6h-1.5M392,372h1.5v5h-1.5M392,399h1.5v6h-1.5M393.5,394h1.5v11h-1.5M395,234h1.5v6h-1.5M395,278h1.5v6h-1.5M395,377h1.5v6h-1.5M396.5,228h1.5v23h-1.5M396.5,262h1.5v5h-1.5M396.5,273h1.5v5h-1.5M396.5,284h1.5v11h-1.5M396.5,300h1.5v6h-1.5M396.5,311h1.5v6h-1.5M396.5,339h1.5v11h-1.5M398,228h1.5v6h-1.5M398,245h1.5v6h-1.5M398,306h1.5v11h-1.5M398,328h1.5v5h-1.5M398,339h1.5v5h-1.5M401,240h1.5v11h-1.5M401,262h1.5v16h-1.5M401,300h1.5v6h-1.5M401,328h1.5v5h-1.5M401,344h1.5v6h-1.5M402.5,245h1.5v6h-1.5M402.5,262h1.5v5h-1.5M402.5,273h1.5v5h-1.5M402.5,284h1.5v11h-1.5M402.5,322h1.5v6h-1.5M404,234h1.5v17h-1.5M404,256h1.5v6h-1.5M404,267h1.5v6h-1.5M404,295h1.5v5h-1.5M404,306h1.5v44h-1.5M405.5,251h1.5v5h-1.5M405.5,267h1.5v6h-1.5M405.5,284h1.5v5h-1.5M405.5,295h1.5v5h-1.5M405.5,328h1.5v5h-1.5M407,245h1.5v6h-1.5M407,289h1.5v6h-1.5M407,300h1.5v6h-1.5M407,339h1.5v11h-1.5M408.5,245h1.5v6h-1.5M408.5,262h1.5v11h-1.5M408.5,300h1.5v6h-1.5M408.5,311h1.5v6h-1.5M408.5,333h1.5v6h-1.5M410,256h1.5v11h-1.5M410,289h1.5v6h-1.5M410,333h1.5v6h-1.5M411.5,240h1.5v5h-1.5M411.5,256h1.5v17h-1.5M411.5,289h1.5v11h-1.5M411.5,333h1.5v6h-1.5M413,256h1.5v6h-1.5M413,273h1.5v5h-1.5M413,284h1.5v5h-1.5M413,295h1.5v5h-1.5M413,306h1.5v5h-1.5M413,322h1.5v6h-1.5M413,339h1.5v11h-1.5M414.5,251h1.5v16h-1.5M414.5,289h1.5v6h-1.5M414.5,322h1.5v6h-1.5M414.5,333h1.5v6h-1.5M416,251h1.5v11h-1.5M416,267h1.5v6h-1.5M416,289h1.5v11h-1.5M416,306h1.5v5h-1.5M416,339h1.5v5h-1.5M417.5,295h1.5v5h-1.5M419,256h1.5v6h-1.5M419,267h1.5v6h-1.5M419,284h1.5v5h-1.5M419,306h1.5v5h-1.5M419,333h1.5v6h-1.5M420.5,267h1.5v11h-1.5M420.5,289h1.5v6h-1.5M420.5,300h1.5v6h-1.5M420.5,322h1.5v6h-1.5M422,217h1.5v11h-1.5M422,234h1.5v6h-1.5M422,295h1.5v5h-1.5M422,306h1.5v5h-1.5M423.5,256h1.5v6h-1.5M423.5,273h1.5v5h-1.5M423.5,295h1.5v5h-1.5M423.5,306h1.5v5h-1.5M425,251h1.5v5h-1.5M425,300h1.5v6h-1.5M425,317h1.5v5h-1.5M425,328h1.5v11h-1.5M426.5,256h1.5v11h-1.5M426.5,273h1.5v5h-1.5M426.5,284h1.5v5h-1.5M426.5,300h1.5v11h-1.5M426.5,317h1.5v11h-1.5M428,240h1.5v11h-1.5M428,256h1.5v6h-1.5M428,267h1.5v6h-1.5M428,278h1.5v6h-1.5M428,289h1.5v6h-1.5M428,317h1.5v5h-1.5M429.5,228h1.5v6h-1.5M429.5,251h1.5v5h-1.5M429.5,262h1.5v5h-1.5M429.5,273h1.5v5h-1.5M429.5,284h1.5v5h-1.5M429.5,306h1.5v5h-1.5M429.5,317h1.5v5h-1.5M431,234h1.5v6h-1.5M431,262h1.5v22h-1.5M431,317h1.5v5h-1.5M432.5,223h1.5v17h-1.5M432.5,289h1.5v6h-1.5M432.5,317h1.5v5h-1.5M434,262h1.5v5h-1.5M434,317h1.5v11h-1.5M435.5,322h1.5v6h-1.5M435.5,355h1.5v6h-1.5M438.5,322h1.5v11h-1.5M438.5,372h1.5v11h-1.5M440,361h1.5v5h-1.5M440,372h1.5v11h-1.5M440,388h1.5v6h-1.5M440,399h1.5v6h-1.5M441.5,322h1.5v6h-1.5M441.5,333h1.5v6h-1.5M441.5,366h1.5v11h-1.5M441.5,383h1.5v5h-1.5M441.5,399h1.5v6h-1.5M443,388h1.5v6h-1.5M444.5,256h1.5v6h-1.5M444.5,322h1.5v6h-1.5M444.5,383h1.5v5h-1.5M444.5,394h1.5v5h-1.5M446,256h1.5v6h-1.5M446,306h1.5v5h-1.5M446,322h1.5v6h-1.5M446,383h1.5v5h-1.5M447.5,317h1.5v11h-1.5M447.5,372h1.5v11h-1.5M449,328h1.5v5h-1.5M449,377h1.5v6h-1.5M449,394h1.5v11h-1.5M450.5,333h1.5v6h-1.5M450.5,361h1.5v5h-1.5M450.5,377h1.5v6h-1.5M450.5,394h1.5v11h-1.5M452,328h1.5v5h-1.5M452,377h1.5v6h-1.5M452,388h1.5v6h-1.5M453.5,317h1.5v5h-1.5M453.5,399h1.5v6h-1.5M455,333h1.5v6h-1.5M455,361h1.5v5h-1.5M455,372h1.5v16h-1.5M456.5,322h1.5v11h-1.5M456.5,355h1.5v6h-1.5M456.5,383h1.5v5h-1.5M456.5,399h1.5v6h-1.5M458,317h1.5v11h-1.5M458,388h1.5v11h-1.5M459.5,311h1.5v11h-1.5M459.5,328h1.5v5h-1.5M461,344h1.5v6h-1.5M461,366h1.5v22h-1.5M462.5,284h1.5v11h-1.5M462.5,317h1.5v11h-1.5M462.5,377h1.5v6h-1.5M464,289h1.5v11h-1.5M464,317h1.5v5h-1.5M465.5,311h1.5v6h-1.5M467,273h1.5v5h-1.5M467,317h1.5v11h-1.5M468.5,273h1.5v5h-1.5M468.5,300h1.5v6h-1.5M468.5,311h1.5v6h-1.5M470,245h1.5v6h-1.5M470,289h1.5v11h-1.5M471.5,267h1.5v11h-1.5M471.5,317h1.5v11h-1.5M473,251h1.5v5h-1.5M473,262h1.5v5h-1.5M473,278h1.5v6h-1.5M474.5,245h1.5v6h-1.5M474.5,284h1.5v5h-1.5M476,234h1.5v11h-1.5M476,289h1.5v11h-1.5M477.5,240h1.5v5h-1.5M477.5,251h1.5v5h-1.5M477.5,267h1.5v28h-1.5M477.5,300h1.5v6h-1.5M479,278h1.5v6h-1.5M479,295h1.5v11h-1.5M479,328h1.5v5h-1.5M479,339h1.5v5h-1.5M480.5,245h1.5v17h-1.5M480.5,267h1.5v6h-1.5M480.5,306h1.5v5h-1.5M482,256h1.5v6h-1.5M482,295h1.5v5h-1.5M482,311h1.5v6h-1.5M482,322h1.5v6h-1.5M482,372h1.5v5h-1.5M483.5,256h1.5v11h-1.5M483.5,273h1.5v5h-1.5M483.5,289h1.5v6h-1.5M483.5,377h1.5v6h-1.5M485,234h1.5v6h-1.5M485,245h1.5v6h-1.5M485,256h1.5v11h-1.5M485,289h1.5v6h-1.5M485,306h1.5v5h-1.5M486.5,245h1.5v11h-1.5M486.5,311h1.5v11h-1.5M486.5,333h1.5v6h-1.5M488,273h1.5v5h-1.5M488,322h1.5v6h-1.5M488,333h1.5v6h-1.5M488,350h1.5v5h-1.5M488,372h1.5v5h-1.5M488,388h1.5v6h-1.5M489.5,262h1.5v5h-1.5M489.5,278h1.5v6h-1.5M489.5,289h1.5v22h-1.5M489.5,317h1.5v5h-1.5M489.5,333h1.5v6h-1.5M489.5,344h1.5v6h-1.5M489.5,355h1.5v6h-1.5M491,262h1.5v22h-1.5M491,295h1.5v5h-1.5M491,322h1.5v6h-1.5M491,333h1.5v6h-1.5M491,344h1.5v11h-1.5M492.5,251h1.5v5h-1.5M492.5,267h1.5v6h-1.5M492.5,284h1.5v5h-1.5M494,251h1.5v5h-1.5M494,262h1.5v5h-1.5M494,295h1.5v5h-1.5M494,306h1.5v5h-1.5M495.5,245h1.5v6h-1.5M495.5,262h1.5v11h-1.5M495.5,289h1.5v6h-1.5M495.5,300h1.5v6h-1.5M495.5,322h1.5v6h-1.5M495.5,333h1.5v6h-1.5M497,245h1.5v17h-1.5M497,278h1.5v6h-1.5M497,289h1.5v6h-1.5M497,300h1.5v17h-1.5M497,344h1.5v6h-1.5M498.5,245h1.5v11h-1.5M498.5,267h1.5v6h-1.5M498.5,289h1.5v6h-1.5M498.5,306h1.5v5h-1.5M498.5,339h1.5v5h-1.5M500,256h1.5v6h-1.5M500,278h1.5v11h-1.5M500,328h1.5v5h-1.5M501.5,256h1.5v6h-1.5M503,245h1.5v17h-1.5M503,295h1.5v11h-1.5M503,350h1.5v5h-1.5M504.5,240h1.5v22h-1.5M504.5,267h1.5v6h-1.5M504.5,295h1.5v11h-1.5M506,228h1.5v23h-1.5M506,256h1.5v6h-1.5M507.5,228h1.5v6h-1.5M507.5,245h1.5v11h-1.5M507.5,278h1.5v6h-1.5M507.5,300h1.5v6h-1.5M509,262h1.5v5h-1.5M509,273h1.5v11h-1.5M509,289h1.5v6h-1.5M509,300h1.5v11h-1.5M509,355h1.5v11h-1.5M510.5,262h1.5v16h-1.5M510.5,289h1.5v11h-1.5M510.5,306h1.5v5h-1.5M510.5,366h1.5v11h-1.5M512,289h1.5v11h-1.5M512,344h1.5v17h-1.5M512,377h1.5v6h-1.5M512,388h1.5v6h-1.5M512,399h1.5v6h-1.5M513.5,295h1.5v5h-1.5M513.5,377h1.5v6h-1.5M513.5,388h1.5v6h-1.5M513.5,399h1.5v6h-1.5M515,333h1.5v6h-1.5M515,377h1.5v6h-1.5M515,388h1.5v6h-1.5M515,399h1.5v6h-1.5M516.5,267h1.5v6h-1.5M516.5,278h1.5v6h-1.5M516.5,306h1.5v5h-1.5M516.5,372h1.5v5h-1.5M518,306h1.5v5h-1.5M518,344h1.5v17h-1.5M518,366h1.5v11h-1.5M518,388h1.5v11h-1.5M519.5,289h1.5v6h-1.5M519.5,306h1.5v5h-1.5M519.5,350h1.5v5h-1.5M519.5,377h1.5v11h-1.5M519.5,399h1.5v6h-1.5M521,344h1.5v11h-1.5M521,366h1.5v11h-1.5M521,383h1.5v5h-1.5M521,394h1.5v11h-1.5M522.5,284h1.5v5h-1.5M522.5,306h1.5v5h-1.5M522.5,344h1.5v6h-1.5M522.5,388h1.5v11h-1.5M524,350h1.5v5h-1.5M524,377h1.5v6h-1.5M525.5,394h1.5v11h-1.5M527,350h1.5v5h-1.5M527,383h1.5v5h-1.5M528.5,284h1.5v5h-1.5M528.5,344h1.5v6h-1.5M528.5,372h1.5v5h-1.5M528.5,388h1.5v11h-1.5M530,278h1.5v11h-1.5M530,344h1.5v6h-1.5M530,377h1.5v6h-1.5M530,399h1.5v6h-1.5M531.5,284h1.5v5h-1.5M531.5,361h1.5v5h-1.5M531.5,394h1.5v11h-1.5M533,344h1.5v6h-1.5M533,388h1.5v11h-1.5M534.5,300h1.5v6h-1.5M534.5,339h1.5v5h-1.5M536,300h1.5v6h-1.5M536,399h1.5v6h-1.5M540.5,300h1.5v6h-1.5M542,284h1.5v5h-1.5M542,339h1.5v11h-1.5M542,394h1.5v11h-1.5M543.5,278h1.5v6h-1.5M543.5,339h1.5v11h-1.5M543.5,394h1.5v11h-1.5M545,278h1.5v6h-1.5M545,399h1.5v6h-1.5M546.5,273h1.5v5h-1.5M546.5,339h1.5v11h-1.5M546.5,394h1.5v5h-1.5M548,273h1.5v16h-1.5M548,333h1.5v22h-1.5M548,388h1.5v6h-1.5M549.5,399h1.5v6h-1.5M551,333h1.5v6h-1.5M552.5,289h1.5v6h-1.5M554,377h1.5v6h-1.5M554,394h1.5v5h-1.5M555.5,278h1.5v11h-1.5M555.5,339h1.5v5h-1.5M557,339h1.5v16h-1.5M558.5,344h1.5v11h-1.5M561.5,339h1.5v5h-1.5M561.5,350h1.5v5h-1.5M561.5,394h1.5v5h-1.5M563,284h1.5v11h-1.5M564.5,278h1.5v6h-1.5M564.5,339h1.5v16h-1.5M566,300h1.5v6h-1.5M567.5,344h1.5v6h-1.5M567.5,399h1.5v6h-1.5M569,278h1.5v6h-1.5M569,339h1.5v5h-1.5M569,350h1.5v5h-1.5M570.5,333h1.5v6h-1.5M572,284h1.5v5h-1.5M572,339h1.5v16h-1.5M572,394h1.5v5h-1.5M573.5,339h1.5v5h-1.5M573.5,350h1.5v11h-1.5M573.5,394h1.5v5h-1.5M575,295h1.5v5h-1.5M575,333h1.5v6h-1.5M576.5,284h1.5v5h-1.5M576.5,344h1.5v6h-1.5M578,300h1.5v6h-1.5M578,339h1.5v5h-1.5M578,350h1.5v11h-1.5M579.5,273h1.5v11h-1.5M579.5,344h1.5v6h-1.5M579.5,355h1.5v6h-1.5M581,339h1.5v5h-1.5M581,355h1.5v6h-1.5M581,366h1.5v6h-1.5M581,383h1.5v11h-1.5M581,399h1.5v6h-1.5M582.5,278h1.5v6h-1.5M582.5,350h1.5v5h-1.5M582.5,377h1.5v22h-1.5M584,278h1.5v6h-1.5M584,339h1.5v22h-1.5M584,388h1.5v6h-1.5M585.5,278h1.5v6h-1.5M585.5,339h1.5v11h-1.5M585.5,361h1.5v11h-1.5M585.5,388h1.5v6h-1.5M587,366h1.5v6h-1.5M587,383h1.5v11h-1.5M588.5,273h1.5v11h-1.5M588.5,366h1.5v17h-1.5M588.5,399h1.5v6h-1.5M590,273h1.5v11h-1.5M590,344h1.5v6h-1.5M590,361h1.5v5h-1.5M590,383h1.5v5h-1.5M590,394h1.5v11h-1.5M591.5,284h1.5v5h-1.5M591.5,333h1.5v6h-1.5M591.5,361h1.5v5h-1.5M593,339h1.5v11h-1.5M593,355h1.5v11h-1.5M593,372h1.5v5h-1.5M593,383h1.5v11h-1.5M593,399h1.5v6h-1.5M594.5,278h1.5v6h-1.5M594.5,350h1.5v5h-1.5M594.5,361h1.5v5h-1.5M594.5,372h1.5v11h-1.5M596,339h1.5v27h-1.5M596,383h1.5v11h-1.5M596,399h1.5v6h-1.5M597.5,339h1.5v5h-1.5M597.5,355h1.5v6h-1.5M597.5,366h1.5v22h-1.5M597.5,394h1.5v5h-1.5M599,256h1.5v6h-1.5M599,273h1.5v11h-1.5M600.5,339h1.5v5h-1.5M600.5,361h1.5v11h-1.5M600.5,377h1.5v6h-1.5M600.5,388h1.5v11h-1.5M602,361h1.5v11h-1.5M602,383h1.5v5h-1.5M602,394h1.5v5h-1.5M603.5,273h1.5v5h-1.5M603.5,361h1.5v5h-1.5M605,278h1.5v6h-1.5M605,350h1.5v22h-1.5M605,377h1.5v6h-1.5M605,394h1.5v5h-1.5M606.5,350h1.5v16h-1.5M606.5,372h1.5v27h-1.5M608,273h1.5v5h-1.5M608,355h1.5v6h-1.5M608,372h1.5v5h-1.5M609.5,278h1.5v6h-1.5M609.5,355h1.5v33h-1.5M609.5,394h1.5v5h-1.5M611,273h1.5v5h-1.5M611,350h1.5v5h-1.5M611,361h1.5v16h-1.5M611,388h1.5v6h-1.5M611,399h1.5v6h-1.5M612.5,372h1.5v16h-1.5M612.5,394h1.5v5h-1.5M614,278h1.5v6h-1.5M614,344h1.5v28h-1.5M614,377h1.5v11h-1.5M615.5,273h1.5v11h-1.5M615.5,350h1.5v16h-1.5M615.5,372h1.5v5h-1.5M617,350h1.5v5h-1.5M617,361h1.5v22h-1.5M618.5,273h1.5v5h-1.5M618.5,344h1.5v6h-1.5M618.5,355h1.5v17h-1.5M618.5,377h1.5v11h-1.5M618.5,399h1.5v6h-1.5M620,344h1.5v6h-1.5M620,355h1.5v28h-1.5M621.5,273h1.5v11h-1.5M621.5,344h1.5v11h-1.5M621.5,366h1.5v6h-1.5M623,284h1.5v5h-1.5M623,344h1.5v11h-1.5M623,366h1.5v6h-1.5M624.5,273h1.5v5h-1.5M624.5,361h1.5v5h-1.5M624.5,372h1.5v5h-1.5M626,273h1.5v5h-1.5M626,350h1.5v5h-1.5M626,361h1.5v22h-1.5M626,399h1.5v6h-1.5M627.5,344h1.5v6h-1.5M627.5,355h1.5v6h-1.5M627.5,372h1.5v5h-1.5M627.5,399h1.5v6h-1.5M629,350h1.5v5h-1.5M630.5,339h1.5v5h-1.5M630.5,355h1.5v11h-1.5M632,262h1.5v5h-1.5M632,372h1.5v5h-1.5M633.5,355h1.5v6h-1.5M633.5,366h1.5v6h-1.5M635,366h1.5v6h-1.5M635,383h1.5v11h-1.5M636.5,339h1.5v11h-1.5M638,273h1.5v5h-1.5M638,344h1.5v6h-1.5M639.5,344h1.5v6h-1.5M639.5,399h1.5v6h-1.5M641,350h1.5v11h-1.5M642.5,350h1.5v5h-1.5M647,317h1.5v5h-1.5M647,333h1.5v11h-1.5M648.5,240h1.5v5h-1.5M648.5,262h1.5v5h-1.5M648.5,339h1.5v5h-1.5M650,251h1.5v5h-1.5M650,339h1.5v5h-1.5M651.5,273h1v5h-1M651.5,339h1v5h-1"/>
<path fill="#5af00a" d="M150.5,228h1.5v6h-1.5M152,173h1.5v6h-1.5M152,190h1.5v16h-1.5M152,251h1.5v5h-1.5M152,284h1.5v5h-1.5M152,300h1.5v11h-1.5M153.5,179h1.5v11h-1.5M153.5,195h1.5v6h-1.5M153.5,228h1.5v6h-1.5M153.5,278h1.5v17h-1.5M155,168h1.5v5h-1.5M155,190h1.5v5h-1.5M155,306h1.5v5h-1.5M155,328h1.5v11h-1.5M156.5,184h1.5v6h-1.5M156.5,295h1.5v5h-1.5M156.5,322h1.5v6h-1.5M156.5,333h1.5v6h-1.5M156.5,394h1.5v11h-1.5M158,173h1.5v6h-1.5M158,184h1.5v6h-1.5M158,306h1.5v5h-1.5M158,317h1.5v5h-1.5M158,333h1.5v6h-1.5M158,350h1.5v5h-1.5M158,361h1.5v5h-1.5M158,372h1.5v5h-1.5M158,383h1.5v5h-1.5M159.5,157h1.5v5h-1.5M159.5,311h1.5v6h-1.5M159.5,322h1.5v6h-1.5M159.5,350h1.5v5h-1.5M159.5,366h1.5v6h-1.5M159.5,388h1.5v6h-1.5M161,184h1.5v6h-1.5M161,322h1.5v17h-1.5M161,366h1.5v6h-1.5M161,383h1.5v16h-1.5M162.5,162h1.5v6h-1.5M164,162h1.5v11h-1.5M165.5,151h1.5v11h-1.5M165.5,168h1.5v5h-1.5M167,168h1.5v5h-1.5M167,179h1.5v5h-1.5M167,190h1.5v5h-1.5M167,317h1.5v5h-1.5M167,328h1.5v5h-1.5M168.5,173h1.5v6h-1.5M168.5,195h1.5v6h-1.5M168.5,212h1.5v5h-1.5M168.5,228h1.5v6h-1.5M168.5,240h1.5v11h-1.5M168.5,278h1.5v6h-1.5M168.5,311h1.5v11h-1.5M170,173h1.5v6h-1.5M170,190h1.5v5h-1.5M170,217h1.5v6h-1.5M170,256h1.5v6h-1.5M170,273h1.5v5h-1.5M170,284h1.5v11h-1.5M170,311h1.5v11h-1.5M171.5,74h1.5v6h-1.5M171.5,217h1.5v6h-1.5M171.5,245h1.5v17h-1.5M173,74h1.5v6h-1.5M173,91h1.5v5h-1.5M173,151h1.5v17h-1.5M173,190h1.5v22h-1.5M173,223h1.5v11h-1.5M173,240h1.5v11h-1.5M173,273h1.5v11h-1.5M174.5,74h1.5v6h-1.5M174.5,151h1.5v11h-1.5M174.5,212h1.5v5h-1.5M174.5,262h1.5v11h-1.5M174.5,278h1.5v6h-1.5M174.5,295h1.5v5h-1.5M176,69h1.5v5h-1.5M176,151h1.5v6h-1.5M176,190h1.5v5h-1.5M176,206h1.5v6h-1.5M176,217h1.5v6h-1.5M176,228h1.5v12h-1.5M176,245h1.5v17h-1.5M176,273h1.5v5h-1.5M176,306h1.5v5h-1.5M177.5,162h1.5v6h-1.5M177.5,256h1.5v6h-1.5M177.5,267h1.5v6h-1.5M177.5,278h1.5v6h-1.5M177.5,289h1.5v17h-1.5M179,69h1.5v5h-1.5M179,96h1.5v6h-1.5M179,179h1.5v16h-1.5M179,223h1.5v5h-1.5M179,251h1.5v5h-1.5M179,267h1.5v11h-1.5M179,295h1.5v5h-1.5M179,328h1.5v5h-1.5M180.5,58h1.5v5h-1.5M180.5,173h1.5v6h-1.5M180.5,184h1.5v6h-1.5M180.5,195h1.5v11h-1.5M180.5,234h1.5v6h-1.5M180.5,245h1.5v17h-1.5M180.5,267h1.5v6h-1.5M180.5,284h1.5v5h-1.5M180.5,306h1.5v5h-1.5M182,179h1.5v11h-1.5M182,217h1.5v6h-1.5M182,245h1.5v6h-1.5M182,267h1.5v17h-1.5M182,306h1.5v5h-1.5M182,317h1.5v11h-1.5M183.5,58h1.5v5h-1.5M183.5,69h1.5v5h-1.5M183.5,96h1.5v6h-1.5M183.5,157h1.5v11h-1.5M183.5,173h1.5v17h-1.5M183.5,195h1.5v17h-1.5M183.5,311h1.5v11h-1.5M185,58h1.5v5h-1.5M185,96h1.5v6h-1.5M185,146h1.5v11h-1.5M185,162h1.5v11h-1.5M185,184h1.5v11h-1.5M185,212h1.5v5h-1.5M185,278h1.5v6h-1.5M185,289h1.5v6h-1.5M185,311h1.5v6h-1.5M185,322h1.5v6h-1.5M186.5,63h1.5v6h-1.5M186.5,162h1.5v6h-1.5M186.5,184h1.5v17h-1.5M186.5,217h1.5v6h-1.5M186.5,228h1.5v6h-1.5M186.5,278h1.5v6h-1.5M186.5,289h1.5v11h-1.5M186.5,306h1.5v11h-1.5M188,63h1.5v11h-1.5M188,96h1.5v6h-1.5M188,201h1.5v5h-1.5M188,245h1.5v11h-1.5M188,267h1.5v6h-1.5M188,278h1.5v6h-1.5M188,295h1.5v5h-1.5M188,333h1.5v6h-1.5M189.5,267h1.5v6h-1.5M191,58h1.5v5h-1.5M191,91h1.5v11h-1.5M191,173h1.5v6h-1.5M191,256h1.5v6h-1.5M191,350h1.5v16h-1.5M191,372h1.5v5h-1.5M191,383h1.5v5h-1.5M192.5,91h1.5v5h-1.5M192.5,366h1.5v6h-1.5M192.5,399h1.5v6h-1.5M194,190h1.5v11h-1.5M194,339h1.5v5h-1.5M194,361h1.5v5h-1.5M195.5,206h1.5v6h-1.5M195.5,317h1.5v5h-1.5M195.5,361h1.5v5h-1.5M195.5,372h1.5v5h-1.5M195.5,399h1.5v6h-1.5M197,91h1.5v5h-1.5M197,388h1.5v6h-1.5M198.5,74h1.5v6h-1.5M198.5,91h1.5v5h-1.5M200,74h1.5v11h-1.5M200,394h1.5v5h-1.5M201.5,74h1.5v6h-1.5M201.5,91h1.5v5h-1.5M201.5,179h1.5v16h-1.5M201.5,377h1.5v6h-1.5M203,85h1.5v6h-1.5M203,173h1.5v6h-1.5M203,184h1.5v6h-1.5M206,383h1.5v5h-1.5M210.5,85h1.5v6h-1.5M210.5,190h1.5v5h-1.5M215,80h1.5v5h-1.5M227,366h1.5v6h-1.5M228.5,284h1.5v5h-1.5M233,80h1.5v5h-1.5M240.5,80h1.5v5h-1.5M246.5,80h1.5v5h-1.5M248,80h1.5v5h-1.5M275,80h1.5v5h-1.5M306.5,85h1.5v6h-1.5M312.5,80h1.5v11h-1.5M317,399h1.5v6h-1.5M320,80h1.5v5h-1.5M320,245h1.5v6h-1.5M320,256h1.5v6h-1.5M320,366h1.5v6h-1.5M320,394h1.5v5h-1.5M324.5,240h1.5v5h-1.5M324.5,273h1.5v5h-1.5M324.5,350h1.5v5h-1.5M326,190h1.5v5h-1.5M326,228h1.5v6h-1.5M326,289h1.5v6h-1.5M326,344h1.5v17h-1.5M326,399h1.5v6h-1.5M327.5,201h1.5v11h-1.5M327.5,228h1.5v6h-1.5M327.5,273h1.5v11h-1.5M327.5,289h1.5v6h-1.5M327.5,339h1.5v5h-1.5M327.5,399h1.5v6h-1.5M329,190h1.5v5h-1.5M329,212h1.5v5h-1.5M329,240h1.5v5h-1.5M329,350h1.5v5h-1.5M329,399h1.5v6h-1.5M330.5,240h1.5v5h-1.5M330.5,251h1.5v11h-1.5M330.5,278h1.5v6h-1.5M330.5,289h1.5v6h-1.5M330.5,333h1.5v6h-1.5M330.5,355h1.5v11h-1.5M330.5,388h1.5v17h-1.5M332,240h1.5v5h-1.5M332,267h1.5v11h-1.5M332,284h1.5v5h-1.5M332,311h1.5v11h-1.5M332,328h1.5v5h-1.5M332,344h1.5v6h-1.5M332,355h1.5v6h-1.5M332,372h1.5v11h-1.5M332,388h1.5v6h-1.5M332,399h1.5v6h-1.5M333.5,234h1.5v6h-1.5M333.5,284h1.5v5h-1.5M333.5,300h1.5v17h-1.5M333.5,328h1.5v5h-1.5M333.5,388h1.5v6h-1.5M335,240h1.5v5h-1.5M335,273h1.5v5h-1.5M336.5,234h1.5v6h-1.5M336.5,278h1.5v6h-1.5M338,228h1.5v17h-1.5M338,278h1.5v6h-1.5M339.5,228h1.5v6h-1.5M339.5,256h1.5v11h-1.5M341,273h1.5v5h-1.5M342.5,234h1.5v6h-1.5M344,212h1.5v5h-1.5M344,234h1.5v6h-1.5M345.5,240h1.5v11h-1.5M345.5,273h1.5v5h-1.5M347,262h1.5v5h-1.5M347,278h1.5v6h-1.5M347,306h1.5v5h-1.5M348.5,284h1.5v5h-1.5M350,251h1.5v5h-1.5M350,262h1.5v5h-1.5M350,289h1.5v6h-1.5M350,300h1.5v6h-1.5M350,311h1.5v22h-1.5M350,339h1.5v11h-1.5M351.5,245h1.5v6h-1.5M351.5,273h1.5v11h-1.5M351.5,322h1.5v6h-1.5M351.5,333h1.5v6h-1.5M351.5,355h1.5v6h-1.5M353,251h1.5v5h-1.5M353,267h1.5v6h-1.5M353,300h1.5v6h-1.5M353,311h1.5v6h-1.5M353,355h1.5v6h-1.5M353,377h1.5v6h-1.5M353,388h1.5v17h-1.5M354.5,245h1.5v6h-1.5M354.5,262h1.5v5h-1.5M354.5,300h1.5v6h-1.5M354.5,322h1.5v11h-1.5M354.5,399h1.5v6h-1.5M356,228h1.5v12h-1.5M356,251h1.5v5h-1.5M356,289h1.5v11h-1.5M356,311h1.5v6h-1.5M356,350h1.5v5h-1.5M357.5,355h1.5v6h-1.5M357.5,377h1.5v6h-1.5M360.5,311h1.5v6h-1.5M360.5,328h1.5v16h-1.5M360.5,355h1.5v11h-1.5M360.5,383h1.5v5h-1.5M360.5,394h1.5v5h-1.5M362,284h1.5v5h-1.5M362,311h1.5v6h-1.5M362,328h1.5v5h-1.5M362,350h1.5v5h-1.5M362,366h1.5v6h-1.5M362,377h1.5v11h-1.5M362,394h1.5v5h-1.5M363.5,251h1.5v5h-1.5M363.5,317h1.5v11h-1.5M363.5,333h1.5v6h-1.5M363.5,344h1.5v22h-1.5M363.5,372h1.5v11h-1.5M365,317h1.5v5h-1.5M365,328h1.5v5h-1.5M365,366h1.5v6h-1.5M365,383h1.5v11h-1.5M366.5,256h1.5v6h-1.5M366.5,317h1.5v11h-1.5M366.5,333h1.5v6h-1.5M366.5,377h1.5v6h-1.5M368,295h1.5v5h-1.5M368,322h1.5v6h-1.5M368,350h1.5v5h-1.5M368,388h1.5v11h-1.5M369.5,339h1.5v5h-1.5M369.5,383h1.5v11h-1.5M371,245h1.5v6h-1.5M371,256h1.5v6h-1.5M371,284h1.5v5h-1.5M371,311h1.5v6h-1.5M371,328h1.5v5h-1.5M371,344h1.5v6h-1.5M371,355h1.5v11h-1.5M371,372h1.5v5h-1.5M372.5,256h1.5v11h-1.5M372.5,273h1.5v5h-1.5M372.5,328h1.5v5h-1.5M372.5,355h1.5v11h-1.5M372.5,383h1.5v11h-1.5M372.5,399h1.5v6h-1.5M374,388h1.5v6h-1.5M375.5,361h1.5v5h-1.5M375.5,394h1.5v5h-1.5M377,372h1.5v11h-1.5M378.5,262h1.5v5h-1.5M378.5,372h1.5v5h-1.5M378.5,388h1.5v11h-1.5M383,278h1.5v11h-1.5M383,322h1.5v6h-1.5M383,372h1.5v16h-1.5M383,399h1.5v6h-1.5M384.5,273h1.5v5h-1.5M384.5,361h1.5v5h-1.5M384.5,383h1.5v11h-1.5M386,383h1.5v11h-1.5M386,399h1.5v6h-1.5M387.5,256h1.5v6h-1.5M387.5,284h1.5v5h-1.5M387.5,366h1.5v6h-1.5M387.5,377h1.5v6h-1.5M389,234h1.5v6h-1.5M389,251h1.5v11h-1.5M389,278h1.5v11h-1.5M389,361h1.5v5h-1.5M389,372h1.5v11h-1.5M389,394h1.5v11h-1.5M390.5,234h1.5v6h-1.5M390.5,289h1.5v6h-1.5M390.5,300h1.5v6h-1.5M392,383h1.5v5h-1.5M393.5,361h1.5v11h-1.5M393.5,383h1.5v11h-1.5M395,366h1.5v11h-1.5M395,388h1.5v11h-1.5M396.5,256h1.5v6h-1.5M396.5,278h1.5v6h-1.5M396.5,355h1.5v17h-1.5M398,251h1.5v5h-1.5M398,278h1.5v11h-1.5M398,295h1.5v11h-1.5M398,322h1.5v6h-1.5M398,333h1.5v6h-1.5M398,350h1.5v11h-1.5M398,366h1.5v6h-1.5M399.5,366h1.5v6h-1.5M399.5,383h1.5v16h-1.5M401,278h1.5v11h-1.5M401,306h1.5v5h-1.5M401,333h1.5v11h-1.5M401,355h1.5v11h-1.5M402.5,355h1.5v17h-1.5M402.5,399h1.5v6h-1.5M404,251h1.5v5h-1.5M404,262h1.5v5h-1.5M404,273h1.5v22h-1.5M404,355h1.5v11h-1.5M405.5,278h1.5v6h-1.5M405.5,355h1.5v11h-1.5M405.5,377h1.5v6h-1.5M407,262h1.5v16h-1.5M407,306h1.5v5h-1.5M407,350h1.5v5h-1.5M408.5,234h1.5v6h-1.5M408.5,251h1.5v5h-1.5M408.5,289h1.5v6h-1.5M408.5,328h1.5v5h-1.5M408.5,344h1.5v6h-1.5M410,245h1.5v6h-1.5M410,267h1.5v17h-1.5M410,295h1.5v5h-1.5M410,306h1.5v11h-1.5M410,339h1.5v11h-1.5M411.5,273h1.5v16h-1.5M411.5,317h1.5v5h-1.5M411.5,339h1.5v11h-1.5M413,251h1.5v5h-1.5M413,289h1.5v6h-1.5M413,300h1.5v6h-1.5M413,317h1.5v5h-1.5M414.5,273h1.5v5h-1.5M414.5,295h1.5v11h-1.5M414.5,317h1.5v5h-1.5M414.5,339h1.5v5h-1.5M416,262h1.5v5h-1.5M416,273h1.5v11h-1.5M416,317h1.5v5h-1.5M416,344h1.5v6h-1.5M417.5,245h1.5v11h-1.5M417.5,262h1.5v5h-1.5M417.5,278h1.5v6h-1.5M417.5,289h1.5v6h-1.5M417.5,306h1.5v5h-1.5M417.5,322h1.5v6h-1.5M419,245h1.5v11h-1.5M419,273h1.5v5h-1.5M419,289h1.5v6h-1.5M419,300h1.5v6h-1.5M419,322h1.5v6h-1.5M420.5,256h1.5v11h-1.5M420.5,278h1.5v11h-1.5M420.5,295h1.5v5h-1.5M420.5,339h1.5v5h-1.5M422,240h1.5v11h-1.5M422,284h1.5v5h-1.5M422,300h1.5v6h-1.5M422,328h1.5v5h-1.5M423.5,311h1.5v11h-1.5M423.5,333h1.5v11h-1.5M425,256h1.5v6h-1.5M425,267h1.5v6h-1.5M425,278h1.5v11h-1.5M425,311h1.5v6h-1.5M426.5,328h1.5v11h-1.5M428,262h1.5v5h-1.5M428,311h1.5v6h-1.5M428,322h1.5v11h-1.5M428,339h1.5v5h-1.5M428,355h1.5v6h-1.5M429.5,245h1.5v6h-1.5M429.5,256h1.5v6h-1.5M429.5,289h1.5v6h-1.5M429.5,311h1.5v6h-1.5M429.5,333h1.5v6h-1.5M432.5,245h1.5v11h-1.5M432.5,267h1.5v6h-1.5M432.5,278h1.5v6h-1.5M434,333h1.5v11h-1.5M434,361h1.5v22h-1.5M434,388h1.5v6h-1.5M435.5,333h1.5v6h-1.5M435.5,366h1.5v11h-1.5M435.5,383h1.5v11h-1.5M437,317h1.5v16h-1.5M437,339h1.5v5h-1.5M437,377h1.5v11h-1.5M438.5,333h1.5v6h-1.5M440,355h1.5v6h-1.5M440,383h1.5v5h-1.5M441.5,339h1.5v16h-1.5M443,372h1.5v5h-1.5M443,383h1.5v5h-1.5M443,394h1.5v11h-1.5M444.5,317h1.5v5h-1.5M446,262h1.5v5h-1.5M446,328h1.5v5h-1.5M446,399h1.5v6h-1.5M447.5,366h1.5v6h-1.5M447.5,388h1.5v6h-1.5M449,333h1.5v6h-1.5M449,388h1.5v6h-1.5M450.5,350h1.5v11h-1.5M450.5,388h1.5v6h-1.5M452,333h1.5v6h-1.5M452,383h1.5v5h-1.5M452,394h1.5v5h-1.5M453.5,273h1.5v5h-1.5M453.5,289h1.5v6h-1.5M453.5,322h1.5v6h-1.5M453.5,372h1.5v5h-1.5M453.5,394h1.5v5h-1.5M455,328h1.5v5h-1.5M455,339h1.5v11h-1.5M455,355h1.5v6h-1.5M455,388h1.5v6h-1.5M456.5,333h1.5v6h-1.5M456.5,377h1.5v6h-1.5M456.5,388h1.5v6h-1.5M458,311h1.5v6h-1.5M458,328h1.5v5h-1.5M458,361h1.5v11h-1.5M458,399h1.5v6h-1.5M459.5,322h1.5v6h-1.5M459.5,333h1.5v6h-1.5M459.5,366h1.5v6h-1.5M461,339h1.5v5h-1.5M461,350h1.5v5h-1.5M461,361h1.5v5h-1.5M462.5,273h1.5v5h-1.5M462.5,311h1.5v6h-1.5M462.5,355h1.5v6h-1.5M462.5,372h1.5v5h-1.5M462.5,399h1.5v6h-1.5M464,322h1.5v6h-1.5M464,333h1.5v6h-1.5M464,399h1.5v6h-1.5M465.5,322h1.5v11h-1.5M465.5,366h1.5v6h-1.5M465.5,377h1.5v11h-1.5M467,267h1.5v6h-1.5M467,311h1.5v6h-1.5M467,328h1.5v11h-1.5M468.5,289h1.5v6h-1.5M468.5,317h1.5v11h-1.5M470,267h1.5v6h-1.5M470,284h1.5v5h-1.5M470,311h1.5v11h-1.5M471.5,311h1.5v6h-1.5M471.5,328h1.5v5h-1.5M471.5,339h1.5v11h-1.5M473,273h1.5v5h-1.5M473,284h1.5v5h-1.5M473,317h1.5v5h-1.5M474.5,240h1.5v5h-1.5M474.5,251h1.5v11h-1.5M474.5,289h1.5v17h-1.5M474.5,317h1.5v5h-1.5M476,245h1.5v22h-1.5M476,284h1.5v5h-1.5M476,306h1.5v5h-1.5M477.5,256h1.5v6h-1.5M477.5,295h1.5v5h-1.5M477.5,311h1.5v11h-1.5M479,322h1.5v6h-1.5M479,333h1.5v6h-1.5M479,350h1.5v5h-1.5M479,361h1.5v5h-1.5M479,377h1.5v6h-1.5M479,394h1.5v5h-1.5M480.5,273h1.5v16h-1.5M480.5,361h1.5v5h-1.5M482,267h1.5v22h-1.5M482,300h1.5v11h-1.5M482,366h1.5v6h-1.5M482,377h1.5v6h-1.5M483.5,284h1.5v5h-1.5M483.5,306h1.5v5h-1.5M483.5,322h1.5v11h-1.5M483.5,355h1.5v6h-1.5M483.5,366h1.5v11h-1.5M485,251h1.5v5h-1.5M485,267h1.5v6h-1.5M485,278h1.5v11h-1.5M486.5,256h1.5v6h-1.5M486.5,273h1.5v5h-1.5M486.5,284h1.5v5h-1.5M486.5,300h1.5v6h-1.5M486.5,322h1.5v11h-1.5M486.5,339h1.5v11h-1.5M486.5,361h1.5v16h-1.5M488,328h1.5v5h-1.5M488,377h1.5v6h-1.5M488,394h1.5v11h-1.5M489.5,273h1.5v5h-1.5M489.5,284h1.5v5h-1.5M489.5,328h1.5v5h-1.5M489.5,339h1.5v5h-1.5M489.5,350h1.5v5h-1.5M489.5,366h1.5v6h-1.5M489.5,377h1.5v6h-1.5M489.5,394h1.5v11h-1.5M491,361h1.5v5h-1.5M491,383h1.5v5h-1.5M492.5,245h1.5v6h-1.5M492.5,256h1.5v11h-1.5M492.5,300h1.5v6h-1.5M492.5,311h1.5v17h-1.5M492.5,339h1.5v5h-1.5M494,245h1.5v6h-1.5M494,284h1.5v11h-1.5M494,300h1.5v6h-1.5M494,339h1.5v5h-1.5M494,350h1.5v5h-1.5M495.5,295h1.5v5h-1.5M495.5,311h1.5v11h-1.5M495.5,328h1.5v5h-1.5M497,262h1.5v5h-1.5M497,284h1.5v5h-1.5M497,317h1.5v27h-1.5M498.5,256h1.5v6h-1.5M498.5,273h1.5v5h-1.5M498.5,300h1.5v6h-1.5M498.5,328h1.5v5h-1.5M500,262h1.5v5h-1.5M500,295h1.5v5h-1.5M500,311h1.5v6h-1.5M500,344h1.5v11h-1.5M501.5,251h1.5v5h-1.5M501.5,262h1.5v5h-1.5M501.5,289h1.5v6h-1.5M501.5,306h1.5v5h-1.5M503,273h1.5v5h-1.5M503,289h1.5v6h-1.5M503,306h1.5v5h-1.5M503,317h1.5v16h-1.5M504.5,278h1.5v17h-1.5M504.5,328h1.5v5h-1.5M506,284h1.5v5h-1.5M507.5,262h1.5v11h-1.5M507.5,284h1.5v5h-1.5M507.5,306h1.5v5h-1.5M509,295h1.5v5h-1.5M509,344h1.5v11h-1.5M509,372h1.5v5h-1.5M509,383h1.5v5h-1.5M509,394h1.5v5h-1.5M510.5,300h1.5v6h-1.5M510.5,350h1.5v16h-1.5M512,300h1.5v6h-1.5M512,333h1.5v11h-1.5M512,383h1.5v5h-1.5M512,394h1.5v5h-1.5M513.5,300h1.5v6h-1.5M513.5,339h1.5v11h-1.5M513.5,394h1.5v5h-1.5M515,295h1.5v11h-1.5M515,339h1.5v5h-1.5M516.5,339h1.5v5h-1.5M516.5,350h1.5v11h-1.5M516.5,377h1.5v11h-1.5M516.5,394h1.5v5h-1.5M518,399h1.5v6h-1.5M519.5,344h1.5v6h-1.5M519.5,388h1.5v11h-1.5M521,306h1.5v5h-1.5M521,339h1.5v5h-1.5M521,388h1.5v6h-1.5M524,289h1.5v6h-1.5M524,306h1.5v5h-1.5M524,339h1.5v11h-1.5M525.5,306h1.5v5h-1.5M525.5,344h1.5v6h-1.5M527,284h1.5v5h-1.5M527,295h1.5v5h-1.5M527,388h1.5v17h-1.5M528.5,399h1.5v6h-1.5M530,394h1.5v5h-1.5M531.5,344h1.5v6h-1.5M533,284h1.5v5h-1.5M533,339h1.5v5h-1.5M533,399h1.5v6h-1.5M536,339h1.5v5h-1.5M537.5,339h1.5v11h-1.5M537.5,399h1.5v6h-1.5M539,333h1.5v6h-1.5M540.5,333h1.5v11h-1.5M543.5,284h1.5v5h-1.5M545,333h1.5v6h-1.5M546.5,278h1.5v11h-1.5M546.5,399h1.5v6h-1.5M549.5,284h1.5v11h-1.5M549.5,300h1.5v6h-1.5M549.5,333h1.5v6h-1.5M551,295h1.5v5h-1.5M551,306h1.5v11h-1.5M552.5,284h1.5v5h-1.5M552.5,295h1.5v5h-1.5M552.5,333h1.5v6h-1.5M554,284h1.5v5h-1.5M554,339h1.5v5h-1.5M555.5,289h1.5v6h-1.5M555.5,333h1.5v6h-1.5M555.5,344h1.5v6h-1.5M557,295h1.5v5h-1.5M557,333h1.5v6h-1.5M558.5,289h1.5v6h-1.5M558.5,333h1.5v6h-1.5M560,333h1.5v6h-1.5M561.5,284h1.5v11h-1.5M561.5,317h1.5v5h-1.5M561.5,399h1.5v6h-1.5M563,295h1.5v5h-1.5M563,333h1.5v6h-1.5M566,284h1.5v5h-1.5M566,295h1.5v5h-1.5M566,333h1.5v6h-1.5M567.5,339h1.5v5h-1.5M569,289h1.5v6h-1.5M569,333h1.5v6h-1.5M570.5,289h1.5v11h-1.5M572,399h1.5v6h-1.5M573.5,399h1.5v6h-1.5M575,284h1.5v5h-1.5M575,300h1.5v6h-1.5M576.5,289h1.5v6h-1.5M576.5,333h1.5v6h-1.5M578,344h1.5v6h-1.5M579.5,289h1.5v6h-1.5M579.5,333h1.5v6h-1.5M579.5,350h1.5v5h-1.5M581,344h1.5v11h-1.5M581,361h1.5v5h-1.5M581,394h1.5v5h-1.5M582.5,339h1.5v11h-1.5M582.5,355h1.5v11h-1.5M584,284h1.5v5h-1.5M584,361h1.5v5h-1.5M584,394h1.5v11h-1.5M585.5,284h1.5v5h-1.5M585.5,333h1.5v6h-1.5M585.5,350h1.5v5h-1.5M585.5,383h1.5v5h-1.5M585.5,394h1.5v5h-1.5M587,278h1.5v6h-1.5M587,339h1.5v27h-1.5M587,394h1.5v5h-1.5M588.5,333h1.5v33h-1.5M588.5,383h1.5v11h-1.5M590,339h1.5v5h-1.5M590,350h1.5v11h-1.5M590,366h1.5v6h-1.5M590,388h1.5v6h-1.5M591.5,328h1.5v5h-1.5M593,377h1.5v6h-1.5M594.5,339h1.5v11h-1.5M594.5,383h1.5v11h-1.5M596,278h1.5v11h-1.5M596,366h1.5v17h-1.5M596,394h1.5v5h-1.5M597.5,284h1.5v5h-1.5M597.5,333h1.5v6h-1.5M597.5,344h1.5v6h-1.5M597.5,361h1.5v5h-1.5M599,344h1.5v6h-1.5M599,355h1.5v11h-1.5M599,372h1.5v27h-1.5M600.5,284h1.5v5h-1.5M600.5,328h1.5v5h-1.5M602,339h1.5v22h-1.5M602,377h1.5v6h-1.5M602,388h1.5v6h-1.5M602,399h1.5v6h-1.5M603.5,355h1.5v6h-1.5M603.5,366h1.5v39h-1.5M605,339h1.5v5h-1.5M605,372h1.5v5h-1.5M605,383h1.5v11h-1.5M606.5,278h1.5v6h-1.5M606.5,339h1.5v5h-1.5M606.5,366h1.5v6h-1.5M608,350h1.5v5h-1.5M608,361h1.5v5h-1.5M608,383h1.5v16h-1.5M609.5,344h1.5v11h-1.5M611,284h1.5v5h-1.5M611,344h1.5v6h-1.5M611,355h1.5v6h-1.5M611,377h1.5v11h-1.5M611,394h1.5v5h-1.5M612.5,273h1.5v5h-1.5M612.5,350h1.5v22h-1.5M612.5,388h1.5v6h-1.5M612.5,399h1.5v6h-1.5M614,339h1.5v5h-1.5M615.5,284h1.5v5h-1.5M615.5,344h1.5v6h-1.5M617,278h1.5v6h-1.5M617,344h1.5v6h-1.5M618.5,372h1.5v5h-1.5M620,278h1.5v6h-1.5M620,339h1.5v5h-1.5M621.5,372h1.5v5h-1.5M623,278h1.5v6h-1.5M623,339h1.5v5h-1.5M624.5,278h1.5v6h-1.5M624.5,339h1.5v16h-1.5M626,344h1.5v6h-1.5M626,355h1.5v6h-1.5M627.5,273h1.5v11h-1.5M627.5,350h1.5v5h-1.5M627.5,361h1.5v5h-1.5M629,344h1.5v6h-1.5M629,361h1.5v5h-1.5M630.5,278h1.5v6h-1.5M630.5,344h1.5v6h-1.5M632,273h1.5v5h-1.5M632,350h1.5v16h-1.5M633.5,273h1.5v5h-1.5M633.5,361h1.5v5h-1.5M635,273h1.5v5h-1.5M635,344h1.5v22h-1.5M636.5,295h1.5v5h-1.5M638,339h1.5v5h-1.5M639.5,273h1.5v5h-1.5M641,344h1.5v6h-1.5M642.5,344h1.5v6h-1.5M644,339h1.5v11h-1.5M645.5,273h1.5v5h-1.5M645.5,333h1.5v11h-1.5M647,311h1.5v6h-1.5M647,328h1.5v5h-1.5M648.5,273h1.5v5h-1.5M648.5,333h1.5v6h-1.5M650,273h1.5v5h-1.5M650,311h1.5v6h-1.5M650,333h1.5v6h-1.5M650,344h1.5v6h-1.5M651.5,306h1v5h-1M651.5,322h1v11h-1"/>
<path fill="#aaf500" d="M152,240h1.5v5h-1.5M152,256h1.5v6h-1.5M153.5,190h1.5v5h-1.5M153.5,201h1.5v11h-1.5M153.5,217h1.5v11h-1.5M153.5,234h1.5v22h-1.5M153.5,267h1.5v6h-1.5M155,173h1.5v6h-1.5M155,201h1.5v5h-1.5M155,212h1.5v5h-1.5M155,262h1.5v5h-1.5M155,295h1.5v5h-1.5M156.5,173h1.5v11h-1.5M156.5,228h1.5v6h-1.5M156.5,278h1.5v17h-1.5M156.5,306h1.5v5h-1.5M156.5,355h1.5v17h-1.5M156.5,388h1.5v6h-1.5M158,162h1.5v6h-1.5M158,179h1.5v5h-1.5M158,295h1.5v5h-1.5M158,339h1.5v11h-1.5M158,399h1.5v6h-1.5M159.5,184h1.5v6h-1.5M159.5,339h1.5v11h-1.5M159.5,355h1.5v11h-1.5M159.5,372h1.5v16h-1.5M161,190h1.5v5h-1.5M161,300h1.5v6h-1.5M161,339h1.5v5h-1.5M161,372h1.5v11h-1.5M161,399h1.5v6h-1.5M162.5,157h1.5v5h-1.5M162.5,179h1.5v5h-1.5M162.5,311h1.5v17h-1.5M162.5,333h1.5v6h-1.5M162.5,372h1.5v5h-1.5M162.5,394h1.5v5h-1.5M164,157h1.5v5h-1.5M164,179h1.5v5h-1.5M164,217h1.5v6h-1.5M164,322h1.5v6h-1.5M164,333h1.5v11h-1.5M165.5,162h1.5v6h-1.5M165.5,173h1.5v6h-1.5M165.5,328h1.5v5h-1.5M167,184h1.5v6h-1.5M167,206h1.5v22h-1.5M167,311h1.5v6h-1.5M167,322h1.5v6h-1.5M168.5,201h1.5v11h-1.5M168.5,234h1.5v6h-1.5M168.5,262h1.5v5h-1.5M168.5,289h1.5v22h-1.5M168.5,322h1.5v11h-1.5M170,80h1.5v5h-1.5M170,228h1.5v6h-1.5M170,245h1.5v11h-1.5M170,262h1.5v11h-1.5M170,295h1.5v11h-1.5M170,322h1.5v11h-1.5M171.5,80h1.5v16h-1.5M171.5,262h1.5v5h-1.5M171.5,273h1.5v5h-1.5M171.5,284h1.5v22h-1.5M171.5,311h1.5v6h-1.5M171.5,322h1.5v6h-1.5M173,80h1.5v5h-1.5M173,234h1.5v6h-1.5M173,251h1.5v5h-1.5M173,262h1.5v11h-1.5M173,289h1.5v6h-1.5M173,300h1.5v11h-1.5M173,317h1.5v5h-1.5M174.5,273h1.5v5h-1.5M174.5,300h1.5v11h-1.5M176,157h1.5v11h-1.5M176,262h1.5v5h-1.5M176,278h1.5v11h-1.5M176,300h1.5v6h-1.5M177.5,74h1.5v6h-1.5M177.5,85h1.5v11h-1.5M177.5,234h1.5v6h-1.5M177.5,262h1.5v5h-1.5M177.5,273h1.5v5h-1.5M179,157h1.5v5h-1.5M179,240h1.5v11h-1.5M179,256h1.5v11h-1.5M179,278h1.5v17h-1.5M179,300h1.5v6h-1.5M180.5,74h1.5v6h-1.5M180.5,91h1.5v11h-1.5M180.5,262h1.5v5h-1.5M180.5,273h1.5v5h-1.5M180.5,295h1.5v5h-1.5M180.5,322h1.5v6h-1.5M182,74h1.5v6h-1.5M182,262h1.5v5h-1.5M182,289h1.5v11h-1.5M182,328h1.5v5h-1.5M183.5,190h1.5v5h-1.5M183.5,212h1.5v5h-1.5M183.5,223h1.5v5h-1.5M183.5,234h1.5v11h-1.5M183.5,284h1.5v5h-1.5M183.5,328h1.5v5h-1.5M185,74h1.5v6h-1.5M185,173h1.5v6h-1.5M185,195h1.5v6h-1.5M185,245h1.5v6h-1.5M185,256h1.5v6h-1.5M185,267h1.5v11h-1.5M185,317h1.5v5h-1.5M186.5,69h1.5v5h-1.5M186.5,179h1.5v5h-1.5M186.5,206h1.5v11h-1.5M186.5,240h1.5v5h-1.5M186.5,267h1.5v6h-1.5M186.5,284h1.5v5h-1.5M186.5,300h1.5v6h-1.5M186.5,322h1.5v6h-1.5M188,74h1.5v6h-1.5M188,173h1.5v6h-1.5M188,190h1.5v5h-1.5M188,234h1.5v6h-1.5M188,339h1.5v5h-1.5M188,350h1.5v5h-1.5M189.5,91h1.5v5h-1.5M189.5,344h1.5v6h-1.5M189.5,355h1.5v6h-1.5M189.5,366h1.5v6h-1.5M189.5,383h1.5v5h-1.5M191,74h1.5v6h-1.5M191,366h1.5v6h-1.5M191,388h1.5v6h-1.5M192.5,74h1.5v6h-1.5M192.5,195h1.5v6h-1.5M192.5,372h1.5v5h-1.5M192.5,383h1.5v5h-1.5M194,91h1.5v5h-1.5M194,372h1.5v16h-1.5M194,399h1.5v6h-1.5M195.5,69h1.5v11h-1.5M195.5,85h1.5v6h-1.5M195.5,179h1.5v5h-1.5M195.5,195h1.5v6h-1.5M195.5,377h1.5v6h-1.5M195.5,394h1.5v5h-1.5M197,74h1.5v6h-1.5M197,195h1.5v6h-1.5M197,377h1.5v11h-1.5M200,85h1.5v6h-1.5M201.5,80h1.5v11h-1.5M204.5,80h1.5v5h-1.5M206,80h1.5v5h-1.5M206,91h1.5v5h-1.5M207.5,80h1.5v5h-1.5M210.5,80h1.5v5h-1.5M242,80h1.5v5h-1.5M317,256h1.5v6h-1.5M324.5,256h1.5v6h-1.5M324.5,267h1.5v6h-1.5M326,80h1.5v5h-1.5M326,234h1.5v11h-1.5M326,267h1.5v11h-1.5M327.5,212h1.5v5h-1.5M327.5,234h1.5v11h-1.5M327.5,344h1.5v6h-1.5M329,256h1.5v6h-1.5M329,278h1.5v6h-1.5M329,339h1.5v11h-1.5M330.5,228h1.5v12h-1.5M330.5,245h1.5v6h-1.5M330.5,267h1.5v11h-1.5M330.5,339h1.5v5h-1.5M330.5,350h1.5v5h-1.5M332,234h1.5v6h-1.5M332,251h1.5v11h-1.5M332,322h1.5v6h-1.5M332,333h1.5v11h-1.5M332,350h1.5v5h-1.5M332,361h1.5v5h-1.5M332,394h1.5v5h-1.5M333.5,240h1.5v16h-1.5M333.5,278h1.5v6h-1.5M333.5,289h1.5v11h-1.5M333.5,317h1.5v11h-1.5M333.5,333h1.5v6h-1.5M333.5,344h1.5v11h-1.5M333.5,361h1.5v5h-1.5M333.5,372h1.5v5h-1.5M333.5,383h1.5v5h-1.5M335,245h1.5v11h-1.5M335,262h1.5v5h-1.5M335,278h1.5v6h-1.5M336.5,245h1.5v6h-1.5M336.5,256h1.5v11h-1.5M336.5,273h1.5v5h-1.5M339.5,251h1.5v5h-1.5M341,240h1.5v11h-1.5M341,262h1.5v5h-1.5M342.5,240h1.5v5h-1.5M342.5,273h1.5v5h-1.5M344,223h1.5v11h-1.5M344,267h1.5v6h-1.5M345.5,234h1.5v6h-1.5M345.5,256h1.5v6h-1.5M345.5,267h1.5v6h-1.5M345.5,278h1.5v6h-1.5M345.5,306h1.5v5h-1.5M347,251h1.5v5h-1.5M347,284h1.5v11h-1.5M348.5,251h1.5v5h-1.5M348.5,278h1.5v6h-1.5M348.5,311h1.5v11h-1.5M348.5,383h1.5v5h-1.5M350,273h1.5v5h-1.5M350,306h1.5v5h-1.5M350,333h1.5v6h-1.5M350,350h1.5v5h-1.5M350,361h1.5v11h-1.5M350,388h1.5v6h-1.5M351.5,240h1.5v5h-1.5M351.5,256h1.5v17h-1.5M351.5,295h1.5v5h-1.5M351.5,306h1.5v5h-1.5M351.5,328h1.5v5h-1.5M351.5,339h1.5v5h-1.5M351.5,350h1.5v5h-1.5M353,273h1.5v5h-1.5M353,289h1.5v6h-1.5M353,372h1.5v5h-1.5M354.5,278h1.5v6h-1.5M354.5,355h1.5v11h-1.5M354.5,377h1.5v6h-1.5M354.5,394h1.5v5h-1.5M356,240h1.5v5h-1.5M356,300h1.5v11h-1.5M356,328h1.5v16h-1.5M356,372h1.5v5h-1.5M357.5,372h1.5v5h-1.5M360.5,344h1.5v6h-1.5M360.5,399h1.5v6h-1.5M362,361h1.5v5h-1.5M362,399h1.5v6h-1.5M363.5,383h1.5v5h-1.5M363.5,394h1.5v11h-1.5M365,377h1.5v6h-1.5M366.5,311h1.5v6h-1.5M366.5,355h1.5v6h-1.5M366.5,366h1.5v6h-1.5M366.5,383h1.5v11h-1.5M368,311h1.5v6h-1.5M368,355h1.5v6h-1.5M368,366h1.5v6h-1.5M368,399h1.5v6h-1.5M369.5,399h1.5v6h-1.5M371,262h1.5v16h-1.5M371,289h1.5v6h-1.5M371,333h1.5v11h-1.5M371,366h1.5v6h-1.5M371,388h1.5v17h-1.5M372.5,267h1.5v6h-1.5M372.5,366h1.5v6h-1.5M374,399h1.5v6h-1.5M383,240h1.5v5h-1.5M383,262h1.5v11h-1.5M383,388h1.5v11h-1.5M384.5,394h1.5v5h-1.5M387.5,245h1.5v11h-1.5M387.5,273h1.5v5h-1.5M387.5,383h1.5v5h-1.5M387.5,394h1.5v11h-1.5M389,245h1.5v6h-1.5M389,267h1.5v6h-1.5M389,289h1.5v6h-1.5M389,383h1.5v5h-1.5M390.5,256h1.5v6h-1.5M390.5,267h1.5v11h-1.5M390.5,284h1.5v5h-1.5M390.5,366h1.5v17h-1.5M392,388h1.5v11h-1.5M393.5,377h1.5v6h-1.5M395,383h1.5v5h-1.5M396.5,372h1.5v11h-1.5M398,267h1.5v6h-1.5M398,361h1.5v5h-1.5M398,372h1.5v5h-1.5M398,388h1.5v6h-1.5M399.5,377h1.5v6h-1.5M399.5,399h1.5v6h-1.5M401,366h1.5v17h-1.5M402.5,372h1.5v5h-1.5M402.5,383h1.5v5h-1.5M404,350h1.5v5h-1.5M404,366h1.5v6h-1.5M405.5,366h1.5v11h-1.5M405.5,399h1.5v6h-1.5M407,278h1.5v11h-1.5M407,322h1.5v6h-1.5M407,355h1.5v11h-1.5M407,372h1.5v11h-1.5M408.5,256h1.5v6h-1.5M408.5,278h1.5v11h-1.5M408.5,295h1.5v5h-1.5M408.5,317h1.5v5h-1.5M408.5,339h1.5v5h-1.5M410,284h1.5v5h-1.5M410,317h1.5v11h-1.5M410,350h1.5v5h-1.5M410,383h1.5v5h-1.5M411.5,311h1.5v6h-1.5M411.5,372h1.5v5h-1.5M413,262h1.5v11h-1.5M413,278h1.5v6h-1.5M413,350h1.5v5h-1.5M414.5,278h1.5v11h-1.5M414.5,344h1.5v11h-1.5M416,311h1.5v6h-1.5M416,350h1.5v5h-1.5M417.5,256h1.5v6h-1.5M417.5,267h1.5v11h-1.5M417.5,300h1.5v6h-1.5M417.5,317h1.5v5h-1.5M419,262h1.5v5h-1.5M419,278h1.5v6h-1.5M420.5,311h1.5v11h-1.5M422,251h1.5v16h-1.5M422,273h1.5v5h-1.5M422,289h1.5v6h-1.5M423.5,344h1.5v11h-1.5M423.5,361h1.5v11h-1.5M425,322h1.5v6h-1.5M425,339h1.5v5h-1.5M426.5,339h1.5v11h-1.5M426.5,355h1.5v6h-1.5M428,251h1.5v5h-1.5M428,333h1.5v6h-1.5M428,350h1.5v5h-1.5M428,377h1.5v6h-1.5M429.5,267h1.5v6h-1.5M429.5,322h1.5v11h-1.5M431,256h1.5v6h-1.5M431,322h1.5v22h-1.5M431,366h1.5v11h-1.5M432.5,256h1.5v6h-1.5M432.5,306h1.5v5h-1.5M432.5,322h1.5v6h-1.5M432.5,355h1.5v6h-1.5M432.5,372h1.5v5h-1.5M434,350h1.5v11h-1.5M435.5,350h1.5v5h-1.5M435.5,361h1.5v5h-1.5M435.5,377h1.5v6h-1.5M435.5,394h1.5v5h-1.5M437,333h1.5v6h-1.5M437,344h1.5v6h-1.5M437,366h1.5v11h-1.5M437,388h1.5v6h-1.5M437,399h1.5v6h-1.5M438.5,339h1.5v5h-1.5M438.5,350h1.5v5h-1.5M438.5,388h1.5v17h-1.5M440,339h1.5v5h-1.5M440,394h1.5v5h-1.5M441.5,355h1.5v6h-1.5M443,328h1.5v5h-1.5M443,366h1.5v6h-1.5M443,377h1.5v6h-1.5M444.5,333h1.5v6h-1.5M444.5,355h1.5v6h-1.5M444.5,377h1.5v6h-1.5M444.5,388h1.5v6h-1.5M444.5,399h1.5v6h-1.5M446,333h1.5v11h-1.5M446,366h1.5v11h-1.5M446,394h1.5v5h-1.5M447.5,339h1.5v16h-1.5M447.5,361h1.5v5h-1.5M449,339h1.5v5h-1.5M449,350h1.5v22h-1.5M450.5,339h1.5v5h-1.5M452,350h1.5v27h-1.5M453.5,366h1.5v6h-1.5M453.5,388h1.5v6h-1.5M455,350h1.5v5h-1.5M456.5,361h1.5v16h-1.5M458,333h1.5v6h-1.5M458,383h1.5v5h-1.5M459.5,350h1.5v5h-1.5M459.5,361h1.5v5h-1.5M459.5,372h1.5v27h-1.5M461,355h1.5v6h-1.5M462.5,328h1.5v5h-1.5M462.5,339h1.5v5h-1.5M462.5,350h1.5v5h-1.5M462.5,361h1.5v5h-1.5M462.5,383h1.5v5h-1.5M464,339h1.5v5h-1.5M464,361h1.5v16h-1.5M464,383h1.5v5h-1.5M464,394h1.5v5h-1.5M465.5,333h1.5v22h-1.5M465.5,361h1.5v5h-1.5M467,355h1.5v6h-1.5M467,366h1.5v6h-1.5M468.5,267h1.5v6h-1.5M468.5,278h1.5v11h-1.5M468.5,344h1.5v6h-1.5M470,262h1.5v5h-1.5M470,273h1.5v11h-1.5M471.5,333h1.5v6h-1.5M473,267h1.5v6h-1.5M473,311h1.5v6h-1.5M473,322h1.5v17h-1.5M474.5,262h1.5v22h-1.5M474.5,311h1.5v6h-1.5M474.5,322h1.5v6h-1.5M476,267h1.5v6h-1.5M476,278h1.5v6h-1.5M476,311h1.5v11h-1.5M476,333h1.5v6h-1.5M476,366h1.5v11h-1.5M477.5,322h1.5v6h-1.5M477.5,372h1.5v16h-1.5M477.5,394h1.5v5h-1.5M479,344h1.5v6h-1.5M479,355h1.5v6h-1.5M479,383h1.5v11h-1.5M479,399h1.5v6h-1.5M480.5,295h1.5v5h-1.5M480.5,311h1.5v6h-1.5M480.5,366h1.5v6h-1.5M480.5,377h1.5v6h-1.5M480.5,388h1.5v6h-1.5M482,317h1.5v5h-1.5M482,344h1.5v6h-1.5M482,361h1.5v5h-1.5M483.5,300h1.5v6h-1.5M483.5,317h1.5v5h-1.5M483.5,339h1.5v16h-1.5M483.5,361h1.5v5h-1.5M483.5,388h1.5v17h-1.5M485,273h1.5v5h-1.5M485,300h1.5v6h-1.5M485,311h1.5v17h-1.5M486.5,267h1.5v6h-1.5M486.5,278h1.5v6h-1.5M486.5,355h1.5v6h-1.5M486.5,383h1.5v5h-1.5M489.5,311h1.5v6h-1.5M489.5,361h1.5v5h-1.5M489.5,383h1.5v5h-1.5M491,328h1.5v5h-1.5M491,366h1.5v6h-1.5M491,377h1.5v6h-1.5M491,388h1.5v6h-1.5M491,399h1.5v6h-1.5M492.5,278h1.5v6h-1.5M492.5,289h1.5v6h-1.5M492.5,333h1.5v6h-1.5M492.5,344h1.5v6h-1.5M494,256h1.5v6h-1.5M494,267h1.5v17h-1.5M494,311h1.5v11h-1.5M494,333h1.5v6h-1.5M495.5,273h1.5v16h-1.5M495.5,339h1.5v11h-1.5M497,273h1.5v5h-1.5M497,295h1.5v5h-1.5M497,350h1.5v5h-1.5M498.5,262h1.5v5h-1.5M498.5,278h1.5v6h-1.5M498.5,295h1.5v5h-1.5M498.5,311h1.5v11h-1.5M500,251h1.5v5h-1.5M500,267h1.5v11h-1.5M500,289h1.5v6h-1.5M500,300h1.5v6h-1.5M500,317h1.5v5h-1.5M500,339h1.5v5h-1.5M501.5,267h1.5v11h-1.5M501.5,311h1.5v17h-1.5M501.5,339h1.5v11h-1.5M503,262h1.5v11h-1.5M503,278h1.5v11h-1.5M503,311h1.5v6h-1.5M503,333h1.5v6h-1.5M504.5,306h1.5v5h-1.5M504.5,317h1.5v11h-1.5M504.5,350h1.5v5h-1.5M506,267h1.5v6h-1.5M506,278h1.5v6h-1.5M506,295h1.5v11h-1.5M506,350h1.5v5h-1.5M507.5,256h1.5v6h-1.5M507.5,273h1.5v5h-1.5M507.5,366h1.5v6h-1.5M509,333h1.5v6h-1.5M509,377h1.5v6h-1.5M509,388h1.5v6h-1.5M509,399h1.5v6h-1.5M510.5,344h1.5v6h-1.5M510.5,388h1.5v11h-1.5M513.5,289h1.5v6h-1.5M513.5,333h1.5v6h-1.5M515,322h1.5v6h-1.5M516.5,284h1.5v11h-1.5M516.5,361h1.5v5h-1.5M516.5,388h1.5v6h-1.5M518,289h1.5v6h-1.5M518,300h1.5v6h-1.5M518,333h1.5v11h-1.5M519.5,300h1.5v6h-1.5M519.5,333h1.5v11h-1.5M521,289h1.5v11h-1.5M521,333h1.5v6h-1.5M522.5,289h1.5v6h-1.5M522.5,339h1.5v5h-1.5M524,295h1.5v11h-1.5M524,328h1.5v5h-1.5M525.5,289h1.5v6h-1.5M525.5,339h1.5v5h-1.5M527,344h1.5v6h-1.5M528.5,339h1.5v5h-1.5M530,339h1.5v5h-1.5M531.5,289h1.5v6h-1.5M531.5,339h1.5v5h-1.5M533,328h1.5v5h-1.5M534.5,289h1.5v6h-1.5M534.5,306h1.5v5h-1.5M534.5,322h1.5v6h-1.5M536,289h1.5v11h-1.5M536,306h1.5v5h-1.5M536,333h1.5v6h-1.5M539,289h1.5v22h-1.5M539,328h1.5v5h-1.5M540.5,289h1.5v6h-1.5M545,300h1.5v6h-1.5M546.5,333h1.5v6h-1.5M548,295h1.5v5h-1.5M549.5,295h1.5v5h-1.5M549.5,317h1.5v5h-1.5M549.5,328h1.5v5h-1.5M551,289h1.5v6h-1.5M551,300h1.5v6h-1.5M551,328h1.5v5h-1.5M552.5,300h1.5v6h-1.5M552.5,317h1.5v5h-1.5M555.5,295h1.5v11h-1.5M560,289h1.5v6h-1.5M560,328h1.5v5h-1.5M561.5,300h1.5v6h-1.5M561.5,333h1.5v6h-1.5M564.5,295h1.5v5h-1.5M564.5,333h1.5v6h-1.5M566,328h1.5v5h-1.5M567.5,333h1.5v6h-1.5M569,284h1.5v5h-1.5M569,295h1.5v11h-1.5M570.5,300h1.5v6h-1.5M570.5,328h1.5v5h-1.5M572,328h1.5v11h-1.5M573.5,284h1.5v5h-1.5M573.5,333h1.5v6h-1.5M576.5,295h1.5v11h-1.5M576.5,328h1.5v5h-1.5M578,284h1.5v5h-1.5M578,333h1.5v6h-1.5M579.5,284h1.5v5h-1.5M581,284h1.5v5h-1.5M581,300h1.5v6h-1.5M581,333h1.5v6h-1.5M582.5,399h1.5v6h-1.5M587,333h1.5v6h-1.5M587,399h1.5v6h-1.5M588.5,394h1.5v5h-1.5M590,333h1.5v6h-1.5M591.5,295h1.5v11h-1.5M591.5,322h1.5v6h-1.5M593,284h1.5v5h-1.5M594.5,333h1.5v6h-1.5M594.5,355h1.5v6h-1.5M594.5,366h1.5v6h-1.5M594.5,394h1.5v5h-1.5M596,333h1.5v6h-1.5M599,339h1.5v5h-1.5M599,350h1.5v5h-1.5M599,366h1.5v6h-1.5M599,399h1.5v6h-1.5M600.5,300h1.5v6h-1.5M600.5,333h1.5v6h-1.5M602,284h1.5v5h-1.5M602,333h1.5v6h-1.5M603.5,339h1.5v16h-1.5M605,284h1.5v5h-1.5M605,333h1.5v6h-1.5M605,344h1.5v6h-1.5M606.5,284h1.5v5h-1.5M606.5,344h1.5v6h-1.5M608,278h1.5v6h-1.5M608,344h1.5v6h-1.5M608,366h1.5v6h-1.5M608,377h1.5v6h-1.5M608,399h1.5v6h-1.5M609.5,284h1.5v5h-1.5M609.5,333h1.5v11h-1.5M611,339h1.5v5h-1.5M612.5,278h1.5v11h-1.5M612.5,339h1.5v11h-1.5M614,284h1.5v5h-1.5M615.5,289h1.5v6h-1.5M615.5,339h1.5v5h-1.5M617,284h1.5v5h-1.5M617,339h1.5v5h-1.5M618.5,278h1.5v6h-1.5M618.5,339h1.5v5h-1.5M620,284h1.5v5h-1.5M620,322h1.5v6h-1.5M621.5,300h1.5v6h-1.5M621.5,339h1.5v5h-1.5M624.5,284h1.5v5h-1.5M626,339h1.5v5h-1.5M627.5,339h1.5v5h-1.5M629,278h1.5v6h-1.5M629,295h1.5v5h-1.5M629,339h1.5v5h-1.5M630.5,333h1.5v6h-1.5M632,344h1.5v6h-1.5M632,366h1.5v6h-1.5M633.5,278h1.5v6h-1.5M633.5,344h1.5v11h-1.5M635,339h1.5v5h-1.5M636.5,284h1.5v11h-1.5M636.5,333h1.5v6h-1.5M638,278h1.5v6h-1.5M638,333h1.5v6h-1.5M639.5,333h1.5v11h-1.5M641,339h1.5v5h-1.5M642.5,273h1.5v11h-1.5M642.5,339h1.5v5h-1.5M644,278h1.5v6h-1.5M644,333h1.5v6h-1.5M645.5,278h1.5v6h-1.5M645.5,328h1.5v5h-1.5M647,284h1.5v5h-1.5M647,295h1.5v5h-1.5M647,306h1.5v5h-1.5M647,322h1.5v6h-1.5M648.5,311h1.5v17h-1.5M650,322h1.5v6h-1.5M651.5,289h1v6h-1M651.5,317h1v5h-1M651.5,333h1v6h-1"/>
<path fill="#d4f000" d="M152,245h1.5v6h-1.5M153.5,212h1.5v5h-1.5M153.5,256h1.5v11h-1.5M153.5,273h1.5v5h-1.5M155,179h1.5v11h-1.5M155,195h1.5v6h-1.5M155,217h1.5v6h-1.5M155,234h1.5v11h-1.5M155,251h1.5v11h-1.5M155,267h1.5v6h-1.5M155,284h1.5v11h-1.5M156.5,217h1.5v6h-1.5M156.5,234h1.5v6h-1.5M156.5,267h1.5v6h-1.5M158,190h1.5v5h-1.5M158,201h1.5v5h-1.5M158,223h1.5v5h-1.5M158,234h1.5v6h-1.5M158,366h1.5v6h-1.5M158,388h1.5v11h-1.5M159.5,173h1.5v11h-1.5M159.5,295h1.5v5h-1.5M159.5,333h1.5v6h-1.5M159.5,394h1.5v11h-1.5M161,173h1.5v11h-1.5M161,217h1.5v6h-1.5M161,228h1.5v6h-1.5M161,289h1.5v6h-1.5M161,306h1.5v5h-1.5M162.5,168h1.5v5h-1.5M162.5,184h1.5v6h-1.5M162.5,284h1.5v5h-1.5M162.5,306h1.5v5h-1.5M162.5,328h1.5v5h-1.5M162.5,350h1.5v5h-1.5M162.5,383h1.5v5h-1.5M164,173h1.5v6h-1.5M164,184h1.5v6h-1.5M164,300h1.5v17h-1.5M164,328h1.5v5h-1.5M165.5,179h1.5v5h-1.5M165.5,190h1.5v5h-1.5M165.5,311h1.5v6h-1.5M165.5,322h1.5v6h-1.5M167,195h1.5v11h-1.5M167,251h1.5v11h-1.5M167,267h1.5v17h-1.5M167,289h1.5v6h-1.5M167,306h1.5v5h-1.5M167,333h1.5v6h-1.5M167,344h1.5v6h-1.5M168.5,284h1.5v5h-1.5M168.5,344h1.5v6h-1.5M170,278h1.5v6h-1.5M170,306h1.5v5h-1.5M170,355h1.5v6h-1.5M171.5,267h1.5v6h-1.5M171.5,278h1.5v6h-1.5M171.5,306h1.5v5h-1.5M171.5,317h1.5v5h-1.5M173,179h1.5v5h-1.5M173,284h1.5v5h-1.5M174.5,284h1.5v11h-1.5M174.5,311h1.5v6h-1.5M174.5,328h1.5v5h-1.5M176,74h1.5v6h-1.5M176,91h1.5v5h-1.5M176,267h1.5v6h-1.5M176,289h1.5v6h-1.5M176,311h1.5v6h-1.5M177.5,80h1.5v5h-1.5M177.5,311h1.5v17h-1.5M179,85h1.5v6h-1.5M179,311h1.5v6h-1.5M179,322h1.5v6h-1.5M180.5,162h1.5v6h-1.5M180.5,278h1.5v6h-1.5M180.5,311h1.5v6h-1.5M180.5,328h1.5v5h-1.5M182,80h1.5v16h-1.5M182,311h1.5v6h-1.5M183.5,228h1.5v6h-1.5M183.5,245h1.5v6h-1.5M183.5,256h1.5v17h-1.5M183.5,278h1.5v6h-1.5M183.5,289h1.5v11h-1.5M183.5,322h1.5v6h-1.5M185,240h1.5v5h-1.5M185,251h1.5v5h-1.5M185,262h1.5v5h-1.5M185,284h1.5v5h-1.5M185,295h1.5v5h-1.5M185,328h1.5v5h-1.5M186.5,74h1.5v6h-1.5M186.5,223h1.5v5h-1.5M186.5,234h1.5v6h-1.5M186.5,245h1.5v6h-1.5M186.5,262h1.5v5h-1.5M186.5,273h1.5v5h-1.5M186.5,328h1.5v5h-1.5M188,91h1.5v5h-1.5M188,262h1.5v5h-1.5M188,344h1.5v6h-1.5M188,366h1.5v6h-1.5M189.5,74h1.5v11h-1.5M189.5,372h1.5v5h-1.5M189.5,388h1.5v6h-1.5M192.5,80h1.5v5h-1.5M192.5,377h1.5v6h-1.5M192.5,388h1.5v6h-1.5M194,74h1.5v6h-1.5M194,85h1.5v6h-1.5M194,388h1.5v11h-1.5M195.5,91h1.5v5h-1.5M195.5,383h1.5v11h-1.5M197,80h1.5v11h-1.5M198.5,80h1.5v5h-1.5M326,251h1.5v16h-1.5M327.5,262h1.5v11h-1.5M329,234h1.5v6h-1.5M329,251h1.5v5h-1.5M329,267h1.5v11h-1.5M329,394h1.5v5h-1.5M330.5,262h1.5v5h-1.5M330.5,344h1.5v6h-1.5M332,245h1.5v6h-1.5M332,262h1.5v5h-1.5M333.5,256h1.5v22h-1.5M333.5,339h1.5v5h-1.5M333.5,355h1.5v6h-1.5M333.5,366h1.5v6h-1.5M333.5,377h1.5v6h-1.5M333.5,394h1.5v5h-1.5M335,256h1.5v6h-1.5M335,267h1.5v6h-1.5M335,300h1.5v6h-1.5M335,328h1.5v5h-1.5M335,339h1.5v5h-1.5M336.5,267h1.5v6h-1.5M336.5,289h1.5v6h-1.5M338,251h1.5v11h-1.5M338,267h1.5v11h-1.5M338,306h1.5v5h-1.5M339.5,240h1.5v5h-1.5M339.5,267h1.5v6h-1.5M339.5,278h1.5v6h-1.5M339.5,295h1.5v5h-1.5M339.5,322h1.5v6h-1.5M341,234h1.5v6h-1.5M341,306h1.5v5h-1.5M342.5,256h1.5v6h-1.5M342.5,267h1.5v6h-1.5M345.5,262h1.5v5h-1.5M347,295h1.5v11h-1.5M347,311h1.5v6h-1.5M347,339h1.5v5h-1.5M347,399h1.5v6h-1.5M348.5,295h1.5v11h-1.5M348.5,322h1.5v6h-1.5M348.5,339h1.5v5h-1.5M348.5,350h1.5v16h-1.5M348.5,372h1.5v11h-1.5M348.5,394h1.5v5h-1.5M350,284h1.5v5h-1.5M350,355h1.5v6h-1.5M350,372h1.5v16h-1.5M350,394h1.5v5h-1.5M351.5,234h1.5v6h-1.5M351.5,289h1.5v6h-1.5M351.5,344h1.5v6h-1.5M351.5,366h1.5v11h-1.5M351.5,383h1.5v5h-1.5M351.5,394h1.5v5h-1.5M353,361h1.5v11h-1.5M353,383h1.5v5h-1.5M354.5,366h1.5v11h-1.5M354.5,383h1.5v5h-1.5M356,245h1.5v6h-1.5M356,256h1.5v33h-1.5M356,317h1.5v5h-1.5M356,344h1.5v6h-1.5M356,355h1.5v11h-1.5M356,377h1.5v6h-1.5M360.5,377h1.5v6h-1.5M365,394h1.5v11h-1.5M366.5,399h1.5v6h-1.5M371,278h1.5v6h-1.5M371,350h1.5v5h-1.5M371,377h1.5v11h-1.5M372.5,394h1.5v5h-1.5M387.5,372h1.5v5h-1.5M387.5,388h1.5v6h-1.5M389,388h1.5v6h-1.5M390.5,240h1.5v5h-1.5M390.5,278h1.5v6h-1.5M390.5,361h1.5v5h-1.5M390.5,394h1.5v11h-1.5M393.5,256h1.5v6h-1.5M395,399h1.5v6h-1.5M396.5,383h1.5v5h-1.5M396.5,394h1.5v5h-1.5M398,262h1.5v5h-1.5M398,273h1.5v5h-1.5M398,289h1.5v6h-1.5M401,383h1.5v5h-1.5M402.5,377h1.5v6h-1.5M404,372h1.5v5h-1.5M405.5,394h1.5v5h-1.5M407,366h1.5v6h-1.5M407,394h1.5v5h-1.5M408.5,273h1.5v5h-1.5M408.5,322h1.5v6h-1.5M408.5,350h1.5v5h-1.5M410,372h1.5v5h-1.5M411.5,350h1.5v11h-1.5M411.5,366h1.5v6h-1.5M413,311h1.5v6h-1.5M413,355h1.5v6h-1.5M414.5,311h1.5v6h-1.5M416,355h1.5v17h-1.5M417.5,284h1.5v5h-1.5M417.5,311h1.5v6h-1.5M417.5,339h1.5v11h-1.5M419,311h1.5v11h-1.5M419,339h1.5v5h-1.5M419,350h1.5v5h-1.5M422,267h1.5v6h-1.5M422,278h1.5v6h-1.5M422,317h1.5v11h-1.5M422,333h1.5v6h-1.5M423.5,355h1.5v6h-1.5M423.5,377h1.5v6h-1.5M425,262h1.5v5h-1.5M425,344h1.5v6h-1.5M425,355h1.5v6h-1.5M425,372h1.5v5h-1.5M426.5,350h1.5v5h-1.5M426.5,361h1.5v16h-1.5M428,344h1.5v6h-1.5M428,361h1.5v11h-1.5M429.5,278h1.5v6h-1.5M429.5,344h1.5v6h-1.5M429.5,355h1.5v22h-1.5M431,355h1.5v6h-1.5M431,377h1.5v6h-1.5M432.5,333h1.5v17h-1.5M432.5,366h1.5v6h-1.5M432.5,383h1.5v5h-1.5M434,344h1.5v6h-1.5M434,383h1.5v5h-1.5M435.5,344h1.5v6h-1.5M435.5,399h1.5v6h-1.5M437,350h1.5v16h-1.5M437,394h1.5v5h-1.5M438.5,344h1.5v6h-1.5M438.5,355h1.5v17h-1.5M440,344h1.5v6h-1.5M441.5,361h1.5v5h-1.5M443,333h1.5v11h-1.5M443,355h1.5v6h-1.5M444.5,328h1.5v5h-1.5M444.5,344h1.5v6h-1.5M444.5,366h1.5v11h-1.5M446,344h1.5v6h-1.5M446,355h1.5v11h-1.5M446,377h1.5v6h-1.5M447.5,355h1.5v6h-1.5M450.5,344h1.5v6h-1.5M450.5,366h1.5v6h-1.5M452,339h1.5v5h-1.5M453.5,328h1.5v16h-1.5M453.5,361h1.5v5h-1.5M453.5,377h1.5v11h-1.5M458,339h1.5v5h-1.5M458,355h1.5v6h-1.5M458,372h1.5v5h-1.5M459.5,339h1.5v11h-1.5M459.5,355h1.5v6h-1.5M462.5,333h1.5v6h-1.5M462.5,344h1.5v6h-1.5M462.5,366h1.5v6h-1.5M462.5,394h1.5v5h-1.5M464,328h1.5v5h-1.5M464,344h1.5v6h-1.5M464,355h1.5v6h-1.5M464,377h1.5v6h-1.5M465.5,355h1.5v6h-1.5M465.5,372h1.5v5h-1.5M465.5,388h1.5v11h-1.5M467,339h1.5v16h-1.5M467,361h1.5v5h-1.5M467,377h1.5v6h-1.5M467,394h1.5v5h-1.5M468.5,328h1.5v16h-1.5M470,328h1.5v11h-1.5M471.5,383h1.5v11h-1.5M473,339h1.5v5h-1.5M474.5,328h1.5v5h-1.5M474.5,361h1.5v5h-1.5M476,273h1.5v5h-1.5M476,322h1.5v6h-1.5M477.5,328h1.5v16h-1.5M477.5,355h1.5v11h-1.5M477.5,388h1.5v6h-1.5M477.5,399h1.5v6h-1.5M480.5,322h1.5v6h-1.5M480.5,333h1.5v11h-1.5M480.5,350h1.5v11h-1.5M480.5,372h1.5v5h-1.5M480.5,383h1.5v5h-1.5M480.5,399h1.5v6h-1.5M482,328h1.5v5h-1.5M482,339h1.5v5h-1.5M482,350h1.5v11h-1.5M482,388h1.5v17h-1.5M483.5,333h1.5v6h-1.5M485,295h1.5v5h-1.5M485,350h1.5v5h-1.5M485,361h1.5v11h-1.5M485,377h1.5v6h-1.5M485,388h1.5v6h-1.5M485,399h1.5v6h-1.5M486.5,350h1.5v5h-1.5M486.5,377h1.5v6h-1.5M486.5,388h1.5v17h-1.5M488,383h1.5v5h-1.5M489.5,372h1.5v5h-1.5M491,355h1.5v6h-1.5M491,372h1.5v5h-1.5M491,394h1.5v5h-1.5M492.5,273h1.5v5h-1.5M492.5,328h1.5v5h-1.5M492.5,350h1.5v5h-1.5M492.5,399h1.5v6h-1.5M494,322h1.5v11h-1.5M494,344h1.5v6h-1.5M495.5,350h1.5v5h-1.5M495.5,361h1.5v5h-1.5M498.5,322h1.5v6h-1.5M498.5,333h1.5v6h-1.5M498.5,344h1.5v11h-1.5M500,322h1.5v6h-1.5M500,333h1.5v6h-1.5M501.5,278h1.5v11h-1.5M501.5,295h1.5v11h-1.5M501.5,328h1.5v11h-1.5M503,344h1.5v6h-1.5M503,372h1.5v5h-1.5M504.5,262h1.5v5h-1.5M504.5,339h1.5v11h-1.5M506,262h1.5v5h-1.5M506,273h1.5v5h-1.5M506,289h1.5v6h-1.5M506,306h1.5v16h-1.5M506,328h1.5v5h-1.5M506,344h1.5v6h-1.5M507.5,289h1.5v11h-1.5M507.5,311h1.5v6h-1.5M507.5,328h1.5v11h-1.5M507.5,350h1.5v5h-1.5M507.5,361h1.5v5h-1.5M507.5,372h1.5v11h-1.5M509,322h1.5v11h-1.5M510.5,333h1.5v11h-1.5M510.5,377h1.5v11h-1.5M512,322h1.5v11h-1.5M513.5,328h1.5v5h-1.5M515,317h1.5v5h-1.5M515,328h1.5v5h-1.5M516.5,295h1.5v11h-1.5M516.5,333h1.5v6h-1.5M516.5,344h1.5v6h-1.5M516.5,399h1.5v6h-1.5M518,295h1.5v5h-1.5M518,328h1.5v5h-1.5M519.5,295h1.5v5h-1.5M519.5,328h1.5v5h-1.5M521,300h1.5v6h-1.5M522.5,333h1.5v6h-1.5M524,322h1.5v6h-1.5M524,333h1.5v6h-1.5M525.5,295h1.5v11h-1.5M525.5,333h1.5v6h-1.5M527,306h1.5v5h-1.5M527,339h1.5v5h-1.5M528.5,289h1.5v6h-1.5M528.5,300h1.5v6h-1.5M530,289h1.5v6h-1.5M530,306h1.5v5h-1.5M530,333h1.5v6h-1.5M531.5,295h1.5v11h-1.5M531.5,333h1.5v6h-1.5M533,289h1.5v17h-1.5M533,333h1.5v6h-1.5M534.5,295h1.5v5h-1.5M534.5,333h1.5v6h-1.5M536,322h1.5v6h-1.5M537.5,289h1.5v6h-1.5M537.5,333h1.5v6h-1.5M539,317h1.5v5h-1.5M540.5,295h1.5v5h-1.5M540.5,317h1.5v16h-1.5M542,300h1.5v6h-1.5M542,333h1.5v6h-1.5M543.5,300h1.5v6h-1.5M543.5,333h1.5v6h-1.5M545,289h1.5v6h-1.5M545,306h1.5v5h-1.5M546.5,289h1.5v17h-1.5M551,317h1.5v5h-1.5M552.5,322h1.5v6h-1.5M554,333h1.5v6h-1.5M555.5,317h1.5v5h-1.5M557,289h1.5v6h-1.5M557,306h1.5v11h-1.5M557,322h1.5v11h-1.5M558.5,295h1.5v16h-1.5M558.5,317h1.5v5h-1.5M558.5,328h1.5v5h-1.5M560,295h1.5v5h-1.5M560,322h1.5v6h-1.5M561.5,295h1.5v5h-1.5M561.5,311h1.5v6h-1.5M561.5,328h1.5v5h-1.5M563,300h1.5v6h-1.5M564.5,300h1.5v6h-1.5M564.5,317h1.5v5h-1.5M564.5,328h1.5v5h-1.5M566,317h1.5v5h-1.5M567.5,300h1.5v6h-1.5M567.5,328h1.5v5h-1.5M569,322h1.5v6h-1.5M570.5,306h1.5v16h-1.5M572,289h1.5v6h-1.5M572,300h1.5v6h-1.5M573.5,289h1.5v11h-1.5M573.5,322h1.5v6h-1.5M575,289h1.5v6h-1.5M575,317h1.5v5h-1.5M575,328h1.5v5h-1.5M576.5,322h1.5v6h-1.5M579.5,300h1.5v6h-1.5M582.5,284h1.5v5h-1.5M582.5,333h1.5v6h-1.5M584,333h1.5v6h-1.5M585.5,289h1.5v11h-1.5M585.5,317h1.5v5h-1.5M587,284h1.5v5h-1.5M588.5,284h1.5v5h-1.5M590,284h1.5v5h-1.5M591.5,317h1.5v5h-1.5M593,333h1.5v6h-1.5M594.5,284h1.5v5h-1.5M594.5,295h1.5v5h-1.5M594.5,399h1.5v6h-1.5M597.5,289h1.5v17h-1.5M599,284h1.5v5h-1.5M599,333h1.5v6h-1.5M600.5,289h1.5v11h-1.5M602,289h1.5v6h-1.5M603.5,278h1.5v11h-1.5M605,328h1.5v5h-1.5M606.5,333h1.5v6h-1.5M608,284h1.5v5h-1.5M608,333h1.5v6h-1.5M609.5,289h1.5v6h-1.5M609.5,317h1.5v5h-1.5M611,333h1.5v6h-1.5M614,289h1.5v6h-1.5M614,300h1.5v6h-1.5M614,317h1.5v5h-1.5M614,333h1.5v6h-1.5M615.5,333h1.5v6h-1.5M617,333h1.5v6h-1.5M618.5,333h1.5v6h-1.5M620,300h1.5v6h-1.5M620,311h1.5v6h-1.5M621.5,284h1.5v11h-1.5M621.5,328h1.5v11h-1.5M623,289h1.5v11h-1.5M623,333h1.5v6h-1.5M624.5,289h1.5v6h-1.5M624.5,333h1.5v6h-1.5M626,278h1.5v6h-1.5M626,328h1.5v11h-1.5M627.5,284h1.5v5h-1.5M627.5,295h1.5v5h-1.5M629,284h1.5v5h-1.5M629,300h1.5v6h-1.5M629,333h1.5v6h-1.5M630.5,284h1.5v5h-1.5M630.5,295h1.5v5h-1.5M630.5,311h1.5v11h-1.5M632,339h1.5v5h-1.5M633.5,339h1.5v5h-1.5M635,278h1.5v6h-1.5M635,333h1.5v6h-1.5M636.5,306h1.5v27h-1.5M638,284h1.5v11h-1.5M638,300h1.5v6h-1.5M639.5,284h1.5v5h-1.5M641,273h1.5v11h-1.5M641,328h1.5v11h-1.5M642.5,333h1.5v6h-1.5M644,284h1.5v11h-1.5M644,306h1.5v5h-1.5M644,328h1.5v5h-1.5M645.5,306h1.5v5h-1.5M647,278h1.5v6h-1.5M647,289h1.5v6h-1.5M647,300h1.5v6h-1.5M648.5,306h1.5v5h-1.5M648.5,328h1.5v5h-1.5M650,295h1.5v11h-1.5M650,317h1.5v5h-1.5M650,328h1.5v5h-1.5M651.5,278h1v11h-1M651.5,300h1v6h-1M651.5,311h1v6h-1"/>
<path fill="#ffeb00" d="M155,206h1.5v6h-1.5M155,223h1.5v11h-1.5M155,273h1.5v11h-1.5M155,300h1.5v6h-1.5M156.5,190h1.5v27h-1.5M156.5,223h1.5v5h-1.5M156.5,240h1.5v27h-1.5M156.5,273h1.5v5h-1.5M156.5,300h1.5v6h-1.5M158,195h1.5v6h-1.5M158,245h1.5v6h-1.5M158,262h1.5v22h-1.5M158,289h1.5v6h-1.5M158,300h1.5v6h-1.5M159.5,190h1.5v16h-1.5M161,195h1.5v22h-1.5M161,234h1.5v6h-1.5M161,251h1.5v5h-1.5M161,267h1.5v6h-1.5M161,278h1.5v6h-1.5M161,295h1.5v5h-1.5M162.5,173h1.5v6h-1.5M162.5,190h1.5v5h-1.5M162.5,212h1.5v5h-1.5M162.5,289h1.5v6h-1.5M162.5,339h1.5v11h-1.5M162.5,355h1.5v17h-1.5M162.5,377h1.5v6h-1.5M162.5,399h1.5v6h-1.5M164,206h1.5v6h-1.5M164,223h1.5v5h-1.5M164,355h1.5v11h-1.5M165.5,184h1.5v6h-1.5M165.5,201h1.5v16h-1.5M165.5,223h1.5v5h-1.5M165.5,317h1.5v5h-1.5M167,228h1.5v23h-1.5M167,295h1.5v11h-1.5M167,339h1.5v5h-1.5M167,361h1.5v5h-1.5M167,383h1.5v5h-1.5M168.5,267h1.5v11h-1.5M168.5,350h1.5v5h-1.5M170,333h1.5v6h-1.5M171.5,328h1.5v5h-1.5M171.5,339h1.5v5h-1.5M171.5,350h1.5v5h-1.5M173,85h1.5v6h-1.5M173,311h1.5v6h-1.5M173,322h1.5v11h-1.5M174.5,80h1.5v16h-1.5M176,80h1.5v5h-1.5M176,295h1.5v5h-1.5M176,322h1.5v6h-1.5M177.5,328h1.5v5h-1.5M179,74h1.5v6h-1.5M179,91h1.5v5h-1.5M179,317h1.5v5h-1.5M179,344h1.5v6h-1.5M180.5,80h1.5v11h-1.5M180.5,317h1.5v5h-1.5M183.5,74h1.5v6h-1.5M183.5,85h1.5v11h-1.5M183.5,251h1.5v5h-1.5M183.5,273h1.5v5h-1.5M183.5,300h1.5v6h-1.5M185,80h1.5v11h-1.5M186.5,251h1.5v11h-1.5M186.5,333h1.5v6h-1.5M188,80h1.5v11h-1.5M188,355h1.5v11h-1.5M188,372h1.5v5h-1.5M188,388h1.5v6h-1.5M189.5,85h1.5v6h-1.5M189.5,377h1.5v6h-1.5M189.5,394h1.5v11h-1.5M191,85h1.5v6h-1.5M191,377h1.5v6h-1.5M191,394h1.5v11h-1.5M192.5,85h1.5v6h-1.5M192.5,394h1.5v5h-1.5M194,80h1.5v5h-1.5M195.5,80h1.5v5h-1.5M197,399h1.5v6h-1.5M203,80h1.5v5h-1.5M324.5,245h1.5v6h-1.5M326,245h1.5v6h-1.5M327.5,245h1.5v11h-1.5M329,262h1.5v5h-1.5M332,278h1.5v6h-1.5M333.5,399h1.5v6h-1.5M335,284h1.5v5h-1.5M335,295h1.5v5h-1.5M335,311h1.5v6h-1.5M335,333h1.5v6h-1.5M335,366h1.5v6h-1.5M335,377h1.5v11h-1.5M335,399h1.5v6h-1.5M336.5,251h1.5v5h-1.5M336.5,295h1.5v5h-1.5M336.5,317h1.5v5h-1.5M336.5,355h1.5v6h-1.5M338,245h1.5v6h-1.5M338,284h1.5v11h-1.5M338,300h1.5v6h-1.5M338,355h1.5v6h-1.5M338,366h1.5v6h-1.5M339.5,245h1.5v6h-1.5M339.5,273h1.5v5h-1.5M339.5,328h1.5v5h-1.5M339.5,350h1.5v5h-1.5M339.5,361h1.5v5h-1.5M339.5,372h1.5v5h-1.5M339.5,388h1.5v6h-1.5M341,251h1.5v11h-1.5M341,267h1.5v6h-1.5M341,278h1.5v6h-1.5M341,339h1.5v5h-1.5M341,372h1.5v5h-1.5M341,394h1.5v5h-1.5M342.5,245h1.5v11h-1.5M342.5,262h1.5v5h-1.5M342.5,278h1.5v11h-1.5M344,256h1.5v11h-1.5M344,273h1.5v5h-1.5M345.5,251h1.5v5h-1.5M347,344h1.5v6h-1.5M347,355h1.5v6h-1.5M347,366h1.5v17h-1.5M347,388h1.5v11h-1.5M348.5,328h1.5v11h-1.5M348.5,344h1.5v6h-1.5M348.5,366h1.5v6h-1.5M350,399h1.5v6h-1.5M351.5,361h1.5v5h-1.5M351.5,377h1.5v6h-1.5M351.5,388h1.5v6h-1.5M351.5,399h1.5v6h-1.5M354.5,388h1.5v6h-1.5M356,366h1.5v6h-1.5M356,383h1.5v5h-1.5M356,394h1.5v11h-1.5M360.5,388h1.5v6h-1.5M362,388h1.5v6h-1.5M363.5,388h1.5v6h-1.5M366.5,394h1.5v5h-1.5M389,273h1.5v5h-1.5M390.5,245h1.5v11h-1.5M390.5,383h1.5v11h-1.5M396.5,267h1.5v6h-1.5M396.5,388h1.5v6h-1.5M396.5,399h1.5v6h-1.5M398,256h1.5v6h-1.5M398,377h1.5v6h-1.5M398,399h1.5v6h-1.5M401,399h1.5v6h-1.5M402.5,388h1.5v11h-1.5M404,377h1.5v28h-1.5M405.5,383h1.5v11h-1.5M407,383h1.5v5h-1.5M407,399h1.5v6h-1.5M408.5,355h1.5v6h-1.5M408.5,366h1.5v17h-1.5M410,355h1.5v11h-1.5M410,399h1.5v6h-1.5M411.5,361h1.5v5h-1.5M411.5,377h1.5v6h-1.5M411.5,394h1.5v5h-1.5M413,366h1.5v6h-1.5M414.5,355h1.5v11h-1.5M414.5,377h1.5v6h-1.5M417.5,350h1.5v5h-1.5M419,355h1.5v6h-1.5M420.5,344h1.5v17h-1.5M422,311h1.5v6h-1.5M422,339h1.5v5h-1.5M423.5,372h1.5v5h-1.5M425,361h1.5v5h-1.5M425,377h1.5v6h-1.5M426.5,377h1.5v11h-1.5M428,372h1.5v5h-1.5M429.5,339h1.5v5h-1.5M429.5,377h1.5v6h-1.5M431,350h1.5v5h-1.5M431,361h1.5v5h-1.5M431,383h1.5v11h-1.5M432.5,328h1.5v5h-1.5M432.5,350h1.5v5h-1.5M432.5,361h1.5v5h-1.5M432.5,377h1.5v6h-1.5M434,394h1.5v5h-1.5M443,344h1.5v6h-1.5M443,361h1.5v5h-1.5M444.5,339h1.5v5h-1.5M444.5,361h1.5v5h-1.5M446,350h1.5v5h-1.5M446,388h1.5v6h-1.5M449,344h1.5v6h-1.5M453.5,344h1.5v17h-1.5M456.5,350h1.5v5h-1.5M458,344h1.5v6h-1.5M458,377h1.5v6h-1.5M462.5,388h1.5v6h-1.5M464,350h1.5v5h-1.5M464,388h1.5v6h-1.5M467,372h1.5v5h-1.5M467,383h1.5v5h-1.5M467,399h1.5v6h-1.5M468.5,350h1.5v11h-1.5M468.5,372h1.5v27h-1.5M470,322h1.5v6h-1.5M470,339h1.5v11h-1.5M471.5,350h1.5v5h-1.5M471.5,372h1.5v11h-1.5M473,344h1.5v17h-1.5M473,366h1.5v6h-1.5M473,399h1.5v6h-1.5M474.5,333h1.5v11h-1.5M474.5,350h1.5v5h-1.5M474.5,377h1.5v6h-1.5M476,328h1.5v5h-1.5M476,339h1.5v5h-1.5M476,350h1.5v5h-1.5M476,361h1.5v5h-1.5M476,383h1.5v5h-1.5M476,394h1.5v5h-1.5M477.5,344h1.5v11h-1.5M477.5,366h1.5v6h-1.5M480.5,317h1.5v5h-1.5M480.5,328h1.5v5h-1.5M480.5,394h1.5v5h-1.5M482,333h1.5v6h-1.5M482,383h1.5v5h-1.5M483.5,383h1.5v5h-1.5M485,328h1.5v22h-1.5M485,355h1.5v6h-1.5M485,372h1.5v5h-1.5M485,394h1.5v5h-1.5M489.5,388h1.5v6h-1.5M492.5,361h1.5v11h-1.5M492.5,394h1.5v5h-1.5M495.5,372h1.5v5h-1.5M495.5,399h1.5v6h-1.5M497,377h1.5v6h-1.5M500,372h1.5v11h-1.5M501.5,350h1.5v5h-1.5M501.5,366h1.5v6h-1.5M503,339h1.5v5h-1.5M504.5,311h1.5v6h-1.5M504.5,333h1.5v6h-1.5M504.5,355h1.5v6h-1.5M504.5,366h1.5v6h-1.5M506,333h1.5v6h-1.5M506,366h1.5v17h-1.5M506,388h1.5v6h-1.5M507.5,317h1.5v11h-1.5M507.5,344h1.5v6h-1.5M507.5,355h1.5v6h-1.5M507.5,388h1.5v6h-1.5M507.5,399h1.5v6h-1.5M509,317h1.5v5h-1.5M509,339h1.5v5h-1.5M510.5,317h1.5v5h-1.5M510.5,328h1.5v5h-1.5M510.5,399h1.5v6h-1.5M512,311h1.5v6h-1.5M513.5,311h1.5v6h-1.5M513.5,322h1.5v6h-1.5M515,311h1.5v6h-1.5M516.5,322h1.5v11h-1.5M518,317h1.5v5h-1.5M519.5,317h1.5v11h-1.5M521,317h1.5v16h-1.5M522.5,295h1.5v11h-1.5M522.5,317h1.5v16h-1.5M524,317h1.5v5h-1.5M525.5,317h1.5v5h-1.5M525.5,328h1.5v5h-1.5M527,333h1.5v6h-1.5M528.5,295h1.5v5h-1.5M528.5,306h1.5v11h-1.5M528.5,333h1.5v6h-1.5M530,295h1.5v11h-1.5M530,311h1.5v6h-1.5M530,322h1.5v6h-1.5M531.5,306h1.5v5h-1.5M531.5,322h1.5v6h-1.5M533,306h1.5v5h-1.5M534.5,311h1.5v11h-1.5M534.5,328h1.5v5h-1.5M536,328h1.5v5h-1.5M537.5,295h1.5v5h-1.5M537.5,328h1.5v5h-1.5M540.5,306h1.5v11h-1.5M542,322h1.5v11h-1.5M543.5,295h1.5v5h-1.5M543.5,322h1.5v6h-1.5M545,295h1.5v5h-1.5M546.5,306h1.5v5h-1.5M546.5,328h1.5v5h-1.5M548,289h1.5v6h-1.5M548,300h1.5v22h-1.5M549.5,306h1.5v5h-1.5M551,322h1.5v6h-1.5M552.5,306h1.5v11h-1.5M552.5,328h1.5v5h-1.5M554,289h1.5v17h-1.5M554,328h1.5v5h-1.5M555.5,311h1.5v6h-1.5M555.5,328h1.5v5h-1.5M557,300h1.5v6h-1.5M561.5,322h1.5v6h-1.5M563,317h1.5v16h-1.5M564.5,311h1.5v6h-1.5M564.5,322h1.5v6h-1.5M566,311h1.5v6h-1.5M566,322h1.5v6h-1.5M567.5,289h1.5v11h-1.5M567.5,306h1.5v11h-1.5M569,317h1.5v5h-1.5M569,328h1.5v5h-1.5M570.5,322h1.5v6h-1.5M572,295h1.5v5h-1.5M573.5,300h1.5v6h-1.5M575,311h1.5v6h-1.5M576.5,311h1.5v11h-1.5M578,289h1.5v6h-1.5M578,317h1.5v5h-1.5M579.5,295h1.5v5h-1.5M579.5,311h1.5v6h-1.5M579.5,322h1.5v11h-1.5M581,295h1.5v5h-1.5M581,328h1.5v5h-1.5M582.5,289h1.5v6h-1.5M582.5,317h1.5v5h-1.5M584,289h1.5v11h-1.5M585.5,300h1.5v6h-1.5M585.5,328h1.5v5h-1.5M587,295h1.5v5h-1.5M587,328h1.5v5h-1.5M588.5,289h1.5v6h-1.5M590,295h1.5v5h-1.5M590,322h1.5v11h-1.5M591.5,289h1.5v6h-1.5M591.5,306h1.5v11h-1.5M593,289h1.5v6h-1.5M593,300h1.5v6h-1.5M593,328h1.5v5h-1.5M596,289h1.5v11h-1.5M596,322h1.5v11h-1.5M597.5,311h1.5v22h-1.5M599,289h1.5v6h-1.5M600.5,311h1.5v11h-1.5M602,300h1.5v6h-1.5M602,311h1.5v22h-1.5M603.5,333h1.5v6h-1.5M605,289h1.5v11h-1.5M608,339h1.5v5h-1.5M609.5,295h1.5v5h-1.5M609.5,311h1.5v6h-1.5M611,328h1.5v5h-1.5M612.5,328h1.5v11h-1.5M614,295h1.5v5h-1.5M614,306h1.5v11h-1.5M615.5,317h1.5v5h-1.5M617,289h1.5v6h-1.5M617,300h1.5v6h-1.5M617,311h1.5v6h-1.5M617,328h1.5v5h-1.5M618.5,284h1.5v5h-1.5M618.5,322h1.5v6h-1.5M620,289h1.5v11h-1.5M620,328h1.5v11h-1.5M621.5,295h1.5v5h-1.5M621.5,317h1.5v5h-1.5M623,300h1.5v11h-1.5M623,322h1.5v11h-1.5M624.5,295h1.5v11h-1.5M624.5,317h1.5v5h-1.5M624.5,328h1.5v5h-1.5M627.5,289h1.5v6h-1.5M627.5,300h1.5v17h-1.5M627.5,333h1.5v6h-1.5M629,289h1.5v6h-1.5M629,306h1.5v16h-1.5M629,328h1.5v5h-1.5M630.5,289h1.5v6h-1.5M630.5,322h1.5v11h-1.5M632,278h1.5v6h-1.5M632,289h1.5v6h-1.5M632,333h1.5v6h-1.5M633.5,300h1.5v6h-1.5M633.5,333h1.5v6h-1.5M635,289h1.5v6h-1.5M635,322h1.5v6h-1.5M636.5,300h1.5v6h-1.5M638,295h1.5v5h-1.5M638,328h1.5v5h-1.5M639.5,278h1.5v6h-1.5M639.5,295h1.5v5h-1.5M639.5,328h1.5v5h-1.5M642.5,311h1.5v6h-1.5M642.5,328h1.5v5h-1.5M645.5,311h1.5v11h-1.5M648.5,289h1.5v6h-1.5M648.5,300h1.5v6h-1.5M650,278h1.5v6h-1.5M650,306h1.5v5h-1.5M651.5,295h1v5h-1"/>
<path fill="#ffc600" d="M155,245h1.5v6h-1.5M158,206h1.5v6h-1.5M158,217h1.5v6h-1.5M158,228h1.5v6h-1.5M158,240h1.5v5h-1.5M158,256h1.5v6h-1.5M158,284h1.5v5h-1.5M159.5,212h1.5v5h-1.5M159.5,223h1.5v5h-1.5M159.5,240h1.5v5h-1.5M159.5,273h1.5v22h-1.5M159.5,306h1.5v5h-1.5M161,223h1.5v5h-1.5M161,256h1.5v11h-1.5M161,273h1.5v5h-1.5M161,284h1.5v5h-1.5M162.5,195h1.5v6h-1.5M162.5,234h1.5v11h-1.5M162.5,300h1.5v6h-1.5M162.5,388h1.5v6h-1.5M164,190h1.5v5h-1.5M164,201h1.5v5h-1.5M164,212h1.5v5h-1.5M164,228h1.5v12h-1.5M164,245h1.5v11h-1.5M164,284h1.5v11h-1.5M164,317h1.5v5h-1.5M164,344h1.5v11h-1.5M164,372h1.5v5h-1.5M164,383h1.5v11h-1.5M165.5,195h1.5v6h-1.5M165.5,217h1.5v6h-1.5M165.5,251h1.5v11h-1.5M165.5,273h1.5v5h-1.5M165.5,284h1.5v27h-1.5M165.5,333h1.5v6h-1.5M165.5,344h1.5v6h-1.5M167,262h1.5v5h-1.5M167,284h1.5v5h-1.5M167,350h1.5v5h-1.5M168.5,333h1.5v11h-1.5M168.5,355h1.5v11h-1.5M168.5,377h1.5v6h-1.5M170,361h1.5v5h-1.5M174.5,317h1.5v11h-1.5M174.5,339h1.5v16h-1.5M176,317h1.5v5h-1.5M176,328h1.5v5h-1.5M177.5,333h1.5v6h-1.5M182,344h1.5v6h-1.5M182,366h1.5v6h-1.5M185,91h1.5v5h-1.5M185,339h1.5v5h-1.5M186.5,80h1.5v5h-1.5M186.5,91h1.5v5h-1.5M186.5,339h1.5v11h-1.5M186.5,355h1.5v11h-1.5M186.5,372h1.5v5h-1.5M186.5,399h1.5v6h-1.5M188,377h1.5v11h-1.5M188,399h1.5v6h-1.5M327.5,256h1.5v6h-1.5M329,245h1.5v6h-1.5M335,289h1.5v6h-1.5M335,317h1.5v11h-1.5M335,355h1.5v11h-1.5M335,372h1.5v5h-1.5M335,388h1.5v6h-1.5M336.5,300h1.5v6h-1.5M336.5,311h1.5v6h-1.5M336.5,322h1.5v6h-1.5M336.5,333h1.5v11h-1.5M336.5,350h1.5v5h-1.5M336.5,361h1.5v5h-1.5M336.5,388h1.5v6h-1.5M338,322h1.5v11h-1.5M338,344h1.5v6h-1.5M338,361h1.5v5h-1.5M338,372h1.5v11h-1.5M338,388h1.5v6h-1.5M339.5,284h1.5v11h-1.5M339.5,300h1.5v11h-1.5M339.5,333h1.5v6h-1.5M339.5,377h1.5v6h-1.5M339.5,399h1.5v6h-1.5M341,284h1.5v16h-1.5M341,317h1.5v11h-1.5M341,344h1.5v6h-1.5M341,355h1.5v11h-1.5M341,377h1.5v6h-1.5M342.5,300h1.5v11h-1.5M342.5,328h1.5v5h-1.5M342.5,372h1.5v5h-1.5M342.5,394h1.5v5h-1.5M344,240h1.5v16h-1.5M344,278h1.5v6h-1.5M344,300h1.5v11h-1.5M345.5,300h1.5v6h-1.5M345.5,322h1.5v6h-1.5M345.5,383h1.5v5h-1.5M347,322h1.5v17h-1.5M347,350h1.5v5h-1.5M347,361h1.5v5h-1.5M347,383h1.5v5h-1.5M348.5,399h1.5v6h-1.5M351.5,251h1.5v5h-1.5M356,388h1.5v6h-1.5M398,383h1.5v5h-1.5M401,388h1.5v11h-1.5M407,388h1.5v6h-1.5M408.5,361h1.5v5h-1.5M408.5,383h1.5v5h-1.5M410,366h1.5v6h-1.5M410,377h1.5v6h-1.5M410,394h1.5v5h-1.5M411.5,399h1.5v6h-1.5M413,372h1.5v11h-1.5M414.5,366h1.5v6h-1.5M416,372h1.5v16h-1.5M419,344h1.5v6h-1.5M419,372h1.5v5h-1.5M420.5,366h1.5v22h-1.5M422,350h1.5v11h-1.5M423.5,383h1.5v5h-1.5M423.5,399h1.5v6h-1.5M425,350h1.5v5h-1.5M425,366h1.5v6h-1.5M426.5,399h1.5v6h-1.5M428,383h1.5v11h-1.5M429.5,350h1.5v5h-1.5M429.5,383h1.5v11h-1.5M431,344h1.5v6h-1.5M432.5,388h1.5v11h-1.5M434,399h1.5v6h-1.5M443,350h1.5v5h-1.5M444.5,350h1.5v5h-1.5M452,344h1.5v6h-1.5M456.5,339h1.5v11h-1.5M458,350h1.5v5h-1.5M467,388h1.5v6h-1.5M468.5,361h1.5v11h-1.5M468.5,399h1.5v6h-1.5M470,350h1.5v16h-1.5M470,388h1.5v6h-1.5M470,399h1.5v6h-1.5M471.5,355h1.5v17h-1.5M471.5,394h1.5v11h-1.5M473,372h1.5v5h-1.5M474.5,344h1.5v6h-1.5M474.5,355h1.5v6h-1.5M474.5,366h1.5v11h-1.5M474.5,383h1.5v22h-1.5M476,377h1.5v6h-1.5M476,399h1.5v6h-1.5M480.5,344h1.5v6h-1.5M492.5,355h1.5v6h-1.5M492.5,372h1.5v11h-1.5M492.5,388h1.5v6h-1.5M494,355h1.5v6h-1.5M494,394h1.5v11h-1.5M497,383h1.5v11h-1.5M497,399h1.5v6h-1.5M498.5,394h1.5v5h-1.5M500,388h1.5v11h-1.5M501.5,355h1.5v6h-1.5M504.5,372h1.5v22h-1.5M506,322h1.5v6h-1.5M506,339h1.5v5h-1.5M506,355h1.5v11h-1.5M506,383h1.5v5h-1.5M507.5,383h1.5v5h-1.5M507.5,394h1.5v5h-1.5M510.5,322h1.5v6h-1.5M512,317h1.5v5h-1.5M518,311h1.5v6h-1.5M518,322h1.5v6h-1.5M519.5,311h1.5v6h-1.5M521,311h1.5v6h-1.5M522.5,311h1.5v6h-1.5M524,311h1.5v6h-1.5M525.5,322h1.5v6h-1.5M527,300h1.5v6h-1.5M528.5,322h1.5v11h-1.5M530,317h1.5v5h-1.5M530,328h1.5v5h-1.5M531.5,328h1.5v5h-1.5M533,311h1.5v6h-1.5M533,322h1.5v6h-1.5M536,311h1.5v11h-1.5M537.5,300h1.5v6h-1.5M537.5,311h1.5v6h-1.5M537.5,322h1.5v6h-1.5M539,311h1.5v6h-1.5M539,322h1.5v6h-1.5M542,289h1.5v11h-1.5M542,306h1.5v5h-1.5M542,317h1.5v5h-1.5M543.5,289h1.5v6h-1.5M543.5,328h1.5v5h-1.5M545,311h1.5v22h-1.5M546.5,311h1.5v6h-1.5M546.5,322h1.5v6h-1.5M548,322h1.5v11h-1.5M554,311h1.5v6h-1.5M555.5,322h1.5v6h-1.5M558.5,311h1.5v6h-1.5M560,311h1.5v11h-1.5M563,306h1.5v5h-1.5M564.5,289h1.5v6h-1.5M566,306h1.5v5h-1.5M567.5,317h1.5v11h-1.5M569,311h1.5v6h-1.5M572,311h1.5v17h-1.5M573.5,311h1.5v11h-1.5M573.5,328h1.5v5h-1.5M575,306h1.5v5h-1.5M575,322h1.5v6h-1.5M578,295h1.5v5h-1.5M578,311h1.5v6h-1.5M578,328h1.5v5h-1.5M579.5,306h1.5v5h-1.5M579.5,317h1.5v5h-1.5M581,289h1.5v6h-1.5M581,311h1.5v6h-1.5M582.5,295h1.5v11h-1.5M582.5,311h1.5v6h-1.5M582.5,328h1.5v5h-1.5M584,300h1.5v6h-1.5M584,311h1.5v6h-1.5M585.5,311h1.5v6h-1.5M585.5,322h1.5v6h-1.5M587,289h1.5v6h-1.5M587,300h1.5v6h-1.5M587,317h1.5v11h-1.5M588.5,317h1.5v16h-1.5M590,289h1.5v6h-1.5M590,300h1.5v6h-1.5M590,317h1.5v5h-1.5M593,295h1.5v5h-1.5M593,311h1.5v17h-1.5M594.5,322h1.5v6h-1.5M596,300h1.5v17h-1.5M597.5,306h1.5v5h-1.5M599,300h1.5v6h-1.5M600.5,306h1.5v5h-1.5M600.5,322h1.5v6h-1.5M602,295h1.5v5h-1.5M605,300h1.5v6h-1.5M605,311h1.5v17h-1.5M606.5,289h1.5v11h-1.5M606.5,306h1.5v11h-1.5M608,289h1.5v17h-1.5M609.5,300h1.5v6h-1.5M609.5,328h1.5v5h-1.5M611,289h1.5v17h-1.5M611,311h1.5v11h-1.5M612.5,289h1.5v6h-1.5M614,322h1.5v11h-1.5M615.5,295h1.5v5h-1.5M615.5,311h1.5v6h-1.5M615.5,322h1.5v11h-1.5M617,317h1.5v5h-1.5M618.5,289h1.5v6h-1.5M618.5,300h1.5v6h-1.5M618.5,311h1.5v6h-1.5M618.5,328h1.5v5h-1.5M620,317h1.5v5h-1.5M623,311h1.5v11h-1.5M624.5,306h1.5v11h-1.5M624.5,322h1.5v6h-1.5M626,284h1.5v11h-1.5M626,317h1.5v5h-1.5M627.5,322h1.5v6h-1.5M629,322h1.5v6h-1.5M630.5,300h1.5v11h-1.5M635,284h1.5v5h-1.5M635,328h1.5v5h-1.5M638,306h1.5v22h-1.5M639.5,289h1.5v6h-1.5M639.5,306h1.5v11h-1.5M639.5,322h1.5v6h-1.5M641,284h1.5v16h-1.5M641,306h1.5v11h-1.5M641,322h1.5v6h-1.5M642.5,284h1.5v5h-1.5M642.5,295h1.5v11h-1.5M644,295h1.5v5h-1.5M644,311h1.5v6h-1.5M645.5,284h1.5v22h-1.5M645.5,322h1.5v6h-1.5M648.5,278h1.5v11h-1.5M648.5,295h1.5v5h-1.5M650,284h1.5v11h-1.5"/>
<path fill="#ffa000" d="M158,212h1.5v5h-1.5M158,251h1.5v5h-1.5M159.5,217h1.5v6h-1.5M159.5,228h1.5v12h-1.5M159.5,251h1.5v16h-1.5M159.5,300h1.5v6h-1.5M161,240h1.5v11h-1.5M162.5,201h1.5v11h-1.5M162.5,217h1.5v6h-1.5M162.5,228h1.5v6h-1.5M162.5,273h1.5v11h-1.5M162.5,295h1.5v5h-1.5M164,195h1.5v6h-1.5M164,366h1.5v6h-1.5M164,377h1.5v6h-1.5M164,394h1.5v5h-1.5M165.5,228h1.5v17h-1.5M165.5,262h1.5v5h-1.5M165.5,339h1.5v5h-1.5M165.5,350h1.5v11h-1.5M167,355h1.5v6h-1.5M167,366h1.5v17h-1.5M167,388h1.5v17h-1.5M168.5,366h1.5v11h-1.5M168.5,388h1.5v6h-1.5M170,339h1.5v16h-1.5M170,366h1.5v6h-1.5M170,399h1.5v6h-1.5M171.5,333h1.5v6h-1.5M173,333h1.5v6h-1.5M173,350h1.5v11h-1.5M173,377h1.5v6h-1.5M174.5,355h1.5v6h-1.5M176,333h1.5v11h-1.5M177.5,339h1.5v27h-1.5M179,80h1.5v5h-1.5M179,350h1.5v16h-1.5M180.5,339h1.5v11h-1.5M180.5,361h1.5v5h-1.5M182,333h1.5v6h-1.5M182,350h1.5v11h-1.5M182,377h1.5v6h-1.5M183.5,80h1.5v5h-1.5M183.5,333h1.5v6h-1.5M185,333h1.5v6h-1.5M185,344h1.5v22h-1.5M186.5,85h1.5v6h-1.5M186.5,350h1.5v5h-1.5M186.5,377h1.5v6h-1.5M186.5,394h1.5v5h-1.5M188,394h1.5v5h-1.5M191,80h1.5v5h-1.5M335,344h1.5v11h-1.5M335,394h1.5v5h-1.5M336.5,284h1.5v5h-1.5M336.5,328h1.5v5h-1.5M336.5,366h1.5v22h-1.5M336.5,394h1.5v11h-1.5M338,262h1.5v5h-1.5M338,295h1.5v5h-1.5M338,317h1.5v5h-1.5M338,333h1.5v6h-1.5M338,350h1.5v5h-1.5M338,383h1.5v5h-1.5M338,399h1.5v6h-1.5M339.5,311h1.5v11h-1.5M339.5,339h1.5v5h-1.5M339.5,355h1.5v6h-1.5M339.5,366h1.5v6h-1.5M339.5,383h1.5v5h-1.5M339.5,394h1.5v5h-1.5M341,350h1.5v5h-1.5M341,366h1.5v6h-1.5M341,383h1.5v11h-1.5M341,399h1.5v6h-1.5M342.5,289h1.5v11h-1.5M342.5,311h1.5v17h-1.5M342.5,333h1.5v11h-1.5M342.5,350h1.5v5h-1.5M342.5,361h1.5v11h-1.5M342.5,377h1.5v17h-1.5M344,311h1.5v11h-1.5M344,328h1.5v5h-1.5M344,339h1.5v11h-1.5M344,372h1.5v5h-1.5M345.5,284h1.5v16h-1.5M345.5,311h1.5v11h-1.5M345.5,361h1.5v11h-1.5M345.5,377h1.5v6h-1.5M345.5,388h1.5v6h-1.5M345.5,399h1.5v6h-1.5M347,317h1.5v5h-1.5M348.5,388h1.5v6h-1.5M398,394h1.5v5h-1.5M411.5,383h1.5v11h-1.5M413,361h1.5v5h-1.5M413,383h1.5v5h-1.5M414.5,372h1.5v5h-1.5M414.5,383h1.5v11h-1.5M416,388h1.5v6h-1.5M417.5,355h1.5v11h-1.5M417.5,372h1.5v5h-1.5M419,361h1.5v11h-1.5M420.5,361h1.5v5h-1.5M420.5,399h1.5v6h-1.5M422,344h1.5v6h-1.5M422,361h1.5v5h-1.5M422,383h1.5v5h-1.5M425,383h1.5v5h-1.5M425,399h1.5v6h-1.5M428,394h1.5v11h-1.5M431,394h1.5v5h-1.5M432.5,399h1.5v6h-1.5M470,372h1.5v16h-1.5M470,394h1.5v5h-1.5M473,361h1.5v5h-1.5M473,377h1.5v22h-1.5M476,355h1.5v6h-1.5M476,388h1.5v6h-1.5M485,383h1.5v5h-1.5M492.5,383h1.5v5h-1.5M494,377h1.5v6h-1.5M494,388h1.5v6h-1.5M495.5,355h1.5v6h-1.5M495.5,366h1.5v6h-1.5M495.5,377h1.5v22h-1.5M497,355h1.5v17h-1.5M497,394h1.5v5h-1.5M498.5,361h1.5v5h-1.5M498.5,377h1.5v17h-1.5M500,355h1.5v6h-1.5M500,366h1.5v6h-1.5M500,399h1.5v6h-1.5M503,361h1.5v11h-1.5M503,388h1.5v11h-1.5M504.5,361h1.5v5h-1.5M504.5,394h1.5v11h-1.5M506,394h1.5v11h-1.5M507.5,339h1.5v5h-1.5M509,311h1.5v6h-1.5M510.5,311h1.5v6h-1.5M513.5,317h1.5v5h-1.5M516.5,311h1.5v6h-1.5M525.5,311h1.5v6h-1.5M527,289h1.5v6h-1.5M527,311h1.5v6h-1.5M528.5,317h1.5v5h-1.5M531.5,311h1.5v6h-1.5M533,317h1.5v5h-1.5M537.5,306h1.5v5h-1.5M537.5,317h1.5v5h-1.5M542,311h1.5v6h-1.5M543.5,306h1.5v11h-1.5M546.5,317h1.5v5h-1.5M549.5,311h1.5v6h-1.5M549.5,322h1.5v6h-1.5M554,306h1.5v5h-1.5M554,322h1.5v6h-1.5M555.5,306h1.5v5h-1.5M557,317h1.5v5h-1.5M558.5,322h1.5v6h-1.5M560,306h1.5v5h-1.5M561.5,306h1.5v5h-1.5M563,311h1.5v6h-1.5M573.5,306h1.5v5h-1.5M576.5,306h1.5v5h-1.5M578,306h1.5v5h-1.5M578,322h1.5v6h-1.5M581,317h1.5v11h-1.5M582.5,306h1.5v5h-1.5M582.5,322h1.5v6h-1.5M584,322h1.5v11h-1.5M585.5,306h1.5v5h-1.5M588.5,300h1.5v11h-1.5M590,311h1.5v6h-1.5M594.5,300h1.5v6h-1.5M594.5,317h1.5v5h-1.5M594.5,328h1.5v5h-1.5M596,317h1.5v5h-1.5M599,295h1.5v5h-1.5M599,311h1.5v6h-1.5M602,306h1.5v5h-1.5M603.5,317h1.5v11h-1.5M606.5,300h1.5v6h-1.5M606.5,317h1.5v16h-1.5M608,317h1.5v5h-1.5M609.5,322h1.5v6h-1.5M611,322h1.5v6h-1.5M612.5,295h1.5v11h-1.5M612.5,311h1.5v6h-1.5M615.5,300h1.5v11h-1.5M617,295h1.5v5h-1.5M617,306h1.5v5h-1.5M617,322h1.5v6h-1.5M618.5,295h1.5v5h-1.5M618.5,317h1.5v5h-1.5M620,306h1.5v5h-1.5M621.5,306h1.5v11h-1.5M621.5,322h1.5v6h-1.5M626,295h1.5v16h-1.5M626,322h1.5v6h-1.5M627.5,317h1.5v5h-1.5M627.5,328h1.5v5h-1.5M632,311h1.5v6h-1.5M633.5,284h1.5v11h-1.5M633.5,328h1.5v5h-1.5M635,300h1.5v6h-1.5M635,317h1.5v5h-1.5M639.5,300h1.5v6h-1.5M639.5,317h1.5v5h-1.5M641,300h1.5v6h-1.5M642.5,289h1.5v6h-1.5M642.5,306h1.5v5h-1.5M642.5,317h1.5v11h-1.5M644,317h1.5v11h-1.5"/>
<path fill="#ff7300" d="M159.5,206h1.5v6h-1.5M159.5,245h1.5v6h-1.5M159.5,267h1.5v6h-1.5M162.5,223h1.5v5h-1.5M162.5,245h1.5v22h-1.5M164,240h1.5v5h-1.5M164,256h1.5v28h-1.5M164,295h1.5v5h-1.5M165.5,245h1.5v6h-1.5M165.5,267h1.5v6h-1.5M165.5,278h1.5v6h-1.5M165.5,361h1.5v33h-1.5M168.5,394h1.5v11h-1.5M170,383h1.5v5h-1.5M170,394h1.5v5h-1.5M171.5,344h1.5v6h-1.5M171.5,355h1.5v11h-1.5M171.5,383h1.5v5h-1.5M173,339h1.5v11h-1.5M173,361h1.5v5h-1.5M173,399h1.5v6h-1.5M174.5,333h1.5v6h-1.5M174.5,361h1.5v5h-1.5M176,85h1.5v6h-1.5M176,344h1.5v6h-1.5M176,355h1.5v6h-1.5M176,399h1.5v6h-1.5M177.5,372h1.5v5h-1.5M179,333h1.5v6h-1.5M179,372h1.5v5h-1.5M179,388h1.5v6h-1.5M180.5,333h1.5v6h-1.5M180.5,350h1.5v5h-1.5M182,339h1.5v5h-1.5M182,361h1.5v5h-1.5M182,388h1.5v6h-1.5M183.5,339h1.5v5h-1.5M183.5,350h1.5v16h-1.5M183.5,399h1.5v6h-1.5M186.5,366h1.5v6h-1.5M336.5,344h1.5v6h-1.5M338,311h1.5v6h-1.5M338,339h1.5v5h-1.5M339.5,344h1.5v6h-1.5M341,300h1.5v6h-1.5M341,311h1.5v6h-1.5M341,328h1.5v11h-1.5M342.5,344h1.5v6h-1.5M342.5,355h1.5v6h-1.5M342.5,399h1.5v6h-1.5M344,284h1.5v5h-1.5M344,322h1.5v6h-1.5M344,333h1.5v6h-1.5M344,383h1.5v11h-1.5M344,399h1.5v6h-1.5M345.5,328h1.5v11h-1.5M345.5,350h1.5v11h-1.5M345.5,372h1.5v5h-1.5M345.5,394h1.5v5h-1.5M408.5,388h1.5v11h-1.5M410,388h1.5v6h-1.5M414.5,394h1.5v11h-1.5M417.5,383h1.5v5h-1.5M417.5,394h1.5v5h-1.5M419,377h1.5v11h-1.5M419,394h1.5v5h-1.5M420.5,388h1.5v11h-1.5M422,366h1.5v17h-1.5M423.5,388h1.5v11h-1.5M425,388h1.5v6h-1.5M426.5,394h1.5v5h-1.5M431,399h1.5v6h-1.5M470,366h1.5v6h-1.5M476,344h1.5v6h-1.5M494,361h1.5v16h-1.5M494,383h1.5v5h-1.5M497,372h1.5v5h-1.5M498.5,355h1.5v6h-1.5M498.5,366h1.5v11h-1.5M500,361h1.5v5h-1.5M500,383h1.5v5h-1.5M501.5,361h1.5v5h-1.5M501.5,377h1.5v28h-1.5M503,355h1.5v6h-1.5M503,377h1.5v11h-1.5M503,399h1.5v6h-1.5M516.5,317h1.5v5h-1.5M527,317h1.5v5h-1.5M527,328h1.5v5h-1.5M554,317h1.5v5h-1.5M564.5,306h1.5v5h-1.5M569,306h1.5v5h-1.5M572,306h1.5v5h-1.5M587,311h1.5v6h-1.5M588.5,295h1.5v5h-1.5M593,306h1.5v5h-1.5M594.5,289h1.5v6h-1.5M599,306h1.5v5h-1.5M599,317h1.5v5h-1.5M599,328h1.5v5h-1.5M603.5,289h1.5v17h-1.5M603.5,311h1.5v6h-1.5M603.5,328h1.5v5h-1.5M605,306h1.5v5h-1.5M608,322h1.5v11h-1.5M611,306h1.5v5h-1.5M612.5,317h1.5v11h-1.5M618.5,306h1.5v5h-1.5M626,311h1.5v6h-1.5M632,284h1.5v5h-1.5M632,295h1.5v16h-1.5M632,322h1.5v11h-1.5M633.5,295h1.5v5h-1.5M633.5,317h1.5v5h-1.5M635,295h1.5v5h-1.5M635,306h1.5v11h-1.5M641,317h1.5v5h-1.5M644,300h1.5v6h-1.5"/>
<path fill="#ff4600" d="M162.5,267h1.5v6h-1.5M164,399h1.5v6h-1.5M165.5,394h1.5v5h-1.5M168.5,383h1.5v5h-1.5M170,372h1.5v11h-1.5M170,388h1.5v6h-1.5M171.5,366h1.5v17h-1.5M171.5,388h1.5v6h-1.5M171.5,399h1.5v6h-1.5M173,388h1.5v11h-1.5M174.5,366h1.5v6h-1.5M174.5,394h1.5v5h-1.5M176,350h1.5v5h-1.5M176,361h1.5v5h-1.5M177.5,377h1.5v17h-1.5M179,339h1.5v5h-1.5M179,383h1.5v5h-1.5M179,399h1.5v6h-1.5M180.5,355h1.5v6h-1.5M180.5,366h1.5v11h-1.5M182,383h1.5v5h-1.5M182,394h1.5v5h-1.5M183.5,344h1.5v6h-1.5M185,366h1.5v17h-1.5M185,388h1.5v6h-1.5M186.5,388h1.5v6h-1.5M338,394h1.5v5h-1.5M344,289h1.5v11h-1.5M344,355h1.5v17h-1.5M344,377h1.5v6h-1.5M345.5,339h1.5v11h-1.5M408.5,399h1.5v6h-1.5M413,388h1.5v17h-1.5M416,394h1.5v11h-1.5M417.5,366h1.5v6h-1.5M417.5,377h1.5v6h-1.5M417.5,388h1.5v6h-1.5M417.5,399h1.5v6h-1.5M419,399h1.5v6h-1.5M422,388h1.5v6h-1.5M422,399h1.5v6h-1.5M425,394h1.5v5h-1.5M426.5,388h1.5v6h-1.5M429.5,394h1.5v5h-1.5M498.5,399h1.5v6h-1.5M531.5,317h1.5v5h-1.5M543.5,317h1.5v5h-1.5M581,306h1.5v5h-1.5M584,306h1.5v5h-1.5M584,317h1.5v5h-1.5M587,306h1.5v5h-1.5M588.5,311h1.5v6h-1.5M590,306h1.5v5h-1.5M594.5,306h1.5v11h-1.5M599,322h1.5v6h-1.5M603.5,306h1.5v5h-1.5M608,306h1.5v11h-1.5M609.5,306h1.5v5h-1.5M612.5,306h1.5v5h-1.5M632,317h1.5v5h-1.5M633.5,306h1.5v11h-1.5M633.5,322h1.5v6h-1.5"/>
<path fill="#ff2300" d="M165.5,399h1.5v6h-1.5M171.5,394h1.5v5h-1.5M173,372h1.5v5h-1.5M173,383h1.5v5h-1.5M174.5,372h1.5v11h-1.5M174.5,388h1.5v6h-1.5M176,366h1.5v6h-1.5M176,383h1.5v16h-1.5M177.5,394h1.5v11h-1.5M179,366h1.5v6h-1.5M180.5,377h1.5v11h-1.5M180.5,394h1.5v5h-1.5M182,372h1.5v5h-1.5M183.5,372h1.5v27h-1.5M185,383h1.5v5h-1.5M185,394h1.5v11h-1.5M186.5,383h1.5v5h-1.5M344,350h1.5v5h-1.5M344,394h1.5v5h-1.5M419,388h1.5v6h-1.5M429.5,399h1.5v6h-1.5M501.5,372h1.5v5h-1.5M527,322h1.5v6h-1.5"/>
<path fill="#ff0000" d="M173,366h1.5v6h-1.5M174.5,383h1.5v5h-1.5M174.5,399h1.5v6h-1.5M176,372h1.5v11h-1.5M177.5,366h1.5v6h-1.5M179,377h1.5v6h-1.5M179,394h1.5v5h-1.5M180.5,388h1.5v6h-1.5M180.5,399h1.5v6h-1.5M182,399h1.5v6h-1.5M183.5,366h1.5v6h-1.5M422,394h1.5v5h-1.5"/>
</g>
<g clip-path="url(#cpm)">
<rect x="143" y="134" width="130" height="3.5" fill="#00d8e8" opacity="0.75"/>
<rect x="273" y="134" width="45" height="3.5" fill="#30a0ff" opacity="0.8"/>
<rect x="318" y="134.5" width="335" height="2.5" fill="#1040ff" opacity="0.6"/>
<rect x="300" y="137.5" width="353" height="4" fill="#0000c8" opacity="0.45"/>
<rect x="234" y="187" width="72" height="3" fill="#30a8ff" opacity="0.8"/>
<rect x="291" y="181" width="12" height="2" fill="#30a8ff" opacity="0.6"/>
<rect x="570" y="147.5" width="60" height="3.5" fill="#10a0ff" opacity="0.9"/>
<rect x="460" y="141.5" width="42" height="2.5" fill="#1080ff" opacity="0.8"/>
<rect x="586" y="179" width="40" height="5" fill="#20d0f0" opacity="0.6"/>
<rect x="143" y="52" width="6" height="21" fill="#0040f0"/>
<rect x="143" y="73" width="6" height="64.5" fill="#00f08c"/>
<rect x="143" y="137.5" width="6" height="24" fill="#0000c8"/>
<rect x="143" y="161.5" width="6" height="145" fill="#00f08c"/>
<rect x="143" y="246" width="6" height="4" fill="#ffe600"/>
<rect x="143" y="312" width="6" height="93" fill="#10b8ff"/>
<rect x="149" y="73" width="2" height="232" fill="#0018e0" opacity="0.85"/>
<rect x="164" y="170" width="2.5" height="136" fill="#ff9a00" opacity="0.85"/>
<rect x="163" y="137" width="2" height="40" fill="#d8f000" opacity="0.8"/>
<rect x="162.5" y="312" width="2" height="93" fill="#ff5a00" opacity="0.85"/>
<rect x="227.5" y="312" width="1.6" height="93" fill="#ff9000" opacity="0.9"/>
<rect x="229" y="165" width="1.6" height="141" fill="#60f020" opacity="0.8"/>
<rect x="247" y="215" width="1.3" height="91" fill="#20d0f0" opacity="0.8"/>
<rect x="263.5" y="225" width="1.3" height="81" fill="#20d0f0" opacity="0.7"/>
<rect x="526" y="402" width="120" height="3" fill="#ffe000" opacity="0.9"/>
<rect x="143" y="306" width="511" height="6" fill="#fff"/>
<path d="M145.5,69 L152,74.5 L160,81.5 L168,88 L177,95 L188,103 L200,111.5 L214,120.5 L228.5,129 L245,137.5 L258,143 L271,148 L290,155 L310,161.5 L336,169.5 L360,175.5 L380,179.5 L399,183 L430,187.5 L464.5,191.5 L495,194 L526,196 L560,196.3 L617,196.3 L619,195.2 L648.5,195.2" fill="none" stroke="#f018d8" stroke-width="2" stroke-linejoin="round"/>
</g>
<g clip-path="url(#cpl)" shape-rendering="crispEdges">
<rect x="143.0" y="428" width="509.5" height="76" fill="#ffc000"/>
<path fill="#00b4fc" d="M267.5,428h1.5v6h-1.5M278,428h1.5v6h-1.5"/>
<path fill="#00d2f8" d="M243.5,428h1.5v6h-1.5M249.5,428h1.5v6h-1.5M261.5,428h1.5v6h-1.5M263,428h1.5v6h-1.5M296,428h1.5v6h-1.5M311,428h1.5v6h-1.5M312.5,428h1.5v6h-1.5M317,428h1.5v6h-1.5"/>
<path fill="#00f0f5" d="M239,428h1.5v6h-1.5M254,428h1.5v6h-1.5M258.5,428h1.5v6h-1.5M264.5,428h1.5v6h-1.5M273.5,428h1.5v6h-1.5M275,428h1.5v6h-1.5M279.5,428h1.5v6h-1.5M284,428h1.5v6h-1.5M287,428h1.5v6h-1.5M293,428h1.5v6h-1.5M294.5,428h1.5v6h-1.5M299,428h1.5v6h-1.5M305,428h1.5v6h-1.5M309.5,428h1.5v6h-1.5M314,428h1.5v6h-1.5"/>
<path fill="#00f2d5" d="M147.5,428h1.5v6h-1.5M228.5,428h1.5v6h-1.5M231.5,428h1.5v6h-1.5M233,428h1.5v6h-1.5M234.5,428h1.5v6h-1.5M236,428h1.5v6h-1.5M240.5,428h1.5v6h-1.5M242,428h1.5v6h-1.5M245,428h1.5v6h-1.5M246.5,428h1.5v6h-1.5M248,428h1.5v6h-1.5M252.5,428h1.5v6h-1.5M255.5,428h1.5v6h-1.5M257,428h1.5v6h-1.5M267.5,434h1.5v11h-1.5M270.5,428h1.5v6h-1.5M278,434h1.5v11h-1.5M281,428h1.5v6h-1.5M282.5,428h1.5v6h-1.5M285.5,428h1.5v6h-1.5M288.5,428h1.5v6h-1.5M290,428h1.5v6h-1.5M291.5,428h1.5v6h-1.5M308,428h1.5v6h-1.5M309.5,434h1.5v11h-1.5M311,434h1.5v11h-1.5M312.5,434h1.5v11h-1.5M332,428h1.5v6h-1.5"/>
<path fill="#00f3b6" d="M143,428h1.5v6h-1.5M144.5,428h1.5v6h-1.5M146,428h1.5v6h-1.5M237.5,428h1.5v6h-1.5M243.5,434h1.5v11h-1.5M249.5,434h1.5v11h-1.5M260,428h1.5v6h-1.5M261.5,434h1.5v11h-1.5M263,434h1.5v11h-1.5M264.5,434h1.5v11h-1.5M266,428h1.5v6h-1.5M269,428h1.5v6h-1.5M272,428h1.5v6h-1.5M273.5,434h1.5v11h-1.5M275,434h1.5v11h-1.5M276.5,428h1.5v6h-1.5M279.5,434h1.5v11h-1.5M284,434h1.5v11h-1.5M287,434h1.5v11h-1.5M294.5,434h1.5v11h-1.5M296,434h1.5v11h-1.5M297.5,428h1.5v6h-1.5M300.5,428h1.5v6h-1.5M303.5,428h1.5v6h-1.5M305,434h1.5v11h-1.5M306.5,428h1.5v6h-1.5M315.5,428h1.5v6h-1.5M317,434h1.5v11h-1.5M318.5,428h1.5v6h-1.5M323,428h1.5v6h-1.5M324.5,428h1.5v6h-1.5M327.5,428h1.5v6h-1.5M329,428h1.5v6h-1.5M332,434h1.5v11h-1.5"/>
<path fill="#00f596" d="M149,428h1.5v6h-1.5M150.5,428h1.5v6h-1.5M230,428h1.5v6h-1.5M239,434h1.5v11h-1.5M251,428h1.5v6h-1.5M254,434h1.5v11h-1.5M255.5,434h1.5v11h-1.5M257,434h1.5v11h-1.5M258.5,434h1.5v11h-1.5M270.5,434h1.5v11h-1.5M282.5,434h1.5v11h-1.5M285.5,434h1.5v11h-1.5M288.5,434h1.5v11h-1.5M290,434h1.5v11h-1.5M293,434h1.5v11h-1.5M299,434h1.5v11h-1.5M302,428h1.5v6h-1.5M308,434h1.5v11h-1.5M314,434h1.5v11h-1.5M315.5,434h1.5v11h-1.5M320,428h1.5v6h-1.5M321.5,428h1.5v6h-1.5M324.5,434h1.5v11h-1.5M326,428h1.5v6h-1.5M329,434h1.5v11h-1.5M330.5,428h1.5v6h-1.5M437,434h1.5v11h-1.5M593,434h1.5v11h-1.5M599,434h1.5v11h-1.5M620,434h1.5v11h-1.5M642.5,434h1.5v11h-1.5M648.5,434h1.5v11h-1.5"/>
<path fill="#03f26b" d="M144.5,434h1.5v11h-1.5M146,434h1.5v11h-1.5M192.5,428h1.5v6h-1.5M215,428h1.5v6h-1.5M236,434h1.5v11h-1.5M237.5,434h1.5v11h-1.5M240.5,434h1.5v11h-1.5M242,434h1.5v11h-1.5M245,434h1.5v11h-1.5M246.5,434h1.5v11h-1.5M248,434h1.5v11h-1.5M252.5,434h1.5v11h-1.5M266,434h1.5v11h-1.5M267.5,445h1.5v10h-1.5M272,434h1.5v11h-1.5M276.5,434h1.5v11h-1.5M281,434h1.5v11h-1.5M291.5,434h1.5v11h-1.5M296,445h1.5v10h-1.5M297.5,434h1.5v11h-1.5M300.5,434h1.5v11h-1.5M303.5,434h1.5v11h-1.5M306.5,434h1.5v11h-1.5M309.5,445h1.5v10h-1.5M311,445h1.5v10h-1.5M312.5,445h1.5v10h-1.5M318.5,434h1.5v11h-1.5M323,434h1.5v11h-1.5M326,434h1.5v11h-1.5M327.5,434h1.5v11h-1.5M437,428h1.5v6h-1.5M453.5,428h1.5v6h-1.5M453.5,434h1.5v11h-1.5M458,428h1.5v6h-1.5M458,434h1.5v11h-1.5M537.5,434h1.5v11h-1.5M539,434h1.5v11h-1.5M540.5,434h1.5v11h-1.5M543.5,434h1.5v11h-1.5M546.5,434h1.5v11h-1.5M560,434h1.5v11h-1.5M587,434h1.5v11h-1.5M593,445h1.5v10h-1.5M594.5,434h1.5v11h-1.5M596,434h1.5v11h-1.5M597.5,434h1.5v11h-1.5M602,434h1.5v11h-1.5M603.5,434h1.5v11h-1.5M606.5,428h1.5v6h-1.5M606.5,434h1.5v11h-1.5M608,434h1.5v11h-1.5M609.5,434h1.5v11h-1.5M614,434h1.5v11h-1.5M620,428h1.5v6h-1.5M624.5,434h1.5v11h-1.5M638,434h1.5v11h-1.5M641,434h1.5v11h-1.5M642.5,428h1.5v6h-1.5M642.5,445h1.5v10h-1.5M644,428h1.5v6h-1.5M644,434h1.5v11h-1.5M645.5,434h1.5v11h-1.5M647,434h1.5v11h-1.5M648.5,428h1.5v6h-1.5M651.5,434h1v11h-1"/>
<path fill="#07ee3f" d="M143,434h1.5v11h-1.5M143,455h1.5v10h-1.5M147.5,434h1.5v11h-1.5M191,428h1.5v6h-1.5M192.5,434h1.5v11h-1.5M197,428h1.5v6h-1.5M209,428h1.5v6h-1.5M210.5,428h1.5v6h-1.5M213.5,428h1.5v6h-1.5M215,434h1.5v11h-1.5M216.5,428h1.5v6h-1.5M228.5,434h1.5v11h-1.5M230,434h1.5v11h-1.5M231.5,434h1.5v11h-1.5M234.5,434h1.5v11h-1.5M243.5,445h1.5v10h-1.5M249.5,445h1.5v10h-1.5M251,434h1.5v11h-1.5M260,434h1.5v11h-1.5M261.5,445h1.5v10h-1.5M263,445h1.5v10h-1.5M264.5,445h1.5v10h-1.5M269,434h1.5v11h-1.5M273.5,445h1.5v10h-1.5M278,445h1.5v10h-1.5M279.5,445h1.5v10h-1.5M284,445h1.5v10h-1.5M305,445h1.5v10h-1.5M314,445h1.5v10h-1.5M317,445h1.5v10h-1.5M320,434h1.5v11h-1.5M321.5,434h1.5v11h-1.5M330.5,434h1.5v11h-1.5M437,445h1.5v10h-1.5M437,465h1.5v11h-1.5M453.5,445h1.5v10h-1.5M458,445h1.5v10h-1.5M531.5,428h1.5v6h-1.5M539,428h1.5v6h-1.5M540.5,428h1.5v6h-1.5M540.5,445h1.5v10h-1.5M543.5,428h1.5v6h-1.5M546.5,428h1.5v6h-1.5M546.5,445h1.5v10h-1.5M554,434h1.5v11h-1.5M557,434h1.5v11h-1.5M561.5,428h1.5v6h-1.5M561.5,434h1.5v11h-1.5M561.5,445h1.5v10h-1.5M564.5,434h1.5v11h-1.5M566,434h1.5v11h-1.5M567.5,428h1.5v6h-1.5M567.5,434h1.5v11h-1.5M567.5,445h1.5v10h-1.5M569,428h1.5v6h-1.5M569,434h1.5v11h-1.5M569,445h1.5v10h-1.5M572,434h1.5v11h-1.5M573.5,428h1.5v6h-1.5M573.5,434h1.5v11h-1.5M573.5,445h1.5v10h-1.5M578,434h1.5v11h-1.5M581,434h1.5v11h-1.5M585.5,434h1.5v11h-1.5M587,428h1.5v6h-1.5M590,434h1.5v11h-1.5M591.5,434h1.5v11h-1.5M593,428h1.5v6h-1.5M593,455h1.5v10h-1.5M597.5,428h1.5v6h-1.5M597.5,455h1.5v10h-1.5M599,428h1.5v6h-1.5M599,445h1.5v10h-1.5M599,455h1.5v10h-1.5M600.5,428h1.5v6h-1.5M600.5,434h1.5v11h-1.5M602,428h1.5v6h-1.5M602,445h1.5v10h-1.5M603.5,428h1.5v6h-1.5M605,434h1.5v11h-1.5M606.5,445h1.5v10h-1.5M606.5,455h1.5v10h-1.5M609.5,445h1.5v10h-1.5M611,428h1.5v6h-1.5M611,434h1.5v11h-1.5M612.5,428h1.5v6h-1.5M612.5,434h1.5v11h-1.5M615.5,428h1.5v6h-1.5M615.5,434h1.5v11h-1.5M617,428h1.5v6h-1.5M617,434h1.5v11h-1.5M618.5,428h1.5v6h-1.5M618.5,434h1.5v11h-1.5M620,445h1.5v10h-1.5M620,455h1.5v10h-1.5M623,428h1.5v6h-1.5M623,434h1.5v11h-1.5M624.5,428h1.5v6h-1.5M624.5,455h1.5v10h-1.5M626,434h1.5v11h-1.5M627.5,434h1.5v11h-1.5M629,434h1.5v11h-1.5M630.5,434h1.5v11h-1.5M632,434h1.5v11h-1.5M632,445h1.5v10h-1.5M633.5,434h1.5v11h-1.5M635,434h1.5v11h-1.5M636.5,434h1.5v11h-1.5M638,428h1.5v6h-1.5M641,428h1.5v6h-1.5M641,445h1.5v10h-1.5M642.5,455h1.5v10h-1.5M644,445h1.5v10h-1.5M645.5,428h1.5v6h-1.5M645.5,445h1.5v10h-1.5M647,428h1.5v6h-1.5M647,445h1.5v10h-1.5M648.5,445h1.5v10h-1.5M648.5,455h1.5v10h-1.5M650,434h1.5v11h-1.5M651.5,428h1v6h-1M651.5,445h1v10h-1"/>
<path fill="#0aeb14" d="M143,445h1.5v10h-1.5M144.5,445h1.5v10h-1.5M144.5,455h1.5v10h-1.5M146,445h1.5v10h-1.5M146,455h1.5v10h-1.5M147.5,445h1.5v10h-1.5M147.5,455h1.5v10h-1.5M149,445h1.5v10h-1.5M149,455h1.5v10h-1.5M150.5,434h1.5v11h-1.5M150.5,455h1.5v10h-1.5M150.5,465h1.5v11h-1.5M150.5,476h1.5v10h-1.5M194,428h1.5v6h-1.5M195.5,428h1.5v6h-1.5M197,434h1.5v11h-1.5M200,428h1.5v6h-1.5M201.5,428h1.5v6h-1.5M203,428h1.5v6h-1.5M206,428h1.5v6h-1.5M210.5,434h1.5v11h-1.5M212,428h1.5v6h-1.5M219.5,428h1.5v6h-1.5M221,428h1.5v6h-1.5M222.5,428h1.5v6h-1.5M233,434h1.5v11h-1.5M237.5,445h1.5v10h-1.5M239,445h1.5v10h-1.5M240.5,445h1.5v10h-1.5M248,445h1.5v10h-1.5M252.5,445h1.5v10h-1.5M254,445h1.5v10h-1.5M255.5,445h1.5v10h-1.5M257,445h1.5v10h-1.5M258.5,445h1.5v10h-1.5M270.5,445h1.5v10h-1.5M275,445h1.5v10h-1.5M281,445h1.5v10h-1.5M282.5,445h1.5v10h-1.5M284,455h1.5v10h-1.5M285.5,445h1.5v10h-1.5M287,445h1.5v10h-1.5M290,445h1.5v10h-1.5M291.5,445h1.5v10h-1.5M293,445h1.5v10h-1.5M294.5,445h1.5v10h-1.5M299,445h1.5v10h-1.5M302,434h1.5v11h-1.5M308,445h1.5v10h-1.5M311,455h1.5v10h-1.5M312.5,455h1.5v10h-1.5M315.5,445h1.5v10h-1.5M324.5,445h1.5v10h-1.5M329,445h1.5v10h-1.5M332,445h1.5v10h-1.5M435.5,434h1.5v11h-1.5M437,455h1.5v10h-1.5M453.5,465h1.5v11h-1.5M458,465h1.5v11h-1.5M482,428h1.5v6h-1.5M515,428h1.5v6h-1.5M519.5,428h1.5v6h-1.5M524,428h1.5v6h-1.5M531.5,434h1.5v11h-1.5M533,428h1.5v6h-1.5M537.5,428h1.5v6h-1.5M537.5,445h1.5v10h-1.5M539,445h1.5v10h-1.5M539,455h1.5v10h-1.5M540.5,455h1.5v10h-1.5M542,428h1.5v6h-1.5M542,434h1.5v11h-1.5M543.5,445h1.5v10h-1.5M545,434h1.5v11h-1.5M545,445h1.5v10h-1.5M546.5,455h1.5v10h-1.5M548,434h1.5v11h-1.5M549.5,434h1.5v11h-1.5M552.5,428h1.5v6h-1.5M552.5,434h1.5v11h-1.5M554,428h1.5v6h-1.5M555.5,434h1.5v11h-1.5M557,428h1.5v6h-1.5M560,428h1.5v6h-1.5M560,445h1.5v10h-1.5M561.5,455h1.5v10h-1.5M564.5,445h1.5v10h-1.5M569,455h1.5v10h-1.5M570.5,434h1.5v11h-1.5M575,428h1.5v6h-1.5M575,434h1.5v11h-1.5M578,428h1.5v6h-1.5M578,445h1.5v10h-1.5M581,428h1.5v6h-1.5M581,445h1.5v10h-1.5M581,455h1.5v10h-1.5M582.5,434h1.5v11h-1.5M584,428h1.5v6h-1.5M584,434h1.5v11h-1.5M585.5,428h1.5v6h-1.5M587,445h1.5v10h-1.5M587,455h1.5v10h-1.5M588.5,434h1.5v11h-1.5M588.5,445h1.5v10h-1.5M590,428h1.5v6h-1.5M590,445h1.5v10h-1.5M594.5,428h1.5v6h-1.5M594.5,445h1.5v10h-1.5M596,428h1.5v6h-1.5M596,445h1.5v10h-1.5M596,455h1.5v10h-1.5M597.5,445h1.5v10h-1.5M600.5,445h1.5v10h-1.5M600.5,455h1.5v10h-1.5M602,455h1.5v10h-1.5M603.5,445h1.5v10h-1.5M603.5,455h1.5v10h-1.5M605,428h1.5v6h-1.5M605,445h1.5v10h-1.5M608,428h1.5v6h-1.5M608,445h1.5v10h-1.5M608,455h1.5v10h-1.5M609.5,428h1.5v6h-1.5M611,445h1.5v10h-1.5M612.5,445h1.5v10h-1.5M614,428h1.5v6h-1.5M614,445h1.5v10h-1.5M615.5,445h1.5v10h-1.5M615.5,455h1.5v10h-1.5M617,445h1.5v10h-1.5M618.5,445h1.5v10h-1.5M620,465h1.5v11h-1.5M621.5,434h1.5v11h-1.5M623,445h1.5v10h-1.5M623,455h1.5v10h-1.5M624.5,445h1.5v10h-1.5M626,428h1.5v6h-1.5M626,445h1.5v10h-1.5M627.5,428h1.5v6h-1.5M627.5,445h1.5v10h-1.5M629,428h1.5v6h-1.5M630.5,428h1.5v6h-1.5M630.5,445h1.5v10h-1.5M632,428h1.5v6h-1.5M633.5,445h1.5v10h-1.5M635,428h1.5v6h-1.5M635,445h1.5v10h-1.5M636.5,428h1.5v6h-1.5M636.5,455h1.5v10h-1.5M638,445h1.5v10h-1.5M639.5,434h1.5v11h-1.5M641,455h1.5v10h-1.5M642.5,465h1.5v11h-1.5M644,455h1.5v10h-1.5M645.5,455h1.5v10h-1.5M647,455h1.5v10h-1.5M650,428h1.5v6h-1.5M651.5,455h1v10h-1M651.5,465h1v11h-1"/>
<path fill="#3fee0d" d="M143,465h1.5v11h-1.5M144.5,465h1.5v11h-1.5M146,465h1.5v11h-1.5M147.5,465h1.5v11h-1.5M149,434h1.5v11h-1.5M149,465h1.5v11h-1.5M149,476h1.5v10h-1.5M150.5,445h1.5v10h-1.5M189.5,428h1.5v6h-1.5M191,434h1.5v11h-1.5M194,434h1.5v11h-1.5M195.5,434h1.5v11h-1.5M198.5,428h1.5v6h-1.5M201.5,434h1.5v11h-1.5M203,434h1.5v11h-1.5M204.5,428h1.5v6h-1.5M204.5,434h1.5v11h-1.5M207.5,428h1.5v6h-1.5M209,434h1.5v11h-1.5M213.5,434h1.5v11h-1.5M216.5,434h1.5v11h-1.5M219.5,434h1.5v11h-1.5M222.5,434h1.5v11h-1.5M224,428h1.5v6h-1.5M225.5,428h1.5v6h-1.5M236,445h1.5v10h-1.5M242,445h1.5v10h-1.5M245,445h1.5v10h-1.5M246.5,445h1.5v10h-1.5M260,445h1.5v10h-1.5M264.5,455h1.5v10h-1.5M266,445h1.5v10h-1.5M267.5,455h1.5v10h-1.5M269,445h1.5v10h-1.5M272,445h1.5v10h-1.5M275,455h1.5v10h-1.5M276.5,445h1.5v10h-1.5M278,455h1.5v10h-1.5M279.5,455h1.5v10h-1.5M287,455h1.5v10h-1.5M288.5,445h1.5v10h-1.5M296,455h1.5v10h-1.5M297.5,445h1.5v10h-1.5M299,455h1.5v10h-1.5M300.5,445h1.5v10h-1.5M303.5,445h1.5v10h-1.5M305,455h1.5v10h-1.5M306.5,445h1.5v10h-1.5M309.5,455h1.5v10h-1.5M314,455h1.5v10h-1.5M317,455h1.5v10h-1.5M318.5,445h1.5v10h-1.5M323,445h1.5v10h-1.5M327.5,445h1.5v10h-1.5M434,428h1.5v6h-1.5M434,434h1.5v11h-1.5M435.5,428h1.5v6h-1.5M435.5,445h1.5v10h-1.5M438.5,428h1.5v6h-1.5M458,455h1.5v10h-1.5M491,428h1.5v6h-1.5M507.5,428h1.5v6h-1.5M512,428h1.5v6h-1.5M516.5,428h1.5v6h-1.5M521,428h1.5v6h-1.5M522.5,428h1.5v6h-1.5M527,428h1.5v6h-1.5M528.5,428h1.5v6h-1.5M533,434h1.5v11h-1.5M534.5,428h1.5v6h-1.5M543.5,455h1.5v10h-1.5M545,428h1.5v6h-1.5M548,428h1.5v6h-1.5M548,445h1.5v10h-1.5M549.5,428h1.5v6h-1.5M549.5,445h1.5v10h-1.5M549.5,455h1.5v10h-1.5M551,428h1.5v6h-1.5M551,434h1.5v11h-1.5M552.5,445h1.5v10h-1.5M554,445h1.5v10h-1.5M555.5,428h1.5v6h-1.5M555.5,445h1.5v10h-1.5M557,445h1.5v10h-1.5M558.5,428h1.5v6h-1.5M558.5,434h1.5v11h-1.5M558.5,445h1.5v10h-1.5M560,455h1.5v10h-1.5M563,428h1.5v6h-1.5M563,434h1.5v11h-1.5M564.5,428h1.5v6h-1.5M566,428h1.5v6h-1.5M566,445h1.5v10h-1.5M566,455h1.5v10h-1.5M567.5,455h1.5v10h-1.5M570.5,428h1.5v6h-1.5M570.5,445h1.5v10h-1.5M570.5,455h1.5v10h-1.5M572,428h1.5v6h-1.5M572,445h1.5v10h-1.5M572,455h1.5v10h-1.5M576.5,428h1.5v6h-1.5M576.5,434h1.5v11h-1.5M579.5,428h1.5v6h-1.5M579.5,434h1.5v11h-1.5M582.5,428h1.5v6h-1.5M582.5,445h1.5v10h-1.5M584,445h1.5v10h-1.5M585.5,445h1.5v10h-1.5M588.5,428h1.5v6h-1.5M588.5,455h1.5v10h-1.5M590,455h1.5v10h-1.5M590,465h1.5v11h-1.5M591.5,428h1.5v6h-1.5M591.5,445h1.5v10h-1.5M593,465h1.5v11h-1.5M594.5,455h1.5v10h-1.5M597.5,465h1.5v11h-1.5M599,465h1.5v11h-1.5M602,465h1.5v11h-1.5M603.5,465h1.5v11h-1.5M605,455h1.5v10h-1.5M606.5,465h1.5v11h-1.5M608,465h1.5v11h-1.5M609.5,455h1.5v10h-1.5M609.5,465h1.5v11h-1.5M611,455h1.5v10h-1.5M612.5,455h1.5v10h-1.5M614,455h1.5v10h-1.5M614,465h1.5v11h-1.5M617,455h1.5v10h-1.5M618.5,455h1.5v10h-1.5M621.5,428h1.5v6h-1.5M621.5,445h1.5v10h-1.5M621.5,455h1.5v10h-1.5M624.5,465h1.5v11h-1.5M626,455h1.5v10h-1.5M627.5,455h1.5v10h-1.5M629,445h1.5v10h-1.5M629,455h1.5v10h-1.5M630.5,455h1.5v10h-1.5M632,455h1.5v10h-1.5M633.5,428h1.5v6h-1.5M633.5,455h1.5v10h-1.5M635,455h1.5v10h-1.5M636.5,445h1.5v10h-1.5M638,455h1.5v10h-1.5M639.5,428h1.5v6h-1.5M639.5,445h1.5v10h-1.5M641,465h1.5v11h-1.5M644,465h1.5v11h-1.5M645.5,465h1.5v11h-1.5M647,465h1.5v11h-1.5M648.5,465h1.5v11h-1.5M650,445h1.5v10h-1.5M650,455h1.5v10h-1.5"/>
<path fill="#75f207" d="M149,486h1.5v10h-1.5M150.5,486h1.5v10h-1.5M189.5,434h1.5v11h-1.5M206,434h1.5v11h-1.5M212,434h1.5v11h-1.5M218,428h1.5v6h-1.5M221,434h1.5v11h-1.5M225.5,434h1.5v11h-1.5M234.5,445h1.5v10h-1.5M243.5,455h1.5v10h-1.5M251,445h1.5v10h-1.5M254,455h1.5v10h-1.5M258.5,455h1.5v10h-1.5M261.5,455h1.5v10h-1.5M263,455h1.5v10h-1.5M273.5,455h1.5v10h-1.5M282.5,455h1.5v10h-1.5M285.5,455h1.5v10h-1.5M293,455h1.5v10h-1.5M294.5,455h1.5v10h-1.5M302,445h1.5v10h-1.5M308,455h1.5v10h-1.5M315.5,455h1.5v10h-1.5M318.5,455h1.5v10h-1.5M320,445h1.5v10h-1.5M321.5,445h1.5v10h-1.5M324.5,455h1.5v10h-1.5M326,445h1.5v10h-1.5M330.5,445h1.5v10h-1.5M434,445h1.5v10h-1.5M435.5,465h1.5v11h-1.5M437,476h1.5v10h-1.5M437,486h1.5v10h-1.5M438.5,434h1.5v11h-1.5M438.5,445h1.5v10h-1.5M441.5,428h1.5v6h-1.5M450.5,428h1.5v6h-1.5M450.5,434h1.5v11h-1.5M453.5,455h1.5v10h-1.5M453.5,476h1.5v10h-1.5M458,476h1.5v10h-1.5M459.5,428h1.5v6h-1.5M461,434h1.5v11h-1.5M476,428h1.5v6h-1.5M482,434h1.5v11h-1.5M482,445h1.5v10h-1.5M482,465h1.5v11h-1.5M482,476h1.5v10h-1.5M482,486h1.5v10h-1.5M491,434h1.5v11h-1.5M491,445h1.5v10h-1.5M509,428h1.5v6h-1.5M527,434h1.5v11h-1.5M528.5,434h1.5v11h-1.5M531.5,445h1.5v10h-1.5M534.5,434h1.5v11h-1.5M537.5,455h1.5v10h-1.5M537.5,465h1.5v11h-1.5M539,465h1.5v11h-1.5M540.5,465h1.5v11h-1.5M542,445h1.5v10h-1.5M542,455h1.5v10h-1.5M545,455h1.5v10h-1.5M546.5,465h1.5v11h-1.5M548,455h1.5v10h-1.5M551,445h1.5v10h-1.5M551,455h1.5v10h-1.5M552.5,455h1.5v10h-1.5M554,455h1.5v10h-1.5M557,455h1.5v10h-1.5M558.5,455h1.5v10h-1.5M561.5,465h1.5v11h-1.5M563,445h1.5v10h-1.5M564.5,455h1.5v10h-1.5M567.5,465h1.5v11h-1.5M573.5,455h1.5v10h-1.5M575,445h1.5v10h-1.5M575,455h1.5v10h-1.5M576.5,445h1.5v10h-1.5M578,455h1.5v10h-1.5M579.5,445h1.5v10h-1.5M581,465h1.5v11h-1.5M584,455h1.5v10h-1.5M585.5,455h1.5v10h-1.5M587,465h1.5v11h-1.5M588.5,465h1.5v11h-1.5M591.5,455h1.5v10h-1.5M591.5,465h1.5v11h-1.5M594.5,465h1.5v11h-1.5M596,465h1.5v11h-1.5M600.5,465h1.5v11h-1.5M605,465h1.5v11h-1.5M611,465h1.5v11h-1.5M612.5,465h1.5v11h-1.5M615.5,465h1.5v11h-1.5M617,465h1.5v11h-1.5M618.5,465h1.5v11h-1.5M621.5,465h1.5v11h-1.5M623,465h1.5v11h-1.5M626,465h1.5v11h-1.5M627.5,465h1.5v11h-1.5M629,465h1.5v11h-1.5M630.5,465h1.5v11h-1.5M632,465h1.5v11h-1.5M635,465h1.5v11h-1.5M636.5,465h1.5v11h-1.5M638,465h1.5v11h-1.5M639.5,455h1.5v10h-1.5M642.5,476h1.5v10h-1.5M650,465h1.5v11h-1.5"/>
<path fill="#aaf500" d="M143,476h1.5v10h-1.5M144.5,476h1.5v10h-1.5M146,476h1.5v10h-1.5M147.5,476h1.5v10h-1.5M198.5,434h1.5v11h-1.5M200,434h1.5v11h-1.5M207.5,434h1.5v11h-1.5M218,434h1.5v11h-1.5M224,434h1.5v11h-1.5M228.5,445h1.5v10h-1.5M230,445h1.5v10h-1.5M231.5,445h1.5v10h-1.5M233,445h1.5v10h-1.5M237.5,455h1.5v10h-1.5M239,455h1.5v10h-1.5M240.5,455h1.5v10h-1.5M242,455h1.5v10h-1.5M245,455h1.5v10h-1.5M248,455h1.5v10h-1.5M249.5,455h1.5v10h-1.5M252.5,455h1.5v10h-1.5M255.5,455h1.5v10h-1.5M257,455h1.5v10h-1.5M267.5,465h1.5v11h-1.5M270.5,455h1.5v10h-1.5M272,455h1.5v10h-1.5M276.5,455h1.5v10h-1.5M281,455h1.5v10h-1.5M288.5,455h1.5v10h-1.5M290,455h1.5v10h-1.5M291.5,455h1.5v10h-1.5M297.5,455h1.5v10h-1.5M300.5,455h1.5v10h-1.5M303.5,455h1.5v10h-1.5M306.5,455h1.5v10h-1.5M312.5,465h1.5v11h-1.5M323,455h1.5v10h-1.5M327.5,455h1.5v10h-1.5M329,455h1.5v10h-1.5M332,455h1.5v10h-1.5M363.5,428h1.5v6h-1.5M377,428h1.5v6h-1.5M434,455h1.5v10h-1.5M434,465h1.5v11h-1.5M435.5,455h1.5v10h-1.5M438.5,465h1.5v11h-1.5M441.5,434h1.5v11h-1.5M441.5,445h1.5v10h-1.5M446,434h1.5v11h-1.5M450.5,445h1.5v10h-1.5M452,428h1.5v6h-1.5M452,434h1.5v11h-1.5M452,445h1.5v10h-1.5M453.5,486h1.5v10h-1.5M455,428h1.5v6h-1.5M455,434h1.5v11h-1.5M458,486h1.5v10h-1.5M459.5,434h1.5v11h-1.5M461,428h1.5v6h-1.5M461,445h1.5v10h-1.5M464,428h1.5v6h-1.5M471.5,428h1.5v6h-1.5M482,455h1.5v10h-1.5M486.5,428h1.5v6h-1.5M488,428h1.5v6h-1.5M488,434h1.5v11h-1.5M510.5,428h1.5v6h-1.5M513.5,428h1.5v6h-1.5M515,434h1.5v11h-1.5M518,428h1.5v6h-1.5M524,445h1.5v10h-1.5M530,428h1.5v6h-1.5M530,434h1.5v11h-1.5M536,428h1.5v6h-1.5M536,434h1.5v11h-1.5M540.5,476h1.5v10h-1.5M543.5,465h1.5v11h-1.5M548,465h1.5v11h-1.5M554,465h1.5v11h-1.5M555.5,455h1.5v10h-1.5M560,465h1.5v11h-1.5M563,455h1.5v10h-1.5M564.5,465h1.5v11h-1.5M569,465h1.5v11h-1.5M573.5,465h1.5v11h-1.5M575,465h1.5v11h-1.5M576.5,455h1.5v10h-1.5M579.5,455h1.5v10h-1.5M582.5,455h1.5v10h-1.5M584,465h1.5v11h-1.5M585.5,465h1.5v11h-1.5M593,476h1.5v10h-1.5M597.5,476h1.5v10h-1.5M603.5,476h1.5v10h-1.5M609.5,476h1.5v10h-1.5M620,476h1.5v10h-1.5M624.5,476h1.5v10h-1.5M633.5,465h1.5v11h-1.5M639.5,465h1.5v11h-1.5M641,476h1.5v10h-1.5M644,476h1.5v10h-1.5M647,476h1.5v10h-1.5M651.5,476h1v10h-1"/>
<path fill="#c6f200" d="M197,445h1.5v10h-1.5M215,445h1.5v10h-1.5M236,465h1.5v11h-1.5M246.5,455h1.5v10h-1.5M251,455h1.5v10h-1.5M260,455h1.5v10h-1.5M261.5,465h1.5v11h-1.5M263,465h1.5v11h-1.5M266,455h1.5v10h-1.5M269,455h1.5v10h-1.5M275,465h1.5v11h-1.5M278,465h1.5v11h-1.5M279.5,465h1.5v11h-1.5M296,465h1.5v11h-1.5M311,465h1.5v11h-1.5M314,465h1.5v11h-1.5M317,465h1.5v11h-1.5M321.5,455h1.5v10h-1.5M326,455h1.5v10h-1.5M332,465h1.5v11h-1.5M363.5,434h1.5v11h-1.5M363.5,445h1.5v10h-1.5M363.5,455h1.5v10h-1.5M363.5,465h1.5v11h-1.5M377,434h1.5v11h-1.5M398,428h1.5v6h-1.5M432.5,445h1.5v10h-1.5M437,496h1.5v8h-1.5M438.5,455h1.5v10h-1.5M440,428h1.5v6h-1.5M440,434h1.5v11h-1.5M443,428h1.5v6h-1.5M444.5,428h1.5v6h-1.5M446,428h1.5v6h-1.5M446,445h1.5v10h-1.5M447.5,434h1.5v11h-1.5M450.5,465h1.5v11h-1.5M456.5,428h1.5v6h-1.5M456.5,434h1.5v11h-1.5M456.5,445h1.5v10h-1.5M458,496h1.5v8h-1.5M459.5,445h1.5v10h-1.5M473,428h1.5v6h-1.5M476,434h1.5v11h-1.5M482,496h1.5v8h-1.5M486.5,434h1.5v11h-1.5M488,445h1.5v10h-1.5M489.5,428h1.5v6h-1.5M491,455h1.5v10h-1.5M491,465h1.5v11h-1.5M492.5,428h1.5v6h-1.5M515,445h1.5v10h-1.5M515,455h1.5v10h-1.5M519.5,434h1.5v11h-1.5M521,434h1.5v11h-1.5M522.5,434h1.5v11h-1.5M524,434h1.5v11h-1.5M524,455h1.5v10h-1.5M524,476h1.5v10h-1.5M533,445h1.5v10h-1.5M539,476h1.5v10h-1.5M542,465h1.5v11h-1.5M545,465h1.5v11h-1.5M546.5,476h1.5v10h-1.5M549.5,465h1.5v11h-1.5M552.5,465h1.5v11h-1.5M555.5,465h1.5v11h-1.5M557,465h1.5v11h-1.5M558.5,465h1.5v11h-1.5M566,465h1.5v11h-1.5M567.5,476h1.5v10h-1.5M570.5,465h1.5v11h-1.5M572,465h1.5v11h-1.5M578,465h1.5v11h-1.5M579.5,465h1.5v11h-1.5M581,476h1.5v10h-1.5M582.5,465h1.5v11h-1.5M590,476h1.5v10h-1.5M596,476h1.5v10h-1.5M599,476h1.5v10h-1.5M599,486h1.5v10h-1.5M600.5,476h1.5v10h-1.5M602,476h1.5v10h-1.5M605,476h1.5v10h-1.5M606.5,476h1.5v10h-1.5M608,476h1.5v10h-1.5M611,476h1.5v10h-1.5M612.5,476h1.5v10h-1.5M614,476h1.5v10h-1.5M615.5,476h1.5v10h-1.5M617,476h1.5v10h-1.5M618.5,476h1.5v10h-1.5M620,486h1.5v10h-1.5M623,476h1.5v10h-1.5M626,476h1.5v10h-1.5M627.5,476h1.5v10h-1.5M629,476h1.5v10h-1.5M630.5,476h1.5v10h-1.5M632,476h1.5v10h-1.5M635,476h1.5v10h-1.5M638,476h1.5v10h-1.5M642.5,486h1.5v10h-1.5M644,486h1.5v10h-1.5M645.5,476h1.5v10h-1.5M648.5,476h1.5v10h-1.5M651.5,486h1v10h-1"/>
<path fill="#e3ee00" d="M143,496h1.5v8h-1.5M191,445h1.5v10h-1.5M192.5,445h1.5v10h-1.5M194,445h1.5v10h-1.5M197,465h1.5v11h-1.5M221,445h1.5v10h-1.5M222.5,445h1.5v10h-1.5M233,455h1.5v10h-1.5M234.5,455h1.5v10h-1.5M234.5,465h1.5v11h-1.5M236,455h1.5v10h-1.5M242,465h1.5v11h-1.5M243.5,465h1.5v11h-1.5M249.5,465h1.5v11h-1.5M254,465h1.5v11h-1.5M258.5,465h1.5v11h-1.5M261.5,476h1.5v10h-1.5M264.5,465h1.5v11h-1.5M270.5,465h1.5v11h-1.5M282.5,465h1.5v11h-1.5M284,465h1.5v11h-1.5M287,465h1.5v11h-1.5M294.5,465h1.5v11h-1.5M299,465h1.5v11h-1.5M302,455h1.5v10h-1.5M305,465h1.5v11h-1.5M308,465h1.5v11h-1.5M309.5,465h1.5v11h-1.5M315.5,465h1.5v11h-1.5M320,455h1.5v10h-1.5M324.5,465h1.5v11h-1.5M326,465h1.5v11h-1.5M327.5,465h1.5v11h-1.5M329,465h1.5v11h-1.5M330.5,455h1.5v10h-1.5M363.5,476h1.5v10h-1.5M363.5,486h1.5v10h-1.5M365,428h1.5v6h-1.5M368,428h1.5v6h-1.5M372.5,428h1.5v6h-1.5M377,445h1.5v10h-1.5M377,465h1.5v11h-1.5M380,428h1.5v6h-1.5M384.5,428h1.5v6h-1.5M386,428h1.5v6h-1.5M393.5,428h1.5v6h-1.5M395,428h1.5v6h-1.5M432.5,428h1.5v6h-1.5M432.5,434h1.5v11h-1.5M434,476h1.5v10h-1.5M435.5,476h1.5v10h-1.5M435.5,486h1.5v10h-1.5M438.5,476h1.5v10h-1.5M440,445h1.5v10h-1.5M441.5,465h1.5v11h-1.5M443,434h1.5v11h-1.5M443,445h1.5v10h-1.5M443,465h1.5v11h-1.5M444.5,434h1.5v11h-1.5M444.5,445h1.5v10h-1.5M447.5,428h1.5v6h-1.5M447.5,445h1.5v10h-1.5M449,434h1.5v11h-1.5M450.5,455h1.5v10h-1.5M452,465h1.5v11h-1.5M453.5,496h1.5v8h-1.5M455,445h1.5v10h-1.5M455,465h1.5v11h-1.5M456.5,465h1.5v11h-1.5M459.5,465h1.5v11h-1.5M461,455h1.5v10h-1.5M461,465h1.5v11h-1.5M464,434h1.5v11h-1.5M464,465h1.5v11h-1.5M468.5,428h1.5v6h-1.5M470,428h1.5v6h-1.5M471.5,434h1.5v11h-1.5M471.5,465h1.5v11h-1.5M476,445h1.5v10h-1.5M486.5,445h1.5v10h-1.5M486.5,455h1.5v10h-1.5M486.5,465h1.5v11h-1.5M486.5,476h1.5v10h-1.5M486.5,486h1.5v10h-1.5M489.5,434h1.5v11h-1.5M489.5,445h1.5v10h-1.5M492.5,434h1.5v11h-1.5M492.5,445h1.5v10h-1.5M507.5,434h1.5v11h-1.5M507.5,445h1.5v10h-1.5M507.5,476h1.5v10h-1.5M509,434h1.5v11h-1.5M512,476h1.5v10h-1.5M513.5,434h1.5v11h-1.5M515,465h1.5v11h-1.5M515,476h1.5v10h-1.5M516.5,434h1.5v11h-1.5M519.5,445h1.5v10h-1.5M519.5,476h1.5v10h-1.5M521,445h1.5v10h-1.5M521,455h1.5v10h-1.5M521,476h1.5v10h-1.5M522.5,445h1.5v10h-1.5M522.5,476h1.5v10h-1.5M524,465h1.5v11h-1.5M524,486h1.5v10h-1.5M525.5,428h1.5v6h-1.5M528.5,445h1.5v10h-1.5M531.5,455h1.5v10h-1.5M531.5,465h1.5v11h-1.5M534.5,445h1.5v10h-1.5M537.5,476h1.5v10h-1.5M537.5,486h1.5v10h-1.5M539,486h1.5v10h-1.5M540.5,486h1.5v10h-1.5M542,476h1.5v10h-1.5M543.5,476h1.5v10h-1.5M543.5,486h1.5v10h-1.5M546.5,486h1.5v10h-1.5M548,476h1.5v10h-1.5M551,465h1.5v11h-1.5M554,476h1.5v10h-1.5M558.5,476h1.5v10h-1.5M560,476h1.5v10h-1.5M561.5,476h1.5v10h-1.5M561.5,486h1.5v10h-1.5M563,465h1.5v11h-1.5M566,476h1.5v10h-1.5M567.5,486h1.5v10h-1.5M569,476h1.5v10h-1.5M569,486h1.5v10h-1.5M570.5,476h1.5v10h-1.5M573.5,476h1.5v10h-1.5M576.5,465h1.5v11h-1.5M578,476h1.5v10h-1.5M581,486h1.5v10h-1.5M584,476h1.5v10h-1.5M585.5,476h1.5v10h-1.5M587,476h1.5v10h-1.5M587,486h1.5v10h-1.5M588.5,476h1.5v10h-1.5M591.5,476h1.5v10h-1.5M593,486h1.5v10h-1.5M594.5,476h1.5v10h-1.5M597.5,486h1.5v10h-1.5M602,486h1.5v10h-1.5M603.5,486h1.5v10h-1.5M609.5,486h1.5v10h-1.5M612.5,486h1.5v10h-1.5M621.5,476h1.5v10h-1.5M632,486h1.5v10h-1.5M633.5,476h1.5v10h-1.5M636.5,476h1.5v10h-1.5M641,486h1.5v10h-1.5M642.5,496h1.5v8h-1.5M645.5,486h1.5v10h-1.5M647,486h1.5v10h-1.5M648.5,486h1.5v10h-1.5M650,476h1.5v10h-1.5"/>
<path fill="#ffeb00" d="M143,486h1.5v10h-1.5M144.5,496h1.5v8h-1.5M146,486h1.5v10h-1.5M146,496h1.5v8h-1.5M147.5,486h1.5v10h-1.5M147.5,496h1.5v8h-1.5M150.5,496h1.5v8h-1.5M153.5,434h1.5v11h-1.5M156.5,428h1.5v6h-1.5M156.5,434h1.5v11h-1.5M191,465h1.5v11h-1.5M192.5,465h1.5v11h-1.5M192.5,476h1.5v10h-1.5M194,465h1.5v11h-1.5M195.5,445h1.5v10h-1.5M197,455h1.5v10h-1.5M201.5,445h1.5v10h-1.5M201.5,465h1.5v11h-1.5M203,445h1.5v10h-1.5M204.5,445h1.5v10h-1.5M206,445h1.5v10h-1.5M209,445h1.5v10h-1.5M209,465h1.5v11h-1.5M210.5,445h1.5v10h-1.5M210.5,465h1.5v11h-1.5M213.5,445h1.5v10h-1.5M213.5,465h1.5v11h-1.5M215,455h1.5v10h-1.5M215,465h1.5v11h-1.5M216.5,445h1.5v10h-1.5M219.5,445h1.5v10h-1.5M221,465h1.5v11h-1.5M222.5,465h1.5v11h-1.5M228.5,455h1.5v10h-1.5M228.5,465h1.5v11h-1.5M230,455h1.5v10h-1.5M230,465h1.5v11h-1.5M231.5,455h1.5v10h-1.5M231.5,465h1.5v11h-1.5M233,465h1.5v11h-1.5M237.5,465h1.5v11h-1.5M239,465h1.5v11h-1.5M245,465h1.5v11h-1.5M248,465h1.5v11h-1.5M249.5,476h1.5v10h-1.5M252.5,465h1.5v11h-1.5M255.5,465h1.5v11h-1.5M257,465h1.5v11h-1.5M263,476h1.5v10h-1.5M264.5,476h1.5v10h-1.5M267.5,476h1.5v10h-1.5M272,465h1.5v11h-1.5M273.5,465h1.5v11h-1.5M276.5,465h1.5v11h-1.5M278,476h1.5v10h-1.5M279.5,476h1.5v10h-1.5M281,465h1.5v11h-1.5M288.5,465h1.5v11h-1.5M290,465h1.5v11h-1.5M291.5,465h1.5v11h-1.5M293,465h1.5v11h-1.5M296,476h1.5v10h-1.5M297.5,465h1.5v11h-1.5M300.5,465h1.5v11h-1.5M306.5,465h1.5v11h-1.5M309.5,476h1.5v10h-1.5M311,476h1.5v10h-1.5M312.5,476h1.5v10h-1.5M314,476h1.5v10h-1.5M317,476h1.5v10h-1.5M318.5,465h1.5v11h-1.5M323,465h1.5v11h-1.5M332,476h1.5v10h-1.5M356,428h1.5v6h-1.5M359,428h1.5v6h-1.5M362,428h1.5v6h-1.5M363.5,496h1.5v8h-1.5M365,434h1.5v11h-1.5M365,465h1.5v11h-1.5M369.5,428h1.5v6h-1.5M371,428h1.5v6h-1.5M372.5,434h1.5v11h-1.5M372.5,465h1.5v11h-1.5M374,428h1.5v6h-1.5M377,455h1.5v10h-1.5M377,476h1.5v10h-1.5M380,434h1.5v11h-1.5M381.5,428h1.5v6h-1.5M384.5,434h1.5v11h-1.5M384.5,445h1.5v10h-1.5M384.5,476h1.5v10h-1.5M387.5,428h1.5v6h-1.5M390.5,428h1.5v6h-1.5M392,428h1.5v6h-1.5M393.5,465h1.5v11h-1.5M395,434h1.5v11h-1.5M396.5,428h1.5v6h-1.5M396.5,465h1.5v11h-1.5M398,434h1.5v11h-1.5M398,445h1.5v10h-1.5M398,465h1.5v11h-1.5M398,476h1.5v10h-1.5M398,486h1.5v10h-1.5M432.5,465h1.5v11h-1.5M434,486h1.5v10h-1.5M440,465h1.5v11h-1.5M441.5,455h1.5v10h-1.5M447.5,465h1.5v11h-1.5M449,428h1.5v6h-1.5M449,445h1.5v10h-1.5M450.5,486h1.5v10h-1.5M452,455h1.5v10h-1.5M455,455h1.5v10h-1.5M459.5,455h1.5v10h-1.5M462.5,428h1.5v6h-1.5M464,445h1.5v10h-1.5M464,455h1.5v10h-1.5M464,476h1.5v10h-1.5M464,486h1.5v10h-1.5M467,428h1.5v6h-1.5M470,434h1.5v11h-1.5M470,445h1.5v10h-1.5M471.5,445h1.5v10h-1.5M471.5,476h1.5v10h-1.5M471.5,486h1.5v10h-1.5M473,434h1.5v11h-1.5M473,445h1.5v10h-1.5M473,476h1.5v10h-1.5M473,486h1.5v10h-1.5M476,455h1.5v10h-1.5M476,465h1.5v11h-1.5M476,476h1.5v10h-1.5M476,486h1.5v10h-1.5M479,428h1.5v6h-1.5M485,428h1.5v6h-1.5M488,455h1.5v10h-1.5M488,465h1.5v11h-1.5M491,476h1.5v10h-1.5M491,486h1.5v10h-1.5M507.5,455h1.5v10h-1.5M507.5,465h1.5v11h-1.5M509,445h1.5v10h-1.5M509,455h1.5v10h-1.5M509,465h1.5v11h-1.5M509,476h1.5v10h-1.5M512,434h1.5v11h-1.5M512,445h1.5v10h-1.5M513.5,445h1.5v10h-1.5M513.5,476h1.5v10h-1.5M515,486h1.5v10h-1.5M516.5,445h1.5v10h-1.5M516.5,476h1.5v10h-1.5M518,434h1.5v11h-1.5M519.5,455h1.5v10h-1.5M519.5,465h1.5v11h-1.5M519.5,486h1.5v10h-1.5M521,465h1.5v11h-1.5M521,486h1.5v10h-1.5M522.5,455h1.5v10h-1.5M522.5,465h1.5v11h-1.5M527,445h1.5v10h-1.5M527,455h1.5v10h-1.5M527,465h1.5v11h-1.5M528.5,455h1.5v10h-1.5M528.5,465h1.5v11h-1.5M531.5,476h1.5v10h-1.5M531.5,486h1.5v10h-1.5M533,455h1.5v10h-1.5M533,465h1.5v11h-1.5M533,476h1.5v10h-1.5M534.5,455h1.5v10h-1.5M534.5,465h1.5v11h-1.5M540.5,496h1.5v8h-1.5M543.5,496h1.5v8h-1.5M545,476h1.5v10h-1.5M545,486h1.5v10h-1.5M548,486h1.5v10h-1.5M549.5,476h1.5v10h-1.5M551,476h1.5v10h-1.5M552.5,476h1.5v10h-1.5M552.5,486h1.5v10h-1.5M554,486h1.5v10h-1.5M555.5,476h1.5v10h-1.5M555.5,486h1.5v10h-1.5M557,476h1.5v10h-1.5M557,486h1.5v10h-1.5M560,486h1.5v10h-1.5M564.5,476h1.5v10h-1.5M564.5,486h1.5v10h-1.5M569,496h1.5v8h-1.5M570.5,486h1.5v10h-1.5M572,476h1.5v10h-1.5M572,486h1.5v10h-1.5M573.5,486h1.5v10h-1.5M575,476h1.5v10h-1.5M575,486h1.5v10h-1.5M576.5,476h1.5v10h-1.5M578,486h1.5v10h-1.5M579.5,476h1.5v10h-1.5M582.5,476h1.5v10h-1.5M584,486h1.5v10h-1.5M585.5,486h1.5v10h-1.5M590,486h1.5v10h-1.5M593,496h1.5v8h-1.5M594.5,486h1.5v10h-1.5M596,486h1.5v10h-1.5M597.5,496h1.5v8h-1.5M600.5,486h1.5v10h-1.5M603.5,496h1.5v8h-1.5M605,486h1.5v10h-1.5M606.5,486h1.5v10h-1.5M606.5,496h1.5v8h-1.5M608,486h1.5v10h-1.5M611,486h1.5v10h-1.5M614,486h1.5v10h-1.5M614,496h1.5v8h-1.5M615.5,486h1.5v10h-1.5M617,486h1.5v10h-1.5M618.5,486h1.5v10h-1.5M620,496h1.5v8h-1.5M621.5,486h1.5v10h-1.5M623,486h1.5v10h-1.5M624.5,486h1.5v10h-1.5M626,486h1.5v10h-1.5M627.5,486h1.5v10h-1.5M630.5,486h1.5v10h-1.5M633.5,486h1.5v10h-1.5M635,486h1.5v10h-1.5M636.5,486h1.5v10h-1.5M638,486h1.5v10h-1.5M639.5,476h1.5v10h-1.5M644,496h1.5v8h-1.5M648.5,496h1.5v8h-1.5M650,486h1.5v10h-1.5"/>
<path fill="#ffd200" d="M144.5,486h1.5v10h-1.5M149,496h1.5v8h-1.5M153.5,428h1.5v6h-1.5M153.5,445h1.5v10h-1.5M155,434h1.5v11h-1.5M156.5,445h1.5v10h-1.5M191,455h1.5v10h-1.5M191,476h1.5v10h-1.5M192.5,455h1.5v10h-1.5M194,455h1.5v10h-1.5M194,476h1.5v10h-1.5M195.5,455h1.5v10h-1.5M195.5,465h1.5v11h-1.5M197,476h1.5v10h-1.5M198.5,445h1.5v10h-1.5M201.5,455h1.5v10h-1.5M203,465h1.5v11h-1.5M206,455h1.5v10h-1.5M206,465h1.5v11h-1.5M207.5,445h1.5v10h-1.5M207.5,465h1.5v11h-1.5M209,455h1.5v10h-1.5M210.5,455h1.5v10h-1.5M212,445h1.5v10h-1.5M212,465h1.5v11h-1.5M213.5,455h1.5v10h-1.5M213.5,476h1.5v10h-1.5M215,476h1.5v10h-1.5M216.5,455h1.5v10h-1.5M216.5,465h1.5v11h-1.5M216.5,476h1.5v10h-1.5M219.5,465h1.5v11h-1.5M221,455h1.5v10h-1.5M222.5,476h1.5v10h-1.5M224,445h1.5v10h-1.5M225.5,445h1.5v10h-1.5M233,476h1.5v10h-1.5M234.5,476h1.5v10h-1.5M236,476h1.5v10h-1.5M239,476h1.5v10h-1.5M240.5,465h1.5v11h-1.5M242,476h1.5v10h-1.5M243.5,476h1.5v10h-1.5M246.5,465h1.5v11h-1.5M251,465h1.5v11h-1.5M252.5,476h1.5v10h-1.5M254,476h1.5v10h-1.5M255.5,476h1.5v10h-1.5M257,476h1.5v10h-1.5M258.5,476h1.5v10h-1.5M260,465h1.5v11h-1.5M266,465h1.5v11h-1.5M267.5,486h1.5v10h-1.5M269,465h1.5v11h-1.5M270.5,476h1.5v10h-1.5M273.5,476h1.5v10h-1.5M275,476h1.5v10h-1.5M278,486h1.5v10h-1.5M282.5,476h1.5v10h-1.5M284,476h1.5v10h-1.5M285.5,465h1.5v11h-1.5M287,476h1.5v10h-1.5M293,476h1.5v10h-1.5M296,486h1.5v10h-1.5M299,476h1.5v10h-1.5M303.5,465h1.5v11h-1.5M305,476h1.5v10h-1.5M308,476h1.5v10h-1.5M311,486h1.5v10h-1.5M312.5,486h1.5v10h-1.5M317,486h1.5v10h-1.5M320,465h1.5v11h-1.5M321.5,465h1.5v11h-1.5M324.5,476h1.5v10h-1.5M329,476h1.5v10h-1.5M330.5,465h1.5v11h-1.5M350,428h1.5v6h-1.5M353,428h1.5v6h-1.5M354.5,428h1.5v6h-1.5M359,434h1.5v11h-1.5M359,445h1.5v10h-1.5M359,465h1.5v11h-1.5M359,486h1.5v10h-1.5M360.5,428h1.5v6h-1.5M362,465h1.5v11h-1.5M365,445h1.5v10h-1.5M365,455h1.5v10h-1.5M365,476h1.5v10h-1.5M365,486h1.5v10h-1.5M365,496h1.5v8h-1.5M366.5,428h1.5v6h-1.5M368,434h1.5v11h-1.5M368,445h1.5v10h-1.5M368,455h1.5v10h-1.5M368,465h1.5v11h-1.5M371,434h1.5v11h-1.5M371,465h1.5v11h-1.5M372.5,445h1.5v10h-1.5M375.5,428h1.5v6h-1.5M377,486h1.5v10h-1.5M377,496h1.5v8h-1.5M380,445h1.5v10h-1.5M380,455h1.5v10h-1.5M380,465h1.5v11h-1.5M380,476h1.5v10h-1.5M381.5,434h1.5v11h-1.5M384.5,465h1.5v11h-1.5M384.5,486h1.5v10h-1.5M386,434h1.5v11h-1.5M386,445h1.5v10h-1.5M386,465h1.5v11h-1.5M386,486h1.5v10h-1.5M387.5,434h1.5v11h-1.5M390.5,465h1.5v11h-1.5M392,434h1.5v11h-1.5M392,445h1.5v10h-1.5M392,465h1.5v11h-1.5M393.5,434h1.5v11h-1.5M393.5,445h1.5v10h-1.5M393.5,455h1.5v10h-1.5M393.5,476h1.5v10h-1.5M393.5,486h1.5v10h-1.5M395,445h1.5v10h-1.5M395,465h1.5v11h-1.5M395,476h1.5v10h-1.5M398,455h1.5v10h-1.5M398,496h1.5v8h-1.5M410,428h1.5v6h-1.5M434,496h1.5v8h-1.5M435.5,496h1.5v8h-1.5M438.5,486h1.5v10h-1.5M440,455h1.5v10h-1.5M441.5,476h1.5v10h-1.5M443,455h1.5v10h-1.5M444.5,465h1.5v11h-1.5M446,455h1.5v10h-1.5M446,465h1.5v11h-1.5M447.5,455h1.5v10h-1.5M450.5,476h1.5v10h-1.5M452,476h1.5v10h-1.5M456.5,455h1.5v10h-1.5M456.5,476h1.5v10h-1.5M459.5,476h1.5v10h-1.5M459.5,486h1.5v10h-1.5M461,476h1.5v10h-1.5M461,486h1.5v10h-1.5M462.5,434h1.5v11h-1.5M462.5,445h1.5v10h-1.5M462.5,465h1.5v11h-1.5M465.5,428h1.5v6h-1.5M470,465h1.5v11h-1.5M470,486h1.5v10h-1.5M471.5,455h1.5v10h-1.5M473,455h1.5v10h-1.5M473,465h1.5v11h-1.5M474.5,428h1.5v6h-1.5M485,434h1.5v11h-1.5M488,476h1.5v10h-1.5M492.5,465h1.5v11h-1.5M507.5,486h1.5v10h-1.5M510.5,434h1.5v11h-1.5M512,455h1.5v10h-1.5M512,465h1.5v11h-1.5M513.5,455h1.5v10h-1.5M513.5,465h1.5v11h-1.5M516.5,455h1.5v10h-1.5M516.5,465h1.5v11h-1.5M516.5,486h1.5v10h-1.5M518,445h1.5v10h-1.5M518,476h1.5v10h-1.5M522.5,486h1.5v10h-1.5M527,476h1.5v10h-1.5M528.5,476h1.5v10h-1.5M530,445h1.5v10h-1.5M533,486h1.5v10h-1.5M534.5,476h1.5v10h-1.5M534.5,486h1.5v10h-1.5M536,445h1.5v10h-1.5M537.5,496h1.5v8h-1.5M539,496h1.5v8h-1.5M542,486h1.5v10h-1.5M542,496h1.5v8h-1.5M546.5,496h1.5v8h-1.5M549.5,486h1.5v10h-1.5M551,486h1.5v10h-1.5M558.5,486h1.5v10h-1.5M560,496h1.5v8h-1.5M561.5,496h1.5v8h-1.5M563,476h1.5v10h-1.5M563,486h1.5v10h-1.5M566,486h1.5v10h-1.5M573.5,496h1.5v8h-1.5M576.5,486h1.5v10h-1.5M578,496h1.5v8h-1.5M579.5,486h1.5v10h-1.5M581,496h1.5v8h-1.5M582.5,486h1.5v10h-1.5M585.5,496h1.5v8h-1.5M587,496h1.5v8h-1.5M588.5,486h1.5v10h-1.5M591.5,486h1.5v10h-1.5M596,496h1.5v8h-1.5M599,496h1.5v8h-1.5M600.5,496h1.5v8h-1.5M602,496h1.5v8h-1.5M605,496h1.5v8h-1.5M608,496h1.5v8h-1.5M609.5,496h1.5v8h-1.5M612.5,496h1.5v8h-1.5M624.5,496h1.5v8h-1.5M629,486h1.5v10h-1.5M629,496h1.5v8h-1.5M630.5,496h1.5v8h-1.5M632,496h1.5v8h-1.5M633.5,496h1.5v8h-1.5M635,496h1.5v8h-1.5M638,496h1.5v8h-1.5M641,496h1.5v8h-1.5M645.5,496h1.5v8h-1.5M647,496h1.5v8h-1.5M650,496h1.5v8h-1.5M651.5,496h1v8h-1"/>
<path fill="#ffb900" d="M152,428h1.5v6h-1.5M152,434h1.5v11h-1.5M152,445h1.5v10h-1.5M153.5,455h1.5v10h-1.5M153.5,465h1.5v11h-1.5M155,428h1.5v6h-1.5M155,445h1.5v10h-1.5M156.5,455h1.5v10h-1.5M156.5,465h1.5v11h-1.5M162.5,428h1.5v6h-1.5M162.5,434h1.5v11h-1.5M162.5,465h1.5v11h-1.5M189.5,445h1.5v10h-1.5M189.5,455h1.5v10h-1.5M189.5,465h1.5v11h-1.5M192.5,486h1.5v10h-1.5M197,486h1.5v10h-1.5M198.5,455h1.5v10h-1.5M198.5,465h1.5v11h-1.5M200,445h1.5v10h-1.5M200,465h1.5v11h-1.5M201.5,476h1.5v10h-1.5M203,455h1.5v10h-1.5M203,476h1.5v10h-1.5M204.5,455h1.5v10h-1.5M204.5,465h1.5v11h-1.5M206,476h1.5v10h-1.5M209,476h1.5v10h-1.5M210.5,476h1.5v10h-1.5M212,455h1.5v10h-1.5M215,486h1.5v10h-1.5M218,445h1.5v10h-1.5M219.5,455h1.5v10h-1.5M219.5,476h1.5v10h-1.5M221,476h1.5v10h-1.5M222.5,455h1.5v10h-1.5M224,465h1.5v11h-1.5M225.5,455h1.5v10h-1.5M225.5,465h1.5v11h-1.5M228.5,476h1.5v10h-1.5M230,476h1.5v10h-1.5M231.5,476h1.5v10h-1.5M236,486h1.5v10h-1.5M237.5,476h1.5v10h-1.5M240.5,476h1.5v10h-1.5M245,476h1.5v10h-1.5M248,476h1.5v10h-1.5M249.5,486h1.5v10h-1.5M254,486h1.5v10h-1.5M258.5,486h1.5v10h-1.5M261.5,486h1.5v10h-1.5M263,486h1.5v10h-1.5M269,476h1.5v10h-1.5M272,476h1.5v10h-1.5M275,486h1.5v10h-1.5M279.5,486h1.5v10h-1.5M281,476h1.5v10h-1.5M282.5,486h1.5v10h-1.5M284,486h1.5v10h-1.5M285.5,476h1.5v10h-1.5M288.5,476h1.5v10h-1.5M290,476h1.5v10h-1.5M291.5,476h1.5v10h-1.5M294.5,476h1.5v10h-1.5M297.5,476h1.5v10h-1.5M300.5,476h1.5v10h-1.5M302,465h1.5v11h-1.5M306.5,476h1.5v10h-1.5M309.5,486h1.5v10h-1.5M314,486h1.5v10h-1.5M315.5,476h1.5v10h-1.5M318.5,476h1.5v10h-1.5M323,476h1.5v10h-1.5M326,476h1.5v10h-1.5M327.5,476h1.5v10h-1.5M332,486h1.5v10h-1.5M350,434h1.5v11h-1.5M351.5,428h1.5v6h-1.5M353,434h1.5v11h-1.5M353,465h1.5v11h-1.5M356,434h1.5v11h-1.5M356,445h1.5v10h-1.5M356,465h1.5v11h-1.5M359,455h1.5v10h-1.5M359,476h1.5v10h-1.5M362,434h1.5v11h-1.5M362,445h1.5v10h-1.5M362,455h1.5v10h-1.5M362,486h1.5v10h-1.5M366.5,465h1.5v11h-1.5M368,476h1.5v10h-1.5M368,486h1.5v10h-1.5M369.5,434h1.5v11h-1.5M371,445h1.5v10h-1.5M371,455h1.5v10h-1.5M371,476h1.5v10h-1.5M372.5,455h1.5v10h-1.5M372.5,476h1.5v10h-1.5M372.5,486h1.5v10h-1.5M372.5,496h1.5v8h-1.5M374,434h1.5v11h-1.5M374,465h1.5v11h-1.5M375.5,434h1.5v11h-1.5M378.5,428h1.5v6h-1.5M380,486h1.5v10h-1.5M380,496h1.5v8h-1.5M381.5,445h1.5v10h-1.5M381.5,465h1.5v11h-1.5M381.5,486h1.5v10h-1.5M384.5,455h1.5v10h-1.5M384.5,496h1.5v8h-1.5M386,455h1.5v10h-1.5M386,476h1.5v10h-1.5M387.5,465h1.5v11h-1.5M387.5,476h1.5v10h-1.5M387.5,486h1.5v10h-1.5M390.5,434h1.5v11h-1.5M390.5,445h1.5v10h-1.5M390.5,455h1.5v10h-1.5M392,455h1.5v10h-1.5M392,476h1.5v10h-1.5M392,486h1.5v10h-1.5M393.5,496h1.5v8h-1.5M395,455h1.5v10h-1.5M395,486h1.5v10h-1.5M396.5,434h1.5v11h-1.5M401,428h1.5v6h-1.5M401,434h1.5v11h-1.5M432.5,455h1.5v10h-1.5M432.5,486h1.5v10h-1.5M438.5,496h1.5v8h-1.5M440,486h1.5v10h-1.5M441.5,486h1.5v10h-1.5M444.5,455h1.5v10h-1.5M446,476h1.5v10h-1.5M446,486h1.5v10h-1.5M447.5,476h1.5v10h-1.5M447.5,486h1.5v10h-1.5M449,465h1.5v11h-1.5M452,486h1.5v10h-1.5M455,476h1.5v10h-1.5M455,486h1.5v10h-1.5M456.5,486h1.5v10h-1.5M462.5,455h1.5v10h-1.5M462.5,476h1.5v10h-1.5M462.5,486h1.5v10h-1.5M464,496h1.5v8h-1.5M465.5,434h1.5v11h-1.5M467,434h1.5v11h-1.5M467,465h1.5v11h-1.5M468.5,434h1.5v11h-1.5M468.5,445h1.5v10h-1.5M468.5,476h1.5v10h-1.5M470,455h1.5v10h-1.5M470,476h1.5v10h-1.5M471.5,496h1.5v8h-1.5M476,496h1.5v8h-1.5M477.5,428h1.5v6h-1.5M479,434h1.5v11h-1.5M479,445h1.5v10h-1.5M485,445h1.5v10h-1.5M485,465h1.5v11h-1.5M485,476h1.5v10h-1.5M485,486h1.5v10h-1.5M486.5,496h1.5v8h-1.5M488,486h1.5v10h-1.5M489.5,455h1.5v10h-1.5M489.5,465h1.5v11h-1.5M489.5,476h1.5v10h-1.5M492.5,455h1.5v10h-1.5M504.5,428h1.5v6h-1.5M509,486h1.5v10h-1.5M510.5,445h1.5v10h-1.5M510.5,455h1.5v10h-1.5M510.5,465h1.5v11h-1.5M510.5,476h1.5v10h-1.5M512,486h1.5v10h-1.5M513.5,486h1.5v10h-1.5M515,496h1.5v8h-1.5M518,455h1.5v10h-1.5M518,465h1.5v11h-1.5M518,486h1.5v10h-1.5M524,496h1.5v8h-1.5M525.5,434h1.5v11h-1.5M527,486h1.5v10h-1.5M528.5,486h1.5v10h-1.5M530,455h1.5v10h-1.5M530,465h1.5v11h-1.5M536,465h1.5v11h-1.5M548,496h1.5v8h-1.5M549.5,496h1.5v8h-1.5M552.5,496h1.5v8h-1.5M554,496h1.5v8h-1.5M555.5,496h1.5v8h-1.5M558.5,496h1.5v8h-1.5M564.5,496h1.5v8h-1.5M566,496h1.5v8h-1.5M567.5,496h1.5v8h-1.5M572,496h1.5v8h-1.5M575,496h1.5v8h-1.5M576.5,496h1.5v8h-1.5M582.5,496h1.5v8h-1.5M584,496h1.5v8h-1.5M588.5,496h1.5v8h-1.5M590,496h1.5v8h-1.5M591.5,496h1.5v8h-1.5M594.5,496h1.5v8h-1.5M611,496h1.5v8h-1.5M615.5,496h1.5v8h-1.5M617,496h1.5v8h-1.5M618.5,496h1.5v8h-1.5M621.5,496h1.5v8h-1.5M623,496h1.5v8h-1.5M626,496h1.5v8h-1.5M627.5,496h1.5v8h-1.5M636.5,496h1.5v8h-1.5M639.5,486h1.5v10h-1.5M639.5,496h1.5v8h-1.5"/>
<path fill="#ffa000" d="M152,455h1.5v10h-1.5M152,465h1.5v11h-1.5M155,455h1.5v10h-1.5M155,465h1.5v11h-1.5M158,428h1.5v6h-1.5M158,434h1.5v11h-1.5M158,445h1.5v10h-1.5M158,465h1.5v11h-1.5M162.5,445h1.5v10h-1.5M162.5,455h1.5v10h-1.5M186.5,428h1.5v6h-1.5M189.5,476h1.5v10h-1.5M191,486h1.5v10h-1.5M194,486h1.5v10h-1.5M195.5,476h1.5v10h-1.5M198.5,476h1.5v10h-1.5M200,455h1.5v10h-1.5M200,476h1.5v10h-1.5M201.5,486h1.5v10h-1.5M204.5,476h1.5v10h-1.5M207.5,455h1.5v10h-1.5M207.5,476h1.5v10h-1.5M209,486h1.5v10h-1.5M212,476h1.5v10h-1.5M218,455h1.5v10h-1.5M218,465h1.5v11h-1.5M221,486h1.5v10h-1.5M222.5,486h1.5v10h-1.5M224,455h1.5v10h-1.5M228.5,486h1.5v10h-1.5M231.5,486h1.5v10h-1.5M234.5,486h1.5v10h-1.5M239,486h1.5v10h-1.5M243.5,486h1.5v10h-1.5M246.5,476h1.5v10h-1.5M251,476h1.5v10h-1.5M252.5,486h1.5v10h-1.5M255.5,486h1.5v10h-1.5M257,486h1.5v10h-1.5M260,476h1.5v10h-1.5M264.5,486h1.5v10h-1.5M266,476h1.5v10h-1.5M267.5,496h1.5v8h-1.5M270.5,486h1.5v10h-1.5M273.5,486h1.5v10h-1.5M276.5,476h1.5v10h-1.5M281,486h1.5v10h-1.5M285.5,486h1.5v10h-1.5M287,486h1.5v10h-1.5M290,486h1.5v10h-1.5M291.5,486h1.5v10h-1.5M294.5,486h1.5v10h-1.5M299,486h1.5v10h-1.5M303.5,476h1.5v10h-1.5M305,486h1.5v10h-1.5M308,486h1.5v10h-1.5M311,496h1.5v8h-1.5M315.5,486h1.5v10h-1.5M320,476h1.5v10h-1.5M321.5,476h1.5v10h-1.5M323,486h1.5v10h-1.5M324.5,486h1.5v10h-1.5M329,486h1.5v10h-1.5M330.5,476h1.5v10h-1.5M335,428h1.5v6h-1.5M338,428h1.5v6h-1.5M341,428h1.5v6h-1.5M344,428h1.5v6h-1.5M350,455h1.5v10h-1.5M350,465h1.5v11h-1.5M351.5,465h1.5v11h-1.5M353,445h1.5v10h-1.5M353,455h1.5v10h-1.5M353,476h1.5v10h-1.5M353,486h1.5v10h-1.5M354.5,434h1.5v11h-1.5M354.5,445h1.5v10h-1.5M354.5,455h1.5v10h-1.5M354.5,465h1.5v11h-1.5M356,455h1.5v10h-1.5M356,476h1.5v10h-1.5M356,486h1.5v10h-1.5M356,496h1.5v8h-1.5M357.5,428h1.5v6h-1.5M359,496h1.5v8h-1.5M360.5,434h1.5v11h-1.5M360.5,445h1.5v10h-1.5M360.5,465h1.5v11h-1.5M360.5,476h1.5v10h-1.5M360.5,486h1.5v10h-1.5M362,476h1.5v10h-1.5M362,496h1.5v8h-1.5M366.5,434h1.5v11h-1.5M366.5,445h1.5v10h-1.5M368,496h1.5v8h-1.5M369.5,445h1.5v10h-1.5M369.5,455h1.5v10h-1.5M369.5,465h1.5v11h-1.5M369.5,476h1.5v10h-1.5M369.5,486h1.5v10h-1.5M371,486h1.5v10h-1.5M374,445h1.5v10h-1.5M374,455h1.5v10h-1.5M374,476h1.5v10h-1.5M374,486h1.5v10h-1.5M375.5,465h1.5v11h-1.5M375.5,486h1.5v10h-1.5M381.5,455h1.5v10h-1.5M381.5,476h1.5v10h-1.5M381.5,496h1.5v8h-1.5M383,428h1.5v6h-1.5M383,434h1.5v11h-1.5M386,496h1.5v8h-1.5M387.5,445h1.5v10h-1.5M387.5,455h1.5v10h-1.5M387.5,496h1.5v8h-1.5M390.5,476h1.5v10h-1.5M390.5,486h1.5v10h-1.5M390.5,496h1.5v8h-1.5M392,496h1.5v8h-1.5M395,496h1.5v8h-1.5M396.5,445h1.5v10h-1.5M396.5,455h1.5v10h-1.5M396.5,476h1.5v10h-1.5M396.5,486h1.5v10h-1.5M401,455h1.5v10h-1.5M402.5,428h1.5v6h-1.5M405.5,428h1.5v6h-1.5M408.5,428h1.5v6h-1.5M410,434h1.5v11h-1.5M414.5,428h1.5v6h-1.5M416,428h1.5v6h-1.5M417.5,428h1.5v6h-1.5M419,428h1.5v6h-1.5M429.5,428h1.5v6h-1.5M432.5,476h1.5v10h-1.5M440,476h1.5v10h-1.5M441.5,496h1.5v8h-1.5M443,476h1.5v10h-1.5M443,486h1.5v10h-1.5M444.5,476h1.5v10h-1.5M444.5,486h1.5v10h-1.5M449,455h1.5v10h-1.5M450.5,496h1.5v8h-1.5M459.5,496h1.5v8h-1.5M465.5,445h1.5v10h-1.5M465.5,465h1.5v11h-1.5M467,445h1.5v10h-1.5M467,455h1.5v10h-1.5M467,476h1.5v10h-1.5M467,486h1.5v10h-1.5M468.5,455h1.5v10h-1.5M468.5,465h1.5v11h-1.5M468.5,486h1.5v10h-1.5M473,496h1.5v8h-1.5M474.5,434h1.5v11h-1.5M479,465h1.5v11h-1.5M479,476h1.5v10h-1.5M479,486h1.5v10h-1.5M480.5,428h1.5v6h-1.5M485,455h1.5v10h-1.5M489.5,486h1.5v10h-1.5M491,496h1.5v8h-1.5M492.5,476h1.5v10h-1.5M492.5,486h1.5v10h-1.5M494,428h1.5v6h-1.5M495.5,428h1.5v6h-1.5M498.5,428h1.5v6h-1.5M500,428h1.5v6h-1.5M503,428h1.5v6h-1.5M509,496h1.5v8h-1.5M510.5,486h1.5v10h-1.5M512,496h1.5v8h-1.5M519.5,496h1.5v8h-1.5M521,496h1.5v8h-1.5M522.5,496h1.5v8h-1.5M525.5,445h1.5v10h-1.5M525.5,455h1.5v10h-1.5M525.5,476h1.5v10h-1.5M530,476h1.5v10h-1.5M530,486h1.5v10h-1.5M531.5,496h1.5v8h-1.5M533,496h1.5v8h-1.5M536,455h1.5v10h-1.5M536,476h1.5v10h-1.5M545,496h1.5v8h-1.5M557,496h1.5v8h-1.5M563,496h1.5v8h-1.5M570.5,496h1.5v8h-1.5M579.5,496h1.5v8h-1.5"/>
<path fill="#ff8200" d="M153.5,476h1.5v10h-1.5M156.5,476h1.5v10h-1.5M158,455h1.5v10h-1.5M159.5,428h1.5v6h-1.5M159.5,465h1.5v11h-1.5M161,428h1.5v6h-1.5M161,465h1.5v11h-1.5M171.5,428h1.5v6h-1.5M185,428h1.5v6h-1.5M186.5,434h1.5v11h-1.5M188,428h1.5v6h-1.5M189.5,486h1.5v10h-1.5M192.5,496h1.5v8h-1.5M195.5,486h1.5v10h-1.5M203,486h1.5v10h-1.5M206,486h1.5v10h-1.5M210.5,486h1.5v10h-1.5M212,486h1.5v10h-1.5M213.5,486h1.5v10h-1.5M215,496h1.5v8h-1.5M216.5,486h1.5v10h-1.5M218,476h1.5v10h-1.5M219.5,486h1.5v10h-1.5M224,476h1.5v10h-1.5M225.5,476h1.5v10h-1.5M227,428h1.5v6h-1.5M230,486h1.5v10h-1.5M233,486h1.5v10h-1.5M236,496h1.5v8h-1.5M242,486h1.5v10h-1.5M245,486h1.5v10h-1.5M246.5,486h1.5v10h-1.5M248,486h1.5v10h-1.5M263,496h1.5v8h-1.5M264.5,496h1.5v8h-1.5M269,486h1.5v10h-1.5M272,486h1.5v10h-1.5M275,496h1.5v8h-1.5M276.5,486h1.5v10h-1.5M278,496h1.5v8h-1.5M279.5,496h1.5v8h-1.5M288.5,486h1.5v10h-1.5M293,486h1.5v10h-1.5M296,496h1.5v8h-1.5M297.5,486h1.5v10h-1.5M300.5,486h1.5v10h-1.5M302,476h1.5v10h-1.5M306.5,486h1.5v10h-1.5M312.5,496h1.5v8h-1.5M317,496h1.5v8h-1.5M318.5,486h1.5v10h-1.5M326,486h1.5v10h-1.5M327.5,486h1.5v10h-1.5M330.5,486h1.5v10h-1.5M332,496h1.5v8h-1.5M333.5,428h1.5v6h-1.5M333.5,434h1.5v11h-1.5M335,434h1.5v11h-1.5M336.5,428h1.5v6h-1.5M344,434h1.5v11h-1.5M345.5,428h1.5v6h-1.5M348.5,428h1.5v6h-1.5M350,445h1.5v10h-1.5M350,476h1.5v10h-1.5M350,486h1.5v10h-1.5M351.5,434h1.5v11h-1.5M351.5,445h1.5v10h-1.5M353,496h1.5v8h-1.5M354.5,476h1.5v10h-1.5M354.5,486h1.5v10h-1.5M354.5,496h1.5v8h-1.5M357.5,434h1.5v11h-1.5M357.5,465h1.5v11h-1.5M360.5,455h1.5v10h-1.5M366.5,455h1.5v10h-1.5M366.5,476h1.5v10h-1.5M366.5,486h1.5v10h-1.5M369.5,496h1.5v8h-1.5M371,496h1.5v8h-1.5M374,496h1.5v8h-1.5M375.5,445h1.5v10h-1.5M375.5,455h1.5v10h-1.5M375.5,476h1.5v10h-1.5M378.5,434h1.5v11h-1.5M378.5,465h1.5v11h-1.5M383,445h1.5v10h-1.5M383,455h1.5v10h-1.5M383,465h1.5v11h-1.5M383,476h1.5v10h-1.5M383,486h1.5v10h-1.5M389,428h1.5v6h-1.5M396.5,496h1.5v8h-1.5M399.5,434h1.5v11h-1.5M399.5,445h1.5v10h-1.5M401,445h1.5v10h-1.5M401,465h1.5v11h-1.5M401,476h1.5v10h-1.5M401,486h1.5v10h-1.5M404,428h1.5v6h-1.5M407,428h1.5v6h-1.5M408.5,434h1.5v11h-1.5M410,445h1.5v10h-1.5M410,455h1.5v10h-1.5M420.5,428h1.5v6h-1.5M425,428h1.5v6h-1.5M426.5,428h1.5v6h-1.5M449,476h1.5v10h-1.5M449,486h1.5v10h-1.5M452,496h1.5v8h-1.5M455,496h1.5v8h-1.5M456.5,496h1.5v8h-1.5M461,496h1.5v8h-1.5M462.5,496h1.5v8h-1.5M465.5,455h1.5v10h-1.5M465.5,476h1.5v10h-1.5M465.5,486h1.5v10h-1.5M470,496h1.5v8h-1.5M474.5,445h1.5v10h-1.5M474.5,465h1.5v11h-1.5M474.5,476h1.5v10h-1.5M474.5,486h1.5v10h-1.5M477.5,434h1.5v11h-1.5M477.5,445h1.5v10h-1.5M477.5,465h1.5v11h-1.5M477.5,476h1.5v10h-1.5M477.5,486h1.5v10h-1.5M479,455h1.5v10h-1.5M480.5,434h1.5v11h-1.5M480.5,465h1.5v11h-1.5M483.5,428h1.5v6h-1.5M485,496h1.5v8h-1.5M488,496h1.5v8h-1.5M489.5,496h1.5v8h-1.5M501.5,428h1.5v6h-1.5M504.5,434h1.5v11h-1.5M506,428h1.5v6h-1.5M507.5,496h1.5v8h-1.5M510.5,496h1.5v8h-1.5M516.5,496h1.5v8h-1.5M525.5,465h1.5v11h-1.5M534.5,496h1.5v8h-1.5M536,486h1.5v10h-1.5M551,496h1.5v8h-1.5"/>
<path fill="#ff6400" d="M153.5,486h1.5v10h-1.5M155,476h1.5v10h-1.5M159.5,434h1.5v11h-1.5M159.5,445h1.5v10h-1.5M159.5,455h1.5v10h-1.5M161,434h1.5v11h-1.5M161,445h1.5v10h-1.5M161,455h1.5v10h-1.5M162.5,476h1.5v10h-1.5M162.5,486h1.5v10h-1.5M164,428h1.5v6h-1.5M165.5,428h1.5v6h-1.5M165.5,434h1.5v11h-1.5M167,428h1.5v6h-1.5M167,434h1.5v11h-1.5M173,428h1.5v6h-1.5M174.5,428h1.5v6h-1.5M176,428h1.5v6h-1.5M185,434h1.5v11h-1.5M188,434h1.5v11h-1.5M191,496h1.5v8h-1.5M194,496h1.5v8h-1.5M197,496h1.5v8h-1.5M198.5,486h1.5v10h-1.5M200,486h1.5v10h-1.5M204.5,486h1.5v10h-1.5M207.5,486h1.5v10h-1.5M221,496h1.5v8h-1.5M222.5,496h1.5v8h-1.5M224,486h1.5v10h-1.5M225.5,486h1.5v10h-1.5M227,434h1.5v11h-1.5M227,445h1.5v10h-1.5M227,465h1.5v11h-1.5M227,476h1.5v10h-1.5M227,486h1.5v10h-1.5M237.5,486h1.5v10h-1.5M239,496h1.5v8h-1.5M240.5,486h1.5v10h-1.5M243.5,496h1.5v8h-1.5M249.5,496h1.5v8h-1.5M251,486h1.5v10h-1.5M254,496h1.5v8h-1.5M258.5,496h1.5v8h-1.5M260,486h1.5v10h-1.5M261.5,496h1.5v8h-1.5M266,486h1.5v10h-1.5M273.5,496h1.5v8h-1.5M281,496h1.5v8h-1.5M282.5,496h1.5v8h-1.5M284,496h1.5v8h-1.5M285.5,496h1.5v8h-1.5M287,496h1.5v8h-1.5M294.5,496h1.5v8h-1.5M299,496h1.5v8h-1.5M303.5,486h1.5v10h-1.5M305,496h1.5v8h-1.5M308,496h1.5v8h-1.5M309.5,496h1.5v8h-1.5M314,496h1.5v8h-1.5M320,486h1.5v10h-1.5M324.5,496h1.5v8h-1.5M329,496h1.5v8h-1.5M335,445h1.5v10h-1.5M336.5,434h1.5v11h-1.5M338,434h1.5v11h-1.5M339.5,428h1.5v6h-1.5M341,434h1.5v11h-1.5M342.5,428h1.5v6h-1.5M345.5,434h1.5v11h-1.5M347,428h1.5v6h-1.5M347,434h1.5v11h-1.5M348.5,434h1.5v11h-1.5M350,496h1.5v8h-1.5M351.5,455h1.5v10h-1.5M351.5,476h1.5v10h-1.5M351.5,486h1.5v10h-1.5M351.5,496h1.5v8h-1.5M357.5,445h1.5v10h-1.5M357.5,455h1.5v10h-1.5M357.5,476h1.5v10h-1.5M357.5,486h1.5v10h-1.5M360.5,496h1.5v8h-1.5M366.5,496h1.5v8h-1.5M375.5,496h1.5v8h-1.5M378.5,445h1.5v10h-1.5M378.5,455h1.5v10h-1.5M378.5,476h1.5v10h-1.5M378.5,486h1.5v10h-1.5M383,496h1.5v8h-1.5M399.5,428h1.5v6h-1.5M399.5,455h1.5v10h-1.5M399.5,465h1.5v11h-1.5M399.5,476h1.5v10h-1.5M401,496h1.5v8h-1.5M402.5,434h1.5v11h-1.5M405.5,434h1.5v11h-1.5M405.5,445h1.5v10h-1.5M405.5,455h1.5v10h-1.5M408.5,445h1.5v10h-1.5M410,465h1.5v11h-1.5M410,496h1.5v8h-1.5M411.5,428h1.5v6h-1.5M413,428h1.5v6h-1.5M414.5,434h1.5v11h-1.5M414.5,445h1.5v10h-1.5M416,434h1.5v11h-1.5M417.5,434h1.5v11h-1.5M419,434h1.5v11h-1.5M420.5,434h1.5v11h-1.5M422,428h1.5v6h-1.5M423.5,428h1.5v6h-1.5M428,428h1.5v6h-1.5M429.5,434h1.5v11h-1.5M431,428h1.5v6h-1.5M432.5,496h1.5v8h-1.5M440,496h1.5v8h-1.5M443,496h1.5v8h-1.5M444.5,496h1.5v8h-1.5M446,496h1.5v8h-1.5M447.5,496h1.5v8h-1.5M467,496h1.5v8h-1.5M468.5,496h1.5v8h-1.5M474.5,455h1.5v10h-1.5M477.5,455h1.5v10h-1.5M479,496h1.5v8h-1.5M480.5,486h1.5v10h-1.5M483.5,434h1.5v11h-1.5M483.5,445h1.5v10h-1.5M483.5,465h1.5v11h-1.5M492.5,496h1.5v8h-1.5M494,434h1.5v11h-1.5M495.5,434h1.5v11h-1.5M497,428h1.5v6h-1.5M500,434h1.5v11h-1.5M500,445h1.5v10h-1.5M501.5,434h1.5v11h-1.5M503,434h1.5v11h-1.5M503,445h1.5v10h-1.5M503,455h1.5v10h-1.5M504.5,445h1.5v10h-1.5M504.5,455h1.5v10h-1.5M504.5,496h1.5v8h-1.5M513.5,496h1.5v8h-1.5M518,496h1.5v8h-1.5M525.5,486h1.5v10h-1.5M527,496h1.5v8h-1.5M528.5,496h1.5v8h-1.5"/>
<path fill="#ff4600" d="M152,476h1.5v10h-1.5M158,476h1.5v10h-1.5M158,486h1.5v10h-1.5M159.5,476h1.5v10h-1.5M164,434h1.5v11h-1.5M164,445h1.5v10h-1.5M164,476h1.5v10h-1.5M165.5,445h1.5v10h-1.5M165.5,455h1.5v10h-1.5M168.5,428h1.5v6h-1.5M168.5,434h1.5v11h-1.5M168.5,455h1.5v10h-1.5M170,428h1.5v6h-1.5M170,434h1.5v11h-1.5M171.5,434h1.5v11h-1.5M171.5,455h1.5v10h-1.5M173,434h1.5v11h-1.5M174.5,434h1.5v11h-1.5M174.5,445h1.5v10h-1.5M183.5,428h1.5v6h-1.5M185,445h1.5v10h-1.5M186.5,445h1.5v10h-1.5M186.5,455h1.5v10h-1.5M186.5,465h1.5v11h-1.5M186.5,476h1.5v10h-1.5M188,465h1.5v11h-1.5M189.5,496h1.5v8h-1.5M195.5,496h1.5v8h-1.5M201.5,496h1.5v8h-1.5M203,496h1.5v8h-1.5M206,496h1.5v8h-1.5M209,496h1.5v8h-1.5M212,496h1.5v8h-1.5M213.5,496h1.5v8h-1.5M216.5,496h1.5v8h-1.5M218,486h1.5v10h-1.5M219.5,496h1.5v8h-1.5M227,455h1.5v10h-1.5M228.5,496h1.5v8h-1.5M230,496h1.5v8h-1.5M231.5,496h1.5v8h-1.5M233,496h1.5v8h-1.5M234.5,496h1.5v8h-1.5M237.5,496h1.5v8h-1.5M240.5,496h1.5v8h-1.5M242,496h1.5v8h-1.5M246.5,496h1.5v8h-1.5M252.5,496h1.5v8h-1.5M255.5,496h1.5v8h-1.5M257,496h1.5v8h-1.5M270.5,496h1.5v8h-1.5M272,496h1.5v8h-1.5M276.5,496h1.5v8h-1.5M288.5,496h1.5v8h-1.5M290,496h1.5v8h-1.5M291.5,496h1.5v8h-1.5M293,496h1.5v8h-1.5M300.5,496h1.5v8h-1.5M302,486h1.5v10h-1.5M306.5,496h1.5v8h-1.5M315.5,496h1.5v8h-1.5M318.5,496h1.5v8h-1.5M321.5,486h1.5v10h-1.5M323,496h1.5v8h-1.5M326,496h1.5v8h-1.5M327.5,496h1.5v8h-1.5M330.5,496h1.5v8h-1.5M333.5,445h1.5v10h-1.5M335,455h1.5v10h-1.5M335,465h1.5v11h-1.5M335,486h1.5v10h-1.5M336.5,445h1.5v10h-1.5M338,445h1.5v10h-1.5M338,455h1.5v10h-1.5M338,465h1.5v11h-1.5M338,476h1.5v10h-1.5M339.5,434h1.5v11h-1.5M342.5,434h1.5v11h-1.5M344,445h1.5v10h-1.5M344,455h1.5v10h-1.5M357.5,496h1.5v8h-1.5M378.5,496h1.5v8h-1.5M399.5,486h1.5v10h-1.5M399.5,496h1.5v8h-1.5M402.5,445h1.5v10h-1.5M402.5,455h1.5v10h-1.5M402.5,465h1.5v11h-1.5M404,434h1.5v11h-1.5M404,445h1.5v10h-1.5M405.5,465h1.5v11h-1.5M407,434h1.5v11h-1.5M408.5,455h1.5v10h-1.5M408.5,486h1.5v10h-1.5M410,476h1.5v10h-1.5M410,486h1.5v10h-1.5M413,434h1.5v11h-1.5M414.5,455h1.5v10h-1.5M416,445h1.5v10h-1.5M417.5,445h1.5v10h-1.5M420.5,445h1.5v10h-1.5M420.5,455h1.5v10h-1.5M422,434h1.5v11h-1.5M423.5,434h1.5v11h-1.5M425,434h1.5v11h-1.5M426.5,445h1.5v10h-1.5M429.5,445h1.5v10h-1.5M449,496h1.5v8h-1.5M465.5,496h1.5v8h-1.5M474.5,496h1.5v8h-1.5M480.5,445h1.5v10h-1.5M480.5,455h1.5v10h-1.5M480.5,476h1.5v10h-1.5M483.5,455h1.5v10h-1.5M483.5,476h1.5v10h-1.5M483.5,486h1.5v10h-1.5M494,445h1.5v10h-1.5M494,496h1.5v8h-1.5M495.5,445h1.5v10h-1.5M498.5,434h1.5v11h-1.5M498.5,445h1.5v10h-1.5M500,455h1.5v10h-1.5M500,476h1.5v10h-1.5M501.5,445h1.5v10h-1.5M501.5,455h1.5v10h-1.5M501.5,486h1.5v10h-1.5M501.5,496h1.5v8h-1.5M504.5,465h1.5v11h-1.5M504.5,476h1.5v10h-1.5M504.5,486h1.5v10h-1.5M506,434h1.5v11h-1.5M506,445h1.5v10h-1.5"/>
<path fill="#ff2f00" d="M152,486h1.5v10h-1.5M153.5,496h1.5v8h-1.5M155,486h1.5v10h-1.5M156.5,486h1.5v10h-1.5M156.5,496h1.5v8h-1.5M161,476h1.5v10h-1.5M162.5,496h1.5v8h-1.5M164,455h1.5v10h-1.5M164,465h1.5v11h-1.5M164,486h1.5v10h-1.5M164,496h1.5v8h-1.5M165.5,465h1.5v11h-1.5M165.5,476h1.5v10h-1.5M165.5,486h1.5v10h-1.5M167,445h1.5v10h-1.5M167,455h1.5v10h-1.5M167,465h1.5v11h-1.5M167,476h1.5v10h-1.5M167,486h1.5v10h-1.5M168.5,445h1.5v10h-1.5M168.5,486h1.5v10h-1.5M170,445h1.5v10h-1.5M170,455h1.5v10h-1.5M170,465h1.5v11h-1.5M170,486h1.5v10h-1.5M171.5,445h1.5v10h-1.5M171.5,465h1.5v11h-1.5M171.5,496h1.5v8h-1.5M173,445h1.5v10h-1.5M176,434h1.5v11h-1.5M176,445h1.5v10h-1.5M176,455h1.5v10h-1.5M177.5,428h1.5v6h-1.5M179,428h1.5v6h-1.5M179,445h1.5v10h-1.5M180.5,428h1.5v6h-1.5M180.5,434h1.5v11h-1.5M182,428h1.5v6h-1.5M182,434h1.5v11h-1.5M183.5,434h1.5v11h-1.5M185,455h1.5v10h-1.5M185,465h1.5v11h-1.5M185,476h1.5v10h-1.5M185,486h1.5v10h-1.5M185,496h1.5v8h-1.5M186.5,486h1.5v10h-1.5M186.5,496h1.5v8h-1.5M188,445h1.5v10h-1.5M188,455h1.5v10h-1.5M188,476h1.5v10h-1.5M188,486h1.5v10h-1.5M188,496h1.5v8h-1.5M198.5,496h1.5v8h-1.5M200,496h1.5v8h-1.5M204.5,496h1.5v8h-1.5M207.5,496h1.5v8h-1.5M210.5,496h1.5v8h-1.5M224,496h1.5v8h-1.5M225.5,496h1.5v8h-1.5M227,496h1.5v8h-1.5M245,496h1.5v8h-1.5M248,496h1.5v8h-1.5M260,496h1.5v8h-1.5M266,496h1.5v8h-1.5M269,496h1.5v8h-1.5M297.5,496h1.5v8h-1.5M303.5,496h1.5v8h-1.5M320,496h1.5v8h-1.5M321.5,496h1.5v8h-1.5M333.5,455h1.5v10h-1.5M333.5,465h1.5v11h-1.5M333.5,476h1.5v10h-1.5M335,476h1.5v10h-1.5M335,496h1.5v8h-1.5M336.5,455h1.5v10h-1.5M336.5,465h1.5v11h-1.5M336.5,476h1.5v10h-1.5M336.5,486h1.5v10h-1.5M338,486h1.5v10h-1.5M341,445h1.5v10h-1.5M341,455h1.5v10h-1.5M341,465h1.5v11h-1.5M341,496h1.5v8h-1.5M344,465h1.5v11h-1.5M344,476h1.5v10h-1.5M344,486h1.5v10h-1.5M344,496h1.5v8h-1.5M345.5,445h1.5v10h-1.5M345.5,455h1.5v10h-1.5M345.5,496h1.5v8h-1.5M347,445h1.5v10h-1.5M347,455h1.5v10h-1.5M348.5,445h1.5v10h-1.5M348.5,455h1.5v10h-1.5M348.5,465h1.5v11h-1.5M348.5,496h1.5v8h-1.5M389,434h1.5v11h-1.5M389,445h1.5v10h-1.5M389,455h1.5v10h-1.5M389,465h1.5v11h-1.5M389,476h1.5v10h-1.5M402.5,486h1.5v10h-1.5M402.5,496h1.5v8h-1.5M404,455h1.5v10h-1.5M404,465h1.5v11h-1.5M405.5,476h1.5v10h-1.5M405.5,486h1.5v10h-1.5M405.5,496h1.5v8h-1.5M407,445h1.5v10h-1.5M407,455h1.5v10h-1.5M407,465h1.5v11h-1.5M407,486h1.5v10h-1.5M408.5,465h1.5v11h-1.5M408.5,476h1.5v10h-1.5M408.5,496h1.5v8h-1.5M411.5,434h1.5v11h-1.5M411.5,445h1.5v10h-1.5M413,445h1.5v10h-1.5M416,455h1.5v10h-1.5M417.5,455h1.5v10h-1.5M417.5,465h1.5v11h-1.5M419,445h1.5v10h-1.5M422,445h1.5v10h-1.5M423.5,445h1.5v10h-1.5M425,445h1.5v10h-1.5M426.5,434h1.5v11h-1.5M426.5,455h1.5v10h-1.5M428,434h1.5v11h-1.5M429.5,455h1.5v10h-1.5M431,434h1.5v11h-1.5M477.5,496h1.5v8h-1.5M480.5,496h1.5v8h-1.5M494,455h1.5v10h-1.5M494,476h1.5v10h-1.5M494,486h1.5v10h-1.5M495.5,455h1.5v10h-1.5M495.5,476h1.5v10h-1.5M495.5,486h1.5v10h-1.5M495.5,496h1.5v8h-1.5M497,434h1.5v11h-1.5M497,445h1.5v10h-1.5M498.5,455h1.5v10h-1.5M498.5,476h1.5v10h-1.5M498.5,496h1.5v8h-1.5M500,465h1.5v11h-1.5M500,486h1.5v10h-1.5M500,496h1.5v8h-1.5M501.5,465h1.5v11h-1.5M501.5,476h1.5v10h-1.5M503,465h1.5v11h-1.5M503,476h1.5v10h-1.5M503,486h1.5v10h-1.5M503,496h1.5v8h-1.5M525.5,496h1.5v8h-1.5M530,496h1.5v8h-1.5M536,496h1.5v8h-1.5"/>
<path fill="#ff1700" d="M155,496h1.5v8h-1.5M158,496h1.5v8h-1.5M159.5,486h1.5v10h-1.5M161,486h1.5v10h-1.5M165.5,496h1.5v8h-1.5M167,496h1.5v8h-1.5M168.5,465h1.5v11h-1.5M168.5,476h1.5v10h-1.5M168.5,496h1.5v8h-1.5M170,476h1.5v10h-1.5M170,496h1.5v8h-1.5M171.5,476h1.5v10h-1.5M171.5,486h1.5v10h-1.5M173,455h1.5v10h-1.5M173,465h1.5v11h-1.5M173,486h1.5v10h-1.5M173,496h1.5v8h-1.5M174.5,455h1.5v10h-1.5M174.5,465h1.5v11h-1.5M174.5,496h1.5v8h-1.5M176,465h1.5v11h-1.5M176,476h1.5v10h-1.5M176,496h1.5v8h-1.5M177.5,434h1.5v11h-1.5M179,434h1.5v11h-1.5M180.5,445h1.5v10h-1.5M180.5,455h1.5v10h-1.5M182,445h1.5v10h-1.5M182,455h1.5v10h-1.5M183.5,445h1.5v10h-1.5M183.5,455h1.5v10h-1.5M218,496h1.5v8h-1.5M251,496h1.5v8h-1.5M302,496h1.5v8h-1.5M333.5,486h1.5v10h-1.5M333.5,496h1.5v8h-1.5M336.5,496h1.5v8h-1.5M338,496h1.5v8h-1.5M339.5,445h1.5v10h-1.5M339.5,455h1.5v10h-1.5M341,476h1.5v10h-1.5M341,486h1.5v10h-1.5M342.5,445h1.5v10h-1.5M345.5,476h1.5v10h-1.5M345.5,486h1.5v10h-1.5M347,465h1.5v11h-1.5M347,476h1.5v10h-1.5M347,486h1.5v10h-1.5M347,496h1.5v8h-1.5M348.5,476h1.5v10h-1.5M348.5,486h1.5v10h-1.5M389,486h1.5v10h-1.5M389,496h1.5v8h-1.5M402.5,476h1.5v10h-1.5M404,476h1.5v10h-1.5M404,486h1.5v10h-1.5M404,496h1.5v8h-1.5M407,476h1.5v10h-1.5M407,496h1.5v8h-1.5M411.5,455h1.5v10h-1.5M413,455h1.5v10h-1.5M413,465h1.5v11h-1.5M414.5,465h1.5v11h-1.5M414.5,476h1.5v10h-1.5M414.5,486h1.5v10h-1.5M414.5,496h1.5v8h-1.5M416,465h1.5v11h-1.5M416,496h1.5v8h-1.5M417.5,486h1.5v10h-1.5M417.5,496h1.5v8h-1.5M419,455h1.5v10h-1.5M420.5,465h1.5v11h-1.5M420.5,476h1.5v10h-1.5M420.5,486h1.5v10h-1.5M420.5,496h1.5v8h-1.5M422,455h1.5v10h-1.5M422,465h1.5v11h-1.5M425,455h1.5v10h-1.5M428,445h1.5v10h-1.5M428,455h1.5v10h-1.5M429.5,465h1.5v11h-1.5M429.5,476h1.5v10h-1.5M431,445h1.5v10h-1.5M483.5,496h1.5v8h-1.5M494,465h1.5v11h-1.5M495.5,465h1.5v11h-1.5M497,465h1.5v11h-1.5M497,496h1.5v8h-1.5M498.5,465h1.5v11h-1.5M498.5,486h1.5v10h-1.5M506,455h1.5v10h-1.5M506,465h1.5v11h-1.5M506,476h1.5v10h-1.5M506,486h1.5v10h-1.5M506,496h1.5v8h-1.5"/>
<path fill="#ff0000" d="M152,496h1.5v8h-1.5M159.5,496h1.5v8h-1.5M161,496h1.5v8h-1.5M173,476h1.5v10h-1.5M174.5,476h1.5v10h-1.5M174.5,486h1.5v10h-1.5M176,486h1.5v10h-1.5M177.5,445h1.5v10h-1.5M177.5,455h1.5v10h-1.5M177.5,465h1.5v11h-1.5M177.5,476h1.5v10h-1.5M177.5,486h1.5v10h-1.5M177.5,496h1.5v8h-1.5M179,455h1.5v10h-1.5M179,465h1.5v11h-1.5M179,476h1.5v10h-1.5M179,486h1.5v10h-1.5M179,496h1.5v8h-1.5M180.5,465h1.5v11h-1.5M180.5,476h1.5v10h-1.5M180.5,486h1.5v10h-1.5M180.5,496h1.5v8h-1.5M182,465h1.5v11h-1.5M182,476h1.5v10h-1.5M182,486h1.5v10h-1.5M182,496h1.5v8h-1.5M183.5,465h1.5v11h-1.5M183.5,476h1.5v10h-1.5M183.5,486h1.5v10h-1.5M183.5,496h1.5v8h-1.5M339.5,465h1.5v11h-1.5M339.5,476h1.5v10h-1.5M339.5,486h1.5v10h-1.5M339.5,496h1.5v8h-1.5M342.5,455h1.5v10h-1.5M342.5,465h1.5v11h-1.5M342.5,476h1.5v10h-1.5M342.5,486h1.5v10h-1.5M342.5,496h1.5v8h-1.5M345.5,465h1.5v11h-1.5M411.5,465h1.5v11h-1.5M411.5,476h1.5v10h-1.5M411.5,486h1.5v10h-1.5M411.5,496h1.5v8h-1.5M413,476h1.5v10h-1.5M413,486h1.5v10h-1.5M413,496h1.5v8h-1.5M416,476h1.5v10h-1.5M416,486h1.5v10h-1.5M417.5,476h1.5v10h-1.5M419,465h1.5v11h-1.5M419,476h1.5v10h-1.5M419,486h1.5v10h-1.5M419,496h1.5v8h-1.5M422,476h1.5v10h-1.5M422,486h1.5v10h-1.5M422,496h1.5v8h-1.5M423.5,455h1.5v10h-1.5M423.5,465h1.5v11h-1.5M423.5,476h1.5v10h-1.5M423.5,486h1.5v10h-1.5M423.5,496h1.5v8h-1.5M425,465h1.5v11h-1.5M425,476h1.5v10h-1.5M425,486h1.5v10h-1.5M425,496h1.5v8h-1.5M426.5,465h1.5v11h-1.5M426.5,476h1.5v10h-1.5M426.5,486h1.5v10h-1.5M426.5,496h1.5v8h-1.5M428,465h1.5v11h-1.5M428,476h1.5v10h-1.5M428,486h1.5v10h-1.5M428,496h1.5v8h-1.5M429.5,486h1.5v10h-1.5M429.5,496h1.5v8h-1.5M431,455h1.5v10h-1.5M431,465h1.5v11h-1.5M431,476h1.5v10h-1.5M431,486h1.5v10h-1.5M431,496h1.5v8h-1.5M497,455h1.5v10h-1.5M497,476h1.5v10h-1.5M497,486h1.5v10h-1.5"/>
</g>
<g>
<rect x="90.5" y="51.5" width="863" height="354" fill="none" stroke="#000" stroke-width="1" shape-rendering="crispEdges"/>
<rect x="90.5" y="427.5" width="863" height="77" fill="none" stroke="#000" stroke-width="1" shape-rendering="crispEdges"/>
<path d="M81,404.5L90,404.5" stroke="#000" stroke-width="1" fill="none" shape-rendering="crispEdges"/>
<path d="M86,375.5L90,375.5" stroke="#000" stroke-width="1" fill="none" shape-rendering="crispEdges"/>
<path d="M86,358.5L90,358.5" stroke="#000" stroke-width="1" fill="none" shape-rendering="crispEdges"/>
<path d="M86,346.5L90,346.5" stroke="#000" stroke-width="1" fill="none" shape-rendering="crispEdges"/>
<path d="M86,336.5L90,336.5" stroke="#000" stroke-width="1" fill="none" shape-rendering="crispEdges"/>
<path d="M86,328.5L90,328.5" stroke="#000" stroke-width="1" fill="none" shape-rendering="crispEdges"/>
<path d="M86,322.5L90,322.5" stroke="#000" stroke-width="1" fill="none" shape-rendering="crispEdges"/>
<path d="M86,316.5L90,316.5" stroke="#000" stroke-width="1" fill="none" shape-rendering="crispEdges"/>
<path d="M86,311.5L90,311.5" stroke="#000" stroke-width="1" fill="none" shape-rendering="crispEdges"/>
<path d="M81,307.5L90,307.5" stroke="#000" stroke-width="1" fill="none" shape-rendering="crispEdges"/>
<path d="M86,277.5L90,277.5" stroke="#000" stroke-width="1" fill="none" shape-rendering="crispEdges"/>
<path d="M86,260.5L90,260.5" stroke="#000" stroke-width="1" fill="none" shape-rendering="crispEdges"/>
<path d="M86,248.5L90,248.5" stroke="#000" stroke-width="1" fill="none" shape-rendering="crispEdges"/>
<path d="M86,238.5L90,238.5" stroke="#000" stroke-width="1" fill="none" shape-rendering="crispEdges"/>
<path d="M86,231.5L90,231.5" stroke="#000" stroke-width="1" fill="none" shape-rendering="crispEdges"/>
<path d="M86,224.5L90,224.5" stroke="#000" stroke-width="1" fill="none" shape-rendering="crispEdges"/>
<path d="M86,218.5L90,218.5" stroke="#000" stroke-width="1" fill="none" shape-rendering="crispEdges"/>
<path d="M86,213.5L90,213.5" stroke="#000" stroke-width="1" fill="none" shape-rendering="crispEdges"/>
<path d="M81,209.5L90,209.5" stroke="#000" stroke-width="1" fill="none" shape-rendering="crispEdges"/>
<path d="M86,180.5L90,180.5" stroke="#000" stroke-width="1" fill="none" shape-rendering="crispEdges"/>
<path d="M86,162.5L90,162.5" stroke="#000" stroke-width="1" fill="none" shape-rendering="crispEdges"/>
<path d="M86,150.5L90,150.5" stroke="#000" stroke-width="1" fill="none" shape-rendering="crispEdges"/>
<path d="M86,141.5L90,141.5" stroke="#000" stroke-width="1" fill="none" shape-rendering="crispEdges"/>
<path d="M86,133.5L90,133.5" stroke="#000" stroke-width="1" fill="none" shape-rendering="crispEdges"/>
<path d="M86,126.5L90,126.5" stroke="#000" stroke-width="1" fill="none" shape-rendering="crispEdges"/>
<path d="M86,121.5L90,121.5" stroke="#000" stroke-width="1" fill="none" shape-rendering="crispEdges"/>
<path d="M86,116.5L90,116.5" stroke="#000" stroke-width="1" fill="none" shape-rendering="crispEdges"/>
<path d="M81,111.5L90,111.5" stroke="#000" stroke-width="1" fill="none" shape-rendering="crispEdges"/>
<path d="M86,82.5L90,82.5" stroke="#000" stroke-width="1" fill="none" shape-rendering="crispEdges"/>
<path d="M86,65.5L90,65.5" stroke="#000" stroke-width="1" fill="none" shape-rendering="crispEdges"/>
<path d="M86,52.5L90,52.5" stroke="#000" stroke-width="1" fill="none" shape-rendering="crispEdges"/>
<path d="M86,499.5L90,499.5" stroke="#000" stroke-width="1" fill="none" shape-rendering="crispEdges"/>
<path d="M86,492.5L90,492.5" stroke="#000" stroke-width="1" fill="none" shape-rendering="crispEdges"/>
<path d="M86,487.5L90,487.5" stroke="#000" stroke-width="1" fill="none" shape-rendering="crispEdges"/>
<path d="M86,483.5L90,483.5" stroke="#000" stroke-width="1" fill="none" shape-rendering="crispEdges"/>
<path d="M86,479.5L90,479.5" stroke="#000" stroke-width="1" fill="none" shape-rendering="crispEdges"/>
<path d="M86,477.5L90,477.5" stroke="#000" stroke-width="1" fill="none" shape-rendering="crispEdges"/>
<path d="M86,474.5L90,474.5" stroke="#000" stroke-width="1" fill="none" shape-rendering="crispEdges"/>
<path d="M86,472.5L90,472.5" stroke="#000" stroke-width="1" fill="none" shape-rendering="crispEdges"/>
<path d="M81,470.5L90,470.5" stroke="#000" stroke-width="1" fill="none" shape-rendering="crispEdges"/>
<path d="M86,457.5L90,457.5" stroke="#000" stroke-width="1" fill="none" shape-rendering="crispEdges"/>
<path d="M86,450.5L90,450.5" stroke="#000" stroke-width="1" fill="none" shape-rendering="crispEdges"/>
<path d="M86,445.5L90,445.5" stroke="#000" stroke-width="1" fill="none" shape-rendering="crispEdges"/>
<path d="M86,441.5L90,441.5" stroke="#000" stroke-width="1" fill="none" shape-rendering="crispEdges"/>
<path d="M86,437.5L90,437.5" stroke="#000" stroke-width="1" fill="none" shape-rendering="crispEdges"/>
<path d="M86,434.5L90,434.5" stroke="#000" stroke-width="1" fill="none" shape-rendering="crispEdges"/>
<path d="M86,432.5L90,432.5" stroke="#000" stroke-width="1" fill="none" shape-rendering="crispEdges"/>
<path d="M86,430.5L90,430.5" stroke="#000" stroke-width="1" fill="none" shape-rendering="crispEdges"/>
<path d="M81,428.5L90,428.5" stroke="#000" stroke-width="1" fill="none" shape-rendering="crispEdges"/>
<path d="M113.5,504L113.5,509" stroke="#000" stroke-width="1" fill="none" shape-rendering="crispEdges"/>
<path d="M145.5,504L145.5,509" stroke="#000" stroke-width="1" fill="none" shape-rendering="crispEdges"/>
<path d="M176.5,504L176.5,509" stroke="#000" stroke-width="1" fill="none" shape-rendering="crispEdges"/>
<path d="M208.5,504L208.5,513" stroke="#000" stroke-width="1" fill="none" shape-rendering="crispEdges"/>
<path d="M239.5,504L239.5,509" stroke="#000" stroke-width="1" fill="none" shape-rendering="crispEdges"/>
<path d="M271.5,504L271.5,509" stroke="#000" stroke-width="1" fill="none" shape-rendering="crispEdges"/>
<path d="M302.5,504L302.5,509" stroke="#000" stroke-width="1" fill="none" shape-rendering="crispEdges"/>
<path d="M334.5,504L334.5,513" stroke="#000" stroke-width="1" fill="none" shape-rendering="crispEdges"/>
<path d="M365.5,504L365.5,509" stroke="#000" stroke-width="1" fill="none" shape-rendering="crispEdges"/>
<path d="M397.5,504L397.5,509" stroke="#000" stroke-width="1" fill="none" shape-rendering="crispEdges"/>
<path d="M428.5,504L428.5,509" stroke="#000" stroke-width="1" fill="none" shape-rendering="crispEdges"/>
<path d="M460.5,504L460.5,513" stroke="#000" stroke-width="1" fill="none" shape-rendering="crispEdges"/>
<path d="M491.5,504L491.5,509" stroke="#000" stroke-width="1" fill="none" shape-rendering="crispEdges"/>
<path d="M523.5,504L523.5,509" stroke="#000" stroke-width="1" fill="none" shape-rendering="crispEdges"/>
<path d="M554.5,504L554.5,509" stroke="#000" stroke-width="1" fill="none" shape-rendering="crispEdges"/>
<path d="M586.5,504L586.5,513" stroke="#000" stroke-width="1" fill="none" shape-rendering="crispEdges"/>
<path d="M617.5,504L617.5,509" stroke="#000" stroke-width="1" fill="none" shape-rendering="crispEdges"/>
<path d="M649.5,504L649.5,509" stroke="#000" stroke-width="1" fill="none" shape-rendering="crispEdges"/>
<path d="M680.5,504L680.5,509" stroke="#000" stroke-width="1" fill="none" shape-rendering="crispEdges"/>
<path d="M712.5,504L712.5,513" stroke="#000" stroke-width="1" fill="none" shape-rendering="crispEdges"/>
<path d="M743.5,504L743.5,509" stroke="#000" stroke-width="1" fill="none" shape-rendering="crispEdges"/>
<path d="M775.5,504L775.5,509" stroke="#000" stroke-width="1" fill="none" shape-rendering="crispEdges"/>
<path d="M806.5,504L806.5,509" stroke="#000" stroke-width="1" fill="none" shape-rendering="crispEdges"/>
<path d="M838.5,504L838.5,513" stroke="#000" stroke-width="1" fill="none" shape-rendering="crispEdges"/>
<path d="M869.5,504L869.5,509" stroke="#000" stroke-width="1" fill="none" shape-rendering="crispEdges"/>
<path d="M901.5,504L901.5,509" stroke="#000" stroke-width="1" fill="none" shape-rendering="crispEdges"/>
<path d="M932.5,504L932.5,509" stroke="#000" stroke-width="1" fill="none" shape-rendering="crispEdges"/>
</g>
<rect x="966" y="52" width="13" height="353.5" fill="url(#cb)"/>
<rect x="966" y="429" width="13" height="75.5" fill="url(#cb)"/>
<path d="M979.5,52L979.5,406" stroke="#000" stroke-width="1" fill="none" shape-rendering="crispEdges"/>
<path d="M979.5,428L979.5,505" stroke="#000" stroke-width="1" fill="none" shape-rendering="crispEdges"/>
<path d="M966,405.5L980,405.5" stroke="#000" stroke-width="1" fill="none" shape-rendering="crispEdges"/>
<path d="M979,52.5L989,52.5" stroke="#000" stroke-width="1" fill="none" shape-rendering="crispEdges"/>
<path d="M979,87.5L984,87.5" stroke="#000" stroke-width="1" fill="none" shape-rendering="crispEdges"/>
<path d="M979,122.5L989,122.5" stroke="#000" stroke-width="1" fill="none" shape-rendering="crispEdges"/>
<path d="M979,157.5L984,157.5" stroke="#000" stroke-width="1" fill="none" shape-rendering="crispEdges"/>
<path d="M979,193.5L989,193.5" stroke="#000" stroke-width="1" fill="none" shape-rendering="crispEdges"/>
<path d="M979,228.5L984,228.5" stroke="#000" stroke-width="1" fill="none" shape-rendering="crispEdges"/>
<path d="M979,263.5L989,263.5" stroke="#000" stroke-width="1" fill="none" shape-rendering="crispEdges"/>
<path d="M979,299.5L984,299.5" stroke="#000" stroke-width="1" fill="none" shape-rendering="crispEdges"/>
<path d="M979,334.5L989,334.5" stroke="#000" stroke-width="1" fill="none" shape-rendering="crispEdges"/>
<path d="M979,369.5L984,369.5" stroke="#000" stroke-width="1" fill="none" shape-rendering="crispEdges"/>
<path d="M979,404.5L989,404.5" stroke="#000" stroke-width="1" fill="none" shape-rendering="crispEdges"/>
<path d="M979,428.5L984,428.5" stroke="#000" stroke-width="1" fill="none" shape-rendering="crispEdges"/>
<path d="M979,435.5L984,435.5" stroke="#000" stroke-width="1" fill="none" shape-rendering="crispEdges"/>
<path d="M979,443.5L984,443.5" stroke="#000" stroke-width="1" fill="none" shape-rendering="crispEdges"/>
<path d="M979,451.5L984,451.5" stroke="#000" stroke-width="1" fill="none" shape-rendering="crispEdges"/>
<path d="M979,458.5L989,458.5" stroke="#000" stroke-width="1" fill="none" shape-rendering="crispEdges"/>
<path d="M979,466.5L984,466.5" stroke="#000" stroke-width="1" fill="none" shape-rendering="crispEdges"/>
<path d="M979,473.5L984,473.5" stroke="#000" stroke-width="1" fill="none" shape-rendering="crispEdges"/>
<path d="M979,481.5L984,481.5" stroke="#000" stroke-width="1" fill="none" shape-rendering="crispEdges"/>
<path d="M979,489.5L984,489.5" stroke="#000" stroke-width="1" fill="none" shape-rendering="crispEdges"/>
<path d="M979,496.5L989,496.5" stroke="#000" stroke-width="1" fill="none" shape-rendering="crispEdges"/>
<path d="M979,504.5L984,504.5" stroke="#000" stroke-width="1" fill="none" shape-rendering="crispEdges"/>
<text x="521.3" y="30.5" font-size="13" text-anchor="middle" letter-spacing="0.068" xml:space="preserve">DE 1/PWI-SFC  Spin Plane E-Field Spectra, 200 meter antenna, 104 Hz to 409 kHz</text>
<text x="521.5" y="43.6" font-size="9" font-weight="bold" text-anchor="middle" letter-spacing="0.66">(Magenta Line: Fce in Hz)</text>
<text x="521.7" y="419" font-size="13" text-anchor="middle" letter-spacing="0.043" xml:space="preserve">DE 1/PWI-LFC  Spin Plane E-Field Spectra, 200 meter antenna, 1.78 Hz to 100 Hz</text>
<text x="76.6" y="412.3" font-size="13" text-anchor="end">10<tspan dx="-0.6" dy="-6" font-size="12.5">2</tspan></text>
<text x="76.6" y="314.5627233881997" font-size="13" text-anchor="end">10<tspan dx="-0.6" dy="-6" font-size="12.5">3</tspan></text>
<text x="76.6" y="216.82544677639942" font-size="13" text-anchor="end">10<tspan dx="-0.6" dy="-6" font-size="12.5">4</tspan></text>
<text x="76.6" y="119.08817016459913" font-size="13" text-anchor="end">10<tspan dx="-0.6" dy="-6" font-size="12.5">5</tspan></text>
<text x="76.6" y="435.0" font-size="13" text-anchor="end">10<tspan dx="-0.6" dy="-6" font-size="12.5">2</tspan></text>
<text x="76.6" y="477.4" font-size="13" text-anchor="end">10<tspan dx="-0.6" dy="-6" font-size="12.5">1</tspan></text>
<text transform="translate(46.7,228.4) rotate(-90)" font-size="13" text-anchor="middle">Frequency (Hz)</text>
<text transform="translate(46.7,466) rotate(-90)" font-size="13" text-anchor="middle">Freq (Hz)</text>
<text x="991.6" y="59.3" font-size="13">10<tspan dx="-0.4" dy="-6" font-size="12.5">-6</tspan></text>
<text x="991.6" y="129.9" font-size="13">10<tspan dx="-0.4" dy="-6" font-size="12.5">-8</tspan></text>
<text x="991.6" y="200.5" font-size="13">10<tspan dx="-0.4" dy="-6" font-size="12.5">-10</tspan></text>
<text x="991.6" y="271.09999999999997" font-size="13">10<tspan dx="-0.4" dy="-6" font-size="12.5">-12</tspan></text>
<text x="991.6" y="341.7" font-size="13">10<tspan dx="-0.4" dy="-6" font-size="12.5">-14</tspan></text>
<text x="991.6" y="412.3" font-size="13">10<tspan dx="-0.4" dy="-6" font-size="12.5">-16</tspan></text>
<text x="991.6" y="465.96000000000004" font-size="13">10<tspan dx="-0.4" dy="-6" font-size="12.5">-10</tspan></text>
<text x="991.6" y="503.91" font-size="13">10<tspan dx="-0.4" dy="-6" font-size="12.5">-15</tspan></text>
<text transform="translate(1049.2,228.5) rotate(-90)" font-size="13" text-anchor="middle">Ex (V<tspan dy="-6" font-size="12.5">2</tspan><tspan dy="6"> m</tspan><tspan dy="-6" font-size="12.5">-2</tspan><tspan dy="6"> Hz</tspan><tspan dy="-6" font-size="12.5">-1</tspan><tspan dy="6">)</tspan></text>
<text transform="translate(1041.7,466) rotate(-90)" font-size="13" text-anchor="middle">LFC Ex</text>
<text x="224.2" y="529.8" font-size="13" text-anchor="end">06:00</text>
<text x="224.2" y="546" font-size="13" text-anchor="end">2.680</text>
<text x="224.2" y="562" font-size="13" text-anchor="end">48.342</text>
<text x="224.2" y="577.8" font-size="13" text-anchor="end">17.823</text>
<text x="224.2" y="593.7" font-size="13" text-anchor="end">75.850</text>
<text x="350.2" y="529.8" font-size="13" text-anchor="end">07:00</text>
<text x="350.2" y="546" font-size="13" text-anchor="end">3.987</text>
<text x="350.2" y="562" font-size="13" text-anchor="end">33.232</text>
<text x="350.2" y="577.8" font-size="13" text-anchor="end">10.927</text>
<text x="350.2" y="593.7" font-size="13" text-anchor="end">69.740</text>
<text x="476.2" y="529.8" font-size="13" text-anchor="end">08:00</text>
<text x="476.2" y="546" font-size="13" text-anchor="end">4.579</text>
<text x="476.2" y="562" font-size="13" text-anchor="end">13.981</text>
<text x="476.2" y="577.8" font-size="13" text-anchor="end">9.855</text>
<text x="476.2" y="593.7" font-size="13" text-anchor="end">56.022</text>
<text x="602.2" y="529.8" font-size="13" text-anchor="end">09:00</text>
<text x="602.2" y="546" font-size="13" text-anchor="end">4.579</text>
<text x="602.2" y="562" font-size="13" text-anchor="end">8.382</text>
<text x="602.2" y="577.8" font-size="13" text-anchor="end">9.337</text>
<text x="602.2" y="593.7" font-size="13" text-anchor="end">43.707</text>
<text x="728.2" y="529.8" font-size="13" text-anchor="end">10:00</text>
<text x="854.2" y="529.8" font-size="13" text-anchor="end">11:00</text>
<text x="59.5" y="546" font-size="13" text-anchor="end">R<tspan dy="3" font-size="8">e</tspan></text>
<text x="59.5" y="562" font-size="13" text-anchor="end">L</text>
<text x="59.5" y="577.8" font-size="13" text-anchor="end">M<tspan dy="3" font-size="8">LT</tspan></text>
<text x="59.5" y="593.7" font-size="13" text-anchor="end">M<tspan dy="3" font-size="8">LAT</tspan></text>
<text x="521.3" y="610.8" font-size="13" text-anchor="middle">1984-04-20 (111) 5:04 to 11:55</text>
</svg></body></html>
